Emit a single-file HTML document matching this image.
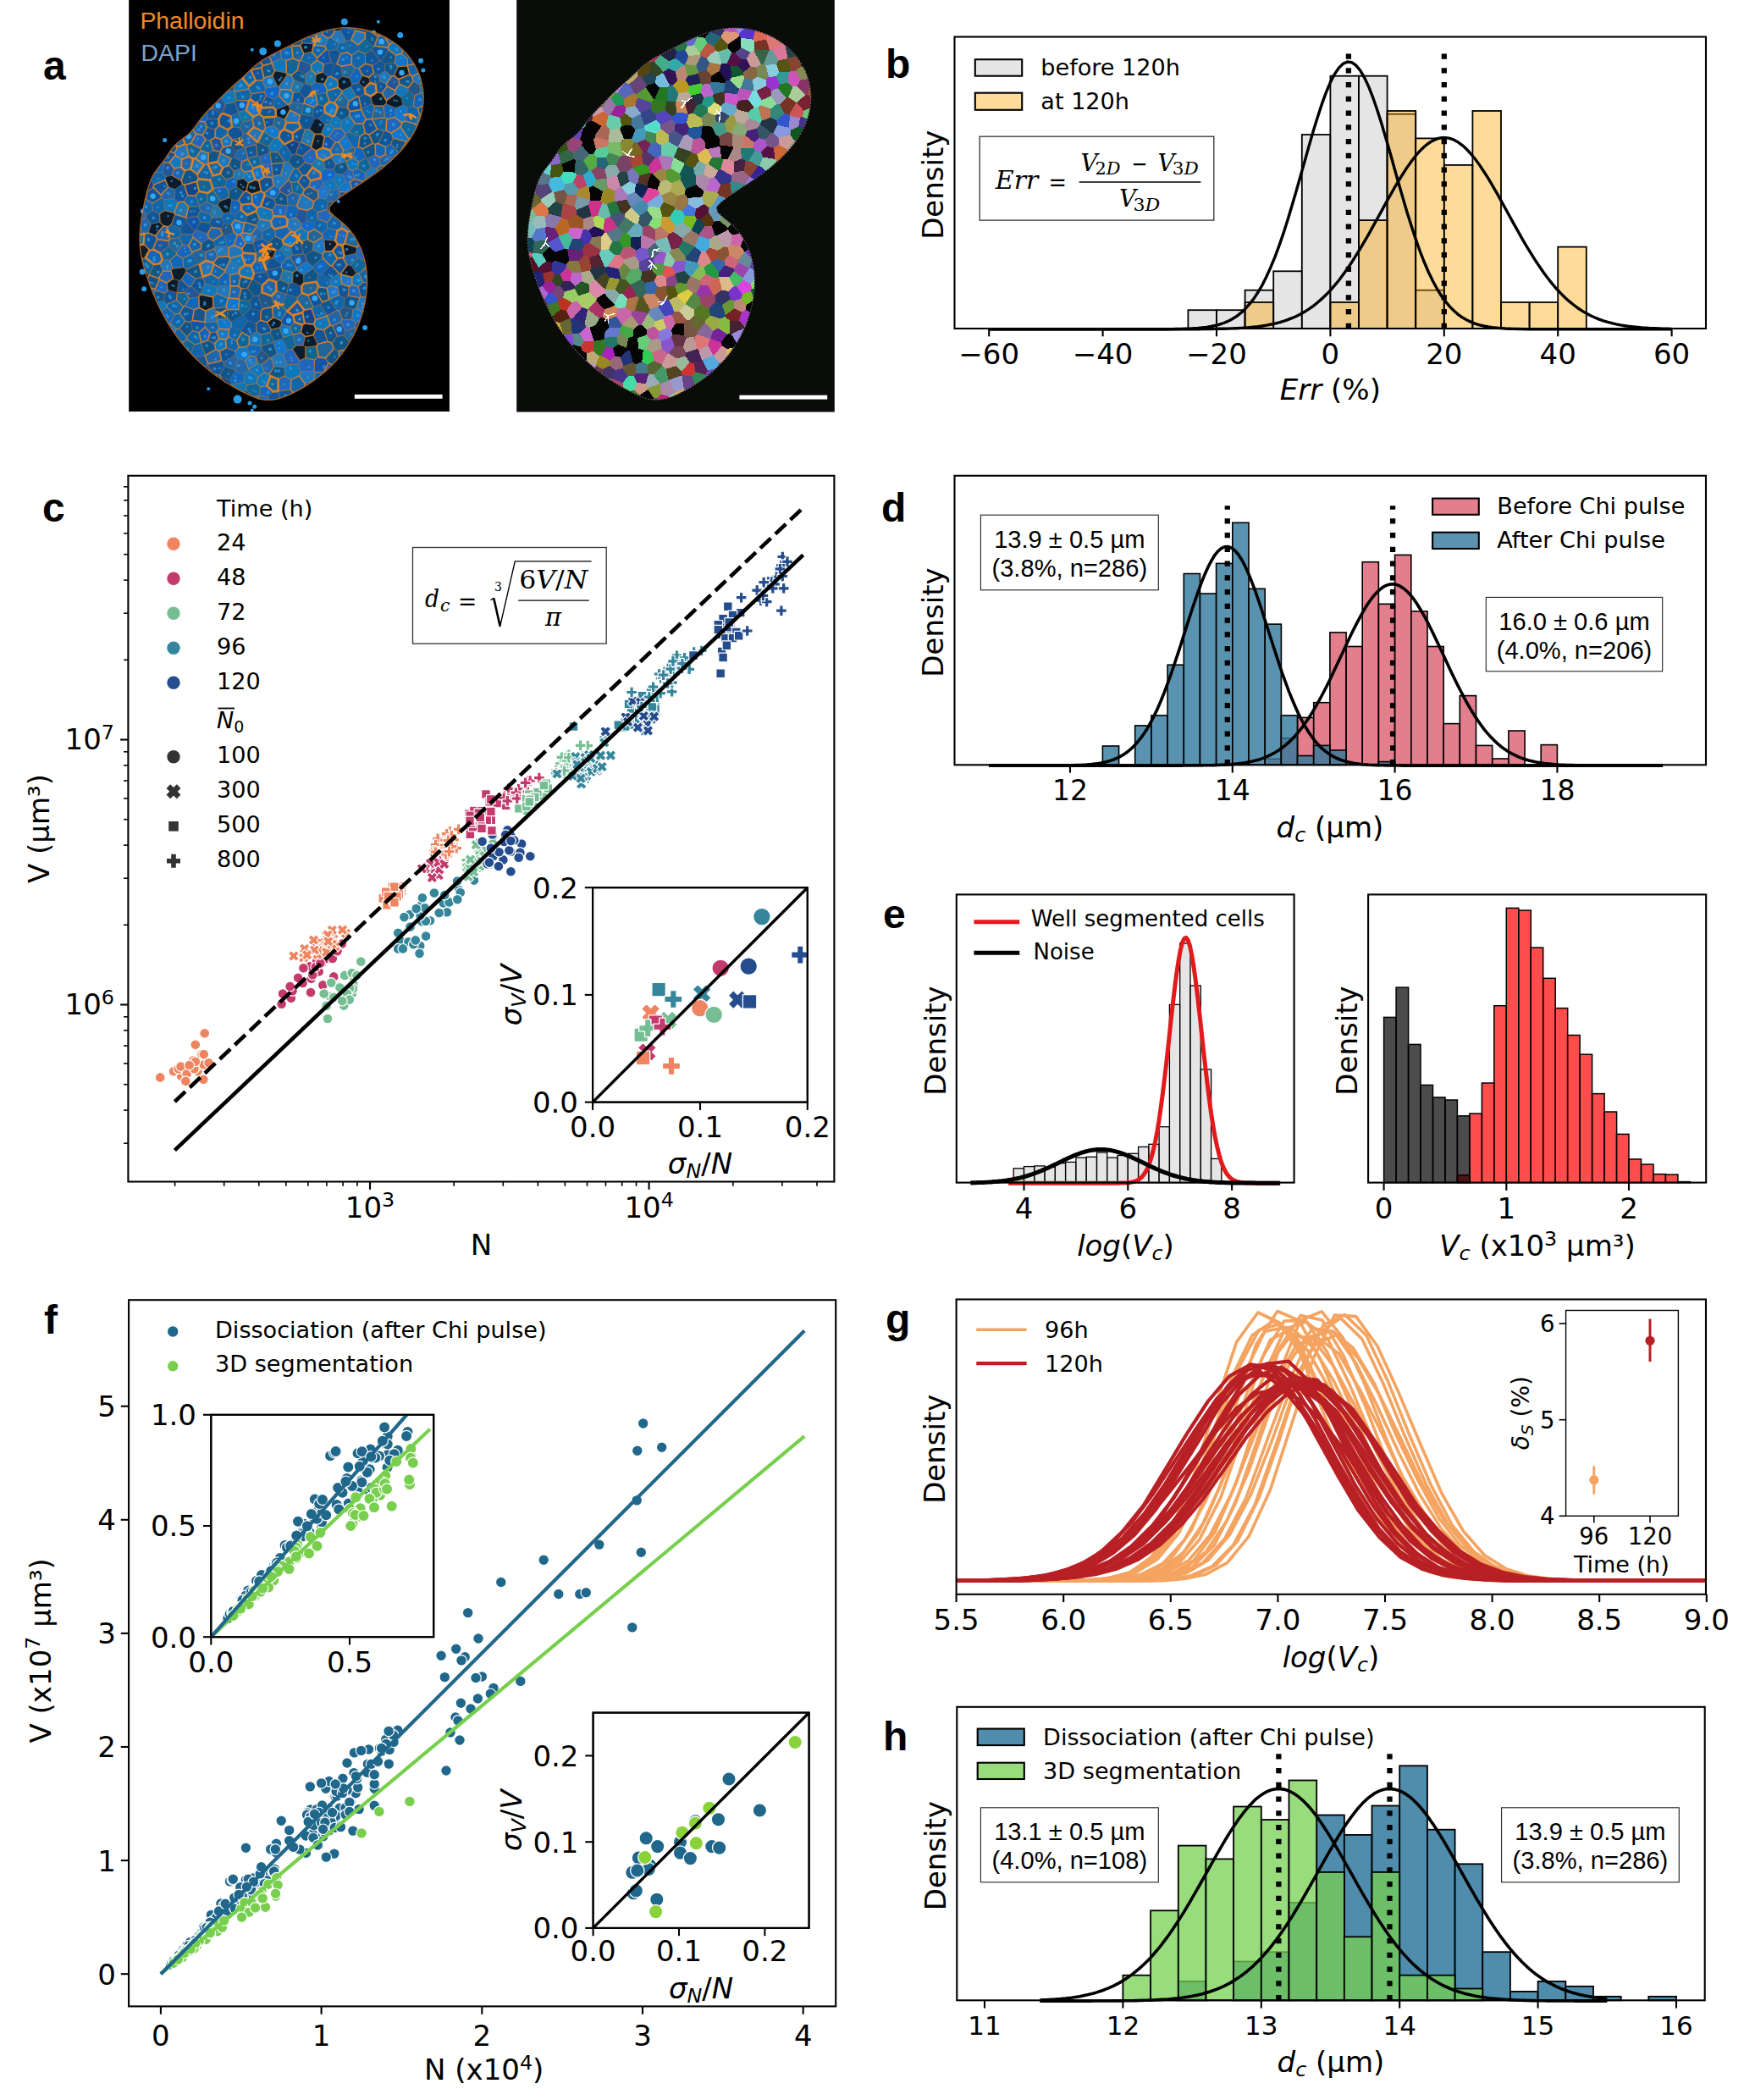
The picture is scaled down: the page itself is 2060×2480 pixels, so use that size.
<!DOCTYPE html><html><head><meta charset="utf-8"><title>Figure</title><style>html,body{margin:0;padding:0;background:#fff}svg{display:block}</style></head><body>
<svg width="2060" height="2480" viewBox="0 0 2060 2480">
<rect width="2060" height="2480" fill="#fff"/>
<g id="pb">
<rect x="1403.4" y="366.2" width="33.6" height="21.8" fill="rgba(211,211,211,0.6)" stroke="#000" stroke-width="1.8"/>
<rect x="1437" y="366.2" width="33.6" height="21.8" fill="rgba(211,211,211,0.6)" stroke="#000" stroke-width="1.8"/>
<rect x="1470.6" y="342.7" width="33.6" height="45.3" fill="rgba(211,211,211,0.6)" stroke="#000" stroke-width="1.8"/>
<rect x="1504.2" y="320.3" width="33.6" height="67.7" fill="rgba(211,211,211,0.6)" stroke="#000" stroke-width="1.8"/>
<rect x="1537.8" y="159" width="33.6" height="229" fill="rgba(211,211,211,0.6)" stroke="#000" stroke-width="1.8"/>
<rect x="1571.4" y="89.7" width="33.6" height="298.3" fill="rgba(211,211,211,0.6)" stroke="#000" stroke-width="1.8"/>
<rect x="1605" y="89.7" width="33.6" height="298.3" fill="rgba(211,211,211,0.6)" stroke="#000" stroke-width="1.8"/>
<rect x="1638.6" y="134.7" width="33.6" height="253.3" fill="rgba(211,211,211,0.6)" stroke="#000" stroke-width="1.8"/>
<rect x="1672.2" y="342.7" width="33.6" height="45.3" fill="rgba(211,211,211,0.6)" stroke="#000" stroke-width="1.8"/>
<rect x="1470.6" y="357" width="33.6" height="31" fill="rgba(255,165,0,0.4)" stroke="#000" stroke-width="1.8"/>
<rect x="1571.4" y="357" width="33.6" height="31" fill="rgba(255,165,0,0.4)" stroke="#000" stroke-width="1.8"/>
<rect x="1605" y="260.1" width="33.6" height="127.9" fill="rgba(255,165,0,0.4)" stroke="#000" stroke-width="1.8"/>
<rect x="1638.6" y="131" width="33.6" height="257" fill="rgba(255,165,0,0.4)" stroke="#000" stroke-width="1.8"/>
<rect x="1672.2" y="163.4" width="33.6" height="224.6" fill="rgba(255,165,0,0.4)" stroke="#000" stroke-width="1.8"/>
<rect x="1705.8" y="194.9" width="33.6" height="193.1" fill="rgba(255,165,0,0.4)" stroke="#000" stroke-width="1.8"/>
<rect x="1739.4" y="131" width="33.6" height="257" fill="rgba(255,165,0,0.4)" stroke="#000" stroke-width="1.8"/>
<rect x="1773" y="357" width="33.6" height="31" fill="rgba(255,165,0,0.4)" stroke="#000" stroke-width="1.8"/>
<rect x="1806.6" y="357" width="33.6" height="31" fill="rgba(255,165,0,0.4)" stroke="#000" stroke-width="1.8"/>
<rect x="1840.2" y="291.6" width="33.6" height="96.4" fill="rgba(255,165,0,0.4)" stroke="#000" stroke-width="1.8"/>
<path d="M1168.2 388.8 L1173.2 388.8 L1178.3 388.8 L1183.3 388.8 L1188.4 388.8 L1193.4 388.8 L1198.4 388.8 L1203.5 388.8 L1208.5 388.8 L1213.6 388.8 L1218.6 388.8 L1223.6 388.8 L1228.7 388.8 L1233.7 388.8 L1238.8 388.8 L1243.8 388.8 L1248.8 388.8 L1253.9 388.8 L1258.9 388.8 L1264 388.8 L1269 388.8 L1274 388.8 L1279.1 388.8 L1284.1 388.8 L1289.2 388.8 L1294.2 388.8 L1299.2 388.8 L1304.3 388.8 L1309.3 388.8 L1314.4 388.8 L1319.4 388.8 L1324.4 388.8 L1329.5 388.8 L1334.5 388.8 L1339.6 388.8 L1344.6 388.8 L1349.6 388.8 L1354.7 388.8 L1359.7 388.8 L1364.8 388.8 L1369.8 388.7 L1374.8 388.7 L1379.9 388.7 L1384.9 388.6 L1390 388.5 L1395 388.4 L1400 388.3 L1405.1 388.1 L1410.1 387.8 L1415.2 387.5 L1420.2 387 L1425.2 386.4 L1430.3 385.5 L1435.3 384.5 L1440.4 383.2 L1445.4 381.5 L1450.4 379.4 L1455.5 376.8 L1460.5 373.6 L1465.6 369.7 L1470.6 365.1 L1475.6 359.5 L1480.7 353.1 L1485.7 345.5 L1490.8 336.9 L1495.8 327 L1500.8 315.9 L1505.9 303.6 L1510.9 290.1 L1516 275.4 L1521 259.7 L1526 243.1 L1531.1 225.8 L1536.1 208 L1541.2 190.1 L1546.2 172.3 L1551.2 154.9 L1556.3 138.4 L1561.3 123.1 L1566.4 109.2 L1571.4 97.3 L1576.4 87.5 L1581.5 80.1 L1586.5 75.2 L1591.6 73.1 L1596.6 73.7 L1601.6 77.1 L1606.7 83.2 L1611.7 91.8 L1616.8 102.6 L1621.8 115.5 L1626.8 130 L1631.9 146 L1636.9 162.9 L1642 180.5 L1647 198.5 L1652 216.3 L1657.1 233.9 L1662.1 250.9 L1667.2 267.1 L1672.2 282.4 L1677.2 296.5 L1682.3 309.5 L1687.3 321.2 L1692.4 331.8 L1697.4 341 L1702.4 349.2 L1707.5 356.2 L1712.5 362.2 L1717.6 367.3 L1722.6 371.6 L1727.6 375.1 L1732.7 378 L1737.7 380.4 L1742.8 382.3 L1747.8 383.8 L1752.8 385 L1757.9 386 L1762.9 386.7 L1768 387.2 L1773 387.6 L1778 388 L1783.1 388.2 L1788.1 388.4 L1793.2 388.5 L1798.2 388.6 L1803.2 388.7 L1808.3 388.7 L1813.3 388.7 L1818.4 388.8 L1823.4 388.8 L1828.4 388.8 L1833.5 388.8 L1838.5 388.8 L1843.6 388.8 L1848.6 388.8 L1853.6 388.8 L1858.7 388.8 L1863.7 388.8 L1868.8 388.8 L1873.8 388.8 L1878.8 388.8 L1883.9 388.8 L1888.9 388.8 L1894 388.8 L1899 388.8 L1904 388.8 L1909.1 388.8 L1914.1 388.8 L1919.2 388.8 L1924.2 388.8 L1929.2 388.8 L1934.3 388.8 L1939.3 388.8 L1944.4 388.8 L1949.4 388.8 L1954.4 388.8 L1959.5 388.8 L1964.5 388.8 L1969.6 388.8 L1974.6 388.8" fill="none" stroke="#000" stroke-width="3.4"/>
<path d="M1168.2 388.8 L1173.2 388.8 L1178.3 388.8 L1183.3 388.8 L1188.4 388.8 L1193.4 388.8 L1198.4 388.8 L1203.5 388.8 L1208.5 388.8 L1213.6 388.8 L1218.6 388.8 L1223.6 388.8 L1228.7 388.8 L1233.7 388.8 L1238.8 388.8 L1243.8 388.8 L1248.8 388.8 L1253.9 388.8 L1258.9 388.8 L1264 388.8 L1269 388.8 L1274 388.8 L1279.1 388.8 L1284.1 388.8 L1289.2 388.8 L1294.2 388.8 L1299.2 388.8 L1304.3 388.8 L1309.3 388.8 L1314.4 388.8 L1319.4 388.8 L1324.4 388.8 L1329.5 388.8 L1334.5 388.8 L1339.6 388.8 L1344.6 388.8 L1349.6 388.8 L1354.7 388.8 L1359.7 388.8 L1364.8 388.8 L1369.8 388.8 L1374.8 388.8 L1379.9 388.8 L1384.9 388.8 L1390 388.8 L1395 388.8 L1400 388.7 L1405.1 388.7 L1410.1 388.7 L1415.2 388.7 L1420.2 388.6 L1425.2 388.6 L1430.3 388.5 L1435.3 388.4 L1440.4 388.3 L1445.4 388.2 L1450.4 388.1 L1455.5 387.9 L1460.5 387.7 L1465.6 387.4 L1470.6 387.1 L1475.6 386.7 L1480.7 386.2 L1485.7 385.7 L1490.8 385 L1495.8 384.2 L1500.8 383.2 L1505.9 382.2 L1510.9 380.9 L1516 379.4 L1521 377.7 L1526 375.7 L1531.1 373.5 L1536.1 371 L1541.2 368.1 L1546.2 364.9 L1551.2 361.3 L1556.3 357.3 L1561.3 352.9 L1566.4 348.1 L1571.4 342.9 L1576.4 337.1 L1581.5 331 L1586.5 324.3 L1591.6 317.3 L1596.6 309.8 L1601.6 301.9 L1606.7 293.7 L1611.7 285.2 L1616.8 276.4 L1621.8 267.4 L1626.8 258.3 L1631.9 249.1 L1636.9 239.9 L1642 230.9 L1647 222 L1652 213.5 L1657.1 205.3 L1662.1 197.6 L1667.2 190.4 L1672.2 184 L1677.2 178.2 L1682.3 173.3 L1687.3 169.2 L1692.4 166.1 L1697.4 163.9 L1702.4 162.7 L1707.5 162.6 L1712.5 163.4 L1717.6 165.2 L1722.6 168.1 L1727.6 171.8 L1732.7 176.5 L1737.7 182 L1742.8 188.2 L1747.8 195.1 L1752.8 202.7 L1757.9 210.7 L1762.9 219.1 L1768 227.9 L1773 236.9 L1778 246 L1783.1 255.2 L1788.1 264.4 L1793.2 273.4 L1798.2 282.3 L1803.2 290.9 L1808.3 299.2 L1813.3 307.2 L1818.4 314.8 L1823.4 322 L1828.4 328.8 L1833.5 335.1 L1838.5 341 L1843.6 346.4 L1848.6 351.4 L1853.6 355.9 L1858.7 360 L1863.7 363.8 L1868.8 367.1 L1873.8 370.1 L1878.8 372.7 L1883.9 375 L1888.9 377.1 L1894 378.9 L1899 380.4 L1904 381.7 L1909.1 382.9 L1914.1 383.9 L1919.2 384.7 L1924.2 385.4 L1929.2 386 L1934.3 386.5 L1939.3 387 L1944.4 387.3 L1949.4 387.6 L1954.4 387.8 L1959.5 388 L1964.5 388.2 L1969.6 388.3 L1974.6 388.4" fill="none" stroke="#000" stroke-width="3.4"/>
<line x1="1592.9" y1="388" x2="1592.9" y2="61" stroke="#000" stroke-width="6.3" stroke-dasharray="6.3 10.45"/>
<line x1="1705.8" y1="388" x2="1705.8" y2="61" stroke="#000" stroke-width="6.3" stroke-dasharray="6.3 10.45"/>
<rect x="1127.5" y="43.5" width="887.5" height="344.5" fill="none" stroke="#000" stroke-width="2.1"/>
<line x1="1168.2" y1="388" x2="1168.2" y2="397.3" stroke="#000" stroke-width="2.1"/>
<text x="1168.2" y="430" font-size="34" text-anchor="middle" font-family="'DejaVu Sans', 'Liberation Sans', sans-serif">−60</text>
<line x1="1302.6" y1="388" x2="1302.6" y2="397.3" stroke="#000" stroke-width="2.1"/>
<text x="1302.6" y="430" font-size="34" text-anchor="middle" font-family="'DejaVu Sans', 'Liberation Sans', sans-serif">−40</text>
<line x1="1437" y1="388" x2="1437" y2="397.3" stroke="#000" stroke-width="2.1"/>
<text x="1437" y="430" font-size="34" text-anchor="middle" font-family="'DejaVu Sans', 'Liberation Sans', sans-serif">−20</text>
<line x1="1571.4" y1="388" x2="1571.4" y2="397.3" stroke="#000" stroke-width="2.1"/>
<text x="1571.4" y="430" font-size="34" text-anchor="middle" font-family="'DejaVu Sans', 'Liberation Sans', sans-serif">0</text>
<line x1="1705.8" y1="388" x2="1705.8" y2="397.3" stroke="#000" stroke-width="2.1"/>
<text x="1705.8" y="430" font-size="34" text-anchor="middle" font-family="'DejaVu Sans', 'Liberation Sans', sans-serif">20</text>
<line x1="1840.2" y1="388" x2="1840.2" y2="397.3" stroke="#000" stroke-width="2.1"/>
<text x="1840.2" y="430" font-size="34" text-anchor="middle" font-family="'DejaVu Sans', 'Liberation Sans', sans-serif">40</text>
<line x1="1974.6" y1="388" x2="1974.6" y2="397.3" stroke="#000" stroke-width="2.1"/>
<text x="1974.6" y="430" font-size="34" text-anchor="middle" font-family="'DejaVu Sans', 'Liberation Sans', sans-serif">60</text>
<text x="1571.4" y="472.1" font-size="34" text-anchor="middle" font-family="'DejaVu Sans', 'Liberation Sans', sans-serif"><tspan font-style="italic">Err</tspan> (%)</text>
<text x="1114.4" y="218.2" font-size="34" text-anchor="middle" font-family="'DejaVu Sans', 'Liberation Sans', sans-serif" transform="rotate(-90 1114.4 218.2)">Density</text>
<rect x="1151.8" y="70.2" width="55.4" height="19.5" fill="rgba(211,211,211,0.6)" stroke="#000" stroke-width="2.1"/>
<rect x="1151.8" y="109.7" width="55.4" height="20.1" fill="rgba(255,165,0,0.4)" stroke="#000" stroke-width="2.1"/>
<text x="1229.3" y="88.8" font-size="27.1" text-anchor="start" font-family="'DejaVu Sans', 'Liberation Sans', sans-serif">before 120h</text>
<text x="1229.3" y="129.2" font-size="27.1" text-anchor="start" font-family="'DejaVu Sans', 'Liberation Sans', sans-serif">at 120h</text>
<rect x="1157.2" y="161.2" width="276.6" height="98.9" fill="#fff" stroke="#333" stroke-width="1.3"/>
<text x="1175.8" y="223.1" font-size="29.5" text-anchor="start" font-family="'DejaVu Serif', 'Liberation Serif', serif" font-style="italic" textLength="50.7" lengthAdjust="spacingAndGlyphs">Err</text>
<text x="1238.6" y="224.5" font-size="30" text-anchor="start" font-family="'DejaVu Serif', 'Liberation Serif', serif" textLength="21.5" lengthAdjust="spacingAndGlyphs">=</text>
<line x1="1274.7" y1="215" x2="1418.4" y2="215" stroke="#000" stroke-width="1.4"/>
<text x="1276.4" y="201.6" font-size="28.5" text-anchor="start" font-family="'DejaVu Serif', 'Liberation Serif', serif" font-style="italic" textLength="20" lengthAdjust="spacingAndGlyphs">V</text>
<text x="1293.6" y="205.9" font-size="19.5" text-anchor="start" font-family="'DejaVu Serif', 'Liberation Serif', serif" textLength="30" lengthAdjust="spacingAndGlyphs">2<tspan font-style="italic">D</tspan></text>
<text x="1336.6" y="202.5" font-size="28" text-anchor="start" font-family="'DejaVu Serif', 'Liberation Serif', serif" textLength="19" lengthAdjust="spacingAndGlyphs">−</text>
<text x="1367.6" y="201.6" font-size="28.5" text-anchor="start" font-family="'DejaVu Serif', 'Liberation Serif', serif" font-style="italic" textLength="20" lengthAdjust="spacingAndGlyphs">V</text>
<text x="1384.8" y="205.9" font-size="19.5" text-anchor="start" font-family="'DejaVu Serif', 'Liberation Serif', serif" textLength="31" lengthAdjust="spacingAndGlyphs">3<tspan font-style="italic">D</tspan></text>
<text x="1322" y="244.3" font-size="28.5" text-anchor="start" font-family="'DejaVu Serif', 'Liberation Serif', serif" font-style="italic" textLength="20" lengthAdjust="spacingAndGlyphs">V</text>
<text x="1338.4" y="248.9" font-size="19.5" text-anchor="start" font-family="'DejaVu Serif', 'Liberation Serif', serif" textLength="31.8" lengthAdjust="spacingAndGlyphs">3<tspan font-style="italic">D</tspan></text>
<text x="1046" y="91.7" font-size="48" text-anchor="start" font-family="'Liberation Sans', 'DejaVu Sans', sans-serif" font-weight="bold">b</text>
</g>
<g id="pd">
<rect x="1494.2" y="896.2" width="19.2" height="7.1" fill="rgba(220,94,112,0.8)" stroke="#000" stroke-width="1.6"/>
<rect x="1513.3" y="871.8" width="19.2" height="31.5" fill="rgba(220,94,112,0.8)" stroke="#000" stroke-width="1.6"/>
<rect x="1532.5" y="847.4" width="19.2" height="55.9" fill="rgba(220,94,112,0.8)" stroke="#000" stroke-width="1.6"/>
<rect x="1551.7" y="829.7" width="19.2" height="73.6" fill="rgba(220,94,112,0.8)" stroke="#000" stroke-width="1.6"/>
<rect x="1570.9" y="746.9" width="19.2" height="156.4" fill="rgba(220,94,112,0.8)" stroke="#000" stroke-width="1.6"/>
<rect x="1590.1" y="763.5" width="19.2" height="139.8" fill="rgba(220,94,112,0.8)" stroke="#000" stroke-width="1.6"/>
<rect x="1609.2" y="663.7" width="19.2" height="239.6" fill="rgba(220,94,112,0.8)" stroke="#000" stroke-width="1.6"/>
<rect x="1628.4" y="713.3" width="19.2" height="190" fill="rgba(220,94,112,0.8)" stroke="#000" stroke-width="1.6"/>
<rect x="1647.6" y="655.4" width="19.2" height="247.9" fill="rgba(220,94,112,0.8)" stroke="#000" stroke-width="1.6"/>
<rect x="1666.8" y="721.9" width="19.2" height="181.4" fill="rgba(220,94,112,0.8)" stroke="#000" stroke-width="1.6"/>
<rect x="1686" y="763.5" width="19.2" height="139.8" fill="rgba(220,94,112,0.8)" stroke="#000" stroke-width="1.6"/>
<rect x="1705.1" y="854.6" width="19.2" height="48.7" fill="rgba(220,94,112,0.8)" stroke="#000" stroke-width="1.6"/>
<rect x="1724.3" y="821.6" width="19.2" height="81.7" fill="rgba(220,94,112,0.8)" stroke="#000" stroke-width="1.6"/>
<rect x="1743.5" y="880.4" width="19.2" height="22.9" fill="rgba(220,94,112,0.8)" stroke="#000" stroke-width="1.6"/>
<rect x="1762.7" y="896" width="19.2" height="7.3" fill="rgba(220,94,112,0.8)" stroke="#000" stroke-width="1.6"/>
<rect x="1781.9" y="863" width="19.2" height="40.3" fill="rgba(220,94,112,0.8)" stroke="#000" stroke-width="1.6"/>
<rect x="1820.2" y="879.6" width="19.2" height="23.7" fill="rgba(220,94,112,0.8)" stroke="#000" stroke-width="1.6"/>
<rect x="1302.4" y="881" width="19.2" height="22.3" fill="rgba(49,120,156,0.8)" stroke="#000" stroke-width="1.6"/>
<rect x="1340.7" y="856.9" width="19.2" height="46.4" fill="rgba(49,120,156,0.8)" stroke="#000" stroke-width="1.6"/>
<rect x="1359.9" y="844.9" width="19.2" height="58.4" fill="rgba(49,120,156,0.8)" stroke="#000" stroke-width="1.6"/>
<rect x="1379.1" y="785.2" width="19.2" height="118.1" fill="rgba(49,120,156,0.8)" stroke="#000" stroke-width="1.6"/>
<rect x="1398.3" y="677.5" width="19.2" height="225.8" fill="rgba(49,120,156,0.8)" stroke="#000" stroke-width="1.6"/>
<rect x="1417.4" y="701" width="19.2" height="202.3" fill="rgba(49,120,156,0.8)" stroke="#000" stroke-width="1.6"/>
<rect x="1436.6" y="665.4" width="19.2" height="237.9" fill="rgba(49,120,156,0.8)" stroke="#000" stroke-width="1.6"/>
<rect x="1455.8" y="617.3" width="19.2" height="286" fill="rgba(49,120,156,0.8)" stroke="#000" stroke-width="1.6"/>
<rect x="1475" y="695.3" width="19.2" height="208" fill="rgba(49,120,156,0.8)" stroke="#000" stroke-width="1.6"/>
<rect x="1494.2" y="737.1" width="19.2" height="166.2" fill="rgba(49,120,156,0.8)" stroke="#000" stroke-width="1.6"/>
<rect x="1513.3" y="844.9" width="19.2" height="58.4" fill="rgba(49,120,156,0.8)" stroke="#000" stroke-width="1.6"/>
<rect x="1532.5" y="892.5" width="19.2" height="10.8" fill="rgba(49,120,156,0.8)" stroke="#000" stroke-width="1.6"/>
<rect x="1551.7" y="880.4" width="19.2" height="22.9" fill="rgba(49,120,156,0.8)" stroke="#000" stroke-width="1.6"/>
<rect x="1570.9" y="886" width="19.2" height="17.3" fill="rgba(49,120,156,0.8)" stroke="#000" stroke-width="1.6"/>
<rect x="1628.4" y="899.6" width="19.2" height="3.7" fill="rgba(49,120,156,0.8)" stroke="#000" stroke-width="1.6"/>
<path d="M1168.1 904.1 L1172.1 904.1 L1176.1 904.1 L1180 904.1 L1184 904.1 L1188 904.1 L1192 904.1 L1196 904.1 L1199.9 904.1 L1203.9 904.1 L1207.9 904.1 L1211.9 904.1 L1215.9 904.1 L1219.8 904.1 L1223.8 904.1 L1227.8 904.1 L1231.8 904.1 L1235.8 904.1 L1239.7 904.1 L1243.7 904 L1247.7 904 L1251.7 904 L1255.7 904 L1259.6 903.9 L1263.6 903.8 L1267.6 903.8 L1271.6 903.6 L1275.6 903.5 L1279.5 903.3 L1283.5 903.1 L1287.5 902.7 L1291.5 902.3 L1295.5 901.9 L1299.4 901.2 L1303.4 900.5 L1307.4 899.5 L1311.4 898.4 L1315.4 897 L1319.3 895.3 L1323.3 893.3 L1327.3 891 L1331.3 888.2 L1335.3 885 L1339.2 881.2 L1343.2 876.9 L1347.2 872 L1351.2 866.5 L1355.2 860.2 L1359.1 853.3 L1363.1 845.6 L1367.1 837.2 L1371.1 828 L1375.1 818.2 L1379 807.7 L1383 796.6 L1387 784.9 L1391 772.9 L1395 760.6 L1398.9 748.1 L1402.9 735.6 L1406.9 723.2 L1410.9 711.2 L1414.9 699.7 L1418.8 688.9 L1422.8 678.9 L1426.8 670 L1430.8 662.3 L1434.7 655.9 L1438.7 650.9 L1442.7 647.5 L1446.7 645.7 L1450.7 645.5 L1454.6 647 L1458.6 650.1 L1462.6 654.7 L1466.6 660.9 L1470.6 668.3 L1474.5 677 L1478.5 686.8 L1482.5 697.4 L1486.5 708.8 L1490.5 720.8 L1494.4 733 L1498.4 745.5 L1502.4 758 L1506.4 770.4 L1510.4 782.5 L1514.3 794.2 L1518.3 805.4 L1522.3 816.1 L1526.3 826 L1530.3 835.3 L1534.2 843.9 L1538.2 851.7 L1542.2 858.8 L1546.2 865.2 L1550.2 870.9 L1554.1 876 L1558.1 880.4 L1562.1 884.3 L1566.1 887.6 L1570.1 890.5 L1574 892.9 L1578 895 L1582 896.7 L1586 898.1 L1590 899.3 L1593.9 900.3 L1597.9 901.1 L1601.9 901.7 L1605.9 902.3 L1609.9 902.7 L1613.8 903 L1617.8 903.3 L1621.8 903.5 L1625.8 903.6 L1629.8 903.7 L1633.7 903.8 L1637.7 903.9 L1641.7 904 L1645.7 904 L1649.7 904 L1653.6 904 L1657.6 904.1 L1661.6 904.1 L1665.6 904.1 L1669.6 904.1 L1673.5 904.1 L1677.5 904.1 L1681.5 904.1 L1685.5 904.1 L1689.5 904.1 L1693.4 904.1 L1697.4 904.1 L1701.4 904.1 L1705.4 904.1 L1709.4 904.1 L1713.3 904.1 L1717.3 904.1 L1721.3 904.1 L1725.3 904.1 L1729.3 904.1 L1733.2 904.1 L1737.2 904.1 L1741.2 904.1 L1745.2 904.1 L1749.2 904.1 L1753.1 904.1 L1757.1 904.1 L1761.1 904.1 L1765.1 904.1 L1769.1 904.1 L1773 904.1 L1777 904.1 L1781 904.1 L1785 904.1 L1789 904.1 L1792.9 904.1 L1796.9 904.1 L1800.9 904.1 L1804.9 904.1 L1808.9 904.1 L1812.8 904.1 L1816.8 904.1 L1820.8 904.1 L1824.8 904.1 L1828.8 904.1 L1832.7 904.1 L1836.7 904.1 L1840.7 904.1 L1844.7 904.1 L1848.7 904.1 L1852.6 904.1 L1856.6 904.1 L1860.6 904.1 L1864.6 904.1 L1868.6 904.1 L1872.5 904.1 L1876.5 904.1 L1880.5 904.1 L1884.5 904.1 L1888.5 904.1 L1892.4 904.1 L1896.4 904.1 L1900.4 904.1 L1904.4 904.1 L1908.4 904.1 L1912.3 904.1 L1916.3 904.1 L1920.3 904.1 L1924.3 904.1 L1928.3 904.1 L1932.2 904.1 L1936.2 904.1 L1940.2 904.1 L1944.2 904.1 L1948.2 904.1 L1952.1 904.1 L1956.1 904.1 L1960.1 904.1 L1964.1 904.1" fill="none" stroke="#000" stroke-width="3.6"/>
<path d="M1168.1 904.1 L1172.1 904.1 L1176.1 904.1 L1180 904.1 L1184 904.1 L1188 904.1 L1192 904.1 L1196 904.1 L1199.9 904.1 L1203.9 904.1 L1207.9 904.1 L1211.9 904.1 L1215.9 904.1 L1219.8 904.1 L1223.8 904.1 L1227.8 904.1 L1231.8 904.1 L1235.8 904.1 L1239.7 904.1 L1243.7 904.1 L1247.7 904.1 L1251.7 904.1 L1255.7 904.1 L1259.6 904.1 L1263.6 904.1 L1267.6 904.1 L1271.6 904.1 L1275.6 904.1 L1279.5 904.1 L1283.5 904.1 L1287.5 904.1 L1291.5 904.1 L1295.5 904.1 L1299.4 904.1 L1303.4 904.1 L1307.4 904.1 L1311.4 904.1 L1315.4 904.1 L1319.3 904.1 L1323.3 904.1 L1327.3 904.1 L1331.3 904.1 L1335.3 904.1 L1339.2 904.1 L1343.2 904.1 L1347.2 904.1 L1351.2 904.1 L1355.2 904.1 L1359.1 904.1 L1363.1 904.1 L1367.1 904.1 L1371.1 904.1 L1375.1 904.1 L1379 904.1 L1383 904.1 L1387 904.1 L1391 904.1 L1395 904.1 L1398.9 904 L1402.9 904 L1406.9 904 L1410.9 904 L1414.9 903.9 L1418.8 903.9 L1422.8 903.8 L1426.8 903.8 L1430.8 903.7 L1434.7 903.6 L1438.7 903.5 L1442.7 903.3 L1446.7 903.1 L1450.7 902.9 L1454.6 902.6 L1458.6 902.2 L1462.6 901.8 L1466.6 901.3 L1470.6 900.7 L1474.5 900 L1478.5 899.2 L1482.5 898.3 L1486.5 897.2 L1490.5 895.9 L1494.4 894.4 L1498.4 892.7 L1502.4 890.7 L1506.4 888.5 L1510.4 886 L1514.3 883.2 L1518.3 880.1 L1522.3 876.6 L1526.3 872.7 L1530.3 868.5 L1534.2 863.8 L1538.2 858.8 L1542.2 853.3 L1546.2 847.4 L1550.2 841.1 L1554.1 834.4 L1558.1 827.4 L1562.1 820 L1566.1 812.2 L1570.1 804.2 L1574 796 L1578 787.6 L1582 779.1 L1586 770.5 L1590 762 L1593.9 753.6 L1597.9 745.3 L1601.9 737.4 L1605.9 729.8 L1609.9 722.7 L1613.8 716 L1617.8 710 L1621.8 704.7 L1625.8 700.1 L1629.8 696.3 L1633.7 693.3 L1637.7 691.2 L1641.7 690.1 L1645.7 689.8 L1649.7 690.5 L1653.6 692.1 L1657.6 694.6 L1661.6 698 L1665.6 702.2 L1669.6 707.2 L1673.5 712.8 L1677.5 719.2 L1681.5 726 L1685.5 733.4 L1689.5 741.2 L1693.4 749.3 L1697.4 757.6 L1701.4 766.1 L1705.4 774.6 L1709.4 783.2 L1713.3 791.7 L1717.3 800 L1721.3 808.1 L1725.3 816 L1729.3 823.6 L1733.2 830.8 L1737.2 837.7 L1741.2 844.2 L1745.2 850.3 L1749.2 856 L1753.1 861.3 L1757.1 866.1 L1761.1 870.6 L1765.1 874.6 L1769.1 878.3 L1773 881.6 L1777 884.6 L1781 887.3 L1785 889.6 L1789 891.7 L1792.9 893.5 L1796.9 895.1 L1800.9 896.5 L1804.9 897.7 L1808.9 898.7 L1812.8 899.6 L1816.8 900.4 L1820.8 901 L1824.8 901.6 L1828.8 902 L1832.7 902.4 L1836.7 902.7 L1840.7 903 L1844.7 903.2 L1848.7 903.4 L1852.6 903.5 L1856.6 903.6 L1860.6 903.7 L1864.6 903.8 L1868.6 903.9 L1872.5 903.9 L1876.5 904 L1880.5 904 L1884.5 904 L1888.5 904 L1892.4 904.1 L1896.4 904.1 L1900.4 904.1 L1904.4 904.1 L1908.4 904.1 L1912.3 904.1 L1916.3 904.1 L1920.3 904.1 L1924.3 904.1 L1928.3 904.1 L1932.2 904.1 L1936.2 904.1 L1940.2 904.1 L1944.2 904.1 L1948.2 904.1 L1952.1 904.1 L1956.1 904.1 L1960.1 904.1 L1964.1 904.1" fill="none" stroke="#000" stroke-width="3.6"/>
<line x1="1449.8" y1="903.3" x2="1449.8" y2="597.3" stroke="#000" stroke-width="6.3" stroke-dasharray="6.3 10.45"/>
<line x1="1645.1" y1="903.3" x2="1645.1" y2="597.3" stroke="#000" stroke-width="6.3" stroke-dasharray="6.3 10.45"/>
<rect x="1127.5" y="561.8" width="887.5" height="341.5" fill="none" stroke="#000" stroke-width="2.1"/>
<line x1="1264" y1="903.3" x2="1264" y2="912.6" stroke="#000" stroke-width="2.1"/>
<text x="1264" y="945.3" font-size="33" text-anchor="middle" font-family="'DejaVu Sans', 'Liberation Sans', sans-serif">12</text>
<line x1="1455.8" y1="903.3" x2="1455.8" y2="912.6" stroke="#000" stroke-width="2.1"/>
<text x="1455.8" y="945.3" font-size="33" text-anchor="middle" font-family="'DejaVu Sans', 'Liberation Sans', sans-serif">14</text>
<line x1="1647.6" y1="903.3" x2="1647.6" y2="912.6" stroke="#000" stroke-width="2.1"/>
<text x="1647.6" y="945.3" font-size="33" text-anchor="middle" font-family="'DejaVu Sans', 'Liberation Sans', sans-serif">16</text>
<line x1="1839.4" y1="903.3" x2="1839.4" y2="912.6" stroke="#000" stroke-width="2.1"/>
<text x="1839.4" y="945.3" font-size="33" text-anchor="middle" font-family="'DejaVu Sans', 'Liberation Sans', sans-serif">18</text>
<text x="1571" y="989.4" font-size="34" text-anchor="middle" font-family="'DejaVu Sans', 'Liberation Sans', sans-serif"><tspan font-style="italic">d</tspan><tspan font-style="italic" font-size="23.8" dy="5">c</tspan><tspan dy="-5"> (µm)</tspan></text>
<text x="1114.4" y="735" font-size="34" text-anchor="middle" font-family="'DejaVu Sans', 'Liberation Sans', sans-serif" transform="rotate(-90 1114.4 735)">Density</text>
<rect x="1692.1" y="588.6" width="54.7" height="19.2" fill="rgba(220,94,112,0.8)" stroke="#000" stroke-width="2.1"/>
<rect x="1692.1" y="628.7" width="54.7" height="19.3" fill="rgba(49,120,156,0.8)" stroke="#000" stroke-width="2.1"/>
<text x="1768.3" y="606.7" font-size="27.1" text-anchor="start" font-family="'DejaVu Sans', 'Liberation Sans', sans-serif">Before Chi pulse</text>
<text x="1768.3" y="646.9" font-size="27.1" text-anchor="start" font-family="'DejaVu Sans', 'Liberation Sans', sans-serif">After Chi pulse</text>
<rect x="1158.4" y="608.2" width="209.9" height="88.6" fill="#fff" stroke="#222" stroke-width="1.1"/>
<text x="1263.3" y="646.7" font-size="29.1" text-anchor="middle" font-family="'Liberation Sans', 'DejaVu Sans', sans-serif">13.9 ± 0.5 µm</text>
<text x="1263.3" y="680.5" font-size="29.1" text-anchor="middle" font-family="'Liberation Sans', 'DejaVu Sans', sans-serif">(3.8%, n=286)</text>
<rect x="1755.3" y="705.4" width="208.4" height="87.4" fill="#fff" stroke="#222" stroke-width="1.1"/>
<text x="1859.5" y="743.9" font-size="29.1" text-anchor="middle" font-family="'Liberation Sans', 'DejaVu Sans', sans-serif">16.0 ± 0.6 µm</text>
<text x="1859.5" y="777.7" font-size="29.1" text-anchor="middle" font-family="'Liberation Sans', 'DejaVu Sans', sans-serif">(4.0%, n=206)</text>
<text x="1041" y="616" font-size="48" text-anchor="start" font-family="'Liberation Sans', 'DejaVu Sans', sans-serif" font-weight="bold">d</text>
</g>
<g id="ph">
<rect x="1391.8" y="2339.9" width="32.7" height="22.4" fill="rgba(49,120,156,0.85)" stroke="#000" stroke-width="1.8"/>
<rect x="1457.1" y="2316.5" width="32.7" height="45.8" fill="rgba(49,120,156,0.85)" stroke="#000" stroke-width="1.8"/>
<rect x="1489.8" y="2305.2" width="32.7" height="57.1" fill="rgba(49,120,156,0.85)" stroke="#000" stroke-width="1.8"/>
<rect x="1522.5" y="2247" width="32.7" height="115.3" fill="rgba(49,120,156,0.85)" stroke="#000" stroke-width="1.8"/>
<rect x="1555.2" y="2143.5" width="32.7" height="218.8" fill="rgba(49,120,156,0.85)" stroke="#000" stroke-width="1.8"/>
<rect x="1587.8" y="2166.9" width="32.7" height="195.4" fill="rgba(49,120,156,0.85)" stroke="#000" stroke-width="1.8"/>
<rect x="1620.5" y="2132.5" width="32.7" height="229.8" fill="rgba(49,120,156,0.85)" stroke="#000" stroke-width="1.8"/>
<rect x="1653.2" y="2085.3" width="32.7" height="277" fill="rgba(49,120,156,0.85)" stroke="#000" stroke-width="1.8"/>
<rect x="1685.9" y="2160.7" width="32.7" height="201.6" fill="rgba(49,120,156,0.85)" stroke="#000" stroke-width="1.8"/>
<rect x="1718.6" y="2201.3" width="32.7" height="161" fill="rgba(49,120,156,0.85)" stroke="#000" stroke-width="1.8"/>
<rect x="1751.2" y="2305.2" width="32.7" height="57.1" fill="rgba(49,120,156,0.85)" stroke="#000" stroke-width="1.8"/>
<rect x="1783.9" y="2351.9" width="32.7" height="10.4" fill="rgba(49,120,156,0.85)" stroke="#000" stroke-width="1.8"/>
<rect x="1816.6" y="2339.9" width="32.7" height="22.4" fill="rgba(49,120,156,0.85)" stroke="#000" stroke-width="1.8"/>
<rect x="1849.3" y="2345.8" width="32.7" height="16.5" fill="rgba(49,120,156,0.85)" stroke="#000" stroke-width="1.8"/>
<rect x="1882" y="2357.8" width="32.7" height="4.5" fill="rgba(49,120,156,0.85)" stroke="#000" stroke-width="1.8"/>
<rect x="1947.3" y="2357.8" width="32.7" height="4.5" fill="rgba(49,120,156,0.85)" stroke="#000" stroke-width="1.8"/>
<rect x="1326.4" y="2332.7" width="32.7" height="29.6" fill="rgba(118,208,82,0.75)" stroke="#000" stroke-width="1.8"/>
<rect x="1359.1" y="2256.3" width="32.7" height="106" fill="rgba(118,208,82,0.75)" stroke="#000" stroke-width="1.8"/>
<rect x="1391.8" y="2179.6" width="32.7" height="182.7" fill="rgba(118,208,82,0.75)" stroke="#000" stroke-width="1.8"/>
<rect x="1424.4" y="2195.4" width="32.7" height="166.9" fill="rgba(118,208,82,0.75)" stroke="#000" stroke-width="1.8"/>
<rect x="1457.1" y="2133.5" width="32.7" height="228.8" fill="rgba(118,208,82,0.75)" stroke="#000" stroke-width="1.8"/>
<rect x="1489.8" y="2149" width="32.7" height="213.3" fill="rgba(118,208,82,0.75)" stroke="#000" stroke-width="1.8"/>
<rect x="1522.5" y="2102.5" width="32.7" height="259.8" fill="rgba(118,208,82,0.75)" stroke="#000" stroke-width="1.8"/>
<rect x="1555.2" y="2210.9" width="32.7" height="151.4" fill="rgba(118,208,82,0.75)" stroke="#000" stroke-width="1.8"/>
<rect x="1587.8" y="2287.3" width="32.7" height="75" fill="rgba(118,208,82,0.75)" stroke="#000" stroke-width="1.8"/>
<rect x="1620.5" y="2210.9" width="32.7" height="151.4" fill="rgba(118,208,82,0.75)" stroke="#000" stroke-width="1.8"/>
<rect x="1653.2" y="2332.7" width="32.7" height="29.6" fill="rgba(118,208,82,0.75)" stroke="#000" stroke-width="1.8"/>
<rect x="1685.9" y="2332.7" width="32.7" height="29.6" fill="rgba(118,208,82,0.75)" stroke="#000" stroke-width="1.8"/>
<rect x="1718.6" y="2348.5" width="32.7" height="13.8" fill="rgba(118,208,82,0.75)" stroke="#000" stroke-width="1.8"/>
<path d="M1228.4 2362.1 L1231.7 2361.9 L1235.1 2361.8 L1238.4 2361.6 L1241.8 2361.4 L1245.1 2361.2 L1248.5 2360.9 L1251.8 2360.7 L1255.2 2360.3 L1258.5 2360 L1261.9 2359.6 L1265.2 2359.2 L1268.6 2358.7 L1271.9 2358.2 L1275.3 2357.7 L1278.6 2357 L1282 2356.3 L1285.3 2355.6 L1288.7 2354.8 L1292 2353.9 L1295.4 2352.9 L1298.7 2351.8 L1302.1 2350.7 L1305.4 2349.4 L1308.8 2348.1 L1312.1 2346.6 L1315.5 2345.1 L1318.8 2343.4 L1322.2 2341.6 L1325.5 2339.6 L1328.9 2337.5 L1332.2 2335.3 L1335.6 2332.9 L1338.9 2330.4 L1342.2 2327.7 L1345.6 2324.9 L1348.9 2321.9 L1352.3 2318.7 L1355.6 2315.4 L1359 2311.9 L1362.3 2308.2 L1365.7 2304.3 L1369 2300.3 L1372.4 2296.1 L1375.7 2291.7 L1379.1 2287.2 L1382.4 2282.4 L1385.8 2277.6 L1389.1 2272.6 L1392.5 2267.4 L1395.8 2262.1 L1399.2 2256.7 L1402.5 2251.1 L1405.9 2245.5 L1409.2 2239.7 L1412.6 2233.9 L1415.9 2228 L1419.3 2222 L1422.6 2216.1 L1426 2210.1 L1429.3 2204.1 L1432.7 2198.1 L1436 2192.2 L1439.4 2186.3 L1442.7 2180.6 L1446.1 2174.9 L1449.4 2169.3 L1452.8 2163.9 L1456.1 2158.7 L1459.5 2153.7 L1462.8 2148.8 L1466.2 2144.2 L1469.5 2139.9 L1472.9 2135.8 L1476.2 2131.9 L1479.6 2128.4 L1482.9 2125.2 L1486.3 2122.4 L1489.6 2119.9 L1493 2117.7 L1496.3 2115.9 L1499.7 2114.5 L1503 2113.4 L1506.4 2112.8 L1509.7 2112.5 L1513.1 2112.6 L1516.4 2113.1 L1519.8 2114 L1523.1 2115.3 L1526.5 2117 L1529.8 2119 L1533.2 2121.4 L1536.5 2124.1 L1539.9 2127.2 L1543.2 2130.5 L1546.6 2134.2 L1549.9 2138.2 L1553.3 2142.5 L1556.6 2147 L1560 2151.7 L1563.3 2156.7 L1566.7 2161.9 L1570 2167.2 L1573.4 2172.7 L1576.7 2178.3 L1580.1 2184.1 L1583.4 2189.9 L1586.8 2195.8 L1590.1 2201.8 L1593.5 2207.7 L1596.8 2213.7 L1600.2 2219.7 L1603.5 2225.7 L1606.9 2231.6 L1610.2 2237.4 L1613.6 2243.2 L1616.9 2248.9 L1620.3 2254.5 L1623.6 2260 L1627 2265.3 L1630.3 2270.6 L1633.7 2275.6 L1637 2280.6 L1640.4 2285.3 L1643.7 2289.9 L1647.1 2294.4 L1650.4 2298.7 L1653.8 2302.8 L1657.1 2306.7 L1660.5 2310.4 L1663.8 2314 L1667.2 2317.4 L1670.5 2320.7 L1673.9 2323.7 L1677.2 2326.6 L1680.6 2329.4 L1683.9 2332 L1687.3 2334.4 L1690.6 2336.7 L1694 2338.8 L1697.3 2340.8 L1700.7 2342.7 L1704 2344.4 L1707.4 2346 L1710.7 2347.5 L1714.1 2348.9 L1717.4 2350.2 L1720.8 2351.4 L1724.1 2352.5 L1727.5 2353.5 L1730.8 2354.4 L1734.2 2355.3 L1737.5 2356.1 L1740.9 2356.8 L1744.2 2357.4 L1747.6 2358 L1750.9 2358.5 L1754.3 2359 L1757.6 2359.5 L1761 2359.9 L1764.3 2360.2 L1767.7 2360.5 L1771 2360.8 L1774.4 2361.1 L1777.7 2361.3 L1781.1 2361.5 L1784.4 2361.7 L1787.8 2361.9 L1791.1 2362 L1794.5 2362.2 L1797.8 2362.3 L1801.2 2362.4 L1804.5 2362.5 L1807.9 2362.6 L1811.2 2362.6 L1814.6 2362.7 L1817.9 2362.7 L1821.3 2362.8 L1824.6 2362.8 L1828 2362.9 L1831.3 2362.9 L1834.7 2362.9 L1838 2363 L1841.4 2363 L1844.7 2363 L1848.1 2363 L1851.4 2363 L1854.8 2363 L1858.1 2363 L1861.5 2363.1 L1864.8 2363.1 L1868.2 2363.1 L1871.5 2363.1 L1874.9 2363.1 L1878.2 2363.1 L1881.6 2363.1 L1884.9 2363.1 L1888.3 2363.1 L1891.6 2363.1 L1895 2363.1 L1898.3 2363.1" fill="none" stroke="#000" stroke-width="3.6"/>
<path d="M1228.4 2363.1 L1231.7 2363.1 L1235.1 2363.1 L1238.4 2363.1 L1241.8 2363.1 L1245.1 2363.1 L1248.5 2363.1 L1251.8 2363.1 L1255.2 2363.1 L1258.5 2363.1 L1261.9 2363.1 L1265.2 2363.1 L1268.6 2363.1 L1271.9 2363.1 L1275.3 2363.1 L1278.6 2363.1 L1282 2363.1 L1285.3 2363.1 L1288.7 2363.1 L1292 2363 L1295.4 2363 L1298.7 2363 L1302.1 2363 L1305.4 2363 L1308.8 2363 L1312.1 2363 L1315.5 2362.9 L1318.8 2362.9 L1322.2 2362.9 L1325.5 2362.9 L1328.9 2362.8 L1332.2 2362.8 L1335.6 2362.7 L1338.9 2362.7 L1342.2 2362.6 L1345.6 2362.5 L1348.9 2362.4 L1352.3 2362.3 L1355.6 2362.2 L1359 2362.1 L1362.3 2362 L1365.7 2361.8 L1369 2361.6 L1372.4 2361.4 L1375.7 2361.2 L1379.1 2361 L1382.4 2360.7 L1385.8 2360.4 L1389.1 2360 L1392.5 2359.7 L1395.8 2359.3 L1399.2 2358.8 L1402.5 2358.3 L1405.9 2357.7 L1409.2 2357.1 L1412.6 2356.4 L1415.9 2355.7 L1419.3 2354.9 L1422.6 2354 L1426 2353 L1429.3 2352 L1432.7 2350.8 L1436 2349.6 L1439.4 2348.3 L1442.7 2346.8 L1446.1 2345.3 L1449.4 2343.6 L1452.8 2341.8 L1456.1 2339.9 L1459.5 2337.8 L1462.8 2335.6 L1466.2 2333.2 L1469.5 2330.7 L1472.9 2328.1 L1476.2 2325.2 L1479.6 2322.3 L1482.9 2319.1 L1486.3 2315.8 L1489.6 2312.3 L1493 2308.6 L1496.3 2304.8 L1499.7 2300.8 L1503 2296.6 L1506.4 2292.2 L1509.7 2287.7 L1513.1 2283 L1516.4 2278.2 L1519.8 2273.2 L1523.1 2268 L1526.5 2262.7 L1529.8 2257.3 L1533.2 2251.8 L1536.5 2246.2 L1539.9 2240.4 L1543.2 2234.6 L1546.6 2228.7 L1549.9 2222.8 L1553.3 2216.8 L1556.6 2210.8 L1560 2204.8 L1563.3 2198.9 L1566.7 2192.9 L1570 2187.1 L1573.4 2181.3 L1576.7 2175.6 L1580.1 2170 L1583.4 2164.6 L1586.8 2159.3 L1590.1 2154.3 L1593.5 2149.4 L1596.8 2144.8 L1600.2 2140.4 L1603.5 2136.2 L1606.9 2132.4 L1610.2 2128.8 L1613.6 2125.6 L1616.9 2122.7 L1620.3 2120.2 L1623.6 2117.9 L1627 2116.1 L1630.3 2114.6 L1633.7 2113.5 L1637 2112.8 L1640.4 2112.5 L1643.7 2112.6 L1647.1 2113.1 L1650.4 2113.9 L1653.8 2115.1 L1657.1 2116.7 L1660.5 2118.7 L1663.8 2121 L1667.2 2123.7 L1670.5 2126.8 L1673.9 2130.1 L1677.2 2133.8 L1680.6 2137.7 L1683.9 2141.9 L1687.3 2146.4 L1690.6 2151.2 L1694 2156.1 L1697.3 2161.2 L1700.7 2166.6 L1704 2172 L1707.4 2177.6 L1710.7 2183.4 L1714.1 2189.2 L1717.4 2195.1 L1720.8 2201 L1724.1 2207 L1727.5 2213 L1730.8 2219 L1734.2 2225 L1737.5 2230.9 L1740.9 2236.7 L1744.2 2242.5 L1747.6 2248.2 L1750.9 2253.8 L1754.3 2259.3 L1757.6 2264.7 L1761 2269.9 L1764.3 2275 L1767.7 2280 L1771 2284.8 L1774.4 2289.4 L1777.7 2293.9 L1781.1 2298.1 L1784.4 2302.3 L1787.8 2306.2 L1791.1 2310 L1794.5 2313.6 L1797.8 2317 L1801.2 2320.3 L1804.5 2323.4 L1807.9 2326.3 L1811.2 2329.1 L1814.6 2331.7 L1817.9 2334.1 L1821.3 2336.4 L1824.6 2338.6 L1828 2340.6 L1831.3 2342.5 L1834.7 2344.2 L1838 2345.9 L1841.4 2347.4 L1844.7 2348.8 L1848.1 2350.1 L1851.4 2351.3 L1854.8 2352.4 L1858.1 2353.4 L1861.5 2354.3 L1864.8 2355.2 L1868.2 2356 L1871.5 2356.7 L1874.9 2357.3 L1878.2 2357.9 L1881.6 2358.5 L1884.9 2359 L1888.3 2359.4 L1891.6 2359.8 L1895 2360.2 L1898.3 2360.5" fill="none" stroke="#000" stroke-width="3.6"/>
<line x1="1510.4" y1="2362.3" x2="1510.4" y2="2071.2" stroke="#000" stroke-width="6.3" stroke-dasharray="6.3 10.45"/>
<line x1="1641.5" y1="2362.3" x2="1641.5" y2="2071.2" stroke="#000" stroke-width="6.3" stroke-dasharray="6.3 10.45"/>
<rect x="1130.3" y="2015.8" width="883.4" height="346.5" fill="none" stroke="#000" stroke-width="2.1"/>
<line x1="1163" y1="2362.3" x2="1163" y2="2371.6" stroke="#000" stroke-width="2.1"/>
<text x="1163" y="2403.2" font-size="31" text-anchor="middle" font-family="'DejaVu Sans', 'Liberation Sans', sans-serif">11</text>
<line x1="1326.4" y1="2362.3" x2="1326.4" y2="2371.6" stroke="#000" stroke-width="2.1"/>
<text x="1326.4" y="2403.2" font-size="31" text-anchor="middle" font-family="'DejaVu Sans', 'Liberation Sans', sans-serif">12</text>
<line x1="1489.8" y1="2362.3" x2="1489.8" y2="2371.6" stroke="#000" stroke-width="2.1"/>
<text x="1489.8" y="2403.2" font-size="31" text-anchor="middle" font-family="'DejaVu Sans', 'Liberation Sans', sans-serif">13</text>
<line x1="1653.2" y1="2362.3" x2="1653.2" y2="2371.6" stroke="#000" stroke-width="2.1"/>
<text x="1653.2" y="2403.2" font-size="31" text-anchor="middle" font-family="'DejaVu Sans', 'Liberation Sans', sans-serif">14</text>
<line x1="1816.6" y1="2362.3" x2="1816.6" y2="2371.6" stroke="#000" stroke-width="2.1"/>
<text x="1816.6" y="2403.2" font-size="31" text-anchor="middle" font-family="'DejaVu Sans', 'Liberation Sans', sans-serif">15</text>
<line x1="1980" y1="2362.3" x2="1980" y2="2371.6" stroke="#000" stroke-width="2.1"/>
<text x="1980" y="2403.2" font-size="31" text-anchor="middle" font-family="'DejaVu Sans', 'Liberation Sans', sans-serif">16</text>
<text x="1572" y="2446.9" font-size="34" text-anchor="middle" font-family="'DejaVu Sans', 'Liberation Sans', sans-serif"><tspan font-style="italic">d</tspan><tspan font-style="italic" font-size="23.8" dy="5">c</tspan><tspan dy="-5"> (µm)</tspan></text>
<text x="1117.2" y="2191.6" font-size="34" text-anchor="middle" font-family="'DejaVu Sans', 'Liberation Sans', sans-serif" transform="rotate(-90 1117.2 2191.6)">Density</text>
<rect x="1154.7" y="2041.6" width="55.1" height="19.5" fill="rgba(49,120,156,0.85)" stroke="#000" stroke-width="2.1"/>
<rect x="1154.7" y="2081.7" width="55.1" height="19.3" fill="rgba(118,208,82,0.75)" stroke="#000" stroke-width="2.1"/>
<text x="1232.1" y="2060.8" font-size="27.1" text-anchor="start" font-family="'DejaVu Sans', 'Liberation Sans', sans-serif">Dissociation (after Chi pulse)</text>
<text x="1232.1" y="2101" font-size="27.1" text-anchor="start" font-family="'DejaVu Sans', 'Liberation Sans', sans-serif">3D segmentation</text>
<rect x="1158.4" y="2134.8" width="209.9" height="88" fill="#fff" stroke="#222" stroke-width="1.1"/>
<text x="1263.3" y="2172.6" font-size="29.1" text-anchor="middle" font-family="'Liberation Sans', 'DejaVu Sans', sans-serif">13.1 ± 0.5 µm</text>
<text x="1263.3" y="2206.5" font-size="29.1" text-anchor="middle" font-family="'Liberation Sans', 'DejaVu Sans', sans-serif">(4.0%, n=108)</text>
<rect x="1773.6" y="2134.8" width="209.7" height="88" fill="#fff" stroke="#222" stroke-width="1.1"/>
<text x="1878.4" y="2172.6" font-size="29.1" text-anchor="middle" font-family="'Liberation Sans', 'DejaVu Sans', sans-serif">13.9 ± 0.5 µm</text>
<text x="1878.4" y="2206.5" font-size="29.1" text-anchor="middle" font-family="'Liberation Sans', 'DejaVu Sans', sans-serif">(3.8%, n=286)</text>
<text x="1043" y="2066.8" font-size="48" text-anchor="start" font-family="'Liberation Sans', 'DejaVu Sans', sans-serif" font-weight="bold">h</text>
</g>
<g id="pe">
<rect x="1197.2" y="1379.8" width="12.3" height="16.8" fill="rgba(211,211,211,0.6)" stroke="#000" stroke-width="1.3"/>
<rect x="1209.5" y="1377.6" width="12.3" height="19" fill="rgba(211,211,211,0.6)" stroke="#000" stroke-width="1.3"/>
<rect x="1221.8" y="1376.9" width="12.3" height="19.7" fill="rgba(211,211,211,0.6)" stroke="#000" stroke-width="1.3"/>
<rect x="1234.1" y="1378.4" width="12.3" height="18.2" fill="rgba(211,211,211,0.6)" stroke="#000" stroke-width="1.3"/>
<rect x="1246.3" y="1373.7" width="12.3" height="22.9" fill="rgba(211,211,211,0.6)" stroke="#000" stroke-width="1.3"/>
<rect x="1258.6" y="1372.4" width="12.3" height="24.2" fill="rgba(211,211,211,0.6)" stroke="#000" stroke-width="1.3"/>
<rect x="1270.9" y="1367.1" width="12.3" height="29.5" fill="rgba(211,211,211,0.6)" stroke="#000" stroke-width="1.3"/>
<rect x="1283.2" y="1366.3" width="12.3" height="30.3" fill="rgba(211,211,211,0.6)" stroke="#000" stroke-width="1.3"/>
<rect x="1295.5" y="1361" width="12.3" height="35.6" fill="rgba(211,211,211,0.6)" stroke="#000" stroke-width="1.3"/>
<rect x="1307.7" y="1367.1" width="12.3" height="29.5" fill="rgba(211,211,211,0.6)" stroke="#000" stroke-width="1.3"/>
<rect x="1320" y="1364.5" width="12.3" height="32.1" fill="rgba(211,211,211,0.6)" stroke="#000" stroke-width="1.3"/>
<rect x="1332.3" y="1362.3" width="12.3" height="34.3" fill="rgba(211,211,211,0.6)" stroke="#000" stroke-width="1.3"/>
<rect x="1344.6" y="1354.4" width="12.3" height="42.2" fill="rgba(211,211,211,0.6)" stroke="#000" stroke-width="1.3"/>
<rect x="1356.9" y="1351.3" width="12.3" height="45.3" fill="rgba(211,211,211,0.6)" stroke="#000" stroke-width="1.3"/>
<rect x="1369.1" y="1330.7" width="12.3" height="65.9" fill="rgba(211,211,211,0.6)" stroke="#000" stroke-width="1.3"/>
<rect x="1381.4" y="1186.4" width="12.3" height="210.2" fill="rgba(211,211,211,0.6)" stroke="#000" stroke-width="1.3"/>
<rect x="1393.7" y="1113.9" width="12.3" height="282.7" fill="rgba(211,211,211,0.6)" stroke="#000" stroke-width="1.3"/>
<rect x="1406" y="1164" width="12.3" height="232.6" fill="rgba(211,211,211,0.6)" stroke="#000" stroke-width="1.3"/>
<rect x="1418.3" y="1262.9" width="12.3" height="133.7" fill="rgba(211,211,211,0.6)" stroke="#000" stroke-width="1.3"/>
<rect x="1430.5" y="1368.4" width="12.3" height="28.2" fill="rgba(211,211,211,0.6)" stroke="#000" stroke-width="1.3"/>
<path d="M1191.1 1397.2 L1193.4 1397.2 L1195.6 1397.2 L1197.9 1397.2 L1200.2 1397.2 L1202.5 1397.2 L1204.8 1397.2 L1207 1397.2 L1209.3 1397.2 L1211.6 1397.2 L1213.9 1397.2 L1216.2 1397.2 L1218.4 1397.2 L1220.7 1397.2 L1223 1397.2 L1225.3 1397.2 L1227.6 1397.2 L1229.8 1397.2 L1232.1 1397.2 L1234.4 1397.2 L1236.7 1397.2 L1239 1397.2 L1241.3 1397.2 L1243.5 1397.2 L1245.8 1397.2 L1248.1 1397.2 L1250.4 1397.2 L1252.7 1397.2 L1254.9 1397.2 L1257.2 1397.2 L1259.5 1397.2 L1261.8 1397.2 L1264.1 1397.2 L1266.3 1397.2 L1268.6 1397.2 L1270.9 1397.2 L1273.2 1397.2 L1275.5 1397.2 L1277.7 1397.2 L1280 1397.2 L1282.3 1397.2 L1284.6 1397.2 L1286.9 1397.2 L1289.1 1397.2 L1291.4 1397.2 L1293.7 1397.2 L1296 1397.2 L1298.3 1397.2 L1300.5 1397.2 L1302.8 1397.2 L1305.1 1397.2 L1307.4 1397.2 L1309.7 1397.2 L1312 1397.2 L1314.2 1397.2 L1316.5 1397.2 L1318.8 1397.2 L1321.1 1397.2 L1323.4 1397.1 L1325.6 1397.1 L1327.9 1397 L1330.2 1396.9 L1332.5 1396.7 L1334.8 1396.4 L1337 1396.1 L1339.3 1395.5 L1341.6 1394.8 L1343.9 1393.7 L1346.2 1392.2 L1348.4 1390.3 L1350.7 1387.7 L1353 1384.2 L1355.3 1379.9 L1357.6 1374.3 L1359.8 1367.4 L1362.1 1359 L1364.4 1349 L1366.7 1337.1 L1369 1323.4 L1371.2 1307.9 L1373.5 1290.6 L1375.8 1271.8 L1378.1 1251.9 L1380.4 1231.1 L1382.6 1210 L1384.9 1189.3 L1387.2 1169.6 L1389.5 1151.6 L1391.8 1136 L1394.1 1123.2 L1396.3 1114 L1398.6 1108.7 L1400.9 1107.4 L1403.2 1110.2 L1405.5 1117.1 L1407.7 1127.7 L1410 1141.7 L1412.3 1158.3 L1414.6 1177.1 L1416.9 1197.2 L1419.1 1218.1 L1421.4 1239.1 L1423.7 1259.7 L1426 1279.2 L1428.3 1297.5 L1430.5 1314.1 L1432.8 1328.9 L1435.1 1341.9 L1437.4 1353.1 L1439.7 1362.5 L1441.9 1370.3 L1444.2 1376.6 L1446.5 1381.7 L1448.8 1385.7 L1451.1 1388.7 L1453.3 1391.1 L1455.6 1392.9 L1457.9 1394.2 L1460.2 1395.1 L1462.5 1395.8 L1464.7 1396.2 L1467 1396.6 L1469.3 1396.8 L1471.6 1396.9 L1473.9 1397 L1476.2 1397.1 L1478.4 1397.1 L1480.7 1397.2 L1483 1397.2 L1485.3 1397.2 L1487.6 1397.2 L1489.8 1397.2 L1492.1 1397.2 L1494.4 1397.2 L1496.7 1397.2 L1499 1397.2 L1501.2 1397.2 L1503.5 1397.2 L1505.8 1397.2 L1508.1 1397.2 L1510.4 1397.2" fill="none" stroke="#e31a1c" stroke-width="5" stroke-linejoin="round"/>
<path d="M1146.3 1396.9 L1149.3 1396.8 L1152.4 1396.7 L1155.4 1396.6 L1158.5 1396.5 L1161.5 1396.4 L1164.6 1396.2 L1167.6 1396.1 L1170.7 1395.9 L1173.7 1395.6 L1176.8 1395.4 L1179.8 1395.1 L1182.9 1394.8 L1185.9 1394.4 L1189 1394 L1192 1393.5 L1195.1 1393 L1198.1 1392.4 L1201.1 1391.8 L1204.2 1391.1 L1207.2 1390.3 L1210.3 1389.5 L1213.3 1388.6 L1216.4 1387.6 L1219.4 1386.6 L1222.5 1385.5 L1225.5 1384.4 L1228.6 1383.2 L1231.6 1381.9 L1234.7 1380.6 L1237.7 1379.2 L1240.8 1377.8 L1243.8 1376.3 L1246.9 1374.9 L1249.9 1373.4 L1253 1371.9 L1256 1370.4 L1259.1 1369 L1262.1 1367.6 L1265.2 1366.2 L1268.2 1364.9 L1271.3 1363.7 L1274.3 1362.5 L1277.4 1361.4 L1280.4 1360.5 L1283.5 1359.6 L1286.5 1358.9 L1289.6 1358.3 L1292.6 1357.9 L1295.7 1357.6 L1298.7 1357.4 L1301.8 1357.4 L1304.8 1357.6 L1307.9 1357.9 L1310.9 1358.3 L1314 1358.9 L1317 1359.6 L1320.1 1360.4 L1323.1 1361.4 L1326.2 1362.4 L1329.2 1363.6 L1332.3 1364.8 L1335.3 1366.1 L1338.4 1367.5 L1341.4 1368.9 L1344.5 1370.3 L1347.5 1371.8 L1350.6 1373.3 L1353.6 1374.8 L1356.7 1376.2 L1359.7 1377.7 L1362.8 1379.1 L1365.8 1380.5 L1368.9 1381.8 L1371.9 1383.1 L1375 1384.3 L1378 1385.4 L1381.1 1386.5 L1384.1 1387.6 L1387.2 1388.5 L1390.2 1389.4 L1393.3 1390.2 L1396.3 1391 L1399.4 1391.7 L1402.4 1392.4 L1405.5 1392.9 L1408.5 1393.5 L1411.6 1393.9 L1414.6 1394.4 L1417.7 1394.7 L1420.7 1395.1 L1423.8 1395.4 L1426.8 1395.6 L1429.9 1395.9 L1432.9 1396.1 L1436 1396.2 L1439 1396.4 L1442.1 1396.5 L1445.1 1396.6 L1448.2 1396.7 L1451.2 1396.8 L1454.3 1396.9 L1457.3 1396.9 L1460.4 1397 L1463.4 1397 L1466.5 1397 L1469.5 1397.1 L1472.6 1397.1 L1475.6 1397.1 L1478.7 1397.1 L1481.7 1397.1 L1484.8 1397.2 L1487.8 1397.2 L1490.9 1397.2 L1493.9 1397.2 L1497 1397.2 L1500 1397.2 L1503.1 1397.2 L1506.1 1397.2 L1509.2 1397.2 L1512.2 1397.2" fill="none" stroke="#000" stroke-width="5" stroke-linejoin="round"/>
<rect x="1129.8" y="1056.4" width="398.8" height="340.2" fill="none" stroke="#000" stroke-width="2.1"/>
<line x1="1209.5" y1="1396.6" x2="1209.5" y2="1405.9" stroke="#000" stroke-width="2.1"/>
<text x="1209.5" y="1438.6" font-size="34" text-anchor="middle" font-family="'DejaVu Sans', 'Liberation Sans', sans-serif">4</text>
<line x1="1332.3" y1="1396.6" x2="1332.3" y2="1405.9" stroke="#000" stroke-width="2.1"/>
<text x="1332.3" y="1438.6" font-size="34" text-anchor="middle" font-family="'DejaVu Sans', 'Liberation Sans', sans-serif">6</text>
<line x1="1455.1" y1="1396.6" x2="1455.1" y2="1405.9" stroke="#000" stroke-width="2.1"/>
<text x="1455.1" y="1438.6" font-size="34" text-anchor="middle" font-family="'DejaVu Sans', 'Liberation Sans', sans-serif">8</text>
<text x="1329.5" y="1483.4" font-size="34" text-anchor="middle" font-family="'DejaVu Sans', 'Liberation Sans', sans-serif"><tspan font-style="italic">log</tspan>(<tspan font-style="italic">V</tspan><tspan font-style="italic" font-size="23.8" dy="5">c</tspan><tspan dy="-5">)</tspan></text>
<text x="1116.7" y="1229" font-size="34" text-anchor="middle" font-family="'DejaVu Sans', 'Liberation Sans', sans-serif" transform="rotate(-90 1116.7 1229)">Density</text>
<line x1="1150.4" y1="1088.8" x2="1204.3" y2="1088.8" stroke="#e31a1c" stroke-width="5"/>
<line x1="1150.4" y1="1125.2" x2="1204.3" y2="1125.2" stroke="#000" stroke-width="5"/>
<text x="1217.8" y="1094.4" font-size="26" text-anchor="start" font-family="'DejaVu Sans', 'Liberation Sans', sans-serif">Well segmented cells</text>
<text x="1220.5" y="1132.6" font-size="26" text-anchor="start" font-family="'DejaVu Sans', 'Liberation Sans', sans-serif">Noise</text>
<text x="1043" y="1096" font-size="48" text-anchor="start" font-family="'Liberation Sans', 'DejaVu Sans', sans-serif" font-weight="bold">e</text>
<rect x="1721.4" y="1387.7" width="14.5" height="8.9" fill="rgba(255,0,0,0.7)" stroke="#000" stroke-width="1.5"/>
<rect x="1735.9" y="1315.1" width="14.5" height="81.5" fill="rgba(255,0,0,0.7)" stroke="#000" stroke-width="1.5"/>
<rect x="1750.4" y="1279" width="14.5" height="117.6" fill="rgba(255,0,0,0.7)" stroke="#000" stroke-width="1.5"/>
<rect x="1764.8" y="1187.7" width="14.5" height="208.9" fill="rgba(255,0,0,0.7)" stroke="#000" stroke-width="1.5"/>
<rect x="1779.3" y="1072.4" width="14.5" height="324.2" fill="rgba(255,0,0,0.7)" stroke="#000" stroke-width="1.5"/>
<rect x="1793.8" y="1075.1" width="14.5" height="321.5" fill="rgba(255,0,0,0.7)" stroke="#000" stroke-width="1.5"/>
<rect x="1808.2" y="1119.1" width="14.5" height="277.5" fill="rgba(255,0,0,0.7)" stroke="#000" stroke-width="1.5"/>
<rect x="1822.7" y="1155.3" width="14.5" height="241.3" fill="rgba(255,0,0,0.7)" stroke="#000" stroke-width="1.5"/>
<rect x="1837.2" y="1190.6" width="14.5" height="206" fill="rgba(255,0,0,0.7)" stroke="#000" stroke-width="1.5"/>
<rect x="1851.6" y="1222.5" width="14.5" height="174.1" fill="rgba(255,0,0,0.7)" stroke="#000" stroke-width="1.5"/>
<rect x="1866.1" y="1245.2" width="14.5" height="151.4" fill="rgba(255,0,0,0.7)" stroke="#000" stroke-width="1.5"/>
<rect x="1880.6" y="1291.6" width="14.5" height="105" fill="rgba(255,0,0,0.7)" stroke="#000" stroke-width="1.5"/>
<rect x="1895.1" y="1313" width="14.5" height="83.6" fill="rgba(255,0,0,0.7)" stroke="#000" stroke-width="1.5"/>
<rect x="1909.5" y="1339.4" width="14.5" height="57.2" fill="rgba(255,0,0,0.7)" stroke="#000" stroke-width="1.5"/>
<rect x="1924" y="1368.9" width="14.5" height="27.7" fill="rgba(255,0,0,0.7)" stroke="#000" stroke-width="1.5"/>
<rect x="1938.5" y="1375" width="14.5" height="21.6" fill="rgba(255,0,0,0.7)" stroke="#000" stroke-width="1.5"/>
<rect x="1952.9" y="1386.6" width="14.5" height="10" fill="rgba(255,0,0,0.7)" stroke="#000" stroke-width="1.5"/>
<rect x="1967.4" y="1387.1" width="14.5" height="9.5" fill="rgba(255,0,0,0.7)" stroke="#000" stroke-width="1.5"/>
<rect x="1981.9" y="1395.6" width="14.5" height="1" fill="rgba(255,0,0,0.7)" stroke="#000" stroke-width="1.5"/>
<rect x="1634.6" y="1201.4" width="14.5" height="195.2" fill="rgba(0,0,0,0.7)" stroke="#000" stroke-width="1.5"/>
<rect x="1649.1" y="1166.1" width="14.5" height="230.5" fill="rgba(0,0,0,0.7)" stroke="#000" stroke-width="1.5"/>
<rect x="1663.5" y="1233.4" width="14.5" height="163.2" fill="rgba(0,0,0,0.7)" stroke="#000" stroke-width="1.5"/>
<rect x="1678" y="1281.4" width="14.5" height="115.2" fill="rgba(0,0,0,0.7)" stroke="#000" stroke-width="1.5"/>
<rect x="1692.5" y="1295.9" width="14.5" height="100.7" fill="rgba(0,0,0,0.7)" stroke="#000" stroke-width="1.5"/>
<rect x="1706.9" y="1299" width="14.5" height="97.6" fill="rgba(0,0,0,0.7)" stroke="#000" stroke-width="1.5"/>
<rect x="1721.4" y="1317.8" width="14.5" height="78.8" fill="rgba(0,0,0,0.7)" stroke="#000" stroke-width="1.5"/>
<rect x="1616.1" y="1056.4" width="399.1" height="340.2" fill="none" stroke="#000" stroke-width="2.1"/>
<line x1="1634.6" y1="1396.6" x2="1634.6" y2="1405.9" stroke="#000" stroke-width="2.1"/>
<text x="1634.6" y="1438.6" font-size="34" text-anchor="middle" font-family="'DejaVu Sans', 'Liberation Sans', sans-serif">0</text>
<line x1="1779.3" y1="1396.6" x2="1779.3" y2="1405.9" stroke="#000" stroke-width="2.1"/>
<text x="1779.3" y="1438.6" font-size="34" text-anchor="middle" font-family="'DejaVu Sans', 'Liberation Sans', sans-serif">1</text>
<line x1="1924" y1="1396.6" x2="1924" y2="1405.9" stroke="#000" stroke-width="2.1"/>
<text x="1924" y="1438.6" font-size="34" text-anchor="middle" font-family="'DejaVu Sans', 'Liberation Sans', sans-serif">2</text>
<text x="1816" y="1483.4" font-size="34" text-anchor="middle" font-family="'DejaVu Sans', 'Liberation Sans', sans-serif"><tspan font-style="italic">V</tspan><tspan font-style="italic" font-size="23.8" dy="5">c</tspan><tspan dy="-5"> (x10</tspan><tspan font-size="23.8" dy="-12">3</tspan><tspan dy="12"> µm³)</tspan></text>
<text x="1603" y="1229" font-size="34" text-anchor="middle" font-family="'DejaVu Sans', 'Liberation Sans', sans-serif" transform="rotate(-90 1603 1229)">Density</text>
</g>
<g id="pg">
<path d="M1129.6 1866.6 L1258 1866.6 L1283.4 1865.9 L1308.7 1863.8 L1334 1857.1 L1359.3 1839.4 L1384.6 1803.5 L1410 1742.3 L1435.3 1661.3 L1460.6 1584.9 L1485.9 1550 L1511.2 1562 L1536.6 1600.1 L1561.9 1665.6 L1587.2 1725.3 L1612.5 1780.8 L1637.8 1819.5 L1663.2 1843.4 L1688.5 1856.4 L1713.8 1862.5 L1739.1 1865.2 L1764.4 1866.6 L2015 1866.6" fill="none" stroke="#f4a460" stroke-width="3.6" stroke-linejoin="round"/>
<path d="M1129.6 1866.6 L1276.3 1866.6 L1301.6 1864.8 L1327 1860.2 L1352.3 1848.3 L1377.6 1821.6 L1402.9 1772.9 L1428.2 1706.1 L1453.6 1629.5 L1478.9 1577 L1504.2 1560 L1529.5 1583.1 L1554.8 1632.1 L1580.2 1689.9 L1605.5 1749.1 L1630.8 1794.7 L1656.1 1827.4 L1681.4 1847.3 L1706.8 1858.1 L1732.1 1863.2 L1757.4 1865.4 L1782.7 1866.6 L2015 1866.6" fill="none" stroke="#f4a460" stroke-width="3.6" stroke-linejoin="round"/>
<path d="M1129.6 1866.6 L1259.2 1866.6 L1284.5 1866 L1309.8 1864.2 L1335.1 1858.6 L1360.4 1844.1 L1385.8 1813.5 L1411.1 1760.8 L1436.4 1691.6 L1461.7 1618.2 L1487 1570.7 L1512.4 1563.2 L1537.7 1591.9 L1563 1647.3 L1588.3 1705.8 L1613.6 1760.3 L1639 1803.4 L1664.3 1832.5 L1689.6 1850.1 L1714.9 1859.5 L1740.2 1863.8 L1765.6 1865.6 L1790.9 1866.6 L2015 1866.6" fill="none" stroke="#f4a460" stroke-width="3.6" stroke-linejoin="round"/>
<path d="M1129.6 1866.6 L1266.1 1866.6 L1291.5 1865.7 L1316.8 1863.4 L1342.1 1856.8 L1367.4 1841.2 L1392.7 1810 L1418.1 1759.2 L1443.4 1690.9 L1468.7 1624.3 L1494 1572.3 L1519.3 1567.6 L1544.7 1595 L1570 1639.3 L1595.3 1693.7 L1620.6 1747.3 L1645.9 1792.3 L1671.3 1823.5 L1696.6 1844.2 L1721.9 1856.2 L1747.2 1862.2 L1772.5 1864.9 L1797.9 1866 L1823.2 1866.6 L2015 1866.6" fill="none" stroke="#f4a460" stroke-width="3.6" stroke-linejoin="round"/>
<path d="M1129.6 1866.6 L1306.3 1866.6 L1331.6 1864.2 L1356.9 1858.3 L1382.3 1842.2 L1407.6 1806.4 L1432.9 1745 L1458.2 1664.7 L1483.5 1588.3 L1508.9 1548.5 L1534.2 1559.2 L1559.5 1605.1 L1584.8 1664.5 L1610.1 1729 L1635.5 1783.5 L1660.8 1821.5 L1686.1 1844.7 L1711.4 1857.2 L1736.7 1862.9 L1762.1 1865.3 L1787.4 1866.6 L2015 1866.6" fill="none" stroke="#f4a460" stroke-width="3.6" stroke-linejoin="round"/>
<path d="M1129.6 1866.6 L1272.7 1866.6 L1298.1 1865.9 L1323.4 1864.2 L1348.7 1858.9 L1374 1846 L1399.3 1818.4 L1424.7 1771.3 L1450 1708.2 L1475.3 1638.5 L1500.6 1582.2 L1525.9 1568.9 L1551.3 1591.5 L1576.6 1632.9 L1601.9 1686 L1627.2 1737.6 L1652.5 1784.6 L1677.9 1819.9 L1703.2 1841.7 L1728.5 1854.7 L1753.8 1861.5 L1779.1 1864.6 L1804.5 1865.9 L1829.8 1866.6 L2015 1866.6" fill="none" stroke="#f4a460" stroke-width="3.6" stroke-linejoin="round"/>
<path d="M1129.6 1866.6 L1314.3 1866.6 L1339.6 1864.3 L1364.9 1858.7 L1390.2 1843.8 L1415.5 1810.9 L1440.9 1755.2 L1466.2 1678.7 L1491.5 1602.4 L1516.8 1560.1 L1542.1 1559.2 L1567.5 1596.5 L1592.8 1653.8 L1618.1 1712.9 L1643.4 1770.6 L1668.7 1811.7 L1694.1 1838.5 L1719.4 1853.9 L1744.7 1861.4 L1770 1864.7 L1795.3 1866 L1820.7 1866.6 L2015 1866.6" fill="none" stroke="#f4a460" stroke-width="3.6" stroke-linejoin="round"/>
<path d="M1129.6 1866.6 L1297 1866.6 L1322.3 1865.1 L1347.7 1861.7 L1373 1852.6 L1398.3 1832.8 L1423.6 1795.3 L1448.9 1737.4 L1474.3 1668.4 L1499.6 1610 L1524.9 1577.3 L1550.2 1580.4 L1575.5 1614 L1600.9 1661.2 L1626.2 1715.9 L1651.5 1764.1 L1676.8 1804 L1702.1 1831.8 L1727.5 1849.4 L1752.8 1858.6 L1778.1 1863.3 L1803.4 1865.3 L1828.7 1866.6 L2015 1866.6" fill="none" stroke="#f4a460" stroke-width="3.6" stroke-linejoin="round"/>
<path d="M1129.6 1866.6 L1315.4 1866.6 L1340.7 1864.6 L1366.1 1859.8 L1391.4 1847.2 L1416.7 1818.3 L1442 1768.2 L1467.3 1696.2 L1492.7 1624.3 L1518 1569.2 L1543.3 1561.1 L1568.6 1581.7 L1593.9 1634.6 L1619.3 1695 L1644.6 1751.2 L1669.9 1796.4 L1695.2 1828.7 L1720.5 1848.4 L1745.9 1858.6 L1771.2 1863.4 L1796.5 1865.5 L1821.8 1866.6 L2015 1866.6" fill="none" stroke="#f4a460" stroke-width="3.6" stroke-linejoin="round"/>
<path d="M1129.6 1866.6 L1333.8 1866.6 L1359.2 1864.3 L1384.5 1858.6 L1409.8 1843.1 L1435.1 1809.2 L1460.4 1750.4 L1485.8 1671.8 L1511.1 1592.5 L1536.4 1553.4 L1561.7 1558.9 L1587 1601.1 L1612.4 1659.7 L1637.7 1724.5 L1663 1778.3 L1688.3 1818.2 L1713.6 1842.4 L1739 1856 L1764.3 1862.5 L1789.6 1865.2 L1814.9 1866.6 L2015 1866.6" fill="none" stroke="#f4a460" stroke-width="3.6" stroke-linejoin="round"/>
<path d="M1129.6 1866.6 L1302.6 1866.6 L1327.9 1865.7 L1353.2 1863.5 L1378.6 1857.3 L1403.9 1842.8 L1429.2 1812.8 L1454.5 1764.3 L1479.8 1700.4 L1505.2 1635.9 L1530.5 1589.3 L1555.8 1579.1 L1581.1 1598.4 L1606.4 1641.3 L1631.8 1691.8 L1657.1 1744.4 L1682.4 1787.2 L1707.7 1820.3 L1733 1842.3 L1758.4 1855 L1783.7 1861.4 L1809 1864.5 L1834.3 1865.8 L1859.6 1866.6 L2015 1866.6" fill="none" stroke="#f4a460" stroke-width="3.6" stroke-linejoin="round"/>
<path d="M1129.6 1866.6 L1333.2 1866.6 L1358.5 1865.2 L1383.9 1861.4 L1409.2 1850.1 L1434.5 1824.5 L1459.8 1774.2 L1485.1 1701 L1510.5 1623.2 L1535.8 1559.3 L1561.1 1548.8 L1586.4 1580 L1611.7 1633.8 L1637.1 1698 L1662.4 1759.6 L1687.7 1804.4 L1713 1834.7 L1738.3 1851.9 L1763.7 1860.6 L1789 1864.4 L1814.3 1865.9 L1839.6 1866.6 L2015 1866.6" fill="none" stroke="#f4a460" stroke-width="3.6" stroke-linejoin="round"/>
<path d="M1129.6 1866.6 L1322.7 1866.6 L1348.1 1865.2 L1373.4 1861.9 L1398.7 1852.8 L1424 1833 L1449.3 1795.8 L1474.7 1738.1 L1500 1666 L1525.3 1605.4 L1550.6 1568.5 L1575.9 1573.2 L1601.3 1609.3 L1626.6 1659.9 L1651.9 1715 L1677.2 1765.4 L1702.5 1805.4 L1727.9 1833.2 L1753.2 1850 L1778.5 1859.2 L1803.8 1863.6 L1829.1 1865.5 L1854.5 1866.6 L2015 1866.6" fill="none" stroke="#f4a460" stroke-width="3.6" stroke-linejoin="round"/>
<path d="M1129.6 1866.6 L1319.9 1866.6 L1345.2 1866 L1370.6 1864.2 L1395.9 1858.8 L1421.2 1845.3 L1446.5 1817.3 L1471.8 1769 L1497.2 1699.4 L1522.5 1631.7 L1547.8 1578.6 L1573.1 1571.6 L1598.4 1591.8 L1623.8 1634.7 L1649.1 1694.8 L1674.4 1747.1 L1699.7 1793.2 L1725 1825.1 L1750.4 1845.6 L1775.7 1857.1 L1801 1862.6 L1826.3 1865.1 L1851.6 1866.6 L2015 1866.6" fill="none" stroke="#f4a460" stroke-width="3.6" stroke-linejoin="round"/>
<path d="M1129.6 1866.6 L1325.8 1866.6 L1351.2 1865.7 L1376.5 1863.6 L1401.8 1857.4 L1427.1 1842.4 L1452.4 1812.7 L1477.8 1764.3 L1503.1 1699.3 L1528.4 1629.1 L1553.7 1587.3 L1579 1576.3 L1604.4 1604.4 L1629.7 1647.8 L1655 1699.9 L1680.3 1752.8 L1705.6 1795.2 L1731 1825.5 L1756.3 1845.5 L1781.6 1856.7 L1806.9 1862.4 L1832.2 1865 L1857.6 1866.6 L2015 1866.6" fill="none" stroke="#f4a460" stroke-width="3.6" stroke-linejoin="round"/>
<path d="M1129.6 1866.6 L1355.6 1866.6 L1380.9 1865.1 L1406.3 1861 L1431.6 1849.9 L1456.9 1824.4 L1482.2 1777.1 L1507.5 1705.4 L1532.9 1629.7 L1558.2 1574.2 L1583.5 1556.6 L1608.8 1581.2 L1634.1 1634.5 L1659.5 1696.3 L1684.8 1753.6 L1710.1 1799.6 L1735.4 1830.7 L1760.7 1849.5 L1786.1 1859.2 L1811.4 1863.8 L1836.7 1865.6 L1862 1866.6 L2015 1866.6" fill="none" stroke="#f4a460" stroke-width="3.6" stroke-linejoin="round"/>
<path d="M1129.6 1866.6 L1360.7 1866.6 L1386 1864.8 L1411.3 1860.4 L1436.6 1848.1 L1461.9 1819.8 L1487.3 1768.3 L1512.6 1696.3 L1537.9 1616.6 L1563.2 1564.6 L1588.5 1552.6 L1613.9 1577 L1639.2 1630.8 L1664.5 1693.8 L1689.8 1752.8 L1715.1 1800.8 L1740.5 1832 L1765.8 1850.2 L1791.1 1859.6 L1816.4 1863.9 L1841.7 1865.7 L1867.1 1866.6 L2015 1866.6" fill="none" stroke="#f4a460" stroke-width="3.6" stroke-linejoin="round"/>
<path d="M1129.6 1866.6 L1373.8 1866.6 L1399.1 1864.5 L1424.5 1859.2 L1449.8 1845.4 L1475.1 1814.4 L1500.4 1759.5 L1525.7 1681.6 L1551.1 1604.8 L1576.4 1553 L1601.7 1554.6 L1627 1589.7 L1652.3 1645.1 L1677.7 1705.2 L1703 1763.7 L1728.3 1808 L1753.6 1836.7 L1778.9 1852.6 L1804.3 1860.8 L1829.6 1864.5 L1854.9 1865.9 L1880.2 1866.6 L2015 1866.6" fill="none" stroke="#f4a460" stroke-width="3.6" stroke-linejoin="round"/>
<path d="M1129.6 1866.6 L1148.3 1866.6 L1173.6 1865.9 L1199 1864.7 L1224.3 1862.3 L1249.6 1857.3 L1274.9 1848.3 L1300.2 1833.1 L1325.6 1809.1 L1350.9 1777.6 L1376.2 1735.9 L1401.5 1693.9 L1426.8 1655 L1452.2 1625.2 L1477.5 1611.3 L1502.8 1618.2 L1528.1 1646.6 L1553.4 1693.9 L1578.8 1740.1 L1604.1 1783.2 L1629.4 1815.5 L1654.7 1839.1 L1680 1852.9 L1705.4 1860.4 L1730.7 1864 L1756 1865.6 L1781.3 1866.6 L2015 1866.6" fill="none" stroke="#b82025" stroke-width="4.2" stroke-linejoin="round"/>
<path d="M1129.6 1866.6 L1159.2 1866.6 L1184.5 1865.4 L1209.8 1863.6 L1235.2 1860.3 L1260.5 1853.6 L1285.8 1842.6 L1311.1 1824.7 L1336.4 1798.4 L1361.8 1764.6 L1387.1 1726.4 L1412.4 1687.9 L1437.7 1651.3 L1463 1629 L1488.4 1619.6 L1513.7 1637.9 L1539 1668.8 L1564.3 1708.9 L1589.6 1755.5 L1615 1792.8 L1640.3 1821.8 L1665.6 1842 L1690.9 1854.5 L1716.2 1861 L1741.6 1864.3 L1766.9 1865.7 L1792.2 1866.6 L2015 1866.6" fill="none" stroke="#b82025" stroke-width="4.2" stroke-linejoin="round"/>
<path d="M1129.6 1866.6 L1148.7 1866.6 L1174.1 1866 L1199.4 1865 L1224.7 1863 L1250 1858.7 L1275.3 1850.8 L1300.7 1837.1 L1326 1816.2 L1351.3 1788 L1376.6 1751.9 L1401.9 1710.7 L1427.3 1670.9 L1452.6 1637.4 L1477.9 1625 L1503.2 1623.8 L1528.5 1647.5 L1553.9 1685.7 L1579.2 1730.9 L1604.5 1774.1 L1629.8 1809.3 L1655.1 1834 L1680.5 1849.7 L1705.8 1858.5 L1731.1 1863.2 L1756.4 1865.3 L1781.7 1866.6 L2015 1866.6" fill="none" stroke="#b82025" stroke-width="4.2" stroke-linejoin="round"/>
<path d="M1129.6 1866.6 L1172.9 1866.6 L1198.2 1865.5 L1223.5 1864 L1248.9 1860.6 L1274.2 1853.9 L1299.5 1842 L1324.8 1822.8 L1350.1 1795.5 L1375.5 1757 L1400.8 1715.5 L1426.1 1670.8 L1451.4 1635.5 L1476.7 1611.9 L1502.1 1613.7 L1527.4 1635.1 L1552.7 1674.6 L1578 1722.5 L1603.3 1766.6 L1628.7 1805.2 L1654 1832.4 L1679.3 1849.1 L1704.6 1858.4 L1729.9 1863.2 L1755.3 1865.3 L1780.6 1866.6 L2015 1866.6" fill="none" stroke="#b82025" stroke-width="4.2" stroke-linejoin="round"/>
<path d="M1129.6 1866.6 L1169.7 1866.6 L1195 1865.6 L1220.3 1864.3 L1245.6 1861.3 L1271 1855.3 L1296.3 1844.5 L1321.6 1827.6 L1346.9 1801.1 L1372.2 1766.1 L1397.6 1725.6 L1422.9 1681.4 L1448.2 1644.1 L1473.5 1618 L1498.8 1610.1 L1524.2 1622.9 L1549.5 1657.4 L1574.8 1705.3 L1600.1 1752.8 L1625.4 1792.7 L1650.8 1822.9 L1676.1 1843.6 L1701.4 1855.4 L1726.7 1861.7 L1752 1864.6 L1777.4 1865.9 L1802.7 1866.6 L2015 1866.6" fill="none" stroke="#b82025" stroke-width="4.2" stroke-linejoin="round"/>
<path d="M1129.6 1866.6 L1162.8 1866.6 L1188.1 1865.9 L1213.5 1864.8 L1238.8 1862.3 L1264.1 1857.7 L1289.4 1849.1 L1314.7 1834.2 L1340.1 1812.6 L1365.4 1782.5 L1390.7 1742 L1416 1701.3 L1441.3 1659.2 L1466.7 1630.3 L1492 1611.8 L1517.3 1618.5 L1542.6 1645.4 L1567.9 1685.9 L1593.3 1729.8 L1618.6 1773.1 L1643.9 1808 L1669.2 1834 L1694.5 1849.5 L1719.9 1858.6 L1745.2 1863.1 L1770.5 1865.2 L1795.8 1866.6 L2015 1866.6" fill="none" stroke="#b82025" stroke-width="4.2" stroke-linejoin="round"/>
<path d="M1129.6 1866.6 L1156.3 1866.6 L1181.6 1865.4 L1206.9 1864 L1232.2 1861.2 L1257.6 1856.3 L1282.9 1847.6 L1308.2 1834.8 L1333.5 1815.6 L1358.8 1789.4 L1384.2 1758.2 L1409.5 1725.9 L1434.8 1692.4 L1460.1 1663.6 L1485.4 1645 L1510.8 1641 L1536.1 1653.4 L1561.4 1678.2 L1586.7 1711 L1612 1748.4 L1637.4 1785.4 L1662.7 1813.2 L1688 1834.3 L1713.3 1848.9 L1738.6 1857.2 L1764 1862.2 L1789.3 1864.6 L1814.6 1865.8 L1839.9 1866.6 L2015 1866.6" fill="none" stroke="#b82025" stroke-width="4.2" stroke-linejoin="round"/>
<path d="M1129.6 1866.6 L1192.6 1866.6 L1218 1865.6 L1243.3 1864 L1268.6 1860.6 L1293.9 1854 L1319.2 1841.9 L1344.6 1822 L1369.9 1793.5 L1395.2 1754.6 L1420.5 1710 L1445.8 1667.6 L1471.2 1628.1 L1496.5 1610.8 L1521.8 1607.5 L1547.1 1632 L1572.4 1675.8 L1597.8 1726.8 L1623.1 1771.9 L1648.4 1809.3 L1673.7 1834.7 L1699 1851.1 L1724.4 1859.5 L1749.7 1863.7 L1775 1865.5 L1800.3 1866.6 L2015 1866.6" fill="none" stroke="#b82025" stroke-width="4.2" stroke-linejoin="round"/>
<path d="M1129.6 1866.6 L1184.3 1866.6 L1209.6 1865.5 L1234.9 1863.9 L1260.2 1860.6 L1285.5 1854.6 L1310.9 1843.8 L1336.2 1826.3 L1361.5 1801.3 L1386.8 1768.6 L1412.1 1728.9 L1437.5 1687.9 L1462.8 1647.6 L1488.1 1623.9 L1513.4 1614.4 L1538.7 1631 L1564.1 1659 L1589.4 1704.6 L1614.7 1748.1 L1640 1788 L1665.3 1819.4 L1690.7 1840.2 L1716 1853.4 L1741.3 1860.5 L1766.6 1864 L1791.9 1865.6 L1817.3 1866.6 L2015 1866.6" fill="none" stroke="#b82025" stroke-width="4.2" stroke-linejoin="round"/>
<path d="M1129.6 1866.6 L1173.7 1866.6 L1199.1 1865.9 L1224.4 1864.9 L1249.7 1862.8 L1275 1858.6 L1300.3 1850.9 L1325.7 1838.3 L1351 1819.1 L1376.3 1792 L1401.6 1757.5 L1426.9 1717.1 L1452.3 1679.4 L1477.6 1647.5 L1502.9 1626.7 L1528.2 1629.5 L1553.5 1647 L1578.9 1678.9 L1604.2 1723.4 L1629.5 1765.1 L1654.8 1800.1 L1680.1 1827.3 L1705.5 1845.1 L1730.8 1855.9 L1756.1 1861.7 L1781.4 1864.5 L1806.7 1865.8 L1832.1 1866.6 L2015 1866.6" fill="none" stroke="#b82025" stroke-width="4.2" stroke-linejoin="round"/>
<path d="M1129.6 1866.6 L1161.6 1866.6 L1186.9 1866 L1212.3 1865.1 L1237.6 1863.3 L1262.9 1859.8 L1288.2 1853.4 L1313.5 1843 L1338.9 1827.3 L1364.2 1803.8 L1389.5 1776 L1414.8 1740.4 L1440.1 1704.7 L1465.5 1672.6 L1490.8 1649.2 L1516.1 1633.8 L1541.4 1642.5 L1566.7 1661.1 L1592.1 1693.3 L1617.4 1735.5 L1642.7 1773.1 L1668 1804.6 L1693.3 1829.1 L1718.7 1845.5 L1744 1855.7 L1769.3 1861.5 L1794.6 1864.3 L1819.9 1865.7 L1845.3 1866.6 L2015 1866.6" fill="none" stroke="#b82025" stroke-width="4.2" stroke-linejoin="round"/>
<path d="M1129.6 1866.6 L1186 1866.6 L1211.3 1865.3 L1236.6 1863.8 L1261.9 1860.7 L1287.2 1854.9 L1312.6 1845.3 L1337.9 1830.5 L1363.2 1808.5 L1388.5 1780.1 L1413.8 1744.9 L1439.2 1709 L1464.5 1675.8 L1489.8 1647.5 L1515.1 1631.8 L1540.4 1638 L1565.8 1654 L1591.1 1690.9 L1616.4 1729 L1641.7 1767.9 L1667 1800.5 L1692.4 1826.1 L1717.7 1843.9 L1743 1854.9 L1768.3 1860.9 L1793.6 1864.1 L1819 1865.6 L1844.3 1866.6 L2015 1866.6" fill="none" stroke="#b82025" stroke-width="4.2" stroke-linejoin="round"/>
<path d="M1129.6 1866.6 L1173.3 1866.6 L1198.6 1865.8 L1223.9 1864.7 L1249.2 1862.6 L1274.5 1858.5 L1299.9 1851.6 L1325.2 1840.3 L1350.5 1823.2 L1375.8 1798.3 L1401.1 1769.3 L1426.5 1735.5 L1451.8 1701 L1477.1 1670 L1502.4 1644.8 L1527.7 1636.2 L1553.1 1643.1 L1578.4 1666.2 L1603.7 1703.3 L1629 1740 L1654.3 1777.5 L1679.7 1807.6 L1705 1830.9 L1730.3 1846.6 L1755.6 1856.5 L1780.9 1861.7 L1806.3 1864.4 L1831.6 1865.7 L1856.9 1866.6 L2015 1866.6" fill="none" stroke="#b82025" stroke-width="4.2" stroke-linejoin="round"/>
<path d="M1129.6 1866.6 L1182.8 1866.6 L1208.1 1865.9 L1233.4 1864.9 L1258.7 1863 L1284 1859 L1309.4 1852 L1334.7 1840 L1360 1822.3 L1385.3 1797.3 L1410.6 1763.9 L1436 1728.3 L1461.3 1689.7 L1486.6 1658.5 L1511.9 1640.2 L1537.2 1631.7 L1562.6 1643 L1587.9 1669.4 L1613.2 1709.5 L1638.5 1749.3 L1663.8 1787.1 L1689.2 1817.2 L1714.5 1837.7 L1739.8 1851.6 L1765.1 1859.1 L1790.4 1863.3 L1815.8 1865.2 L1841.1 1866.6 L2015 1866.6" fill="none" stroke="#b82025" stroke-width="4.2" stroke-linejoin="round"/>
<path d="M1129.6 1866.6 L1201.3 1866.6 L1226.6 1865.6 L1251.9 1864.2 L1277.3 1861.3 L1302.6 1856 L1327.9 1846.3 L1353.2 1831.3 L1378.5 1808 L1403.9 1777.8 L1429.2 1740.9 L1454.5 1702.1 L1479.8 1667 L1505.1 1639.7 L1530.5 1627 L1555.8 1629.5 L1581.1 1658 L1606.4 1691.8 L1631.7 1737.5 L1657.1 1777 L1682.4 1809.8 L1707.7 1833.1 L1733 1848.9 L1758.3 1858 L1783.7 1862.7 L1809 1865 L1834.3 1866.6 L2015 1866.6" fill="none" stroke="#b82025" stroke-width="4.2" stroke-linejoin="round"/>
<path d="M1129.6 1866.6 L1209.9 1866.6 L1235.2 1865.2 L1260.5 1863.4 L1285.8 1860 L1311.1 1853.7 L1336.5 1843 L1361.8 1826 L1387.1 1801.9 L1412.4 1772.4 L1437.7 1736.5 L1463.1 1698.5 L1488.4 1664.1 L1513.7 1638.4 L1539 1629.8 L1564.3 1635.6 L1589.7 1660.6 L1615 1693.8 L1640.3 1736.4 L1665.6 1777.1 L1690.9 1807.9 L1716.3 1832.6 L1741.6 1848 L1766.9 1857.1 L1792.2 1862.3 L1817.5 1864.8 L1842.9 1865.9 L1868.2 1866.6 L2015 1866.6" fill="none" stroke="#b82025" stroke-width="4.2" stroke-linejoin="round"/>
<path d="M1129.6 1866.6 L1192.9 1866.6 L1218.2 1865.7 L1243.6 1864.6 L1268.9 1862.3 L1294.2 1857.9 L1319.5 1850.4 L1344.8 1838 L1370.2 1819.4 L1395.5 1794.5 L1420.8 1763.4 L1446.1 1726.2 L1471.4 1689.2 L1496.8 1658.4 L1522.1 1637.9 L1547.4 1630.4 L1572.7 1641.9 L1598 1668.6 L1623.4 1706.1 L1648.7 1746.4 L1674 1782.6 L1699.3 1813.5 L1724.6 1834.9 L1750 1849.2 L1775.3 1857.8 L1800.6 1862.5 L1825.9 1864.9 L1851.2 1865.9 L1876.6 1866.6 L2015 1866.6" fill="none" stroke="#b82025" stroke-width="4.2" stroke-linejoin="round"/>
<path d="M1129.6 1866.6 L1192.6 1866.6 L1218 1865.9 L1243.3 1864.9 L1268.6 1863 L1293.9 1859.2 L1319.2 1852.7 L1344.6 1841.5 L1369.9 1824.6 L1395.2 1800.8 L1420.5 1771 L1445.8 1735.6 L1471.2 1698.7 L1496.5 1667.6 L1521.8 1645.1 L1547.1 1632.5 L1572.4 1643.3 L1597.8 1664.2 L1623.1 1700.4 L1648.4 1738.6 L1673.7 1777.8 L1699 1807.7 L1724.4 1831.8 L1749.7 1847.5 L1775 1856.8 L1800.3 1862 L1825.6 1864.6 L1851 1865.8 L1876.3 1866.6 L2015 1866.6" fill="none" stroke="#b82025" stroke-width="4.2" stroke-linejoin="round"/>
<rect x="1129.6" y="1534.5" width="885.4" height="348.3" fill="none" stroke="#000" stroke-width="2.1"/>
<line x1="1129.6" y1="1882.8" x2="1129.6" y2="1892.1" stroke="#000" stroke-width="2.1"/>
<text x="1129.6" y="1924.8" font-size="34" text-anchor="middle" font-family="'DejaVu Sans', 'Liberation Sans', sans-serif">5.5</text>
<line x1="1256.2" y1="1882.8" x2="1256.2" y2="1892.1" stroke="#000" stroke-width="2.1"/>
<text x="1256.2" y="1924.8" font-size="34" text-anchor="middle" font-family="'DejaVu Sans', 'Liberation Sans', sans-serif">6.0</text>
<line x1="1382.8" y1="1882.8" x2="1382.8" y2="1892.1" stroke="#000" stroke-width="2.1"/>
<text x="1382.8" y="1924.8" font-size="34" text-anchor="middle" font-family="'DejaVu Sans', 'Liberation Sans', sans-serif">6.5</text>
<line x1="1509.4" y1="1882.8" x2="1509.4" y2="1892.1" stroke="#000" stroke-width="2.1"/>
<text x="1509.4" y="1924.8" font-size="34" text-anchor="middle" font-family="'DejaVu Sans', 'Liberation Sans', sans-serif">7.0</text>
<line x1="1636" y1="1882.8" x2="1636" y2="1892.1" stroke="#000" stroke-width="2.1"/>
<text x="1636" y="1924.8" font-size="34" text-anchor="middle" font-family="'DejaVu Sans', 'Liberation Sans', sans-serif">7.5</text>
<line x1="1762.6" y1="1882.8" x2="1762.6" y2="1892.1" stroke="#000" stroke-width="2.1"/>
<text x="1762.6" y="1924.8" font-size="34" text-anchor="middle" font-family="'DejaVu Sans', 'Liberation Sans', sans-serif">8.0</text>
<line x1="1889.2" y1="1882.8" x2="1889.2" y2="1892.1" stroke="#000" stroke-width="2.1"/>
<text x="1889.2" y="1924.8" font-size="34" text-anchor="middle" font-family="'DejaVu Sans', 'Liberation Sans', sans-serif">8.5</text>
<line x1="2015.8" y1="1882.8" x2="2015.8" y2="1892.1" stroke="#000" stroke-width="2.1"/>
<text x="2015.8" y="1924.8" font-size="34" text-anchor="middle" font-family="'DejaVu Sans', 'Liberation Sans', sans-serif">9.0</text>
<text x="1572" y="1968.8" font-size="34" text-anchor="middle" font-family="'DejaVu Sans', 'Liberation Sans', sans-serif"><tspan font-style="italic">log</tspan>(<tspan font-style="italic">V</tspan><tspan font-style="italic" font-size="23.8" dy="5">c</tspan><tspan dy="-5">)</tspan></text>
<text x="1116.5" y="1711.2" font-size="34" text-anchor="middle" font-family="'DejaVu Sans', 'Liberation Sans', sans-serif" transform="rotate(-90 1116.5 1711.2)">Density</text>
<line x1="1153.3" y1="1570.2" x2="1212.6" y2="1570.2" stroke="#f4a460" stroke-width="3.6"/>
<line x1="1153.3" y1="1610.1" x2="1212.6" y2="1610.1" stroke="#b82025" stroke-width="4.2"/>
<text x="1234.1" y="1579.5" font-size="27.1" text-anchor="start" font-family="'DejaVu Sans', 'Liberation Sans', sans-serif">96h</text>
<text x="1234.1" y="1619.7" font-size="27.1" text-anchor="start" font-family="'DejaVu Sans', 'Liberation Sans', sans-serif">120h</text>
<text x="1046" y="1574" font-size="48" text-anchor="start" font-family="'Liberation Sans', 'DejaVu Sans', sans-serif" font-weight="bold">g</text>
<rect x="1849.6" y="1547.5" width="132.8" height="242.8" fill="#fff" stroke="#000" stroke-width="1.4"/>
<line x1="1841.6" y1="1563.1" x2="1849.6" y2="1563.1" stroke="#000" stroke-width="1.6"/>
<text x="1836.6" y="1573.1" font-size="27.5" text-anchor="end" font-family="'DejaVu Sans', 'Liberation Sans', sans-serif">6</text>
<line x1="1841.6" y1="1676.7" x2="1849.6" y2="1676.7" stroke="#000" stroke-width="1.6"/>
<text x="1836.6" y="1686.7" font-size="27.5" text-anchor="end" font-family="'DejaVu Sans', 'Liberation Sans', sans-serif">5</text>
<line x1="1841.6" y1="1790.3" x2="1849.6" y2="1790.3" stroke="#000" stroke-width="1.6"/>
<text x="1836.6" y="1800.3" font-size="27.5" text-anchor="end" font-family="'DejaVu Sans', 'Liberation Sans', sans-serif">4</text>
<line x1="1882.8" y1="1790.3" x2="1882.8" y2="1798.3" stroke="#000" stroke-width="1.6"/>
<text x="1882.8" y="1823.9" font-size="27.5" text-anchor="middle" font-family="'DejaVu Sans', 'Liberation Sans', sans-serif">96</text>
<line x1="1949" y1="1790.3" x2="1949" y2="1798.3" stroke="#000" stroke-width="1.6"/>
<text x="1949" y="1823.9" font-size="27.5" text-anchor="middle" font-family="'DejaVu Sans', 'Liberation Sans', sans-serif">120</text>
<text x="1915.3" y="1857.1" font-size="27" text-anchor="middle" font-family="'DejaVu Sans', 'Liberation Sans', sans-serif">Time (h)</text>
<text x="1806.5" y="1668.6" font-size="28" text-anchor="middle" font-family="'DejaVu Sans', 'Liberation Sans', sans-serif" transform="rotate(-90 1806.5 1668.6)"><tspan font-style="italic">δ</tspan><tspan font-style="italic" font-size="20" dy="5">S</tspan><tspan dy="-5"> (%)</tspan></text>
<line x1="1882.8" y1="1731.3" x2="1882.8" y2="1764.6" stroke="#f4a460" stroke-width="3"/>
<circle cx="1882.8" cy="1747.8" r="5.6" fill="#f4a460"/>
<line x1="1949" y1="1557.6" x2="1949" y2="1608.1" stroke="#b82025" stroke-width="3"/>
<circle cx="1949" cy="1583.3" r="5.6" fill="#b82025"/>
</g>
<g id="pc">
<g fill="#ee8560" stroke="#fff" stroke-width="1.2"><circle cx="217.2" cy="1272.6" r="5.9"/><circle cx="228.4" cy="1252.2" r="5.9"/><circle cx="214" cy="1270.8" r="5.9"/><circle cx="233.5" cy="1265.1" r="5.9"/><circle cx="208.1" cy="1262.9" r="5.9"/><circle cx="231.7" cy="1259.9" r="5.9"/><circle cx="240.5" cy="1257.2" r="5.9"/><circle cx="221.8" cy="1261.1" r="5.9"/><circle cx="238.4" cy="1245.2" r="5.9"/><circle cx="212" cy="1260.8" r="5.9"/><circle cx="225.5" cy="1262.2" r="5.9"/><circle cx="221.2" cy="1264" r="5.9"/><circle cx="189.2" cy="1272.4" r="5.9"/><circle cx="205" cy="1265.2" r="5.9"/><circle cx="210.7" cy="1262.3" r="5.9"/><circle cx="213.6" cy="1259.5" r="5.9"/><circle cx="220.8" cy="1268.1" r="5.9"/><circle cx="219.3" cy="1276.7" r="5.9"/><circle cx="229.4" cy="1262.3" r="5.9"/><circle cx="230.8" cy="1253.7" r="5.9"/><circle cx="240.8" cy="1245.1" r="5.9"/><circle cx="230.8" cy="1233.7" r="5.9"/><circle cx="241.7" cy="1220.2" r="5.9"/><circle cx="246.6" cy="1255.2" r="5.9"/><circle cx="240.3" cy="1274.7" r="5.9"/><circle cx="223.6" cy="1258" r="5.9"/></g>
<g fill="#c43a6c" stroke="#fff" stroke-width="1.2"><circle cx="376.7" cy="1147.4" r="5.9"/><circle cx="387.5" cy="1132.5" r="5.9"/><circle cx="343.8" cy="1178.7" r="5.9"/><circle cx="345.5" cy="1168.6" r="5.9"/><circle cx="345.5" cy="1170.3" r="5.9"/><circle cx="357.6" cy="1160.9" r="5.9"/><circle cx="403.9" cy="1114.5" r="5.9"/><circle cx="376.1" cy="1128.5" r="5.9"/><circle cx="367.6" cy="1155.7" r="5.9"/><circle cx="369.3" cy="1151.3" r="5.9"/><circle cx="365.8" cy="1141.3" r="5.9"/><circle cx="374.1" cy="1135.3" r="5.9"/><circle cx="396.5" cy="1117.1" r="5.9"/><circle cx="380" cy="1137.6" r="5.9"/><circle cx="381.3" cy="1130.5" r="5.9"/><circle cx="384.4" cy="1132.3" r="5.9"/><circle cx="332.6" cy="1185.8" r="5.9"/><circle cx="334" cy="1173.5" r="5.9"/><circle cx="342.6" cy="1164.9" r="5.9"/><circle cx="352.1" cy="1154.8" r="5.9"/><circle cx="358.4" cy="1143.3" r="5.9"/><circle cx="367" cy="1172" r="5.9"/><circle cx="372.7" cy="1141.9" r="5.9"/><circle cx="378.4" cy="1137.6" r="5.9"/><circle cx="372.1" cy="1119.8" r="5.9"/><circle cx="381.3" cy="1163.4" r="5.9"/><circle cx="388.5" cy="1124.7" r="5.9"/><circle cx="392.8" cy="1131.9" r="5.9"/><circle cx="394.2" cy="1153.4" r="5.9"/><circle cx="398.5" cy="1123.3" r="5.9"/></g>
<g fill="#75bd93" stroke="#fff" stroke-width="1.2"><circle cx="417.4" cy="1162.3" r="5.9"/><circle cx="399" cy="1164.2" r="5.9"/><circle cx="411.8" cy="1165.9" r="5.9"/><circle cx="415.4" cy="1153.1" r="5.9"/><circle cx="410" cy="1168" r="5.9"/><circle cx="405.8" cy="1168.7" r="5.9"/><circle cx="400.4" cy="1164.9" r="5.9"/><circle cx="390.2" cy="1176.8" r="5.9"/><circle cx="415.9" cy="1173.5" r="5.9"/><circle cx="417" cy="1167.4" r="5.9"/><circle cx="413.2" cy="1167.1" r="5.9"/><circle cx="408" cy="1172.8" r="5.9"/><circle cx="416.9" cy="1152.2" r="5.9"/><circle cx="406.2" cy="1187.6" r="5.9"/><circle cx="387" cy="1203" r="5.9"/><circle cx="382.7" cy="1173.5" r="5.9"/><circle cx="385.6" cy="1187.8" r="5.9"/><circle cx="391.3" cy="1160.6" r="5.9"/><circle cx="394.2" cy="1177.8" r="5.9"/><circle cx="401.4" cy="1166.3" r="5.9"/><circle cx="407.1" cy="1151.9" r="5.9"/><circle cx="410" cy="1173.5" r="5.9"/><circle cx="412.8" cy="1180.6" r="5.9"/><circle cx="415.7" cy="1149.1" r="5.9"/><circle cx="421.4" cy="1151.9" r="5.9"/><circle cx="426.3" cy="1135.6" r="5.9"/><circle cx="404.2" cy="1182.1" r="5.9"/></g>
<defs><path id="X62" d="M2.9 -6.5 L6.5 -2.9 L3.6 -0 L6.5 2.9 L2.9 6.5 L0 3.6 L-2.9 6.5 L-6.5 2.9 L-3.6 0 L-6.5 -2.9 L-2.9 -6.5 L-0 -3.6Z"/></defs>
<g fill="#ee8560" stroke="#fff" stroke-width="1.2" stroke-linejoin="round"><use href="#X62" x="385.8" y="1118.2"/><use href="#X62" x="385" y="1104.5"/><use href="#X62" x="408.5" y="1102.3"/><use href="#X62" x="384.4" y="1118"/><use href="#X62" x="378.2" y="1112.6"/><use href="#X62" x="380.1" y="1119.4"/><use href="#X62" x="393.8" y="1108.8"/><use href="#X62" x="385.3" y="1121.3"/><use href="#X62" x="375" y="1127.2"/><use href="#X62" x="390.3" y="1105.2"/><use href="#X62" x="358.7" y="1131"/><use href="#X62" x="384.2" y="1116.6"/><use href="#X62" x="392.3" y="1098.4"/><use href="#X62" x="382.3" y="1119.3"/><use href="#X62" x="370.5" y="1110.2"/><use href="#X62" x="396.1" y="1117.6"/><use href="#X62" x="387.1" y="1104"/><use href="#X62" x="376.6" y="1121.8"/><use href="#X62" x="404.5" y="1098.1"/><use href="#X62" x="386.5" y="1121.6"/><use href="#X62" x="385.6" y="1124.5"/><use href="#X62" x="371.4" y="1121.9"/><use href="#X62" x="392.2" y="1115.2"/><use href="#X62" x="387.7" y="1111.8"/><use href="#X62" x="346.9" y="1129"/><use href="#X62" x="359.8" y="1120.4"/><use href="#X62" x="362.7" y="1127.6"/></g>
<g fill="#35869a" stroke="#fff" stroke-width="1.2"><circle cx="472.6" cy="1110.4" r="5.9"/><circle cx="498.3" cy="1088.3" r="5.9"/><circle cx="523.8" cy="1066.5" r="5.9"/><circle cx="530.5" cy="1065.4" r="5.9"/><circle cx="508" cy="1087.2" r="5.9"/><circle cx="528" cy="1077.3" r="5.9"/><circle cx="502.9" cy="1087.7" r="5.9"/><circle cx="496.2" cy="1116.7" r="5.9"/><circle cx="542.4" cy="1050.9" r="5.9"/><circle cx="496.6" cy="1081.1" r="5.9"/><circle cx="518.7" cy="1078.1" r="5.9"/><circle cx="559.9" cy="1039.6" r="5.9"/><circle cx="483.9" cy="1080" r="5.9"/><circle cx="543.8" cy="1054.1" r="5.9"/><circle cx="482.4" cy="1112.2" r="5.9"/><circle cx="495.5" cy="1126" r="5.9"/><circle cx="540.3" cy="1062.2" r="5.9"/><circle cx="497.2" cy="1069.4" r="5.9"/><circle cx="501.8" cy="1072.3" r="5.9"/><circle cx="512.9" cy="1054.5" r="5.9"/><circle cx="503.1" cy="1105.5" r="5.9"/><circle cx="540.1" cy="1040.6" r="5.9"/><circle cx="488.3" cy="1115.3" r="5.9"/><circle cx="525.2" cy="1057.1" r="5.9"/><circle cx="470.2" cy="1120.4" r="5.9"/><circle cx="475.9" cy="1120.4" r="5.9"/><circle cx="470.2" cy="1101.8" r="5.9"/><circle cx="477.4" cy="1083.1" r="5.9"/><circle cx="484.5" cy="1094.6" r="5.9"/><circle cx="490.8" cy="1110.4" r="5.9"/><circle cx="491.7" cy="1073.1" r="5.9"/><circle cx="498.9" cy="1060.2" r="5.9"/></g>
<defs><path id="s53" d="M-5.3 -5.3h10.6v10.6h-10.6Z"/></defs>
<g fill="#ee8560" stroke="#fff" stroke-width="1.2" stroke-linejoin="round"><use href="#s53" x="459.6" y="1058.3"/><use href="#s53" x="457.1" y="1060.8"/><use href="#s53" x="473.3" y="1053"/><use href="#s53" x="475.2" y="1046.8"/><use href="#s53" x="461.6" y="1054.8"/><use href="#s53" x="460.8" y="1053.8"/><use href="#s53" x="457.9" y="1067.6"/><use href="#s53" x="474.6" y="1052.5"/><use href="#s53" x="472.5" y="1051.3"/><use href="#s53" x="461.6" y="1060.7"/><use href="#s53" x="460" y="1055.6"/><use href="#s53" x="452.3" y="1060.8"/><use href="#s53" x="465.4" y="1057.5"/><use href="#s53" x="466.5" y="1063.4"/><use href="#s53" x="467.5" y="1057.8"/><use href="#s53" x="468.9" y="1048.7"/><use href="#s53" x="457.1" y="1068.7"/><use href="#s53" x="465.1" y="1064.1"/><use href="#s53" x="469.5" y="1058.3"/><use href="#s53" x="463.2" y="1047.3"/><use href="#s53" x="466.8" y="1051.6"/><use href="#s53" x="460" y="1059.4"/><use href="#s53" x="471.3" y="1055.9"/><use href="#s53" x="465.6" y="1047.3"/><use href="#s53" x="455.7" y="1053.2"/><use href="#s53" x="466.1" y="1059.2"/><use href="#s53" x="461.8" y="1061.4"/><use href="#s53" x="468.9" y="1058.8"/><use href="#s53" x="458.5" y="1058.5"/><use href="#s53" x="465.9" y="1065.8"/></g>
<g fill="#c43a6c" stroke="#fff" stroke-width="1.2" stroke-linejoin="round"><use href="#X62" x="523.4" y="1014"/><use href="#X62" x="518.1" y="1020.9"/><use href="#X62" x="516.6" y="1019.7"/><use href="#X62" x="508.4" y="1018.8"/><use href="#X62" x="518.2" y="1033.6"/><use href="#X62" x="520.2" y="1018.6"/><use href="#X62" x="514.7" y="1023.8"/><use href="#X62" x="515.9" y="1016.8"/><use href="#X62" x="518.4" y="1021.7"/><use href="#X62" x="507.3" y="1023.7"/><use href="#X62" x="504.4" y="1024.2"/><use href="#X62" x="513" y="1005.9"/><use href="#X62" x="511.5" y="1021.2"/><use href="#X62" x="511.9" y="1026.7"/><use href="#X62" x="524.5" y="1014.6"/><use href="#X62" x="512.5" y="1020.3"/><use href="#X62" x="518.8" y="1026.9"/><use href="#X62" x="508.4" y="1019.7"/><use href="#X62" x="502.3" y="1025.9"/><use href="#X62" x="510.4" y="1036.4"/><use href="#X62" x="517.6" y="1018.5"/><use href="#X62" x="523.9" y="1009.1"/><use href="#X62" x="524.8" y="1020.3"/><use href="#X62" x="498.3" y="1025.9"/></g>
<defs><path id="P64" d="M-2.2 -6.4 L2.2 -6.4 L2.2 -2.2 L6.4 -2.2 L6.4 2.2 L2.2 2.2 L2.2 6.4 L-2.2 6.4 L-2.2 2.2 L-6.4 2.2 L-6.4 -2.2 L-2.2 -2.2Z"/></defs>
<g fill="#ee8560" stroke="#fff" stroke-width="1.2" stroke-linejoin="round"><use href="#P64" x="524" y="1006.3"/><use href="#P64" x="531.3" y="981.7"/><use href="#P64" x="533" y="987.1"/><use href="#P64" x="521.9" y="996.3"/><use href="#P64" x="517.1" y="990.3"/><use href="#P64" x="514.6" y="997.5"/><use href="#P64" x="539.2" y="1001.7"/><use href="#P64" x="541.6" y="979.4"/><use href="#P64" x="512.8" y="1006.1"/><use href="#P64" x="528.4" y="1011.1"/><use href="#P64" x="528.1" y="988.9"/><use href="#P64" x="536" y="991.9"/><use href="#P64" x="513" y="1004.9"/><use href="#P64" x="525.3" y="997.7"/><use href="#P64" x="526.6" y="993.6"/><use href="#P64" x="526" y="992.1"/><use href="#P64" x="526.7" y="1008.8"/><use href="#P64" x="531.4" y="995.4"/><use href="#P64" x="514.7" y="1006.2"/><use href="#P64" x="527.6" y="984.7"/><use href="#P64" x="533.4" y="986.8"/><use href="#P64" x="529.4" y="992.6"/><use href="#P64" x="533.6" y="999.7"/><use href="#P64" x="530.5" y="1005.6"/></g>
<g fill="#75bd93" stroke="#fff" stroke-width="1.2" stroke-linejoin="round"><use href="#X62" x="550.6" y="1018.8"/><use href="#X62" x="565.1" y="1003.7"/><use href="#X62" x="563.6" y="1024.2"/><use href="#X62" x="566.8" y="995.3"/><use href="#X62" x="577.2" y="1020.7"/><use href="#X62" x="574" y="1003.3"/><use href="#X62" x="555.5" y="1020.3"/><use href="#X62" x="550" y="1025.8"/><use href="#X62" x="560.4" y="1017.1"/><use href="#X62" x="573.9" y="1003.4"/><use href="#X62" x="553.2" y="1035.4"/><use href="#X62" x="549.9" y="1024.1"/><use href="#X62" x="560" y="1015.5"/><use href="#X62" x="551.6" y="1024.4"/><use href="#X62" x="582.3" y="991.9"/><use href="#X62" x="567" y="1023"/><use href="#X62" x="574.2" y="1012.7"/><use href="#X62" x="562.3" y="997.7"/><use href="#X62" x="554.8" y="1025"/><use href="#X62" x="574.3" y="1017.8"/><use href="#X62" x="566.6" y="1010.3"/><use href="#X62" x="562.4" y="1014.5"/><use href="#X62" x="568.8" y="1017"/><use href="#X62" x="555.6" y="1015.1"/><use href="#X62" x="559.6" y="1029.8"/><use href="#X62" x="580.8" y="1008.7"/></g>
<g fill="#254c8c" stroke="#fff" stroke-width="1.2"><circle cx="616.1" cy="996.6" r="5.9"/><circle cx="603.5" cy="1005.8" r="5.9"/><circle cx="582.6" cy="1011.3" r="5.9"/><circle cx="594.4" cy="1015.4" r="5.9"/><circle cx="589.5" cy="1006.2" r="5.9"/><circle cx="614.4" cy="1006.8" r="5.9"/><circle cx="579.9" cy="1001.6" r="5.9"/><circle cx="599.5" cy="980.2" r="5.9"/><circle cx="599.2" cy="989.4" r="5.9"/><circle cx="581.6" cy="985.4" r="5.9"/><circle cx="603.2" cy="986.8" r="5.9"/><circle cx="603.4" cy="1029.2" r="5.9"/><circle cx="626.3" cy="1011.2" r="5.9"/><circle cx="600.5" cy="991.9" r="5.9"/><circle cx="612.7" cy="1012.7" r="5.9"/><circle cx="601.4" cy="1004.3" r="5.9"/><circle cx="597.2" cy="985.7" r="5.9"/><circle cx="595.5" cy="994" r="5.9"/><circle cx="588.9" cy="1023" r="5.9"/><circle cx="607.3" cy="992.4" r="5.9"/><circle cx="569.6" cy="993.8" r="5.9"/><circle cx="603.5" cy="993.1" r="5.9"/><circle cx="575.5" cy="1020.3" r="5.9"/><circle cx="577.9" cy="1018.6" r="5.9"/></g>
<g fill="#c43a6c" stroke="#fff" stroke-width="1.2" stroke-linejoin="round"><use href="#s53" x="573.4" y="967.7"/><use href="#s53" x="573.1" y="965.9"/><use href="#s53" x="556.3" y="975.8"/><use href="#s53" x="563.5" y="970.6"/><use href="#s53" x="576.2" y="968"/><use href="#s53" x="574" y="937.9"/><use href="#s53" x="573" y="962"/><use href="#s53" x="597.5" y="951.2"/><use href="#s53" x="555.4" y="985.3"/><use href="#s53" x="570.2" y="977.8"/><use href="#s53" x="558.7" y="976.6"/><use href="#s53" x="568.1" y="967.7"/><use href="#s53" x="553.9" y="962"/><use href="#s53" x="580.2" y="968.4"/><use href="#s53" x="563.7" y="961.7"/><use href="#s53" x="575.2" y="968.3"/><use href="#s53" x="568.1" y="968.6"/><use href="#s53" x="578.2" y="946.9"/><use href="#s53" x="553.8" y="961.3"/><use href="#s53" x="558.8" y="969.4"/><use href="#s53" x="556.4" y="972.2"/><use href="#s53" x="587.2" y="948.6"/><use href="#s53" x="580.9" y="980.9"/><use href="#s53" x="559.8" y="957.5"/><use href="#s53" x="568.9" y="957.7"/><use href="#s53" x="579.8" y="944"/><use href="#s53" x="555.3" y="963.3"/><use href="#s53" x="565.4" y="960.2"/><use href="#s53" x="567.3" y="965.4"/><use href="#s53" x="569" y="978.4"/><use href="#s53" x="579.9" y="958.4"/><use href="#s53" x="555" y="969.5"/></g>
<g fill="#c43a6c" stroke="#fff" stroke-width="1.2" stroke-linejoin="round"><use href="#P64" x="626.6" y="944.3"/><use href="#P64" x="604.9" y="935.1"/><use href="#P64" x="601.1" y="935.7"/><use href="#P64" x="602.8" y="942.7"/><use href="#P64" x="626.5" y="922.2"/><use href="#P64" x="600.4" y="931.4"/><use href="#P64" x="614.9" y="933"/><use href="#P64" x="596.2" y="940.4"/><use href="#P64" x="617.5" y="940.5"/><use href="#P64" x="619.9" y="930.4"/><use href="#P64" x="611.5" y="939.5"/><use href="#P64" x="623.4" y="946.2"/><use href="#P64" x="600.5" y="943.3"/><use href="#P64" x="623.7" y="922.3"/><use href="#P64" x="626.2" y="922"/><use href="#P64" x="612.6" y="931.8"/><use href="#P64" x="595.3" y="942.4"/><use href="#P64" x="636.9" y="918.6"/><use href="#P64" x="623.3" y="934.4"/><use href="#P64" x="623.3" y="935.1"/><use href="#P64" x="609.4" y="936.2"/><use href="#P64" x="620.6" y="924.4"/><use href="#P64" x="599.4" y="945.8"/><use href="#P64" x="610.8" y="943"/></g>
<g fill="#75bd93" stroke="#fff" stroke-width="1.2" stroke-linejoin="round"><use href="#s53" x="621.1" y="942.1"/><use href="#s53" x="632.9" y="948.9"/><use href="#s53" x="630.2" y="941.9"/><use href="#s53" x="631.1" y="942"/><use href="#s53" x="641.5" y="939.7"/><use href="#s53" x="622.7" y="957.3"/><use href="#s53" x="628.9" y="939.9"/><use href="#s53" x="645.4" y="925.2"/><use href="#s53" x="647.4" y="931.1"/><use href="#s53" x="624.2" y="949.9"/><use href="#s53" x="634.9" y="935.5"/><use href="#s53" x="612.8" y="954.9"/><use href="#s53" x="624.8" y="938.3"/><use href="#s53" x="642.4" y="927.6"/><use href="#s53" x="626.1" y="942.6"/><use href="#s53" x="621.6" y="943.6"/><use href="#s53" x="631.8" y="941.5"/><use href="#s53" x="626" y="944.2"/><use href="#s53" x="621.7" y="952.5"/><use href="#s53" x="625.3" y="946.9"/></g>
<g fill="#75bd93" stroke="#fff" stroke-width="1.2" stroke-linejoin="round"><use href="#P64" x="660.7" y="908.5"/><use href="#P64" x="669.2" y="894.7"/><use href="#P64" x="694.2" y="880.6"/><use href="#P64" x="668.2" y="899.5"/><use href="#P64" x="693.9" y="892.7"/><use href="#P64" x="669.4" y="893.2"/><use href="#P64" x="669.4" y="909.5"/><use href="#P64" x="661.9" y="901.8"/><use href="#P64" x="656.7" y="910.1"/><use href="#P64" x="669.5" y="899"/><use href="#P64" x="681.7" y="911.8"/><use href="#P64" x="685.7" y="880.4"/><use href="#P64" x="675.8" y="899.1"/><use href="#P64" x="674.9" y="907.9"/><use href="#P64" x="667.3" y="903.8"/><use href="#P64" x="667.8" y="905.2"/><use href="#P64" x="688.3" y="893"/><use href="#P64" x="656.5" y="913"/><use href="#P64" x="667.3" y="913.2"/><use href="#P64" x="678" y="903.7"/><use href="#P64" x="663.5" y="894.3"/><use href="#P64" x="677.5" y="898.6"/><use href="#P64" x="671.8" y="891.4"/><use href="#P64" x="670" y="898.2"/><use href="#P64" x="666.5" y="910.2"/><use href="#P64" x="671.9" y="894.7"/></g>
<g fill="#35869a" stroke="#fff" stroke-width="1.2" stroke-linejoin="round"><use href="#X62" x="658" y="913.8"/><use href="#X62" x="691.7" y="919.6"/><use href="#X62" x="679.9" y="893.6"/><use href="#X62" x="684" y="919.1"/><use href="#X62" x="721.3" y="892.1"/><use href="#X62" x="698.9" y="902.6"/><use href="#X62" x="676.7" y="916.5"/><use href="#X62" x="684.4" y="905.6"/><use href="#X62" x="691.7" y="902.9"/><use href="#X62" x="705.3" y="910.2"/><use href="#X62" x="705" y="899.2"/><use href="#X62" x="681.5" y="900.2"/><use href="#X62" x="694.5" y="910.6"/><use href="#X62" x="686.7" y="925.8"/><use href="#X62" x="690.7" y="912.3"/><use href="#X62" x="681.8" y="902.8"/><use href="#X62" x="713.6" y="873.6"/><use href="#X62" x="701.9" y="891.4"/><use href="#X62" x="692.2" y="897.9"/><use href="#X62" x="692.6" y="916.5"/><use href="#X62" x="713.8" y="877"/><use href="#X62" x="698.3" y="911.4"/><use href="#X62" x="688.7" y="917.9"/><use href="#X62" x="686.1" y="919.2"/><use href="#X62" x="705.4" y="907.6"/><use href="#X62" x="691.2" y="894.6"/><use href="#X62" x="695.6" y="891.4"/><use href="#X62" x="711.1" y="905.5"/><use href="#X62" x="697.7" y="895.4"/><use href="#X62" x="709.5" y="892.2"/></g>
<g fill="#35869a" stroke="#fff" stroke-width="1.2" stroke-linejoin="round"><use href="#s53" x="741.5" y="853.8"/><use href="#s53" x="770.8" y="826.6"/><use href="#s53" x="756.4" y="839.8"/><use href="#s53" x="735.8" y="857.4"/><use href="#s53" x="762" y="840.5"/><use href="#s53" x="743.4" y="832.4"/><use href="#s53" x="774.3" y="834.6"/><use href="#s53" x="775.3" y="840"/><use href="#s53" x="748.8" y="844.1"/><use href="#s53" x="769.6" y="849.5"/><use href="#s53" x="737.4" y="859.1"/><use href="#s53" x="752.3" y="853.6"/><use href="#s53" x="771.3" y="826.2"/><use href="#s53" x="743.8" y="856.1"/><use href="#s53" x="745.4" y="837"/><use href="#s53" x="763.8" y="830.8"/><use href="#s53" x="757.2" y="828.3"/><use href="#s53" x="761" y="823.3"/><use href="#s53" x="758.5" y="821.6"/><use href="#s53" x="770" y="826.6"/><use href="#s53" x="738.8" y="857.7"/><use href="#s53" x="755.2" y="833.8"/><use href="#s53" x="753.1" y="849.7"/><use href="#s53" x="742.5" y="831.4"/><use href="#s53" x="754.7" y="849.9"/><use href="#s53" x="765.8" y="845.8"/><use href="#s53" x="762.1" y="863.5"/><use href="#s53" x="767.4" y="836.6"/><use href="#s53" x="774.1" y="837.3"/><use href="#s53" x="754.7" y="838.3"/><use href="#s53" x="770.5" y="834.9"/><use href="#s53" x="730.3" y="856.1"/></g>
<g fill="#254c8c" stroke="#fff" stroke-width="1.2" stroke-linejoin="round"><use href="#X62" x="757" y="838.2"/><use href="#X62" x="759" y="845.1"/><use href="#X62" x="765" y="855"/><use href="#X62" x="739" y="846.8"/><use href="#X62" x="760.4" y="845.5"/><use href="#X62" x="772.6" y="846.2"/><use href="#X62" x="753.4" y="859.1"/><use href="#X62" x="747.5" y="828.1"/><use href="#X62" x="765.4" y="862.9"/><use href="#X62" x="756.4" y="829.2"/><use href="#X62" x="715.2" y="863.8"/><use href="#X62" x="741.5" y="852.4"/></g>
<g fill="#35869a" stroke="#fff" stroke-width="1.2" stroke-linejoin="round"><use href="#P64" x="828.7" y="768.5"/><use href="#P64" x="790.5" y="788.5"/><use href="#P64" x="770.1" y="814.9"/><use href="#P64" x="793.6" y="816.8"/><use href="#P64" x="780.6" y="801"/><use href="#P64" x="808.4" y="781.3"/><use href="#P64" x="776.5" y="823.2"/><use href="#P64" x="778.6" y="796"/><use href="#P64" x="797.5" y="795.6"/><use href="#P64" x="788" y="806.7"/><use href="#P64" x="798.9" y="781.1"/><use href="#P64" x="746.1" y="817.5"/><use href="#P64" x="793.9" y="806.2"/><use href="#P64" x="812.7" y="789.9"/><use href="#P64" x="819.7" y="770"/><use href="#P64" x="799.5" y="774.2"/><use href="#P64" x="802.9" y="789.6"/><use href="#P64" x="786.4" y="797.2"/><use href="#P64" x="772.9" y="815.6"/><use href="#P64" x="808.6" y="776.8"/><use href="#P64" x="795.3" y="786.6"/><use href="#P64" x="789.2" y="789"/><use href="#P64" x="795" y="791.2"/><use href="#P64" x="792.1" y="790.1"/><use href="#P64" x="769.6" y="814.1"/><use href="#P64" x="814.2" y="790.3"/><use href="#P64" x="788.7" y="807"/><use href="#P64" x="804" y="788.5"/><use href="#P64" x="766.8" y="823.1"/><use href="#P64" x="780.2" y="818.7"/><use href="#P64" x="805.6" y="789.2"/><use href="#P64" x="757.9" y="834.5"/><use href="#P64" x="795" y="780.9"/><use href="#P64" x="805.9" y="783.7"/><use href="#P64" x="783.6" y="797.1"/><use href="#P64" x="771.6" y="811.2"/></g>
<g fill="#254c8c" stroke="#fff" stroke-width="1.2" stroke-linejoin="round"><use href="#s53" x="874.7" y="723.6"/><use href="#s53" x="857.3" y="734.2"/><use href="#s53" x="851.6" y="740.2"/><use href="#s53" x="854.6" y="747.3"/><use href="#s53" x="859" y="743"/><use href="#s53" x="852.8" y="749.3"/><use href="#s53" x="860.1" y="740.6"/><use href="#s53" x="854.2" y="735.5"/><use href="#s53" x="859.8" y="716.3"/><use href="#s53" x="854.1" y="730.7"/><use href="#s53" x="865.5" y="726.4"/><use href="#s53" x="848.3" y="737.8"/><use href="#s53" x="862.7" y="740.7"/><use href="#s53" x="869.8" y="746.4"/><use href="#s53" x="856.9" y="753.6"/><use href="#s53" x="865.5" y="753.6"/><use href="#s53" x="852.6" y="769.4"/><use href="#s53" x="858.4" y="762.2"/><use href="#s53" x="854.1" y="776.5"/><use href="#s53" x="851.2" y="795.2"/><use href="#s53" x="872.7" y="750.7"/><use href="#s53" x="848.3" y="743.6"/><use href="#s53" x="861.2" y="735"/></g>
<g fill="#254c8c" stroke="#fff" stroke-width="1.2" stroke-linejoin="round"><use href="#P64" x="917.2" y="681.4"/><use href="#P64" x="907.5" y="687"/><use href="#P64" x="911.6" y="687.2"/><use href="#P64" x="915.1" y="689.9"/><use href="#P64" x="902.2" y="687.6"/><use href="#P64" x="924.3" y="657.5"/><use href="#P64" x="922.9" y="667.6"/><use href="#P64" x="924.3" y="680.5"/><use href="#P64" x="925.7" y="694.8"/><use href="#P64" x="894.2" y="697.1"/><use href="#P64" x="912.8" y="694.8"/><use href="#P64" x="875.6" y="705.7"/><use href="#P64" x="898.5" y="709.2"/><use href="#P64" x="905.7" y="710.6"/><use href="#P64" x="922.9" y="721.2"/><use href="#P64" x="882.7" y="745"/><use href="#P64" x="930" y="663.3"/><use href="#P64" x="921.4" y="671.9"/><use href="#P64" x="901.4" y="703.4"/></g>
<path d="M813.7 768.7h10.6v10.6h-10.6Z" fill="#254c8c" stroke="#fff" stroke-width="1.2" stroke-linejoin="round"/>
<path d="M672.2 852.7h10.6v10.6h-10.6Z" fill="#35869a" stroke="#fff" stroke-width="1.2" stroke-linejoin="round"/>
<line x1="206.4" y1="1358.4" x2="948.7" y2="655.3" stroke="#000" stroke-width="4.6"/>
<line x1="206.4" y1="1301" x2="948.7" y2="599.6" stroke="#000" stroke-width="4.6" stroke-dasharray="17.2 7.2"/>
<rect x="151.4" y="561.8" width="834" height="833.7" fill="none" stroke="#000" stroke-width="2.1"/>
<line x1="206.6" y1="1395.5" x2="206.6" y2="1400.8" stroke="#000" stroke-width="1.6"/>
<line x1="264.7" y1="1395.5" x2="264.7" y2="1400.8" stroke="#000" stroke-width="1.6"/>
<line x1="305.8" y1="1395.5" x2="305.8" y2="1400.8" stroke="#000" stroke-width="1.6"/>
<line x1="337.8" y1="1395.5" x2="337.8" y2="1400.8" stroke="#000" stroke-width="1.6"/>
<line x1="363.9" y1="1395.5" x2="363.9" y2="1400.8" stroke="#000" stroke-width="1.6"/>
<line x1="385.9" y1="1395.5" x2="385.9" y2="1400.8" stroke="#000" stroke-width="1.6"/>
<line x1="405.1" y1="1395.5" x2="405.1" y2="1400.8" stroke="#000" stroke-width="1.6"/>
<line x1="421.9" y1="1395.5" x2="421.9" y2="1400.8" stroke="#000" stroke-width="1.6"/>
<line x1="536.2" y1="1395.5" x2="536.2" y2="1400.8" stroke="#000" stroke-width="1.6"/>
<line x1="594.3" y1="1395.5" x2="594.3" y2="1400.8" stroke="#000" stroke-width="1.6"/>
<line x1="635.4" y1="1395.5" x2="635.4" y2="1400.8" stroke="#000" stroke-width="1.6"/>
<line x1="667.4" y1="1395.5" x2="667.4" y2="1400.8" stroke="#000" stroke-width="1.6"/>
<line x1="693.5" y1="1395.5" x2="693.5" y2="1400.8" stroke="#000" stroke-width="1.6"/>
<line x1="715.5" y1="1395.5" x2="715.5" y2="1400.8" stroke="#000" stroke-width="1.6"/>
<line x1="734.7" y1="1395.5" x2="734.7" y2="1400.8" stroke="#000" stroke-width="1.6"/>
<line x1="751.5" y1="1395.5" x2="751.5" y2="1400.8" stroke="#000" stroke-width="1.6"/>
<line x1="865.8" y1="1395.5" x2="865.8" y2="1400.8" stroke="#000" stroke-width="1.6"/>
<line x1="923.9" y1="1395.5" x2="923.9" y2="1400.8" stroke="#000" stroke-width="1.6"/>
<line x1="965" y1="1395.5" x2="965" y2="1400.8" stroke="#000" stroke-width="1.6"/>
<line x1="146.1" y1="1350.2" x2="151.4" y2="1350.2" stroke="#000" stroke-width="1.6"/>
<line x1="146.1" y1="1311.1" x2="151.4" y2="1311.1" stroke="#000" stroke-width="1.6"/>
<line x1="146.1" y1="1280.7" x2="151.4" y2="1280.7" stroke="#000" stroke-width="1.6"/>
<line x1="146.1" y1="1255.9" x2="151.4" y2="1255.9" stroke="#000" stroke-width="1.6"/>
<line x1="146.1" y1="1235" x2="151.4" y2="1235" stroke="#000" stroke-width="1.6"/>
<line x1="146.1" y1="1216.8" x2="151.4" y2="1216.8" stroke="#000" stroke-width="1.6"/>
<line x1="146.1" y1="1200.8" x2="151.4" y2="1200.8" stroke="#000" stroke-width="1.6"/>
<line x1="146.1" y1="1092.3" x2="151.4" y2="1092.3" stroke="#000" stroke-width="1.6"/>
<line x1="146.1" y1="1037.2" x2="151.4" y2="1037.2" stroke="#000" stroke-width="1.6"/>
<line x1="146.1" y1="998.1" x2="151.4" y2="998.1" stroke="#000" stroke-width="1.6"/>
<line x1="146.1" y1="967.7" x2="151.4" y2="967.7" stroke="#000" stroke-width="1.6"/>
<line x1="146.1" y1="942.9" x2="151.4" y2="942.9" stroke="#000" stroke-width="1.6"/>
<line x1="146.1" y1="922" x2="151.4" y2="922" stroke="#000" stroke-width="1.6"/>
<line x1="146.1" y1="903.8" x2="151.4" y2="903.8" stroke="#000" stroke-width="1.6"/>
<line x1="146.1" y1="887.8" x2="151.4" y2="887.8" stroke="#000" stroke-width="1.6"/>
<line x1="146.1" y1="779.3" x2="151.4" y2="779.3" stroke="#000" stroke-width="1.6"/>
<line x1="146.1" y1="724.2" x2="151.4" y2="724.2" stroke="#000" stroke-width="1.6"/>
<line x1="146.1" y1="685.1" x2="151.4" y2="685.1" stroke="#000" stroke-width="1.6"/>
<line x1="146.1" y1="654.7" x2="151.4" y2="654.7" stroke="#000" stroke-width="1.6"/>
<line x1="146.1" y1="629.9" x2="151.4" y2="629.9" stroke="#000" stroke-width="1.6"/>
<line x1="146.1" y1="609" x2="151.4" y2="609" stroke="#000" stroke-width="1.6"/>
<line x1="146.1" y1="590.8" x2="151.4" y2="590.8" stroke="#000" stroke-width="1.6"/>
<line x1="146.1" y1="574.8" x2="151.4" y2="574.8" stroke="#000" stroke-width="1.6"/>
<line x1="437" y1="1395.5" x2="437" y2="1404.8" stroke="#000" stroke-width="2.1"/>
<text x="437" y="1437.5" font-size="34" text-anchor="middle" font-family="'DejaVu Sans', 'Liberation Sans', sans-serif">10<tspan font-size="23.8" dy="-12.5">3</tspan></text>
<line x1="766.6" y1="1395.5" x2="766.6" y2="1404.8" stroke="#000" stroke-width="2.1"/>
<text x="766.6" y="1437.5" font-size="34" text-anchor="middle" font-family="'DejaVu Sans', 'Liberation Sans', sans-serif">10<tspan font-size="23.8" dy="-12.5">4</tspan></text>
<line x1="142.1" y1="1186.5" x2="151.4" y2="1186.5" stroke="#000" stroke-width="2.1"/>
<text x="135" y="1198" font-size="34" text-anchor="end" font-family="'DejaVu Sans', 'Liberation Sans', sans-serif">10<tspan font-size="23.8" dy="-12.5">6</tspan></text>
<line x1="142.1" y1="873.5" x2="151.4" y2="873.5" stroke="#000" stroke-width="2.1"/>
<text x="135" y="885" font-size="34" text-anchor="end" font-family="'DejaVu Sans', 'Liberation Sans', sans-serif">10<tspan font-size="23.8" dy="-12.5">7</tspan></text>
<text x="568.4" y="1481.7" font-size="34" text-anchor="middle" font-family="'DejaVu Sans', 'Liberation Sans', sans-serif">N</text>
<text x="58" y="978.6" font-size="34" text-anchor="middle" font-family="'DejaVu Sans', 'Liberation Sans', sans-serif" transform="rotate(-90 58 978.6)">V (µm³)</text>
<text x="256" y="609.7" font-size="27.1" text-anchor="start" font-family="'DejaVu Sans', 'Liberation Sans', sans-serif">Time (h)</text>
<circle cx="205" cy="642.2" r="7.7" fill="#ee8560"/>
<text x="256" y="649.6" font-size="27.1" text-anchor="start" font-family="'DejaVu Sans', 'Liberation Sans', sans-serif">24</text>
<circle cx="205" cy="683.3" r="7.7" fill="#c43a6c"/>
<text x="256" y="690.7" font-size="27.1" text-anchor="start" font-family="'DejaVu Sans', 'Liberation Sans', sans-serif">48</text>
<circle cx="205" cy="724.2" r="7.7" fill="#75bd93"/>
<text x="256" y="731.6" font-size="27.1" text-anchor="start" font-family="'DejaVu Sans', 'Liberation Sans', sans-serif">72</text>
<circle cx="205" cy="765.2" r="7.7" fill="#35869a"/>
<text x="256" y="772.6" font-size="27.1" text-anchor="start" font-family="'DejaVu Sans', 'Liberation Sans', sans-serif">96</text>
<circle cx="205" cy="806.2" r="7.7" fill="#254c8c"/>
<text x="256" y="813.6" font-size="27.1" text-anchor="start" font-family="'DejaVu Sans', 'Liberation Sans', sans-serif">120</text>
<text x="256" y="859.7" font-size="27.1" text-anchor="start" font-family="'DejaVu Sans', 'Liberation Sans', sans-serif"><tspan font-style="italic">N</tspan><tspan font-size="19" dy="5">0</tspan></text>
<line x1="257.5" y1="836.5" x2="277" y2="836.5" stroke="#000" stroke-width="1.8"/>
<circle cx="205" cy="893.8" r="7.7" fill="#333" stroke="none" stroke-width="0"/>
<text x="256" y="901.2" font-size="27.1" text-anchor="start" font-family="'DejaVu Sans', 'Liberation Sans', sans-serif">100</text>
<path d="M208.8 926.3 L213.5 931 L209.7 934.8 L213.5 938.6 L208.8 943.3 L205 939.5 L201.2 943.3 L196.5 938.6 L200.3 934.8 L196.5 931 L201.2 926.3 L205 930.1Z" fill="#333" stroke="none" stroke-width="0" stroke-linejoin="round"/>
<text x="256" y="942.2" font-size="27.1" text-anchor="start" font-family="'DejaVu Sans', 'Liberation Sans', sans-serif">300</text>
<path d="M199.2 970h11.6v11.6h-11.6Z" fill="#333" stroke="none" stroke-width="0" stroke-linejoin="round"/>
<text x="256" y="983.2" font-size="27.1" text-anchor="start" font-family="'DejaVu Sans', 'Liberation Sans', sans-serif">500</text>
<path d="M202.2 1008.8 L207.8 1008.8 L207.8 1014 L213 1014 L213 1019.6 L207.8 1019.6 L207.8 1024.8 L202.2 1024.8 L202.2 1019.6 L197 1019.6 L197 1014 L202.2 1014Z" fill="#333" stroke="none" stroke-width="0" stroke-linejoin="round"/>
<text x="256" y="1024.2" font-size="27.1" text-anchor="start" font-family="'DejaVu Sans', 'Liberation Sans', sans-serif">800</text>
<rect x="487.5" y="646.5" width="228.7" height="113.6" fill="#fff" stroke="#333" stroke-width="1.3"/>
<text x="502" y="717.4" font-size="29.5" text-anchor="start" font-family="'DejaVu Serif', 'Liberation Serif', serif" font-style="italic" textLength="17" lengthAdjust="spacingAndGlyphs">d</text>
<text x="520" y="722" font-size="20.5" text-anchor="start" font-family="'DejaVu Serif', 'Liberation Serif', serif" font-style="italic">c</text>
<text x="540.9" y="720" font-size="30" text-anchor="start" font-family="'DejaVu Serif', 'Liberation Serif', serif" textLength="22.2" lengthAdjust="spacingAndGlyphs">=</text>
<path d="M579.6 708.6 l3.6 -2.4" fill="none" stroke="#000" stroke-width="1.3"/>
<path d="M583.2 706.2 l7.4 33" fill="none" stroke="#000" stroke-width="2.6"/>
<path d="M590.5 740.3 L608.3 662.9 H698.6" fill="none" stroke="#000" stroke-width="1.4"/>
<text x="588.5" y="698" font-size="14" text-anchor="middle" font-family="'DejaVu Serif', 'Liberation Serif', serif">3</text>
<text x="613.3" y="695.2" font-size="29.5" text-anchor="start" font-family="'DejaVu Serif', 'Liberation Serif', serif" textLength="81" lengthAdjust="spacingAndGlyphs">6<tspan font-style="italic">V</tspan>/<tspan font-style="italic">N</tspan></text>
<line x1="612.2" y1="709.1" x2="695.7" y2="709.1" stroke="#000" stroke-width="1.4"/>
<text x="653.5" y="738.9" font-size="29" text-anchor="middle" font-family="'DejaVu Serif', 'Liberation Serif', serif" font-style="italic">π</text>
<rect x="700.1" y="1048.2" width="253.7" height="253.4" fill="#fff" stroke="#000" stroke-width="2.1"/>
<circle cx="899.9" cy="1082.6" r="10.3" fill="#35869a" stroke="#fff" stroke-width="1.3"/>
<path d="M941.6 1117.1 L948.9 1117.1 L948.9 1123.9 L955.7 1123.9 L955.7 1131.3 L948.9 1131.3 L948.9 1138.1 L941.6 1138.1 L941.6 1131.3 L934.7 1131.3 L934.7 1123.9 L941.6 1123.9Z" fill="#254c8c" stroke="#fff" stroke-width="1.3" stroke-linejoin="round"/>
<circle cx="851.2" cy="1143.3" r="10.3" fill="#c43a6c" stroke="#fff" stroke-width="1.3"/>
<circle cx="884.2" cy="1141.1" r="10.3" fill="#254c8c" stroke="#fff" stroke-width="1.3"/>
<path d="M769.9 1160.4h16.4v16.4h-16.4Z" fill="#35869a" stroke="#fff" stroke-width="1.3" stroke-linejoin="round"/>
<path d="M791.6 1169.5 L799 1169.5 L799 1176.4 L805.8 1176.4 L805.8 1183.7 L799 1183.7 L799 1190.5 L791.6 1190.5 L791.6 1183.7 L784.8 1183.7 L784.8 1176.4 L791.6 1176.4Z" fill="#35869a" stroke="#fff" stroke-width="1.3" stroke-linejoin="round"/>
<path d="M834.1 1162.4 L840.2 1168.5 L835.3 1173.5 L840.2 1178.4 L834.1 1184.5 L829.1 1179.6 L824.2 1184.5 L818 1178.4 L823 1173.5 L818 1168.5 L824.2 1162.4 L829.1 1167.3Z" fill="#35869a" stroke="#fff" stroke-width="1.3" stroke-linejoin="round"/>
<path d="M876.2 1169.5 L882.4 1175.7 L877.4 1180.6 L882.4 1185.6 L876.2 1191.7 L871.3 1186.8 L866.3 1191.7 L860.2 1185.6 L865.1 1180.6 L860.2 1175.7 L866.3 1169.5 L871.3 1174.5Z" fill="#254c8c" stroke="#fff" stroke-width="1.3" stroke-linejoin="round"/>
<path d="M877.4 1174.7h16.4v16.4h-16.4Z" fill="#254c8c" stroke="#fff" stroke-width="1.3" stroke-linejoin="round"/>
<circle cx="826.8" cy="1190.7" r="10.3" fill="#ee8560" stroke="#fff" stroke-width="1.3"/>
<circle cx="843.2" cy="1198.4" r="10.3" fill="#75bd93" stroke="#fff" stroke-width="1.3"/>
<path d="M773.6 1185.3 L779.7 1191.4 L774.8 1196.4 L779.7 1201.3 L773.6 1207.5 L768.6 1202.5 L763.7 1207.5 L757.5 1201.3 L762.5 1196.4 L757.5 1191.4 L763.7 1185.3 L768.6 1190.2Z" fill="#ee8560" stroke="#fff" stroke-width="1.3" stroke-linejoin="round"/>
<path d="M793.9 1193.9 L800.1 1200 L795.1 1205 L800.1 1209.9 L793.9 1216.1 L789 1211.1 L784 1216.1 L777.9 1209.9 L782.8 1205 L777.9 1200 L784 1193.9 L789 1198.8Z" fill="#75bd93" stroke="#fff" stroke-width="1.3" stroke-linejoin="round"/>
<path d="M766.2 1198.8h16.4v16.4h-16.4Z" fill="#c43a6c" stroke="#fff" stroke-width="1.3" stroke-linejoin="round"/>
<path d="M749 1214h16.4v16.4h-16.4Z" fill="#75bd93" stroke="#fff" stroke-width="1.3" stroke-linejoin="round"/>
<path d="M761.5 1203.7 L768.9 1203.7 L768.9 1210.5 L775.7 1210.5 L775.7 1217.8 L768.9 1217.8 L768.9 1224.7 L761.5 1224.7 L761.5 1217.8 L754.7 1217.8 L754.7 1210.5 L761.5 1210.5Z" fill="#75bd93" stroke="#fff" stroke-width="1.3" stroke-linejoin="round"/>
<path d="M778.7 1202.2 L786.1 1202.2 L786.1 1209.1 L792.9 1209.1 L792.9 1216.4 L786.1 1216.4 L786.1 1223.2 L778.7 1223.2 L778.7 1216.4 L771.9 1216.4 L771.9 1209.1 L778.7 1209.1Z" fill="#c43a6c" stroke="#fff" stroke-width="1.3" stroke-linejoin="round"/>
<path d="M769.3 1231.2 L775.4 1237.3 L770.5 1242.3 L775.4 1247.2 L769.3 1253.4 L764.3 1248.4 L759.4 1253.4 L753.2 1247.2 L758.2 1242.3 L753.2 1237.3 L759.4 1231.2 L764.3 1236.1Z" fill="#c43a6c" stroke="#fff" stroke-width="1.3" stroke-linejoin="round"/>
<path d="M751.3 1241.2h16.4v16.4h-16.4Z" fill="#ee8560" stroke="#fff" stroke-width="1.3" stroke-linejoin="round"/>
<path d="M789.3 1248.4 L796.7 1248.4 L796.7 1255.2 L803.5 1255.2 L803.5 1262.6 L796.7 1262.6 L796.7 1269.4 L789.3 1269.4 L789.3 1262.6 L782.5 1262.6 L782.5 1255.2 L789.3 1255.2Z" fill="#ee8560" stroke="#fff" stroke-width="1.3" stroke-linejoin="round"/>
<line x1="700.1" y1="1301.6" x2="953.8" y2="1048.2" stroke="#000" stroke-width="3.4"/>
<rect x="700.1" y="1048.2" width="253.7" height="253.4" fill="none" stroke="#000" stroke-width="2.1"/>
<line x1="700.1" y1="1301.6" x2="700.1" y2="1310.9" stroke="#000" stroke-width="2.1"/>
<text x="700.1" y="1342.6" font-size="34" text-anchor="middle" font-family="'DejaVu Sans', 'Liberation Sans', sans-serif">0.0</text>
<line x1="827" y1="1301.6" x2="827" y2="1310.9" stroke="#000" stroke-width="2.1"/>
<text x="827" y="1342.6" font-size="34" text-anchor="middle" font-family="'DejaVu Sans', 'Liberation Sans', sans-serif">0.1</text>
<line x1="953.8" y1="1301.6" x2="953.8" y2="1310.9" stroke="#000" stroke-width="2.1"/>
<text x="953.8" y="1342.6" font-size="34" text-anchor="middle" font-family="'DejaVu Sans', 'Liberation Sans', sans-serif">0.2</text>
<line x1="690.8" y1="1301.6" x2="700.1" y2="1301.6" stroke="#000" stroke-width="2.1"/>
<text x="683" y="1314" font-size="34" text-anchor="end" font-family="'DejaVu Sans', 'Liberation Sans', sans-serif">0.0</text>
<line x1="690.8" y1="1174.9" x2="700.1" y2="1174.9" stroke="#000" stroke-width="2.1"/>
<text x="683" y="1187.3" font-size="34" text-anchor="end" font-family="'DejaVu Sans', 'Liberation Sans', sans-serif">0.1</text>
<line x1="690.8" y1="1048.2" x2="700.1" y2="1048.2" stroke="#000" stroke-width="2.1"/>
<text x="683" y="1060.6" font-size="34" text-anchor="end" font-family="'DejaVu Sans', 'Liberation Sans', sans-serif">0.2</text>
<text x="827" y="1385.6" font-size="34" text-anchor="middle" font-family="'DejaVu Sans', 'Liberation Sans', sans-serif"><tspan font-style="italic">σ</tspan><tspan font-style="italic" font-size="23.8" dy="5">N</tspan><tspan dy="-5">/</tspan><tspan font-style="italic">N</tspan></text>
<text x="616" y="1174.9" font-size="34" text-anchor="middle" font-family="'DejaVu Sans', 'Liberation Sans', sans-serif" transform="rotate(-90 616 1174.9)"><tspan font-style="italic">σ</tspan><tspan font-style="italic" font-size="23.8" dy="5">V</tspan><tspan dy="-5">/</tspan><tspan font-style="italic">V</tspan></text>
<text x="50" y="616" font-size="48" text-anchor="start" font-family="'Liberation Sans', 'DejaVu Sans', sans-serif" font-weight="bold">c</text>
</g>
<g id="pf">
<g fill="#1f678b" stroke="#fff" stroke-width="1.2"><circle cx="243.8" cy="2277.4" r="6.3"/><circle cx="265.6" cy="2264.6" r="6.3"/><circle cx="251.8" cy="2268.1" r="6.3"/><circle cx="233.1" cy="2288.2" r="6.3"/><circle cx="265.7" cy="2261.9" r="6.3"/><circle cx="209" cy="2314.3" r="6.3"/><circle cx="233.3" cy="2287.5" r="6.3"/><circle cx="240.5" cy="2276" r="6.3"/><circle cx="202.2" cy="2318.7" r="6.3"/><circle cx="263.9" cy="2252.8" r="6.3"/><circle cx="253.6" cy="2263" r="6.3"/><circle cx="210.8" cy="2308.1" r="6.3"/><circle cx="243.4" cy="2277.3" r="6.3"/><circle cx="260.8" cy="2259.8" r="6.3"/><circle cx="215.6" cy="2304.3" r="6.3"/><circle cx="260.9" cy="2248" r="6.3"/><circle cx="221" cy="2297.3" r="6.3"/><circle cx="247.6" cy="2274.5" r="6.3"/><circle cx="215.3" cy="2303.2" r="6.3"/><circle cx="267.3" cy="2256.5" r="6.3"/><circle cx="262.3" cy="2260" r="6.3"/><circle cx="212.6" cy="2307" r="6.3"/><circle cx="211.2" cy="2308.6" r="6.3"/><circle cx="242.5" cy="2277.2" r="6.3"/><circle cx="201.5" cy="2319.9" r="6.3"/><circle cx="222.4" cy="2300.4" r="6.3"/><circle cx="257.2" cy="2267.8" r="6.3"/><circle cx="234.1" cy="2286.5" r="6.3"/><circle cx="249.4" cy="2261.4" r="6.3"/><circle cx="202.8" cy="2317.3" r="6.3"/><circle cx="252.5" cy="2267.9" r="6.3"/><circle cx="255.1" cy="2266.5" r="6.3"/><circle cx="226.3" cy="2295" r="6.3"/><circle cx="204.5" cy="2316.6" r="6.3"/><circle cx="213.6" cy="2306.3" r="6.3"/><circle cx="252.9" cy="2268.8" r="6.3"/><circle cx="264.8" cy="2251.5" r="6.3"/><circle cx="225.5" cy="2296.3" r="6.3"/><circle cx="237.1" cy="2283.6" r="6.3"/><circle cx="252.4" cy="2270.5" r="6.3"/><circle cx="255.7" cy="2264.3" r="6.3"/><circle cx="265.9" cy="2256.1" r="6.3"/><circle cx="207.5" cy="2314.4" r="6.3"/><circle cx="264" cy="2250.8" r="6.3"/><circle cx="224.5" cy="2293.8" r="6.3"/><circle cx="222.6" cy="2299.7" r="6.3"/><circle cx="222.9" cy="2297.6" r="6.3"/><circle cx="211.4" cy="2309" r="6.3"/><circle cx="248.3" cy="2270.1" r="6.3"/><circle cx="204.6" cy="2316.5" r="6.3"/><circle cx="268.7" cy="2257.7" r="6.3"/><circle cx="217.5" cy="2303.9" r="6.3"/><circle cx="241.8" cy="2277.2" r="6.3"/><circle cx="230.1" cy="2293.6" r="6.3"/><circle cx="205.1" cy="2315.7" r="6.3"/><circle cx="235" cy="2286.4" r="6.3"/><circle cx="258.5" cy="2257" r="6.3"/><circle cx="266.1" cy="2248.3" r="6.3"/><circle cx="244.3" cy="2276.1" r="6.3"/><circle cx="231" cy="2291.3" r="6.3"/><circle cx="282.9" cy="2235.5" r="6.3"/><circle cx="298.5" cy="2230.1" r="6.3"/><circle cx="326.4" cy="2177.3" r="6.3"/><circle cx="298.5" cy="2243.7" r="6.3"/><circle cx="300.3" cy="2223.3" r="6.3"/><circle cx="290.2" cy="2241.5" r="6.3"/><circle cx="295.9" cy="2221" r="6.3"/><circle cx="325.9" cy="2187.8" r="6.3"/><circle cx="324.4" cy="2207.4" r="6.3"/><circle cx="292.6" cy="2236.8" r="6.3"/><circle cx="279.8" cy="2244" r="6.3"/><circle cx="319.7" cy="2183.9" r="6.3"/><circle cx="293.8" cy="2225" r="6.3"/><circle cx="310.8" cy="2228.6" r="6.3"/><circle cx="309.3" cy="2212.5" r="6.3"/><circle cx="311.3" cy="2220.7" r="6.3"/><circle cx="289.6" cy="2246.8" r="6.3"/><circle cx="310.7" cy="2210.1" r="6.3"/><circle cx="290.3" cy="2220.3" r="6.3"/><circle cx="305" cy="2222" r="6.3"/><circle cx="275.9" cy="2251.4" r="6.3"/><circle cx="309.7" cy="2214.9" r="6.3"/><circle cx="299" cy="2217.9" r="6.3"/><circle cx="316.1" cy="2220.3" r="6.3"/><circle cx="293.1" cy="2237.9" r="6.3"/><circle cx="317.7" cy="2218.6" r="6.3"/><circle cx="293.2" cy="2219.3" r="6.3"/><circle cx="310.5" cy="2228.9" r="6.3"/><circle cx="325.3" cy="2184" r="6.3"/><circle cx="302.4" cy="2223" r="6.3"/><circle cx="283.8" cy="2228.7" r="6.3"/><circle cx="299.7" cy="2241.1" r="6.3"/><circle cx="310.7" cy="2214.8" r="6.3"/><circle cx="284.1" cy="2250.6" r="6.3"/><circle cx="315.2" cy="2220.8" r="6.3"/><circle cx="296.8" cy="2231.9" r="6.3"/><circle cx="307.2" cy="2212.9" r="6.3"/><circle cx="312.2" cy="2224.7" r="6.3"/><circle cx="276.7" cy="2241.1" r="6.3"/><circle cx="308.6" cy="2204.7" r="6.3"/><circle cx="286.5" cy="2240.1" r="6.3"/><circle cx="277.4" cy="2254.2" r="6.3"/><circle cx="299.4" cy="2222.4" r="6.3"/><circle cx="282.1" cy="2237.4" r="6.3"/><circle cx="291.5" cy="2228.3" r="6.3"/><circle cx="271.5" cy="2221.9" r="6.3"/><circle cx="274.3" cy="2219.9" r="6.3"/><circle cx="275.3" cy="2219.2" r="6.3"/><circle cx="290.4" cy="2182.3" r="6.3"/><circle cx="323.6" cy="2210" r="6.3"/><circle cx="327.1" cy="2222.6" r="6.3"/><circle cx="404.9" cy="2100.3" r="6.3"/><circle cx="395.7" cy="2151.9" r="6.3"/><circle cx="414" cy="2127.6" r="6.3"/><circle cx="378.6" cy="2147.9" r="6.3"/><circle cx="388.5" cy="2151.7" r="6.3"/><circle cx="401.1" cy="2135.2" r="6.3"/><circle cx="396.1" cy="2122" r="6.3"/><circle cx="366.7" cy="2137" r="6.3"/><circle cx="397.3" cy="2109.5" r="6.3"/><circle cx="407.8" cy="2135" r="6.3"/><circle cx="418.7" cy="2070" r="6.3"/><circle cx="376.4" cy="2179.5" r="6.3"/><circle cx="412.8" cy="2128.4" r="6.3"/><circle cx="369.2" cy="2142.9" r="6.3"/><circle cx="416.9" cy="2162.1" r="6.3"/><circle cx="363" cy="2141" r="6.3"/><circle cx="381.8" cy="2168.7" r="6.3"/><circle cx="434.3" cy="2083.2" r="6.3"/><circle cx="389.2" cy="2162.6" r="6.3"/><circle cx="374.3" cy="2136.6" r="6.3"/><circle cx="418" cy="2093.6" r="6.3"/><circle cx="372.8" cy="2165.6" r="6.3"/><circle cx="397" cy="2144.5" r="6.3"/><circle cx="442.2" cy="2132.2" r="6.3"/><circle cx="435.5" cy="2065.9" r="6.3"/><circle cx="370.6" cy="2159.2" r="6.3"/><circle cx="442.2" cy="2112.2" r="6.3"/><circle cx="389.7" cy="2161.2" r="6.3"/><circle cx="442.2" cy="2106.9" r="6.3"/><circle cx="390.2" cy="2147" r="6.3"/><circle cx="391" cy="2151.6" r="6.3"/><circle cx="369.2" cy="2165.7" r="6.3"/><circle cx="433.7" cy="2093.3" r="6.3"/><circle cx="385.2" cy="2156.8" r="6.3"/><circle cx="384.8" cy="2112.2" r="6.3"/><circle cx="370.7" cy="2155.7" r="6.3"/><circle cx="410" cy="2082" r="6.3"/><circle cx="442.2" cy="2095.8" r="6.3"/><circle cx="424.1" cy="2136.6" r="6.3"/><circle cx="395.2" cy="2158.5" r="6.3"/><circle cx="362.5" cy="2143.2" r="6.3"/><circle cx="419.4" cy="2117.5" r="6.3"/><circle cx="420.2" cy="2117.8" r="6.3"/><circle cx="408.2" cy="2143" r="6.3"/><circle cx="383.5" cy="2163.6" r="6.3"/><circle cx="422.7" cy="2110.9" r="6.3"/><circle cx="385.2" cy="2142.4" r="6.3"/><circle cx="418.4" cy="2069.9" r="6.3"/><circle cx="361.3" cy="2168" r="6.3"/><circle cx="387.8" cy="2135.9" r="6.3"/><circle cx="361.5" cy="2188.2" r="6.3"/><circle cx="370" cy="2170.3" r="6.3"/><circle cx="366.6" cy="2145.7" r="6.3"/><circle cx="375.3" cy="2179" r="6.3"/><circle cx="421.7" cy="2100.5" r="6.3"/><circle cx="410.1" cy="2114.1" r="6.3"/><circle cx="380.5" cy="2132" r="6.3"/><circle cx="354" cy="2184.1" r="6.3"/><circle cx="398" cy="2121.1" r="6.3"/><circle cx="341.7" cy="2173.8" r="6.3"/><circle cx="412.8" cy="2139.5" r="6.3"/><circle cx="379.6" cy="2152.6" r="6.3"/><circle cx="402.5" cy="2157.6" r="6.3"/><circle cx="364.2" cy="2151.4" r="6.3"/><circle cx="397.1" cy="2115.5" r="6.3"/><circle cx="346.5" cy="2181.4" r="6.3"/><circle cx="383.9" cy="2152.2" r="6.3"/><circle cx="341.7" cy="2161.4" r="6.3"/><circle cx="388.7" cy="2103.5" r="6.3"/><circle cx="404.5" cy="2117.6" r="6.3"/><circle cx="426.6" cy="2067.4" r="6.3"/><circle cx="376.7" cy="2140.3" r="6.3"/><circle cx="405.6" cy="2111.9" r="6.3"/><circle cx="381.6" cy="2160.3" r="6.3"/><circle cx="371.5" cy="2142.3" r="6.3"/><circle cx="420.5" cy="2097.6" r="6.3"/><circle cx="392.5" cy="2140.5" r="6.3"/><circle cx="396.2" cy="2107" r="6.3"/><circle cx="464.7" cy="2050.9" r="6.3"/><circle cx="469.8" cy="2043.2" r="6.3"/><circle cx="448.4" cy="2064.5" r="6.3"/><circle cx="459.3" cy="2083.1" r="6.3"/><circle cx="450.7" cy="2068" r="6.3"/><circle cx="438.6" cy="2083.2" r="6.3"/><circle cx="460.5" cy="2064.8" r="6.3"/><circle cx="455.7" cy="2054.3" r="6.3"/><circle cx="460.1" cy="2066.4" r="6.3"/><circle cx="446.5" cy="2080.2" r="6.3"/><circle cx="465" cy="2057.4" r="6.3"/><circle cx="456.1" cy="2059.4" r="6.3"/><circle cx="450.6" cy="2064.5" r="6.3"/><circle cx="464.5" cy="2049" r="6.3"/><circle cx="459.1" cy="2044.4" r="6.3"/><circle cx="332.2" cy="2150.2" r="6.3"/><circle cx="366.3" cy="2109.9" r="6.3"/><circle cx="379.6" cy="2105.9" r="6.3"/><circle cx="394.8" cy="2189.1" r="6.3"/><circle cx="385.3" cy="2193.1" r="6.3"/><circle cx="759.7" cy="1681" r="6.3"/><circle cx="752.8" cy="1713.2" r="6.3"/><circle cx="781.7" cy="1709.3" r="6.3"/><circle cx="752.2" cy="1771.9" r="6.3"/><circle cx="707.8" cy="1824.1" r="6.3"/><circle cx="757.3" cy="1833.3" r="6.3"/><circle cx="642.2" cy="1842.3" r="6.3"/><circle cx="591.8" cy="1868.5" r="6.3"/><circle cx="659.8" cy="1882.5" r="6.3"/><circle cx="684.8" cy="1882.5" r="6.3"/><circle cx="692.3" cy="1880.7" r="6.3"/><circle cx="552.7" cy="1904.6" r="6.3"/><circle cx="746.8" cy="1921.9" r="6.3"/><circle cx="565" cy="1935" r="6.3"/><circle cx="538.7" cy="1947.2" r="6.3"/><circle cx="521.1" cy="1955.3" r="6.3"/><circle cx="549.2" cy="1956.8" r="6.3"/><circle cx="545" cy="1960.9" r="6.3"/><circle cx="525.3" cy="1980.6" r="6.3"/><circle cx="569.4" cy="1980" r="6.3"/><circle cx="562" cy="1981.5" r="6.3"/><circle cx="614.8" cy="1985.4" r="6.3"/><circle cx="582.9" cy="1993.4" r="6.3"/><circle cx="579.3" cy="2000.3" r="6.3"/><circle cx="564.4" cy="2006" r="6.3"/><circle cx="544.4" cy="2011.3" r="6.3"/><circle cx="538" cy="2028" r="6.3"/><circle cx="532" cy="2046" r="6.3"/><circle cx="543" cy="2055" r="6.3"/><circle cx="527" cy="2091" r="6.3"/><circle cx="541" cy="2032" r="6.3"/><circle cx="556" cy="2018" r="6.3"/></g>
<g fill="#78cf4e" stroke="#fff" stroke-width="1.2"><circle cx="247.3" cy="2278.8" r="6.3"/><circle cx="210.6" cy="2314" r="6.3"/><circle cx="213.1" cy="2312.1" r="6.3"/><circle cx="243.4" cy="2285.8" r="6.3"/><circle cx="236.1" cy="2287.6" r="6.3"/><circle cx="225.9" cy="2300.8" r="6.3"/><circle cx="251.8" cy="2279.8" r="6.3"/><circle cx="208.5" cy="2314.2" r="6.3"/><circle cx="249" cy="2275.5" r="6.3"/><circle cx="219.5" cy="2303.3" r="6.3"/><circle cx="248" cy="2277.1" r="6.3"/><circle cx="258" cy="2270.8" r="6.3"/><circle cx="227.9" cy="2297.1" r="6.3"/><circle cx="220.2" cy="2306.7" r="6.3"/><circle cx="227.6" cy="2297.2" r="6.3"/><circle cx="230" cy="2295" r="6.3"/><circle cx="246.9" cy="2279.2" r="6.3"/><circle cx="257" cy="2280.8" r="6.3"/><circle cx="238.5" cy="2288.4" r="6.3"/><circle cx="243.3" cy="2290.2" r="6.3"/><circle cx="230.6" cy="2298.5" r="6.3"/><circle cx="211.3" cy="2312.5" r="6.3"/><circle cx="207.6" cy="2316.2" r="6.3"/><circle cx="262.4" cy="2276.3" r="6.3"/><circle cx="205.1" cy="2318.3" r="6.3"/><circle cx="235.4" cy="2290.5" r="6.3"/><circle cx="232.7" cy="2297.1" r="6.3"/><circle cx="235.1" cy="2292.1" r="6.3"/><circle cx="215.3" cy="2309.4" r="6.3"/><circle cx="229.2" cy="2301.2" r="6.3"/><circle cx="214.9" cy="2308.5" r="6.3"/><circle cx="221.5" cy="2304.8" r="6.3"/><circle cx="223.6" cy="2301.9" r="6.3"/><circle cx="220.2" cy="2306.1" r="6.3"/><circle cx="264.7" cy="2268.2" r="6.3"/><circle cx="228.9" cy="2295.6" r="6.3"/><circle cx="248.5" cy="2283.6" r="6.3"/><circle cx="235.5" cy="2291.8" r="6.3"/><circle cx="248.2" cy="2282.7" r="6.3"/><circle cx="223.9" cy="2303.9" r="6.3"/><circle cx="215.6" cy="2311.4" r="6.3"/><circle cx="218" cy="2306.5" r="6.3"/><circle cx="210.1" cy="2314.1" r="6.3"/><circle cx="230.9" cy="2294.7" r="6.3"/><circle cx="225.2" cy="2301.8" r="6.3"/><circle cx="305.6" cy="2245.6" r="6.3"/><circle cx="316.8" cy="2225.3" r="6.3"/><circle cx="292" cy="2253.5" r="6.3"/><circle cx="326.7" cy="2217.7" r="6.3"/><circle cx="313.5" cy="2252.3" r="6.3"/><circle cx="285" cy="2253.9" r="6.3"/><circle cx="287.5" cy="2256.5" r="6.3"/><circle cx="286.8" cy="2262.8" r="6.3"/><circle cx="309.2" cy="2233.9" r="6.3"/><circle cx="300.4" cy="2248.1" r="6.3"/><circle cx="288.9" cy="2246.9" r="6.3"/><circle cx="306.6" cy="2237.6" r="6.3"/><circle cx="326.5" cy="2223.2" r="6.3"/><circle cx="287" cy="2256.6" r="6.3"/><circle cx="302.5" cy="2242.1" r="6.3"/><circle cx="302.9" cy="2244.1" r="6.3"/><circle cx="298.4" cy="2247.7" r="6.3"/><circle cx="328.1" cy="2226.1" r="6.3"/><circle cx="292.7" cy="2258.5" r="6.3"/><circle cx="308.4" cy="2241.9" r="6.3"/><circle cx="288.5" cy="2257.5" r="6.3"/><circle cx="308.9" cy="2238.6" r="6.3"/><circle cx="325.8" cy="2239.1" r="6.3"/><circle cx="294.3" cy="2258.1" r="6.3"/><circle cx="285.5" cy="2264.1" r="6.3"/><circle cx="310.2" cy="2241.9" r="6.3"/><circle cx="301.5" cy="2253" r="6.3"/><circle cx="325.5" cy="2236.3" r="6.3"/><circle cx="427" cy="2164.9" r="6.3"/><circle cx="447.9" cy="2139.4" r="6.3"/><circle cx="483.9" cy="2127.4" r="6.3"/></g>
<line x1="189.9" y1="2331.2" x2="950.2" y2="1696.2" stroke="#78cf4e" stroke-width="4.2"/>
<line x1="189.9" y1="2331.2" x2="950.2" y2="1571.6" stroke="#1f678b" stroke-width="4.2"/>
<rect x="152.1" y="1535.2" width="835.1" height="834.2" fill="none" stroke="#000" stroke-width="2.1"/>
<line x1="189.9" y1="2369.4" x2="189.9" y2="2378.7" stroke="#000" stroke-width="2.1"/>
<text x="189.9" y="2416.2" font-size="34" text-anchor="middle" font-family="'DejaVu Sans', 'Liberation Sans', sans-serif">0</text>
<line x1="379.6" y1="2369.4" x2="379.6" y2="2378.7" stroke="#000" stroke-width="2.1"/>
<text x="379.6" y="2416.2" font-size="34" text-anchor="middle" font-family="'DejaVu Sans', 'Liberation Sans', sans-serif">1</text>
<line x1="569.3" y1="2369.4" x2="569.3" y2="2378.7" stroke="#000" stroke-width="2.1"/>
<text x="569.3" y="2416.2" font-size="34" text-anchor="middle" font-family="'DejaVu Sans', 'Liberation Sans', sans-serif">2</text>
<line x1="759" y1="2369.4" x2="759" y2="2378.7" stroke="#000" stroke-width="2.1"/>
<text x="759" y="2416.2" font-size="34" text-anchor="middle" font-family="'DejaVu Sans', 'Liberation Sans', sans-serif">3</text>
<line x1="948.7" y1="2369.4" x2="948.7" y2="2378.7" stroke="#000" stroke-width="2.1"/>
<text x="948.7" y="2416.2" font-size="34" text-anchor="middle" font-family="'DejaVu Sans', 'Liberation Sans', sans-serif">4</text>
<line x1="142.8" y1="2331.2" x2="152.1" y2="2331.2" stroke="#000" stroke-width="2.1"/>
<text x="137" y="2343.6" font-size="34" text-anchor="end" font-family="'DejaVu Sans', 'Liberation Sans', sans-serif">0</text>
<line x1="142.8" y1="2197.1" x2="152.1" y2="2197.1" stroke="#000" stroke-width="2.1"/>
<text x="137" y="2209.5" font-size="34" text-anchor="end" font-family="'DejaVu Sans', 'Liberation Sans', sans-serif">1</text>
<line x1="142.8" y1="2063" x2="152.1" y2="2063" stroke="#000" stroke-width="2.1"/>
<text x="137" y="2075.4" font-size="34" text-anchor="end" font-family="'DejaVu Sans', 'Liberation Sans', sans-serif">2</text>
<line x1="142.8" y1="1928.9" x2="152.1" y2="1928.9" stroke="#000" stroke-width="2.1"/>
<text x="137" y="1941.3" font-size="34" text-anchor="end" font-family="'DejaVu Sans', 'Liberation Sans', sans-serif">3</text>
<line x1="142.8" y1="1794.8" x2="152.1" y2="1794.8" stroke="#000" stroke-width="2.1"/>
<text x="137" y="1807.2" font-size="34" text-anchor="end" font-family="'DejaVu Sans', 'Liberation Sans', sans-serif">4</text>
<line x1="142.8" y1="1660.7" x2="152.1" y2="1660.7" stroke="#000" stroke-width="2.1"/>
<text x="137" y="1673.1" font-size="34" text-anchor="end" font-family="'DejaVu Sans', 'Liberation Sans', sans-serif">5</text>
<text x="571.7" y="2456.4" font-size="34" text-anchor="middle" font-family="'DejaVu Sans', 'Liberation Sans', sans-serif">N (x10<tspan font-size="23.8" dy="-12.5">4</tspan><tspan dy="12.5">)</tspan></text>
<text x="60" y="1949.3" font-size="34" text-anchor="middle" font-family="'DejaVu Sans', 'Liberation Sans', sans-serif" transform="rotate(-90 60 1949.3)">V (x10<tspan font-size="23.8" dy="-12.5">7</tspan><tspan dy="12.5"> µm³)</tspan></text>
<circle cx="204.2" cy="1572.5" r="6.2" fill="#1f678b"/>
<circle cx="204.2" cy="1613.3" r="6.2" fill="#78cf4e"/>
<text x="254" y="1579.9" font-size="27.1" text-anchor="start" font-family="'DejaVu Sans', 'Liberation Sans', sans-serif">Dissociation (after Chi pulse)</text>
<text x="254" y="1620.2" font-size="27.1" text-anchor="start" font-family="'DejaVu Sans', 'Liberation Sans', sans-serif">3D segmentation</text>
<text x="52" y="1574.5" font-size="48" text-anchor="start" font-family="'Liberation Sans', 'DejaVu Sans', sans-serif" font-weight="bold">f</text>
<clipPath id="cf1"><rect x="249.3" y="1670.8" width="262.90000000000003" height="262.4000000000001"/></clipPath>
<rect x="249.3" y="1670.8" width="262.9" height="262.4" fill="#fff" stroke="#000" stroke-width="2.1"/>
<g clip-path="url(#cf1)">
<g fill="#1f678b" stroke="#fff" stroke-width="1.2"><circle cx="342.4" cy="1828" r="6.6"/><circle cx="380" cy="1802.9" r="6.6"/><circle cx="356.2" cy="1809.8" r="6.6"/><circle cx="323.8" cy="1849.1" r="6.6"/><circle cx="380.1" cy="1797.6" r="6.6"/><circle cx="282.3" cy="1900.2" r="6.6"/><circle cx="324.2" cy="1847.8" r="6.6"/><circle cx="336.6" cy="1825.1" r="6.6"/><circle cx="270.5" cy="1908.8" r="6.6"/><circle cx="376.9" cy="1779.9" r="6.6"/><circle cx="359.2" cy="1799.7" r="6.6"/><circle cx="285.3" cy="1887.9" r="6.6"/><circle cx="341.7" cy="1827.7" r="6.6"/><circle cx="371.7" cy="1793.5" r="6.6"/><circle cx="293.6" cy="1880.6" r="6.6"/><circle cx="371.8" cy="1770.4" r="6.6"/><circle cx="303" cy="1866.9" r="6.6"/><circle cx="348.8" cy="1822.3" r="6.6"/><circle cx="293.1" cy="1878.4" r="6.6"/><circle cx="382.9" cy="1787.1" r="6.6"/><circle cx="374.3" cy="1793.8" r="6.6"/><circle cx="288.5" cy="1885.8" r="6.6"/><circle cx="286.1" cy="1889" r="6.6"/><circle cx="340" cy="1827.5" r="6.6"/><circle cx="269.3" cy="1911" r="6.6"/><circle cx="305.5" cy="1872.9" r="6.6"/><circle cx="365.4" cy="1809" r="6.6"/><circle cx="325.7" cy="1845.7" r="6.6"/><circle cx="352" cy="1796.7" r="6.6"/><circle cx="271.6" cy="1906.1" r="6.6"/><circle cx="357.3" cy="1809.3" r="6.6"/><circle cx="361.8" cy="1806.6" r="6.6"/><circle cx="312.1" cy="1862.3" r="6.6"/><circle cx="274.5" cy="1904.7" r="6.6"/><circle cx="290.3" cy="1884.5" r="6.6"/><circle cx="358" cy="1811.1" r="6.6"/><circle cx="378.5" cy="1777.3" r="6.6"/><circle cx="310.8" cy="1864.9" r="6.6"/><circle cx="330.8" cy="1840" r="6.6"/><circle cx="357.2" cy="1814.5" r="6.6"/><circle cx="362.9" cy="1802.3" r="6.6"/><circle cx="380.4" cy="1786.2" r="6.6"/><circle cx="279.7" cy="1900.4" r="6.6"/><circle cx="377.2" cy="1775.9" r="6.6"/><circle cx="309" cy="1859.9" r="6.6"/><circle cx="305.8" cy="1871.5" r="6.6"/><circle cx="306.3" cy="1867.5" r="6.6"/><circle cx="286.5" cy="1889.8" r="6.6"/><circle cx="350.2" cy="1813.6" r="6.6"/><circle cx="274.7" cy="1904.4" r="6.6"/><circle cx="385.2" cy="1789.3" r="6.6"/><circle cx="296.9" cy="1879.8" r="6.6"/><circle cx="339" cy="1827.5" r="6.6"/><circle cx="318.7" cy="1859.7" r="6.6"/><circle cx="275.5" cy="1902.9" r="6.6"/><circle cx="327.1" cy="1845.4" r="6.6"/><circle cx="367.8" cy="1787.9" r="6.6"/><circle cx="380.9" cy="1771" r="6.6"/><circle cx="343.2" cy="1825.4" r="6.6"/><circle cx="320.2" cy="1855.2" r="6.6"/><circle cx="409.8" cy="1745.9" r="6.6"/><circle cx="436.7" cy="1735.3" r="6.6"/><circle cx="436.7" cy="1762" r="6.6"/><circle cx="439.8" cy="1722.1" r="6.6"/><circle cx="422.4" cy="1757.7" r="6.6"/><circle cx="432.3" cy="1717.6" r="6.6"/><circle cx="481.5" cy="1690.9" r="6.6"/><circle cx="426.6" cy="1748.5" r="6.6"/><circle cx="404.5" cy="1762.7" r="6.6"/><circle cx="428.6" cy="1725.4" r="6.6"/><circle cx="458" cy="1732.5" r="6.6"/><circle cx="455.3" cy="1700.9" r="6.6"/><circle cx="458.9" cy="1717" r="6.6"/><circle cx="421.5" cy="1768.1" r="6.6"/><circle cx="457.7" cy="1696.3" r="6.6"/><circle cx="422.6" cy="1716.2" r="6.6"/><circle cx="448" cy="1719.5" r="6.6"/><circle cx="397.7" cy="1777" r="6.6"/><circle cx="456" cy="1705.6" r="6.6"/><circle cx="437.6" cy="1711.4" r="6.6"/><circle cx="467.1" cy="1716.2" r="6.6"/><circle cx="427.4" cy="1750.5" r="6.6"/><circle cx="469.8" cy="1712.8" r="6.6"/><circle cx="427.6" cy="1714.2" r="6.6"/><circle cx="457.5" cy="1733.1" r="6.6"/><circle cx="443.4" cy="1721.4" r="6.6"/><circle cx="411.3" cy="1732.6" r="6.6"/><circle cx="438.8" cy="1757" r="6.6"/><circle cx="457.8" cy="1705.4" r="6.6"/><circle cx="411.8" cy="1775.5" r="6.6"/><circle cx="465.6" cy="1717.2" r="6.6"/><circle cx="433.8" cy="1738.8" r="6.6"/><circle cx="451.8" cy="1701.8" r="6.6"/><circle cx="460.3" cy="1724.7" r="6.6"/><circle cx="399.1" cy="1756.9" r="6.6"/><circle cx="454.1" cy="1685.6" r="6.6"/><circle cx="416" cy="1755" r="6.6"/><circle cx="400.3" cy="1782.4" r="6.6"/><circle cx="438.3" cy="1720.2" r="6.6"/><circle cx="408.4" cy="1749.6" r="6.6"/><circle cx="424.7" cy="1731.8" r="6.6"/><circle cx="390.1" cy="1719.3" r="6.6"/><circle cx="395" cy="1715.4" r="6.6"/><circle cx="396.6" cy="1714.1" r="6.6"/><circle cx="480.1" cy="1696" r="6.6"/><circle cx="486" cy="1720.7" r="6.6"/></g>
<g fill="#78cf4e" stroke="#fff" stroke-width="1.2"><circle cx="348.4" cy="1830.6" r="6.6"/><circle cx="285" cy="1899.6" r="6.6"/><circle cx="289.4" cy="1895.8" r="6.6"/><circle cx="341.6" cy="1844.4" r="6.6"/><circle cx="329" cy="1847.9" r="6.6"/><circle cx="311.5" cy="1873.6" r="6.6"/><circle cx="356.2" cy="1832.7" r="6.6"/><circle cx="281.5" cy="1899.9" r="6.6"/><circle cx="351.3" cy="1824.2" r="6.6"/><circle cx="300.3" cy="1878.7" r="6.6"/><circle cx="349.5" cy="1827.4" r="6.6"/><circle cx="366.8" cy="1815.1" r="6.6"/><circle cx="314.9" cy="1866.6" r="6.6"/><circle cx="301.7" cy="1885.3" r="6.6"/><circle cx="314.3" cy="1866.8" r="6.6"/><circle cx="318.4" cy="1862.4" r="6.6"/><circle cx="347.6" cy="1831.4" r="6.6"/><circle cx="365" cy="1834.6" r="6.6"/><circle cx="333.1" cy="1849.5" r="6.6"/><circle cx="341.5" cy="1853.1" r="6.6"/><circle cx="319.5" cy="1869.2" r="6.6"/><circle cx="286.3" cy="1896.5" r="6.6"/><circle cx="279.9" cy="1903.8" r="6.6"/><circle cx="374.5" cy="1825.8" r="6.6"/><circle cx="275.5" cy="1907.9" r="6.6"/><circle cx="327.8" cy="1853.5" r="6.6"/><circle cx="323.2" cy="1866.5" r="6.6"/><circle cx="327.3" cy="1856.7" r="6.6"/><circle cx="293.2" cy="1890.5" r="6.6"/><circle cx="317.2" cy="1874.5" r="6.6"/><circle cx="292.4" cy="1888.7" r="6.6"/><circle cx="303.8" cy="1881.6" r="6.6"/><circle cx="307.4" cy="1875.8" r="6.6"/><circle cx="301.7" cy="1884" r="6.6"/><circle cx="378.4" cy="1809.9" r="6.6"/><circle cx="316.6" cy="1863.6" r="6.6"/><circle cx="350.5" cy="1840" r="6.6"/><circle cx="328" cy="1856" r="6.6"/><circle cx="349.9" cy="1838.2" r="6.6"/><circle cx="307.9" cy="1879.8" r="6.6"/><circle cx="293.7" cy="1894.5" r="6.6"/><circle cx="297.9" cy="1884.9" r="6.6"/><circle cx="284.2" cy="1899.7" r="6.6"/><circle cx="320.1" cy="1861.8" r="6.6"/><circle cx="310.2" cy="1875.7" r="6.6"/><circle cx="449" cy="1765.7" r="6.6"/><circle cx="468.2" cy="1726.1" r="6.6"/><circle cx="425.6" cy="1781.2" r="6.6"/><circle cx="485.4" cy="1711.1" r="6.6"/><circle cx="462.7" cy="1778.7" r="6.6"/><circle cx="413.5" cy="1781.9" r="6.6"/><circle cx="417.7" cy="1787" r="6.6"/><circle cx="416.5" cy="1799.3" r="6.6"/><circle cx="455.2" cy="1742.8" r="6.6"/><circle cx="439.9" cy="1770.6" r="6.6"/><circle cx="420.2" cy="1768.2" r="6.6"/><circle cx="450.8" cy="1750" r="6.6"/><circle cx="485" cy="1721.8" r="6.6"/><circle cx="416.9" cy="1787.2" r="6.6"/><circle cx="443.6" cy="1758.9" r="6.6"/><circle cx="444.4" cy="1762.8" r="6.6"/><circle cx="436.5" cy="1769.9" r="6.6"/><circle cx="487.8" cy="1727.5" r="6.6"/><circle cx="426.8" cy="1791" r="6.6"/><circle cx="453.9" cy="1758.4" r="6.6"/><circle cx="419.5" cy="1789" r="6.6"/><circle cx="454.7" cy="1752" r="6.6"/><circle cx="483.9" cy="1753" r="6.6"/><circle cx="429.5" cy="1790.1" r="6.6"/><circle cx="414.3" cy="1802" r="6.6"/><circle cx="457" cy="1758.4" r="6.6"/><circle cx="442" cy="1780.2" r="6.6"/><circle cx="483.2" cy="1747.4" r="6.6"/></g>
<line x1="249.3" y1="1933.2" x2="507.9" y2="1687.8" stroke="#78cf4e" stroke-width="4.2"/>
<line x1="249.3" y1="1933.2" x2="544" y2="1598.7" stroke="#1f678b" stroke-width="4.2"/>
</g>
<rect x="249.3" y="1670.8" width="262.9" height="262.4" fill="none" stroke="#000" stroke-width="2.1"/>
<line x1="249.3" y1="1933.2" x2="249.3" y2="1942.5" stroke="#000" stroke-width="2.1"/>
<text x="249.3" y="1974.5" font-size="34" text-anchor="middle" font-family="'DejaVu Sans', 'Liberation Sans', sans-serif">0.0</text>
<line x1="413" y1="1933.2" x2="413" y2="1942.5" stroke="#000" stroke-width="2.1"/>
<text x="413" y="1974.5" font-size="34" text-anchor="middle" font-family="'DejaVu Sans', 'Liberation Sans', sans-serif">0.5</text>
<line x1="240" y1="1933.2" x2="249.3" y2="1933.2" stroke="#000" stroke-width="2.1"/>
<text x="232" y="1945.6" font-size="34" text-anchor="end" font-family="'DejaVu Sans', 'Liberation Sans', sans-serif">0.0</text>
<line x1="240" y1="1802" x2="249.3" y2="1802" stroke="#000" stroke-width="2.1"/>
<text x="232" y="1814.4" font-size="34" text-anchor="end" font-family="'DejaVu Sans', 'Liberation Sans', sans-serif">0.5</text>
<line x1="240" y1="1670.8" x2="249.3" y2="1670.8" stroke="#000" stroke-width="2.1"/>
<text x="232" y="1683.2" font-size="34" text-anchor="end" font-family="'DejaVu Sans', 'Liberation Sans', sans-serif">1.0</text>
<rect x="700.6" y="2022.6" width="255" height="254.3" fill="#fff" stroke="#000" stroke-width="2.1"/>
<circle cx="861" cy="2101" r="8.2" fill="#1f678b" stroke="#fff" stroke-width="1.3"/>
<circle cx="897.4" cy="2138" r="8.2" fill="#1f678b" stroke="#fff" stroke-width="1.3"/>
<circle cx="848.5" cy="2148.7" r="8.2" fill="#1f678b" stroke="#fff" stroke-width="1.3"/>
<circle cx="821.4" cy="2150.8" r="8.2" fill="#1f678b" stroke="#fff" stroke-width="1.3"/>
<circle cx="763.2" cy="2170.8" r="8.2" fill="#1f678b" stroke="#fff" stroke-width="1.3"/>
<circle cx="776.7" cy="2180.6" r="8.2" fill="#1f678b" stroke="#fff" stroke-width="1.3"/>
<circle cx="803.5" cy="2175.3" r="8.2" fill="#1f678b" stroke="#fff" stroke-width="1.3"/>
<circle cx="803.5" cy="2188.1" r="8.2" fill="#1f678b" stroke="#fff" stroke-width="1.3"/>
<circle cx="815.4" cy="2194.6" r="8.2" fill="#1f678b" stroke="#fff" stroke-width="1.3"/>
<circle cx="840.8" cy="2180.6" r="8.2" fill="#1f678b" stroke="#fff" stroke-width="1.3"/>
<circle cx="849.7" cy="2182.1" r="8.2" fill="#1f678b" stroke="#fff" stroke-width="1.3"/>
<circle cx="754.3" cy="2194" r="8.2" fill="#1f678b" stroke="#fff" stroke-width="1.3"/>
<circle cx="767.7" cy="2203" r="8.2" fill="#1f678b" stroke="#fff" stroke-width="1.3"/>
<circle cx="746.8" cy="2211.3" r="8.2" fill="#1f678b" stroke="#fff" stroke-width="1.3"/>
<circle cx="766.2" cy="2207.5" r="8.2" fill="#1f678b" stroke="#fff" stroke-width="1.3"/>
<circle cx="752.8" cy="2209" r="8.2" fill="#1f678b" stroke="#fff" stroke-width="1.3"/>
<circle cx="748.3" cy="2235.8" r="8.2" fill="#1f678b" stroke="#fff" stroke-width="1.3"/>
<circle cx="751.3" cy="2232.8" r="8.2" fill="#1f678b" stroke="#fff" stroke-width="1.3"/>
<circle cx="775.8" cy="2243.2" r="8.2" fill="#1f678b" stroke="#fff" stroke-width="1.3"/>
<circle cx="939.2" cy="2057.5" r="8.2" fill="#8ad23a" stroke="#fff" stroke-width="1.3"/>
<circle cx="837.8" cy="2135.3" r="8.2" fill="#8ad23a" stroke="#fff" stroke-width="1.3"/>
<circle cx="821.4" cy="2153.2" r="8.2" fill="#8ad23a" stroke="#fff" stroke-width="1.3"/>
<circle cx="805.9" cy="2164.2" r="8.2" fill="#8ad23a" stroke="#fff" stroke-width="1.3"/>
<circle cx="822.3" cy="2176.8" r="8.2" fill="#8ad23a" stroke="#fff" stroke-width="1.3"/>
<circle cx="761.8" cy="2193.5" r="8.2" fill="#8ad23a" stroke="#fff" stroke-width="1.3"/>
<circle cx="774.6" cy="2257.6" r="8.2" fill="#8ad23a" stroke="#fff" stroke-width="1.3"/>
<line x1="700.6" y1="2276.9" x2="955.6" y2="2022.6" stroke="#000" stroke-width="3.4"/>
<rect x="700.6" y="2022.6" width="255" height="254.3" fill="none" stroke="#000" stroke-width="2.1"/>
<line x1="700.6" y1="2276.9" x2="700.6" y2="2286.2" stroke="#000" stroke-width="2.1"/>
<text x="700.6" y="2316.3" font-size="34" text-anchor="middle" font-family="'DejaVu Sans', 'Liberation Sans', sans-serif">0.0</text>
<line x1="802" y1="2276.9" x2="802" y2="2286.2" stroke="#000" stroke-width="2.1"/>
<text x="802" y="2316.3" font-size="34" text-anchor="middle" font-family="'DejaVu Sans', 'Liberation Sans', sans-serif">0.1</text>
<line x1="903.4" y1="2276.9" x2="903.4" y2="2286.2" stroke="#000" stroke-width="2.1"/>
<text x="903.4" y="2316.3" font-size="34" text-anchor="middle" font-family="'DejaVu Sans', 'Liberation Sans', sans-serif">0.2</text>
<line x1="691.3" y1="2276.9" x2="700.6" y2="2276.9" stroke="#000" stroke-width="2.1"/>
<text x="683.5" y="2289.3" font-size="34" text-anchor="end" font-family="'DejaVu Sans', 'Liberation Sans', sans-serif">0.0</text>
<line x1="691.3" y1="2175.2" x2="700.6" y2="2175.2" stroke="#000" stroke-width="2.1"/>
<text x="683.5" y="2187.6" font-size="34" text-anchor="end" font-family="'DejaVu Sans', 'Liberation Sans', sans-serif">0.1</text>
<line x1="691.3" y1="2073.4" x2="700.6" y2="2073.4" stroke="#000" stroke-width="2.1"/>
<text x="683.5" y="2085.8" font-size="34" text-anchor="end" font-family="'DejaVu Sans', 'Liberation Sans', sans-serif">0.2</text>
<text x="828.1" y="2359.5" font-size="34" text-anchor="middle" font-family="'DejaVu Sans', 'Liberation Sans', sans-serif"><tspan font-style="italic">σ</tspan><tspan font-style="italic" font-size="23.8" dy="5">N</tspan><tspan dy="-5">/</tspan><tspan font-style="italic">N</tspan></text>
<text x="616" y="2149.8" font-size="34" text-anchor="middle" font-family="'DejaVu Sans', 'Liberation Sans', sans-serif" transform="rotate(-90 616 2149.8)"><tspan font-style="italic">σ</tspan><tspan font-style="italic" font-size="23.8" dy="5">V</tspan><tspan dy="-5">/</tspan><tspan font-style="italic">V</tspan></text>
</g>
<g id="pa">
<clipPath id="blobL"><path d="M403.2 33.6L410.9 33.3L418.7 33.7L426.5 34.7L434.1 36.4L441.6 38.7L448.9 41.5L455.9 45.0L462.6 49.0L468.9 53.5L474.7 58.6L480.1 64.1L484.9 70.2L489.1 76.7L492.7 83.6L495.5 90.9L497.6 98.4L499.0 106.2L499.6 114.0L499.3 121.8L498.2 129.6L496.4 137.1L493.9 144.5L490.8 151.6L487.1 158.3L483.0 164.9L478.4 171.1L473.5 177.1L468.1 182.8L462.5 188.3L456.7 193.5L450.7 198.5L444.5 203.2L438.2 207.7L431.8 212.1L425.4 216.4L419.0 220.6L412.5 224.9L406.2 229.1L399.7 233.7L393.1 238.8L388.0 244.6L389.2 250.7L395.3 256.4L401.6 261.5L407.4 266.5L412.7 272.0L417.4 278.3L421.5 285.1L425.0 292.1L427.8 299.4L430.0 306.8L431.5 314.3L432.5 321.9L433.0 329.6L432.9 337.4L432.3 345.1L431.3 352.8L429.8 360.5L427.9 368.1L425.6 375.6L422.9 383.0L419.8 390.1L416.3 397.2L412.4 403.9L408.3 410.5L403.8 416.8L399.0 422.8L393.8 428.5L388.4 434.0L382.8 439.1L376.8 444.1L370.6 448.7L364.2 453.1L357.5 457.3L350.6 461.1L343.4 464.8L336.2 467.9L328.8 470.3L321.3 471.7L313.8 471.8L306.3 470.5L298.9 467.8L291.6 464.5L284.6 461.0L277.8 457.3L271.1 453.5L264.6 449.4L258.2 445.0L251.9 440.4L245.8 435.6L239.9 430.5L234.1 425.3L228.6 419.8L223.2 414.1L218.1 408.3L213.2 402.2L208.6 396.0L204.2 389.7L200.0 383.1L196.0 376.5L192.3 369.7L188.8 362.8L185.5 355.7L182.4 348.6L179.4 341.4L176.7 334.1L174.2 326.8L171.8 319.3L169.7 311.8L167.9 304.3L166.5 296.7L165.8 288.9L165.6 281.2L165.9 273.4L166.6 265.7L167.7 258.0L169.0 250.4L170.6 242.7L172.2 235.1L174.1 227.4L176.2 219.8L178.8 212.5L182.3 205.7L186.7 199.4L191.6 193.3L196.2 187.0L200.4 180.4L205.0 174.1L210.5 168.8L216.7 164.1L222.9 159.3L228.1 153.7L232.7 147.4L237.4 141.1L242.4 135.2L247.7 129.5L253.1 123.9L258.6 118.4L264.0 112.8L269.6 107.4L275.3 102.2L281.1 97.1L286.9 91.9L292.6 86.5L298.2 81.1L304.1 76.1L310.4 71.6L317.0 67.6L323.9 64.0L330.8 60.4L337.8 56.9L344.7 53.3L351.7 49.9L358.7 46.5L365.8 43.4L373.1 40.6L380.4 38.1L387.9 36.0L395.5 34.5Z"/></clipPath>
<clipPath id="blobR"><path d="M403.2 33.6L410.9 33.3L418.7 33.7L426.5 34.7L434.1 36.4L441.6 38.7L448.9 41.5L455.9 45.0L462.6 49.0L468.9 53.5L474.7 58.6L480.1 64.1L484.9 70.2L489.1 76.7L492.7 83.6L495.5 90.9L497.6 98.4L499.0 106.2L499.6 114.0L499.3 121.8L498.2 129.6L496.4 137.1L493.9 144.5L490.8 151.6L487.1 158.3L483.0 164.9L478.4 171.1L473.5 177.1L468.1 182.8L462.5 188.3L456.7 193.5L450.7 198.5L444.5 203.2L438.2 207.7L431.8 212.1L425.4 216.4L419.0 220.6L412.5 224.9L406.2 229.1L399.7 233.7L393.1 238.8L388.0 244.6L389.2 250.7L395.3 256.4L401.6 261.5L407.4 266.5L412.7 272.0L417.4 278.3L421.5 285.1L425.0 292.1L427.8 299.4L430.0 306.8L431.5 314.3L432.5 321.9L433.0 329.6L432.9 337.4L432.3 345.1L431.3 352.8L429.8 360.5L427.9 368.1L425.6 375.6L422.9 383.0L419.8 390.1L416.3 397.2L412.4 403.9L408.3 410.5L403.8 416.8L399.0 422.8L393.8 428.5L388.4 434.0L382.8 439.1L376.8 444.1L370.6 448.7L364.2 453.1L357.5 457.3L350.6 461.1L343.4 464.8L336.2 467.9L328.8 470.3L321.3 471.7L313.8 471.8L306.3 470.5L298.9 467.8L291.6 464.5L284.6 461.0L277.8 457.3L271.1 453.5L264.6 449.4L258.2 445.0L251.9 440.4L245.8 435.6L239.9 430.5L234.1 425.3L228.6 419.8L223.2 414.1L218.1 408.3L213.2 402.2L208.6 396.0L204.2 389.7L200.0 383.1L196.0 376.5L192.3 369.7L188.8 362.8L185.5 355.7L182.4 348.6L179.4 341.4L176.7 334.1L174.2 326.8L171.8 319.3L169.7 311.8L167.9 304.3L166.5 296.7L165.8 288.9L165.6 281.2L165.9 273.4L166.6 265.7L167.7 258.0L169.0 250.4L170.6 242.7L172.2 235.1L174.1 227.4L176.2 219.8L178.8 212.5L182.3 205.7L186.7 199.4L191.6 193.3L196.2 187.0L200.4 180.4L205.0 174.1L210.5 168.8L216.7 164.1L222.9 159.3L228.1 153.7L232.7 147.4L237.4 141.1L242.4 135.2L247.7 129.5L253.1 123.9L258.6 118.4L264.0 112.8L269.6 107.4L275.3 102.2L281.1 97.1L286.9 91.9L292.6 86.5L298.2 81.1L304.1 76.1L310.4 71.6L317.0 67.6L323.9 64.0L330.8 60.4L337.8 56.9L344.7 53.3L351.7 49.9L358.7 46.5L365.8 43.4L373.1 40.6L380.4 38.1L387.9 36.0L395.5 34.5Z" transform="translate(458 0)"/></clipPath>
<rect x="152.2" y="0" width="378.7" height="486" fill="#000"/>
<circle cx="406.8" cy="25.8" r="4" fill="#2c9be6"/>
<circle cx="441.2" cy="38.7" r="3" fill="#2c9be6"/>
<circle cx="472.7" cy="41.6" r="3.5" fill="#2c9be6"/>
<circle cx="497.1" cy="71.7" r="3" fill="#2c9be6"/>
<circle cx="499.9" cy="83.1" r="2.5" fill="#2c9be6"/>
<circle cx="327.9" cy="51.6" r="4" fill="#2c9be6"/>
<circle cx="310.7" cy="60.8" r="4.5" fill="#2c9be6"/>
<circle cx="297.8" cy="58.8" r="2" fill="#2c9be6"/>
<circle cx="194.6" cy="165.4" r="2.5" fill="#2c9be6"/>
<circle cx="168.8" cy="249.4" r="3" fill="#2c9be6"/>
<circle cx="168.2" cy="321.1" r="3.5" fill="#2c9be6"/>
<circle cx="170.2" cy="341.2" r="3" fill="#2c9be6"/>
<circle cx="399.6" cy="238.0" r="2" fill="#2c9be6"/>
<circle cx="431.1" cy="387.0" r="3" fill="#2c9be6"/>
<circle cx="280.6" cy="471.6" r="5" fill="#2c9be6"/>
<circle cx="295.0" cy="475.9" r="2.5" fill="#2c9be6"/>
<circle cx="300.7" cy="480.2" r="2.5" fill="#2c9be6"/>
<circle cx="297.8" cy="484.5" r="2" fill="#2c9be6"/>
<circle cx="246.2" cy="459.3" r="2" fill="#2c9be6"/>
<circle cx="338.0" cy="458.7" r="3.5" fill="#2c9be6"/>
<circle cx="446.9" cy="25.8" r="2" fill="#2c9be6"/>
<circle cx="320.8" cy="71.7" r="2" fill="#2c9be6"/>
<path d="M403.2 33.6L410.9 33.3L418.7 33.7L426.5 34.7L434.1 36.4L441.6 38.7L448.9 41.5L455.9 45.0L462.6 49.0L468.9 53.5L474.7 58.6L480.1 64.1L484.9 70.2L489.1 76.7L492.7 83.6L495.5 90.9L497.6 98.4L499.0 106.2L499.6 114.0L499.3 121.8L498.2 129.6L496.4 137.1L493.9 144.5L490.8 151.6L487.1 158.3L483.0 164.9L478.4 171.1L473.5 177.1L468.1 182.8L462.5 188.3L456.7 193.5L450.7 198.5L444.5 203.2L438.2 207.7L431.8 212.1L425.4 216.4L419.0 220.6L412.5 224.9L406.2 229.1L399.7 233.7L393.1 238.8L388.0 244.6L389.2 250.7L395.3 256.4L401.6 261.5L407.4 266.5L412.7 272.0L417.4 278.3L421.5 285.1L425.0 292.1L427.8 299.4L430.0 306.8L431.5 314.3L432.5 321.9L433.0 329.6L432.9 337.4L432.3 345.1L431.3 352.8L429.8 360.5L427.9 368.1L425.6 375.6L422.9 383.0L419.8 390.1L416.3 397.2L412.4 403.9L408.3 410.5L403.8 416.8L399.0 422.8L393.8 428.5L388.4 434.0L382.8 439.1L376.8 444.1L370.6 448.7L364.2 453.1L357.5 457.3L350.6 461.1L343.4 464.8L336.2 467.9L328.8 470.3L321.3 471.7L313.8 471.8L306.3 470.5L298.9 467.8L291.6 464.5L284.6 461.0L277.8 457.3L271.1 453.5L264.6 449.4L258.2 445.0L251.9 440.4L245.8 435.6L239.9 430.5L234.1 425.3L228.6 419.8L223.2 414.1L218.1 408.3L213.2 402.2L208.6 396.0L204.2 389.7L200.0 383.1L196.0 376.5L192.3 369.7L188.8 362.8L185.5 355.7L182.4 348.6L179.4 341.4L176.7 334.1L174.2 326.8L171.8 319.3L169.7 311.8L167.9 304.3L166.5 296.7L165.8 288.9L165.6 281.2L165.9 273.4L166.6 265.7L167.7 258.0L169.0 250.4L170.6 242.7L172.2 235.1L174.1 227.4L176.2 219.8L178.8 212.5L182.3 205.7L186.7 199.4L191.6 193.3L196.2 187.0L200.4 180.4L205.0 174.1L210.5 168.8L216.7 164.1L222.9 159.3L228.1 153.7L232.7 147.4L237.4 141.1L242.4 135.2L247.7 129.5L253.1 123.9L258.6 118.4L264.0 112.8L269.6 107.4L275.3 102.2L281.1 97.1L286.9 91.9L292.6 86.5L298.2 81.1L304.1 76.1L310.4 71.6L317.0 67.6L323.9 64.0L330.8 60.4L337.8 56.9L344.7 53.3L351.7 49.9L358.7 46.5L365.8 43.4L373.1 40.6L380.4 38.1L387.9 36.0L395.5 34.5Z" fill="#1d5c8e" stroke="#d9771f" stroke-width="2.6" stroke-opacity="0.8"/>
<g clip-path="url(#blobL)" stroke="#e8821e" stroke-linejoin="round">
<g stroke-width="0.5" stroke-opacity="0.35"><path d="M209.2 346.1l-0.6-0.7l2.3-14.1l3.1-1.2l9.2 8.5l-4.6 6.7z" fill="#159"/><path d="M210.4 239.1l-4.4-4.6l-12.9 1.1l1.6 13l11.2 2.8z" fill="#17b"/><path d="M242.2 298l0.7 9.8l-7.1 4.8l-1.7-0.5l-7.9-12l0.9-2.3l10.1-4.2z" fill="#269"/><path d="M277.8 437.5l0 0l-6.9 11.7l2.3 4.9l15-2.7l-0.1-10.2z" fill="#16b"/><path d="M338.4 347.7l-6 13.5l6.8 6.3l12-11.8l0.1-4.3l-12.9-3.7z" fill="#169"/><path d="M356.2 135.1l-1.9 1.4l-1.8 8.1l2.8 5.8l4.7 2.7l5.9-0.3l6.1-12.5l-2.5-3.2z" fill="#159"/><path d="M387.5 91l-6.8-5.8l1.7-9.3l8.7-2l4.2 2l-4.4 14.2z" fill="#159"/><path d="M304.3 168l0 0.1l-1.9 2.6l-13 3.5l-0.7-0.3l-3.4-11.8l2-4.1l5.2-0.4z" fill="#26a"/><path d="M481.6 77l14.5-2.1l2.6-5.8l-1.5-3.8l-7.3-3.4l-8.6 7.8z" fill="#16a"/><path d="M256.3 339.1l1.5-1.8l14.1-0.3l0.7 0.7l-2 14l-1.1 0.7l-13.6-6z" fill="#27b"/><path d="M382 14.4l-1.4 26l-9.3 1.7l-4.7-4.8l13.8-28.6z" fill="#16b"/><path d="M382 217.3l-6.8 8.2l0.9 8.2l8.8 1.8l5.2-10.6z" fill="#27c"/><path d="M264.6 461l-8.4-3.7l5-11.9l9.7 3.8l2.3 4.9l-0.1 0.5z" fill="#148"/><path d="M302.4 299l7.7-1.7l8 8.2l-4 8.1l-12.7-5.2l0.5-8.6z" fill="#269"/><path d="M471.4 181l-10.4 4.5l-0.6 10.4l0.3 0.3l8.9 0.2l5.8-10.5z" fill="#26a"/><path d="M424.6 351.6l-3.7 12.1l-4 1.8l-10.5-3.6l0.5-9.8l4.3-2.7z" fill="#158"/><path d="M405.7 396.2l7 7.7l11.5-10.5l-4.7-6.6l-11.4 3.9z" fill="#269"/><path d="M482.4 107.7l7.5 5.3l-1.7 12.2l-7 1.6l-5.4-2.8l-2-8.8z" fill="#169"/><path d="M406.5 302.2l13.9-2.9l0.9-7.4l-13.8-4.2l-3.2 1.7z" fill="#0b1c2c"/><path d="M293.2 187l-3.8-12.8l-0.7-0.3l-10.4 4.3l-2 7.5l9.3 5.3l7-2.8z" fill="#26a"/><path d="M307.6 378.3l-5.1 3.8l-9.8-3l-4.4-6.8l7.5-8.3l12.5 3.1z" fill="#159"/><path d="M273.3 385.9l11.8 4.6l7.6-11.4l-4.4-6.8l-1.9-0.5l-13.3 8.8z" fill="#16a"/><path d="M360.9 98.4l6.9 2.5l2 9.3l-9.3 6.1l-7.1-7.6l6-9.8z" fill="#159"/><path d="M474.3 63.3l2.8-9l11.3 3.4l1.5 4.2l-8.6 7.8z" fill="#269"/><path d="M390.2 330.3l-9.7-6.6l9.6-10.1l2 0.1l8.1 9.1z" fill="#159"/><path d="M379.2 158.4l-7.4-0.1l-5.9-5.5l6.1-12.5l4.2-0.1l7.3 7z" fill="#0b1c2c"/><path d="M304.6 428.9l-2.6-7.7l7.1-8.2l10.2 9.2l-10.5 8.4z" fill="#258"/><path d="M178.8 356.3l15-0.7l0.5-9.3l-10.1-3.4z" fill="#158"/><path d="M371 438l0.6-12.9l-10.7-2.6l-6.6 3.2l-2.3 4.8l3.1 8.7z" fill="#26b"/><path d="M418.1 211.3l-4.8 4l-4.9-1.2l-4-8.1l7.3-6.5l5.4 2z" fill="#26b"/><path d="M307.1 456.9l8.1-1.3l7.3 6.8l-5.9 6.5l-10.4-1.8z" fill="#16b"/><path d="M375.8 258.3l10.3 4.7l0.9 6l-6.5 7.7l-9-5.9l-1-7.3z" fill="#16a"/><path d="M431.1 211.5l13 3.1l4.1-5.5l-3-9.8l-6.9-1.6l-7.3 6.2z" fill="#27b"/><path d="M338.7 305.2l-8.2-10.2l-4.7 0.8l-3.7 8.6l10.6 7.6z" fill="#16b"/><path d="M276.3 202.1l8.2-3.4l4.5 4.6l-1.7 7.7l-7 1.6l-4.9-3.5z" fill="#27a"/><path d="M495.7 134.9l-5.2 11.6l-11.5-3.5l2.2-16.2l7-1.6l5.3 2.7z" fill="#16a"/><path d="M191.8 306.4l9.1 0.7l7.7-6.6l-0.4-1.8l-8.7-8.5l-10.2 8.6z" fill="#169"/><path d="M270.4 389.1l2.9-3.2l11.8 4.6l0.7 2l-6.1 10l-9.6-4.7z" fill="#16a"/><path d="M454.2 75.5l-3.5-3.6l-1.7-0.2l-9.6 5.8l2.1 8.7l5.7 2.6l7.6-5.1z" fill="#159"/><path d="M351.3 83.1l2.2-11.2l1.6-0.7l12.5 5.5l0 5.8l-6.8 4.9z" fill="#259"/><path d="M226.2 300.1l-10.5 5l1.3 10.7l2.4 2.8l14.7-6.5z" fill="#16a"/><path d="M261.2 135.2l2.2-1.1l2.8-11l-6.6-8.7l-6.9 0.7l-1.1 12.6z" fill="#259"/><path d="M219.8 257.1l0.3 0.4l0.2 4.3l-7.6 8.3l-10.6-4.9l4.6-12.2z" fill="#159"/><path d="M434.2 36.3l-2.9 2.6l0 6.8l9.9 9.2l1-0.6l4.4-11.5l-10.8-6.7z" fill="#158"/><path d="M384.2 199.4l10.1 0.9l2.6 4.7l-2.8 6l-12.1 3.7l-3.4-4.5l0.2-5.9z" fill="#16c"/><path d="M260.2 180.6l-0.5-1.2l3.5-5.5l9.7-2.2l5.4 6.5l-2 7.5l-3.3 1.7z" fill="#258"/><path d="M362.6 248.4l-9.6-2l-3.5 10.6l6.9 7.5l5.7-3.7z" fill="#259"/><path d="M345.3 183l-8.8-12.9l-1.3-0.3l-7.1 9.7l8.3 11.7l4.1-0.6z" fill="#16a"/><path d="M339.6 242.6l0.3-0.2l10.6 0.8l2.5 3.2l-3.5 10.6l-9.9 2.7l-3.1-3.9z" fill="#16b"/><path d="M390.2 330.3l-9.7-6.6l-4.4 0.8l-2.4 8.3l2.7 5.8l9.6 1.6l4.3-3.2z" fill="#16a"/><path d="M214.1 213.4l1.4 4.1l-8.8 6l-7.9-2.7l-3.6-8.4l1.1-3.4l6.4-1.9z" fill="#0b1c2c"/><path d="M265.8 321l5.8 3.7l0.3 12.3l-14.1 0.3l0.2-8.6z" fill="#16b"/><path d="M205.7 198.9l-3 8.2l-6.4 1.9l-4.1-5.2l2.1-11.8l5.7-0.3z" fill="#259"/><path d="M242.3 420.8l3.3 9l-0.2 1l-12.1 8l-7.2-6.8l0.1-10z" fill="#159"/><path d="M262.6 277l-2.2-7l3.6-5.7l9.4 0.6l2.9 9.9l-10.6 3.8z" fill="#258"/><path d="M275.4 209.1l4.9 3.5l-0.7 8.1l-9.5 4.7l-4.1-4.9l1.3-8.3z" fill="#16b"/><path d="M386.7 -993.2l-13.9 726.1l7.6 275.8l1.6 5.7l13.7 22.2l6.5-0.8l4-4.2l8.5-102.7z" fill="#0b1c2c"/><path d="M197 363l-8.3 7.7l-10.8-7.9l0.5-6.3l0.4-0.2l15-0.7l3.3 4z" fill="#17b"/><path d="M177 210.5l4.5 7.8l-0.3 3.1l-6.8 4.7l-9.7-4.9l1.1-9l7-3z" fill="#148"/><path d="M327.1 417.7l7.4 0.7l5.2-5l-6.3-13.1l-9.9 2.6l-0.7 1.2z" fill="#17c"/><path d="M384.2 199.4l-2.1-9.9l-7.5-3.6l-6.6 8.3l1 3.6l9.8 6.5z" fill="#27a"/><path d="M268.5 375.7l0.4-10.3l12.7 0.2l4.8 6.2l-13.3 8.8z" fill="#158"/><path d="M410.2 62l-1.2-13.3l-0.4-0.2l-8.6 2.9l-2.4 7.3l4.7 5z" fill="#16a"/><path d="M423.7 60l-0.8-6.9l-8.2-6.1l-5.7 1.7l1.2 13.3l5.2 3.2z" fill="#16a"/><path d="M467.7 65.3l-8.9-6.6l-8.1 13.2l3.5 3.6l12-1.3z" fill="#158"/><path d="M431.3 63.5l8.2-4.5l1.7-4.1l-9.9-9.2l-8.4 7.4l0.8 6.9z" fill="#169"/><path d="M245.3 276.3l4.1-7.8l-1.8-5.4l-11-1l-4.9 9.6z" fill="#159"/><path d="M289.9 262.6l2-8.6l-7-6.1l-8.5 6l1 5.9l11.3 3.6z" fill="#16a"/><path d="M264 264.3l-2.8-7.5l2.5-5.2l7.4-1.2l5.3 3.5l1 5.9l-4 5.1z" fill="#16a"/><path d="M265.7 278.6l10.6-3.8l4.3 2.4l-4.5 12.4l-6 2.7l-2-1.6z" fill="#16b"/><path d="M414.7 -71.1l-8.5 102.7l12.8 5.5l1.2-0.7l2.3-38.9z" fill="#26a"/><path d="M323.3 117.2l-0.7 9.4l-14.2 0.8l-0.5-1.3l6.2-12.9z" fill="#159"/><path d="M198.3 166.5l-6.7 9.4l0.1 0.1l14.6 4.7l3.5-7l-7.2-7.5z" fill="#159"/><path d="M220.9 397.6l-9.3-9.4l7.3-8.8l6.3 0.7l2.4 10.5z" fill="#158"/><path d="M398.5 432.5l2.7-1.8l-1-16.2l-5.9-2.7l-9.9 11.1l3.6 6z" fill="#158"/><path d="M271.7 305.1l13.8-3.8l4.3 11.9l-6.1 4l-11.9-10.3z" fill="#17b"/><path d="M332.3 45.4l1.1 10.7l11.2-0.5l1.5-1.4l-2.6-10.7l-8.4-0.8z" fill="#158"/><path d="M310.4 364.8l-5.6-15.7l-4.9 0.4l-5.2 5.6l1.1 8.9l12.5 3.1z" fill="#159"/><path d="M460.2 52.3l-7.9-11.7l1-2.4l10.4-3.3l5.3 4.8l-2.2 9.1z" fill="#16b"/><path d="M274 149.7l-1.5-12.4l8.2-3.6l5.7 10.8l-3.1 6.5z" fill="#16a"/><path d="M398.6 94.7l5.7-4.4l-1.2-12.2l-5.2-2.6l-2.6 0.4l-4.4 14.2z" fill="#159"/><path d="M371.3 42.1l-1.7 9.6l-12.7-1l-0.4-9.3l3.8-4.3l6.3 0.2z" fill="#159"/><path d="M306.4 185.2l-2.4-1.5l-1.6-13l1.9-2.6l12.5 4.9l2.1 7l-0.1 0.2z" fill="#158"/><path d="M399.4 223.6l-9.3 1.3l-8.1-7.6l0-2.6l12.1-3.7l5.4 11.8z" fill="#17b"/><path d="M362.1 260.8l-5.7 3.7l-0.9 4.2l8.8 5.8l7.2-3.7l-1-7.3z" fill="#16c"/><path d="M405.8 178l-5.6-10.3l7.6-8.1l9.5 14.4z" fill="#17c"/><path d="M346.8 94.3l-3.6 11.8l3 3.4l7.2-0.8l6-9.8z" fill="#27a"/><path d="M343 304.2l2.6-2.8l-1.8-10.5l-8.8-3.4l-4.5 7.5l8.2 10.2z" fill="#27a"/><path d="M277.8 437.5l0 0l-12.7-5l-1.4-4.9l14.3-7.9l2.5 3.6z" fill="#26a"/></g>
<g stroke-width="0.5" stroke-opacity="0.6"><path d="M369.1 245.4l1.5-7.2l5.5-4.5l8.8 1.8l2.7 3l-1.6 9l-11.1 3.1z" fill="#16a"/><path d="M227.6 390.6l-2.4-10.5l2-1.5l14.8 1.5l0.3 0.5l-0.2 5.7l-7.1 6.2z" fill="#15a"/><path d="M442.6 125l-2.9-2.5l-13 5.7l-0.5 1l6.4 12.1l6.6-0.9z" fill="#16a"/><path d="M456.7 140.8l9.1-2.4l2.1-10.8l-11.9-5.1l-3 2.6l1.3 13.5z" fill="#16b"/><path d="M423.7 114.5l7.7-4l6.5 3.2l1.8 8.8l-13 5.7z" fill="#159"/><path d="M320.7 193.7l-12.1 1.7l-0.4 0.6l3.9 13.1l9 0.3l1.2-1.3z" fill="#26b"/><path d="M313.7 104.1l-4.1-9.2l-7.4-0.1l-8.1 6.9l-0.4 3.2l3.4 6l14.9-2.3z" fill="#16a"/><path d="M300.4 284.5l-1.6 2.7l3.6 11.8l7.7-1.7l6.6-9.3l-0.1-1.5l-6.5-4.6z" fill="#15a"/><path d="M362.6 248.4l-0.5 12.4l8.4 2.7l5.3-5.2l-0.9-7.7l-5.8-5.2z" fill="#16a"/><path d="M338.4 347.7l-6 13.5l-9-0.6l-2.9-11.1l6.1-6z" fill="#26a"/><path d="M271.8 306.9l11.9 10.3l-1.8 5.6l-10.3 1.9l-5.8-3.7l-0.3-1.6z" fill="#27b"/><path d="M298.1 141.3l-11.7 3.2l-3.1 6.5l4 7l5.2-0.4l7.5-7.7z" fill="#269"/><path d="M410.3 127.2l-11.2-0.9l-3.8 10l8.5 6l8.8-6.2l0.7-4.6z" fill="#158"/><path d="M340.6 123.7l1.9 6.3l11.8 6.5l1.9-1.4l2.3-12.6l-14.3-1.8z" fill="#269"/><path d="M383.1 98.8l-10.6-1.6l-4.7 3.7l2 9.3l2.6 1.6l13.2-2.4l1.1-2.7z" fill="#16b"/><path d="M355.1 439.2l-3.1-8.7l-13.7-0.2l-2.4 3.5l0.2 10.1l7.7 4.5l9.5-4.5z" fill="#17b"/><path d="M467.1 110.8l6.7 4.4l2 8.8l-7.9 3.6l-11.9-5.1l0.5-3.8z" fill="#0b1c2c"/><path d="M177 210.5l4.5 7.8l13.7-5.9l1.1-3.4l-4.1-5.2l-8.9-0.5z" fill="#16a"/><path d="M227.4 277.2l-13.1-0.4l-1.6-6.7l7.6-8.3l9.7 10.7z" fill="#159"/><path d="M438.3 197.7l-4.5-10.3l9.7-4.5l5.2 2.9l0.4 9.7l-3.9 3.8z" fill="#26b"/><path d="M383.1 98.8l-10.6-1.6l0.8-9.6l7.4-2.4l6.8 5.8z" fill="#0b1c2c"/><path d="M369.5 317l6.6 7.5l4.4-0.8l9.6-10.1l-9.2-9l-11.7 10.2z" fill="#16b"/><path d="M421.1 323.1l-6.6-9.5l8.6-9l9.5 4.9l-1.6 8l-7.1 5.6z" fill="#169"/><path d="M259.7 442.9l5.4-10.4l12.7 5l-6.9 11.7l-9.7-3.8z" fill="#158"/><path d="M285.8 392.5l8.5 4.9l8.9-5.9l-0.7-9.4l-9.8-3l-7.6 11.4z" fill="#159"/><path d="M289.8 425.9l-9.3-2.6l-2.5-3.6l0-4.6l4.1-4.9l9.1-0.7l4.2 10.6z" fill="#17c"/><path d="M328.6 447.6l7.5-3.7l-0.2-10.1l-12.2-1.2l-5.5 9.3l1.6 2.2z" fill="#158"/><path d="M200.5 381.4l8 7.1l-5.7 11.4l-11.6-2.2l-0.8-3.8l8.3-12.3z" fill="#17c"/><path d="M345.6 333.3l10.6 4.6l0.6 8.1l-5.5 5.4l-12.9-3.7l2.6-12.6z" fill="#159"/><path d="M424.1 80.7l-4.7-0.7l-6.4 12.4l2.8 7l8-1.2l4.4-9.1z" fill="#16b"/><path d="M351.7 283.9l-7.9 7l1.8 10.5l13.1-1.5l-3.3-14.3z" fill="#159"/><path d="M415.3 76.2l-12.2 1.9l1.2 12.2l8.7 2.1l6.4-12.4z" fill="#269"/><path d="M220.8 400.8l-3.9 2.9l-2.2 11.9l1.7 3l8.4 1.8l4.8-13.8z" fill="#169"/><path d="M319.1 392.6l4.4 10.3l9.9-2.6l1-1.8l-4.1-11.7l-9.8 2.6z" fill="#158"/><path d="M204.5 328.9l6.4 2.4l-2.3 14.1l-10.2-2.5l-1.4-8.9z" fill="#0b1c2c"/><path d="M181.9 312.2l-5.6 12.4l0.1 0.1l11.1 4l4.8-8.5l-3.7-9z" fill="#158"/><path d="M273.8 236l-3.3-2.6l-10.4 3.8l-2.8 4.6l6.4 9.8l7.4-1.2z" fill="#0b1c2c"/><path d="M281.5 236.6l6.6-10l-8.5-5.9l-9.5 4.7l0.4 8l3.3 2.6z" fill="#158"/><path d="M344.1 88.8l7.2-5.7l9.5 4.3l0.1 11l-1.5 0.5l-12.6-4.6z" fill="#158"/><path d="M320.9 193.5l-2.1-13.3l-12.4 5l2.2 10.2l12.1-1.7z" fill="#26b"/><path d="M370.4 126.6l4.7-3.3l8.1 2.1l0.5 7.3l-7.5 7.5l-4.2 0.1l-2.5-3.2z" fill="#159"/><path d="M237.3 405.2l5.4 14.4l-0.4 1.2l-16.1 1.2l-1.4-1.6l4.8-13.8z" fill="#16a"/><path d="M405.7 396.2l2.4-5.5l-5.3-10.4l-10.1 4.6l5.8 12.4z" fill="#259"/><path d="M295.8 364l-7.5 8.3l-1.9-0.5l-4.8-6.2l1.1-11.7l12 1.2z" fill="#169"/><path d="M432.6 309.5l-9.5-4.9l-2.7-5.3l0.9-7.4l4.2-4.3l13 4.1l-4.1 16.8z" fill="#26b"/><path d="M495 99.5l6.7-3.3l13.1 7.2l-14.7 7.4l-3.5-1.3z" fill="#17a"/><path d="M345.6 333.3l10.6 4.6l2.7-3.2l-0.2-9.9l-8.8-5.7l-3.7 2.7z" fill="#0b1c2c"/><path d="M302.7 268.7l-0.5-2.5l4.3-7.4l13.5 2.1l1.3 6.2l-11.8 6.4z" fill="#27b"/><path d="M289.8 425.9l-9.3-2.6l-2.7 14.2l10.3 3.7l5.5-4.3l0.1-0.6z" fill="#26a"/><path d="M385.4 58.4l-1.3-3.5l3.2-9.8l3.1-1.1l9.6 7.4l-2.4 7.3l-9.7 1.4z" fill="#16a"/><path d="M257.3 303.6l12.6-0.7l0.2-10.6l-2-1.6l-13.9 0.3l-1 2.4z" fill="#27b"/><path d="M260.4 270l-11-1.5l-1.8-5.4l2.5-5.5l11.1-0.8l2.8 7.5z" fill="#159"/><path d="M254.5 152.6l4.5-4.1l-0.8-8.2l-12.8-0.2l-3.5 3.9l2.5 6.6z" fill="#159"/><path d="M191.8 306.4l-3.2 4.8l3.7 9l9.8 0.1l1.8-2.9l-3-10.3z" fill="#27b"/><path d="M242.3 380.6l13.7-0.6l1.6-2.6l-4-13.3l-1.6-1l-9.1 4l-0.9 13z" fill="#27b"/><path d="M277.4 120.8l4 11.5l9.3-2.2l3.3-11l-15.2-0.9z" fill="#15a"/><path d="M242.2 298l11-4.6l1-2.4l-2.4-6.8l-5.3-3.2l-8.7 7l-0.6 5.6z" fill="#158"/><path d="M363.7 348.6l6 13.9l9-2.6l2.1-3.1l-7.1-12.2z" fill="#159"/><path d="M288.1 441.2l0.1 10.2l3 3.8l12-2.3l1.7-8.1l-11.3-7.9z" fill="#17b"/><path d="M471.4 181l0-0.2l8.4-13.4l0.8-0.3l10.2 15.1l-8.4 5.5l-7-1.8z" fill="#16a"/><path d="M178.8 356.3l5.4-13.4l-0.9-1.7l-10.1-2.2l-4.4 9.9l0.7 2.2l8.9 5.4z" fill="#27a"/><path d="M311.8 227.8l11.6-8.5l6.9 4.1l0.7 3l-6.6 9.1l-11.7-5z" fill="#16b"/><path d="M302 421.2l-6.6-1.1l-4.2-10.6l3.1-2.8l14.3 2.1l0.5 4.2z" fill="#16b"/><path d="M309.8 337l8-7l-2.8-9.2l-15.1 2.4l-2 6.3l0 0z" fill="#159"/><path d="M329.5 113.2l10.5 10.4l-14.3 6.6l-3.1-3.6l0.7-9.4z" fill="#16a"/><path d="M365 220.4l10.2 5.1l6.8-8.2l0-2.6l-3.4-4.5l-12 3.2z" fill="#26b"/><path d="M175.2 274.9l3.2-10.4l10.7-2l3.9 4.1l-9.6 11.8z" fill="#0b1c2c"/><path d="M358.5 122.5l-2.3 12.6l13.3 2l0.9-10.5l-11.4-4.5z" fill="#169"/><path d="M302.7 268.7l-5.8 7.4l3.5 8.4l9.7-2.6l-0.6-8.4z" fill="#26a"/><path d="M251.8 284.2l10.8-7.2l3.1 1.6l2.4 12.1l-13.9 0.3z" fill="#16a"/><path d="M360.2 191.8l7.8 2.4l6.6-8.3l-1.5-8l-4.7-3l-11.2 9.5z" fill="#26b"/><path d="M322.8 404.1l0.7-1.2l-4.4-10.3l-11.4 2.7l1.2 13z" fill="#169"/><path d="M349.9 319.1l8.8 5.7l10.8-7.8l-0.3-2.2l-6.9-6.4l-11.8 7.8z" fill="#17c"/><path d="M460.4 195.9l-11.3-0.4l-0.4-9.7l6.7-3.6l5.6 3.3z" fill="#26a"/><path d="M467.1 110.8l6.7 4.4l8.6-7.5l-0.4-4l-10.2-4.4l-5.4 7.5z" fill="#17b"/><path d="M414.5 313.6l-4.6-0.3l-4.9-8.8l1.5-2.3l13.9-2.9l2.7 5.3z" fill="#26a"/><path d="M482 103.7l5.9-7.6l7.1 3.4l1.6 10l-6.7 3.5l-7.5-5.3z" fill="#258"/><path d="M371.7 462.3l-6.7 0.7l-5.4-5.1l0.6-4.8l11-4l5 5.9z" fill="#159"/><path d="M216.9 403.7l-13.1-2.3l-1 11.1l11.9 3.1z" fill="#26a"/><path d="M413.3 215.3l3.1 9.7l-1.3 2.4l-14-1l-1.7-2.8l0.1-0.8l8.9-8.7z" fill="#17c"/><path d="M180.9 196l7.5-8.8l5.9 4.8l-2.1 11.8l-8.9-0.5z" fill="#16b"/><path d="M457.1 101.9l-0.7-3l-8-2.9l-4.7 3.8l1.1 9.3l6.3 1.1z" fill="#159"/></g>
<g stroke-width="0.7" stroke-opacity="0.5"><path d="M336.5 141.2l6-11.2l-1.9-6.3l-0.6-0.1l-14.3 6.6l0.1 6.7z" fill="#0b1c2c"/><path d="M321.2 74.1l11.2-5.4l5.7 2.9l0.1 14.6l-13.5-2.4l-3.6-9.4z" fill="#17b"/><path d="M285.3 241.5l-3.8-4.9l-7.7-0.6l-2.7 14.4l5.3 3.5l8.5-6z" fill="#16b"/><path d="M403.6 335.2l-4.9 4.6l-8.4-2.8l-0.1-6.7l10-7.5l2.1 0.6l0.5 0.7z" fill="#17b"/><path d="M298.1 141.3l-11.7 3.2l-5.7-10.8l0.7-1.4l9.3-2.2l8.9 8.1z" fill="#17a"/><path d="M422.5 -2.5l-2.3 38.9l11.1 2.5l2.9-2.6z" fill="#158"/><path d="M176.7 295.4l-6.7-7l-18.2 3.6l17.5 13.3l2.5-1.1z" fill="#0b1c2c"/><path d="M236.9 347.7l14.6 3.2l4.4-4.5l0.4-7.3l-14.3-4.9z" fill="#17b"/><path d="M347.3 198.7l-7.1 13.7l-8.7-6.1l3.8-14.2l1.1-0.9l4.1-0.6z" fill="#27b"/><path d="M194.7 248.6l-6 3.9l-8.5-3.6l-0.4-8.9l10.8-6.4l2.5 2z" fill="#16a"/><path d="M378.7 359.9l7.4 12.9l-13.5 5.2l-4.5-13.5l1.6-2z" fill="#16a"/><path d="M410.3 127.2l-11.2-0.9l-4.5-5.1l9.4-11.7l8 10.4z" fill="#269"/><path d="M403.8 142.3l-1.3 9.4l-7.4 0.1l-5.8-5.4l3-9l3-1.1z" fill="#17b"/><path d="M169.9 275.8l-38.2 11.5l-545.9-27.9l359.8-9.2l176 4.5l40.3 8.2z" fill="#16a"/><path d="M189.1 262.5l-0.4-10l-8.5-3.6l-6.8 4.3l-1.1 3.7l6.1 7.6z" fill="#159"/><path d="M304.8 349.1l4.6-3.7l0.4-8.4l-11.9-7.5l-5.5 10.7l7.5 9.3z" fill="#158"/><path d="M176.3 324.6l-8.4-5l-21.1 12.7l24.4 2.5l5.2-10.1z" fill="#0b1c2c"/><path d="M301.4 308.4l-4.9 5.4l3.4 9.4l15.1-2.4l0.6-1.9l-1.5-5.3z" fill="#16b"/><path d="M392.3 137.4l-8.6-4.7l-7.5 7.5l7.3 7l5.8-0.8z" fill="#16a"/><path d="M338.8 230.9l6.7-4.2l9.7 3.9l-4.7 12.6l-10.6-0.8z" fill="#26a"/><path d="M384.1 296.9l8.3-0.3l6.7-8.1l-3.1-4.2l-13.2-1.4z" fill="#0b1c2c"/><path d="M408.4 214.1l-8.9 8.7l-5.4-11.8l2.8-6l7.5 1z" fill="#17b"/><path d="M355.4 285.6l8.1-2.9l6.6 3.7l-0.4 9.1l-9 5.6l-2-1.2z" fill="#158"/><path d="M347.3 198.7l-6.8-8.1l4.8-7.6l4.1-1.4l7.8 2.8l3 7.4l-8.3 7.6z" fill="#158"/><path d="M454.8 83.7l-7.6 5.1l1.2 7.2l8 2.9l6.5-9.1z" fill="#27b"/><path d="M280.6 468.7l10-8.6l7.1 8l-6.4 10.5z" fill="#159"/><path d="M541.5 148.3l-49 1.5l-2-3.3l5.2-11.6z" fill="#27b"/><path d="M414.7 47l-5.7 1.7l-0.4-0.2l-6.4-12.7l4-4.2l12.8 5.5z" fill="#159"/><path d="M239.5 326.7l9.5-3.3l9 5.3l-0.2 8.6l-1.5 1.8l-14.3-4.9l-2.8-6.8z" fill="#16a"/><path d="M412.6 136.1l6.8 9.7l-7.2 10.3l-4 1.5l-5.7-5.9l1.3-9.4z" fill="#17b"/><path d="M214.3 276.8l-1.6-6.7l-10.6-4.9l-4.3 2.5l2.8 14.5l11-1.7z" fill="#16a"/><path d="M331.5 206.3l8.7 6.1l0.3 0.6l-10.2 10.4l-6.9-4.1l-2.3-9.9l1.2-1.3z" fill="#27b"/><path d="M276.3 202.1l8.2-3.4l1.1-7.7l-9.3-5.3l-3.3 1.7l-3.1 8z" fill="#158"/><path d="M333.9 319l-1.7-3.7l-16.6 3.6l-0.6 1.9l2.8 9.2l8.2 2.8l4.6-2.5z" fill="#159"/><path d="M244.1 238.2l9.2 4.6l-5.2 10l-11.7-3.6l-1.2-5.6l0.5-0.9z" fill="#26a"/><path d="M385.6 109.4l3.8 10.7l-6.2 5.3l-8.1-2.1l-2.7-11.5z" fill="#169"/><path d="M399.4 223.6l-9.3 1.3l-5.2 10.6l2.7 3l12.6-0.3l0.9-11.8z" fill="#26a"/><path d="M346.2 395.4l2.9 12.9l-3.7 4.2l-5.7 0.9l-6.3-13.1l1-1.8l11.3-3.3z" fill="#169"/><path d="M172.4 235.2l7.4 4.8l0.4 8.9l-6.8 4.3l-8.6-7.8l4.4-9z" fill="#16a"/><path d="M322.5 462.4l6-0.5l2.2 11.6l-9.4 13.8l-4.7-18.4z" fill="#159"/><path d="M218.5 361.8l4.7-9.4l11.6-1.6l0.7 12.4l-6.3 2.9z" fill="#16b"/><path d="M206 234.5l0.7-11l-7.9-2.7l-8.8 9.3l0.6 3.5l2.5 2z" fill="#26a"/><path d="M323.9 163.5l-7.1 9.5l2.1 7l9.2-0.5l7.1-9.7l-6.1-7.5z" fill="#17b"/><path d="M310.4 364.8l-5.6-15.7l4.6-3.7l11.1 4.1l2.9 11.1l-2.1 2z" fill="#258"/><path d="M327.6 101.6l-13.9 2.5l-1.7 4.5l2.1 4.6l9.2 4l6.2-4l1.7-7.7l-2-3.2z" fill="#16c"/><path d="M458.8 58.7l-0.4-2.3l-16.2-2.1l-1 0.6l-1.7 4.1l9.5 12.7l1.7 0.2z" fill="#159"/><path d="M426 350.7l6.8 0.4l6.2-5.9l-5.3-11.1l-5.3-0.8l-5.2 5.4z" fill="#159"/><path d="M369.2 314.8l11.7-10.2l0-4.4l-11.2-4.7l-9 5.6l1.6 7.3z" fill="#158"/><path d="M412.1 338.5l-8.5-3.3l-4.9 4.6l1.6 8.6l6.6 3.7l4.3-2.7z" fill="#159"/><path d="M406.4 361.9l-5.6 5.1l3.5 10.3l11.4 0l1.2-11.8z" fill="#258"/><path d="M208.4 354.2l-11.3 5.4l-3.3-4l0.5-9.3l4.1-3.4l10.2 2.5l0.6 0.7z" fill="#159"/><path d="M210.4 239.1l-4.4-4.6l0.7-11l8.8-6l2.3 1l4 12l-4.6 7.5z" fill="#159"/><path d="M267.3 212.2l-1.3 8.3l-14.5 2.1l-3.4-10l3.5-5.1l8.4-2.2z" fill="#169"/><path d="M277.4 120.8l-11.2 2.3l-6.6-8.7l5.2-6.9l11.4-0.6l1.3 1.2l1.3 10.1z" fill="#17b"/><path d="M390.4 44l5.3-7.4l6.5-0.8l6.4 12.7l-8.6 2.9z" fill="#27b"/><path d="M352 430.5l-13.7-0.2l-3.8-11.9l5.2-5l5.7-0.9l8.9 13.2z" fill="#26b"/><path d="M335 287.5l-1.2-3.9l-8.6-4.5l-8.6 7.4l0.1 1.5l9.1 7.8l4.7-0.8z" fill="#158"/><path d="M246.5 281l-8.7 7l-9.8-7.6l-0.6-3.2l2.6-4.7l1.7-0.8l13.6 4.6z" fill="#26b"/><path d="M302.2 266.2l4.3-7.4l-3.7-9.5l-10.9 4.7l-2 8.6z" fill="#158"/><path d="M272 88.3l5 5l-0.8 13.6l-11.4 0.6l-5.1-12.8l11.7-6.6z" fill="#158"/><path d="M406.9 352.1l-6.6-3.7l-11.7 5l-0.1 0.2l9.4 13l2.9 0.4l5.6-5.1z" fill="#16a"/><path d="M320.1 422.3l3.6 10.3l12.2 1.2l2.4-3.5l-3.8-11.9l-7.4-0.7z" fill="#27b"/><path d="M465.8 138.4l2.1-10.8l7.9-3.6l5.4 2.8l-2.2 16.2l-4 2z" fill="#17c"/><path d="M231.7 271.7l4.9-9.6l-2.9-6.9l-13.6 2.3l0.2 4.3l9.7 10.7z" fill="#15a"/><path d="M411.7 199.5l-3.2-9.1l-0.2-0.1l-12 4.5l-2 5.5l2.6 4.7l7.5 1z" fill="#158"/><path d="M258.2 140.3l-12.8-0.2l-1.4-9.4l7.6-3l9.6 7.5z" fill="#159"/><path d="M274.4 164.9l-1.5 6.8l5.4 6.5l10.4-4.3l-3.4-11.8z" fill="#158"/><path d="M346.2 395.4l2.9 12.9l9.2-0.7l2.6-10.1l-5.6-4.9z" fill="#26a"/><path d="M235.3 128.1l2.6-0.9l6.1 3.5l1.4 9.4l-3.5 3.9l-7.2-1l-3.6-8z" fill="#16b"/><path d="M387.9 60.1l9.7-1.4l4.7 5l-4.4 11.8l-2.6 0.4l-4.2-2z" fill="#159"/><path d="M392.3 254.7l5.1-0.5l6.4 5l-0.1 10.6l-5.1 2.4l-11.6-3.2l-0.9-6z" fill="#16a"/><path d="M175.2 274.9l-4.4 1.3l-0.9-0.4l-8-12.9l10.4-6l6.1 7.6z" fill="#26a"/><path d="M218.6 345.3l4.6-6.7l2.7-0.5l10.7 9.8l-1.8 2.9l-11.6 1.6z" fill="#259"/><path d="M419.4 174.7l3.9-1.1l5.2 2.2l3.8 10.9l-8.1 4.3l-7.1-4.5z" fill="#16b"/><path d="M261.2 256.8l-11.1 0.8l-2-4.8l5.2-10l4-1l6.4 9.8z" fill="#27a"/><path d="M448.4 96l-4.7 3.8l-6.5-1.9l-1.6-6.5l5.9-5.2l5.7 2.6z" fill="#158"/><path d="M466.2 74.2l-12 1.3l0.6 8.2l8.1 6.1l2.7-0.3l4.6-10.7z" fill="#158"/><path d="M332.2 315.3l-16.6 3.6l-1.5-5.3l4-8.1l4-1.1l10.6 7.6z" fill="#159"/><path d="M421.1 323.1l-6.6-9.5l-4.6-0.3l-7.6 10.1l0.5 0.7l13 3.1z" fill="#0b1c2c"/></g>
<g stroke-width="1.1" stroke-opacity="0.7"><path d="M354.5 53.6l2.4-2.9l12.7 1l0.7 1.3l-1.7 8.2l-9.9 2.4z" fill="#0b1c2c"/><path d="M220.8 400.8l-3.9 2.9l-13.1-2.3l-1-1.5l5.7-11.4l3.1-0.3l9.3 9.4z" fill="#16a"/><path d="M363.7 348.6l6 13.9l-1.6 2l-8.6 1.7l-8.3-10.5l0.1-4.3l5.5-5.4z" fill="#269"/><path d="M456.5 118.7l-0.5 3.8l-3 2.6l-10.4-0.1l-2.9-2.5l-1.8-8.8l6.9-4.6l6.3 1.1z" fill="#0b1c2c"/><path d="M291.3 478.6l16 78.6l3.1-23.6l-5-65.8l-7.7 0.3z" fill="#169"/><path d="M481.2 77.8l2.8 10.3l-13.2 5.5l-5.2-4.1l4.6-10.7z" fill="#0b1c2c"/><path d="M172.4 235.2l2-9.1l-9.7-4.9l-10.9 7.1l15.4 8.1z" fill="#158"/><path d="M346.1 54.2l-2.6-10.7l3.1-3.4l9.9 1.3l0.4 9.3l-2.4 2.9z" fill="#158"/><path d="M424.2 393.4l-4.7-6.6l0.3-5.6l12.7-6.8l7.5 8.3l-0.5 5.7l-0.1 0.2l-13.1 5.5z" fill="#159"/><path d="M462.1 157.2l2 5.9l15.7 4.3l0.8-0.3l2.1-3.1l-9.5-14.1z" fill="#17c"/><path d="M325.2 279.1l-0.6-8.6l14.2-3.4l5 6.5l-10 10z" fill="#16b"/><path d="M308.8 430.6l3.6 9.7l5.8 1.6l5.5-9.3l-3.6-10.3l-0.8-0.1z" fill="#26a"/><path d="M421.2 264.7l-0.5-2.3l-10.2-6.3l-6.7 3.1l-0.1 10.6l7.2 4.1l4-0.6z" fill="#27b"/><path d="M424.6 351.6l-3.7 12.1l11.6 8.1l6.2-9l-5.9-11.7l-6.8-0.4z" fill="#27b"/><path d="M456 154.1l0.7-13.3l-2.4-2.2l-14.6 2l5.8 12.1l8.4 2z" fill="#16a"/><path d="M407.8 159.6l-7.6 8.1l-4.4 0.6l-7.5-6.8l6.8-9.7l7.4-0.1l5.7 5.9z" fill="#26b"/><path d="M278.8 118.2l-1.3-10.1l16.2-3.2l3.4 6l-1.1 6.6l-2 1.6z" fill="#16a"/><path d="M314.1 113.2l-6.2 12.9l-11.9-8.6l1.1-6.6l14.9-2.3z" fill="#159"/><path d="M402.8 380.3l1.5-3l-3.5-10.3l-2.9-0.4l-11.6 6.3l3.7 11.2l2.7 0.8z" fill="#26a"/><path d="M206.7 253l-4.6 12.2l-4.3 2.5l-4.8-1.1l-3.9-4.1l-0.4-10l6-3.9l11.2 2.8z" fill="#0b1c2c"/><path d="M270.1 225.4l-4.1-4.9l-14.5 2.1l-0.4 1l9 13.6l10.4-3.8z" fill="#16a"/><path d="M387.1 403.2l-4.4-13.7l-9.4-1.3l-3.3 7.4l5 10.9z" fill="#159"/><path d="M351.7 283.9l-3.8-9.2l7.6-6l8.8 5.8l-0.8 8.2l-8.1 2.9z" fill="#17b"/><path d="M424.1 80.7l-4.7-0.7l-4.1-3.8l0.1-11l8.3-5.2l7.6 3.5l0.6 11.7z" fill="#16a"/><path d="M251.6 127.7l1.1-12.6l-3-1.6l-8.2 3.8l-3.6 9.9l6.1 3.5z" fill="#16a"/><path d="M385.6 443.7l-1.8 11.5l-7.6-0.2l-5-5.9l0.9-9.7l10.3 0.4z" fill="#16a"/><path d="M503.9 122.4l-3.8-11.6l-3.5-1.3l-6.7 3.5l-1.7 12.2l5.3 2.7z" fill="#16b"/><path d="M208.6 300.5l7.1 4.6l10.5-5l0.9-2.3l-4.5-7.8l-7-0.9l-7.4 9.6z" fill="#16b"/><path d="M342.7 385.8l3 9.4l0.5 0.2l9.1-2.8l2.2-8.9l-9.6-3.4z" fill="#169"/><path d="M320.9 193.5l14.4-1.4l-3.8 14.2l-9.2 1.8l-1.6-14.4z" fill="#159"/><path d="M460.7 196.2l-0.8 13.9l-11.7-1l-3-9.8l3.9-3.8l11.3 0.4z" fill="#169"/><path d="M315.4 380.5l5.1 8.9l9.8-2.6l2.5-3.9l-0.7-4.1l-9.2-4z" fill="#0b1c2c"/><path d="M220.8 400.8l8.8 5.8l7.7-1.4l0.4-0.6l-2.7-12.1l-7.4-1.9l-6.7 7z" fill="#16a"/><path d="M346.2 321.8l3.7-2.7l0.6-2.9l-7.5-12l-4.3 1l-6 6.8l-0.5 3.3l1.7 3.7z" fill="#16a"/><path d="M330.3 223.4l0.7 3l7.8 4.5l6.7-4.2l-1.5-11.3l-3.5-2.4z" fill="#259"/><path d="M281.7 337.9l2.5-11.6l13.7 3.2l0 0l-5.5 10.7l-7.4 0.7z" fill="#158"/><path d="M218.5 361.8l4.7-9.4l-4.6-7.1l-9.4 0.8l-0.8 8.1l8.1 8.2z" fill="#169"/><path d="M390.3 337l-4.3 3.2l2.6 13.2l11.7-5l-1.6-8.6z" fill="#27c"/><path d="M354.3 425.7l-8.9-13.2l3.7-4.2l9.2-0.7l2.7 2.3l-0.1 12.6z" fill="#0b1c2c"/><path d="M351.9 199.4l5.4 7.6l4.7 0.5l7-9.7l-1-3.6l-7.8-2.4z" fill="#159"/><path d="M322.7 148.2l8.5 7.6l-2.1 6.5l-5.2 1.2l-12.9-8.4l2.5-4z" fill="#17c"/><path d="M415.1 227.4l-14-1l-0.9 11.8l1.9 2.3l6 0.8l8.6-7.3z" fill="#159"/><path d="M355.6 168l12.1 5.5l4.1-15.2l-5.9-5.5l-5.9 0.3z" fill="#27a"/><path d="M253.3 406l5.5-6.2l-3-7.9l-7.6 0.9l-2.8 9.1z" fill="#159"/><path d="M172.4 235.2l2-9.1l6.8-4.7l8.8 8.7l0.6 3.5l-10.8 6.4z" fill="#159"/><path d="M329.2 102.3l10.4-14.7l4.5 1.2l2.7 5.5l-3.6 11.8l-12-0.6z" fill="#27b"/><path d="M481.2 77.8l-11 1l-4-4.6l1.5-8.9l6.6-2l7 6.4l0.3 7.3z" fill="#17c"/><path d="M296.9 276.1l-10.5-1.2l-2.1 1.8l5.7 10.8l8.8-0.3l1.6-2.7z" fill="#27b"/><path d="M307.6 378.3l-5.1 3.8l0.7 9.4l4.5 3.8l11.4-2.7l1.4-3.2l-5.1-8.9z" fill="#159"/><path d="M266.9 362.9l2.6-10.5l-13.6-6l-4.4 4.5l0.5 12.2l1.6 1z" fill="#16a"/><path d="M357.2 184.4l11.2-9.5l-0.7-1.4l-12.1-5.5l-1.8 0.7l-4.4 12.9z" fill="#159"/><path d="M442 326.5l-1.5 0l-9.5-9l1.6-8l1.8-1l10.2 1.3l3 8.3z" fill="#16b"/><path d="M322.9 374.8l9.2 4l7.1-11.1l0-0.2l-6.8-6.3l-9-0.6l-2.1 2z" fill="#16a"/><path d="M398.5 397.3l-6.8 7.7l-4.6-1.8l-4.4-13.7l7.3-5.4l2.7 0.8z" fill="#158"/><path d="M200.9 307.1l3 10.3l13.1-1.6l-1.3-10.7l-7.1-4.6z" fill="#16b"/><path d="M234.1 312.1l-14.7 6.5l0.2 2.5l11.5 8.3l8.1-2l0.3-0.7l-3.7-14.1z" fill="#158"/><path d="M356.4 264.5l-0.9 4.2l-7.6 6l-4.1-1.1l-5-6.5l0.8-7.4l9.9-2.7z" fill="#27b"/><path d="M307.9 243.7l13.5 4.5l4.7-6.9l-1.7-5.8l-11.7-5z" fill="#159"/><path d="M225.2 380.1l-6.3-0.7l-6.7-9.3l4.3-7.7l2-0.6l10.7 4.3l-2 12.5z" fill="#159"/><path d="M242.2 298l11-4.6l4.1 10.2l-5.1 6.8l-9.3-2.6z" fill="#26a"/><path d="M376.2 421.6l-4.6 3.5l-10.7-2.6l0.1-12.6l12.9-1.3z" fill="#168"/><path d="M216.5 362.4l-8.1-8.2l-11.3 5.4l-0.1 3.4l9.7 8.2l5.5-1.1z" fill="#16a"/><path d="M258.5 388.2l-2.5-8.2l1.6-2.6l10.9-1.7l4.6 4.9l0.2 5.3l-2.9 3.2z" fill="#17c"/><path d="M454.3 138.6l-1.3-13.5l-10.4-0.1l-3.4 15.4l0.5 0.2z" fill="#269"/><path d="M307.1 456.9l-3.9-4l1.7-8.1l7.5-4.5l5.8 1.6l1.6 2.2l-4.6 11.5z" fill="#17b"/><path d="M293.2 187l-3.8-12.8l13-3.5l1.6 13z" fill="#159"/><path d="M388 428.9l-3.6-6l-8.2-1.3l-4.6 3.5l-0.6 12.9l1.1 1.4l10.3 0.4z" fill="#15a"/><path d="M423.9 323.1l7.1-5.6l9.5 9l-6.8 7.6l-5.3-0.8z" fill="#16a"/><path d="M188.1 330l-4.8 11.2l0.9 1.7l10.1 3.4l4.1-3.4l-1.4-8.9z" fill="#26b"/><path d="M218.9 379.4l-7.3 8.8l-3.1 0.3l-8-7.1l6.2-10.2l5.5-1.1z" fill="#16a"/><path d="M304.6 428.9l-10.9 7.4l-3.9-10.4l5.6-5.8l6.6 1.1z" fill="#27b"/><path d="M328.6 447.6l7.5-3.7l7.7 4.5l-0.5 11.9l-14.8 1.6z" fill="#26b"/><path d="M374.9 250.6l11.1-3.1l6.3 7.2l-6.2 8.3l-10.3-4.7z" fill="#26b"/><path d="M276.3 202.1l-6.4-6.7l-6.8 2.7l-3.1 7.2l7.3 6.9l8.1-3.1z" fill="#158"/><path d="M213.9 197.2l4.5 4.3l-4.3 11.9l-11.4-6.3l3-8.2z" fill="#26a"/><path d="M252 441.4l7.7 1.5l1.5 2.5l-5 11.9l-2.6 0.9l-9.3-6.2l-0.2-0.8z" fill="#16b"/><path d="M461.5 170.2l2.6-7.1l15.7 4.3l-8.4 13.4z" fill="#158"/><path d="M424.6 351.6l-13.4-2.2l0.9-10.9l3.5-2.4l7.6 2.6l2.8 12z" fill="#26b"/><path d="M417.1 201.5l-5.4-2l-3.2-9.1l8.6-3.9l7.1 4.5l-1.7 8.1z" fill="#17b"/><path d="M219.6 321.1l-5.6 9l9.2 8.5l2.7-0.5l5.2-8.7z" fill="#16b"/><path d="M267.1 410.7l10.9 4.4l4.1-4.9l-2.4-7.7l-9.6-4.7l-3.6 3.3z" fill="#16a"/><path d="M286.7 92.7l-9.7 0.6l-0.8 13.6l1.3 1.2l16.2-3.2l0.4-3.2z" fill="#17b"/><path d="M415.6 336.1l0.2-8.9l5.3-4.1l2.8 0l4.5 10.2l-5.2 5.4z" fill="#17b"/><path d="M320.9 193.5l-2.1-13.3l0.1-0.2l9.2-0.5l8.3 11.7l-1.1 0.9z" fill="#158"/><path d="M310.1 297.3l6.6-9.3l9.1 7.8l-3.7 8.6l-4 1.1z" fill="#0b1c2c"/><path d="M347.3 198.7l-7.1 13.7l0.3 0.6l3.5 2.4l7.9-0.7l5.4-7.7l-5.4-7.6z" fill="#16a"/></g>
<g stroke-width="0.9" stroke-opacity="0.5"><path d="M309.5 273.5l11.8-6.4l3.3 3.4l0.6 8.6l-8.6 7.4l-6.5-4.6z" fill="#16a"/><path d="M420.9 363.7l11.6 8.1l0 2.6l-12.7 6.8l-4.1-3.9l1.2-11.8z" fill="#17c"/><path d="M306.4 185.2l-2.4-1.5l-10.8 3.3l-0.6 1.2l6.3 10.5l9.3-2.7l0.4-0.6z" fill="#169"/><path d="M339.6 242.6l-13.5-1.3l-4.7 6.9l1.6 7.1l13.5 0.5z" fill="#26b"/><path d="M343 304.2l2.6-2.8l13.1-1.5l2 1.2l1.6 7.3l-11.8 7.8z" fill="#259"/><path d="M431 203.9l7.3-6.2l-4.5-10.3l-1.5-0.7l-8.1 4.3l-1.7 8.1z" fill="#169"/><path d="M248.5 165.8l5.4-3.5l0.6-9.7l-10.1-2l-5.2 9l3.8 5.2z" fill="#159"/><path d="M456 154.1l6.1 3.1l2 5.9l-2.6 7.1l-6.2 3.1l-8.9-3.7l7.5-14.9z" fill="#159"/><path d="M307.1 456.9l-3.9-4l-12 2.3l-0.6 4.9l7.1 8l7.7-0.3l0.8-0.7z" fill="#169"/><path d="M345.3 183l-8.8-12.9l9.4-4.8l7.9 3.4l-4.4 12.9z" fill="#148"/><path d="M299.9 349.5l-7.5-9.3l-7.4 0.7l-3.1 12l0.8 1l12 1.2z" fill="#158"/><path d="M245.4 430.8l6.6 10.6l-7.9 9.8l-11.1-7.9l0.3-4.5z" fill="#159"/><path d="M491.2 182.2l6.5-4.5l1.7-10.8l-9.1-6.3l-7.6 3.4l-2.1 3.1l10.2 15.1z" fill="#259"/><path d="M237.3 405.2l5.4 14.4l12.2-7l-1.6-6.6l-7.9-4.1l-7.7 2.7z" fill="#158"/><path d="M164.8 245.4l-43.2 9.3l40.3 8.2l10.4-6l1.1-3.7z" fill="#26b"/><path d="M443.2 170.3l0.3 12.6l-9.7 4.5l-1.5-0.7l-3.8-10.9l12-6.5z" fill="#158"/><path d="M252.3 177.4l7.4 2l0.5 1.2l-3.4 10.3l-10.7 2.4l0.1-12.2z" fill="#158"/><path d="M322.7 148.2l8.5 7.6l4.3-3.2l2.5-8.2l-1.5-3.2l-10.7-4.3l-1.1 1z" fill="#269"/><path d="M339.6 242.6l0.3-0.2l-1.1-11.5l-7.8-4.5l-6.6 9.1l1.7 5.8z" fill="#158"/><path d="M239.2 327.4l2.8 6.8l-5.1 13.5l-0.3 0.2l-10.7-9.8l5.2-8.7z" fill="#159"/><path d="M345.6 333.3l0.6-11.5l-12.3-2.8l-3.3 11.3l10.4 4.8z" fill="#27a"/><path d="M222.8 243.8l12.4-0.2l1.2 5.6l-2.7 6l-13.6 2.3l-0.3-0.4z" fill="#159"/><path d="M471.4 181l0-0.2l-9.9-10.6l-6.2 3.1l0.1 8.9l5.6 3.3z" fill="#16b"/><path d="M373.9 408.6l-12.9 1.3l-2.7-2.3l2.6-10.1l9.1-1.9l5 10.9z" fill="#0b1c2c"/><path d="M255.8 391.9l2.7-3.7l-2.5-8.2l-13.7 0.6l-0.2 5.7l6.1 6.5z" fill="#16a"/><path d="M171.8 304.2l-2.5 1.1l-2.8 4.5l1.4 9.8l8.4 5l5.6-12.4z" fill="#169"/><path d="M405.7 396.2l7 7.7l0.2 2.1l-6.4 7.4l-6.3 1.1l-5.9-2.7l-2.6-6.8l6.8-7.7z" fill="#158"/><path d="M268.8 153.4l5.2-3.7l9.3 1.3l4 7l-2 4.1l-10.9 2.8l-5.6-6.1z" fill="#159"/><path d="M314.9 58.8l2.3-3.2l14.6 2.2l0.6 10.9l-11.2 5.4z" fill="#26a"/><path d="M431.1 211.5l13 3.1l1.2 10.4l-4.4 2.4l-9.6-1.3l-3.6-4.5l0.7-7.4z" fill="#259"/><path d="M412.2 156.1l7.2-10.3l9.5 0.1l2.3 11.1l-6.2 4.3z" fill="#169"/><path d="M277.4 120.8l-11.2 2.3l-2.8 11l9.1 3.2l8.2-3.6l0.7-1.4z" fill="#159"/><path d="M189.3 298.8l-8.7-4.5l5-11.7l13.4 1.8l0.5 5.8z" fill="#259"/><path d="M384.1 54.9l-13.8-1.9l-0.7-1.3l1.7-9.6l9.3-1.7l6.7 4.7z" fill="#27b"/><path d="M417.3 174l-9.5-14.4l0.4-2l4-1.5l12.8 5.2l-1.7 12.3l-3.9 1.1z" fill="#16a"/><path d="M259.3 414.8l2.3 11.2l2.1 1.6l14.3-7.9l0-4.6l-10.9-4.4z" fill="#159"/><path d="M405.8 178l11.5-4l2.1 0.7l-2.3 11.8l-8.6 3.9l-0.2-0.1l-3.9-8.7z" fill="#269"/><path d="M328.5 461.9l2.2 11.6l9.9 1l5-11.7l-2.3-2.5l-14.8 1.6z" fill="#159"/><path d="M200.5 381.4l6.2-10.2l-9.7-8.2l-8.3 7.7l0.1 4.1l9.9 6.8z" fill="#16b"/><path d="M344 215.4l7.9-0.7l7.6 9.2l-2 5.5l-2.3 1.2l-9.7-3.9z" fill="#169"/><path d="M303.2 391.5l4.5 3.8l1.2 13l-0.3 0.5l-14.3-2.1l0-9.3z" fill="#17b"/><path d="M245.4 430.8l6.6 10.6l7.7 1.5l5.4-10.4l-1.4-4.9l-2.1-1.6l-16 3.8z" fill="#159"/><path d="M372.1 439.4l-0.9 9.7l-11 4l-6.9-9.2l1.8-4.7l15.9-1.2z" fill="#27b"/><path d="M237.2 177.8l-6.3 9.1l-2.6 0.6l-5.4-2.9l-2.6-13.5l5.2-1.8l11 5.7z" fill="#169"/><path d="M273.1 454.6l0.1-0.5l15-2.7l3 3.8l-0.6 4.9l-10 8.6l-0.8 0z" fill="#17a"/><path d="M398.6 94.7l5.7-4.4l8.7 2.1l2.8 7l-1.5 3.1l-10.2 4.6l-4.9-3.9z" fill="#0b1c2c"/><path d="M309.1 413l-0.5-4.2l0.3-0.5l13.9-4.2l4.3 13.6l-7 4.6l-0.8-0.1z" fill="#158"/><path d="M245.6 194l6 13.5l-3.5 5.1l-13.9-1.2l-1.4-5.3l8.4-11.7z" fill="#16a"/><path d="M304.6 428.9l-10.9 7.4l-0.1 0.6l11.3 7.9l7.5-4.5l-3.6-9.7z" fill="#17b"/><path d="M291.1 83.7l-8.7-5l-10.4 9.6l5 5l9.7-0.6z" fill="#16a"/><path d="M380.9 300.2l-11.2-4.7l0.4-9.1l10.5-6l2.2 2.5l1.3 14z" fill="#27b"/><path d="M374.4 68.7l11-10.3l2.5 1.7l3.2 13.8l-8.7 2l-8-4.8z" fill="#15a"/><path d="M380.6 280.4l-0.1-3.7l6.5-7.7l11.6 3.2l-2.6 12.1l-13.2-1.4z" fill="#16b"/><path d="M169.3 305.3l-17.5-13.3l-20.1-4.7l-545.9-27.9l-7070.5-15.7l-2072.1-1.5l9326.3 101.5l177.7-7.1l219.3-26.8z" fill="#16b"/><path d="M431.9 75.2l-0.6-11.7l8.2-4.5l9.5 12.7l-9.6 5.8z" fill="#159"/><path d="M453.9 154.7l-7.5 14.9l-3.2 0.7l-2.7-1l-4.4-10.1l9.4-6.5z" fill="#158"/><path d="M332.8 382.9l-2.5 3.9l4.1 11.7l11.3-3.3l-3-9.4z" fill="#17b"/><path d="M323.9 163.5l-7.1 9.5l-12.5-4.9l0-0.1l6.5-12.8l0.2-0.1z" fill="#169"/><path d="M199.5 290.2l-0.5-5.8l1.6-2.2l11-1.7l4 8.6l-7.4 9.6z" fill="#269"/><path d="M486.5 90.1l12.9-6.1l2.5 1.3l-0.2 10.9l-6.7 3.3l-7.1-3.4z" fill="#27b"/><path d="M327.6 101.6l-5.7-12.7l-10.3 3l-2 3l4.1 9.2z" fill="#27b"/><path d="M421.4 114.1l-7.1-11.6l-10.2 4.6l-0.1 2.4l8 10.4z" fill="#17b"/><path d="M360.9 98.4l6.9 2.5l4.7-3.7l0.8-9.6l-5.7-5.1l-6.8 4.9z" fill="#27a"/><path d="M358.9 334.7l14.8-1.9l2.4-8.3l-6.6-7.5l-10.8 7.8z" fill="#158"/><path d="M421.4 114.1l-7.1-11.6l1.5-3.1l8-1.2l7 5.9l0.6 6.4l-7.7 4z" fill="#159"/><path d="M252.3 177.4l-3.8-11.6l-5.5-1l-6.5 10.2l0.7 2.8l9 3.3z" fill="#169"/><path d="M397.9 366.6l-11.6 6.3l-0.2-0.1l-7.4-12.9l2.1-3.1l7.7-3.2z" fill="#159"/><path d="M339.2 367.7l-7.1 11.1l0.7 4.1l9.9 2.9l5.2-5.5l-1.6-7.8z" fill="#15a"/><path d="M387.6 238.5l-1.6 9l6.3 7.2l5.1-0.5l4.7-13.7l-1.9-2.3z" fill="#158"/><path d="M384.2 199.4l10.1 0.9l2-5.5l-4.9-10.2l-9.3 4.9z" fill="#159"/><path d="M217 315.8l2.4 2.8l0.2 2.5l-5.6 9l-3.1 1.2l-6.4-2.4l-2.4-8.6l1.8-2.9z" fill="#0b1c2c"/><path d="M230.9 231.1l4.8 11.6l8.4-4.5l1.4-10.2l-10.5-2.1z" fill="#169"/><path d="M257.6 377.4l-4-13.3l13.3-1.2l2 2.5l-0.4 10.3z" fill="#158"/><path d="M345.9 165.3l7.9 3.4l1.8-0.7l4.4-14.9l-4.7-2.7l-9.6 6.9z" fill="#159"/><path d="M332.4 68.7l5.7 2.9l8-2.7l-1.5-13.3l-11.2 0.5l-1.6 1.7z" fill="#16b"/><path d="M344.2 120.7l14.3 1.8l0.5-0.4l1.5-5.8l-7.1-7.6l-7.2 0.8z" fill="#159"/><path d="M383.3 161.5l-2.6 12.8l9.5 3.1l5.6-9.1l-7.5-6.8z" fill="#15a"/><path d="M355.1 71.2l12.5 5.5l6.8-5.6l0-2.4l-5.8-7.5l-9.9 2.4z" fill="#16a"/><path d="M236.6 262.1l-2.9-6.9l2.7-6l11.7 3.6l2 4.8l-2.5 5.5z" fill="#16a"/><path d="M287.3 211l6 5l8.6-3.4l-4.4-11.3l-8.5 2z" fill="#17b"/><path d="M245.5 228l5.6-4.4l9 13.6l-2.8 4.6l-4 1l-9.2-4.6z" fill="#169"/><path d="M222.6 290l5.4-9.6l-0.6-3.2l-13.1-0.4l-2.7 3.7l4 8.6z" fill="#16a"/><path d="M431.1 211.5l-0.1-7.6l-8.5-4.8l-5.4 2.4l1 9.8l10.3 2.9z" fill="#16b"/><path d="M298.8 287.2l3.6 11.8l-0.5 0.8l-14.9-1.2l-1.1-4.8l4.1-6.3z" fill="#158"/><path d="M306.2 467.1l-0.8 0.7l5 65.8l10.9-46.3l-4.7-18.4z" fill="#26a"/><path d="M280.3 212.6l-0.7 8.1l8.5 5.9l2.8-0.9l2.4-9.7l-6-5z" fill="#0b1c2c"/><path d="M217.2 238l4.6-7.5l9.1 0.6l4.8 11.6l-0.5 0.9l-12.4 0.2z" fill="#16a"/><path d="M341 335.1l-2.6 12.6l0 0l-11.8-4.2l-0.6-10.7l4.6-2.5z" fill="#158"/><path d="M428.2 89.1l-4.4 9.1l7 5.9l6.4-6.2l-1.6-6.5z" fill="#0b1c2c"/><path d="M408.1 390.7l11.4-3.9l0.3-5.6l-4.1-3.9l-11.4 0l-1.5 3z" fill="#26b"/><path d="M395.1 151.8l-6.8 9.7l-5 0l-4.1-3.1l4.3-11.2l5.8-0.8z" fill="#17b"/><path d="M327.6 101.6l-5.7-12.7l2.8-5.1l13.5 2.4l1.4 1.4l-10.4 14.7z" fill="#0b1c2c"/><path d="M322.7 148.2l-9.2 2.9l-2.5-12.5l13.7-0.7z" fill="#159"/><path d="M396.3 194.8l12-4.5l-3.9-8.7l-12.3 1l-0.7 2z" fill="#27b"/></g>
<g stroke-width="2.6" stroke-opacity="0.9"><path d="M339.2 367.7l7.1 4.8l11.4-3.4l1.8-2.9l-8.3-10.5l-12 11.8z" fill="#259"/><path d="M345.7 157.3l9.6-6.9l-2.8-5.8l-14.5-0.2l-2.5 8.2z" fill="#16a"/><path d="M299.6 138.2l-8.9-8.1l3.3-11l2-1.6l11.9 8.6l0.5 1.3l-2 7.6z" fill="#27c"/><path d="M324.7 137.9l1.1-1l-0.1-6.7l-3.1-3.6l-14.2 0.8l-2 7.6l4.6 3.6z" fill="#159"/><path d="M303.9 245.7l-1.1 3.6l-10.9 4.7l-7-6.1l0.4-6.4l12.3-1.4z" fill="#16a"/><path d="M301.9 299.8l-14.9-1.2l-1.5 2.7l4.3 11.9l6.7 0.6l4.9-5.4z" fill="#16b"/><path d="M296.6 82.6l5.6 12.2l-8.1 6.9l-7.4-9l4.4-9l4.4-1.6z" fill="#16a"/><path d="M263.1 198.1l-6.3-7.2l-10.7 2.4l-0.5 0.7l6 13.5l8.4-2.2z" fill="#269"/><path d="M358.9 334.7l14.8-1.9l2.7 5.8l-2.7 6l-10 4l-6.9-2.6l-0.6-8.1z" fill="#269"/><path d="M202.6 166.2l7.2 7.5l9.2-3.1l-4.8-13.6l-2.2-1l-2.8 0.5z" fill="#16a"/><path d="M395.3 136.3l-3 1.1l-8.6-4.7l-0.5-7.3l6.2-5.3l5.2 1.1l4.5 5.1z" fill="#17c"/><path d="M443.7 99.8l-6.5-1.9l-6.4 6.2l0.6 6.4l6.5 3.2l6.9-4.6z" fill="#16a"/><path d="M326.6 343.5l-6.1 6l-11.1-4.1l0.4-8.4l8-7l8.2 2.8z" fill="#26a"/><path d="M378.8 204.3l-0.2 5.9l-12 3.2l-4.6-5.9l7-9.7z" fill="#26a"/><path d="M268.8 153.4l-9.8-4.9l-0.8-8.2l3-5.1l2.2-1.1l9.1 3.2l1.5 12.4z" fill="#159"/><path d="M234.2 211.4l-2.2 3.1l3 11.4l10.5 2.1l5.6-4.4l0.4-1l-3.4-10z" fill="#169"/><path d="M289.8 313.2l6.7 0.6l3.4 9.4l-2 6.3l-13.7-3.2l-2.3-3.5l1.8-5.6z" fill="#17b"/><path d="M191.8 306.4l-3.2 4.8l-6.7 1l-10.1-8l4.9-8.8l3.9-1.1l8.7 4.5z" fill="#16b"/><path d="M382.1 189.5l9.3-4.9l0.7-2l-1.9-5.2l-9.5-3.1l-7.6 3.6l1.5 8z" fill="#27b"/><path d="M213.9 197.2l4.5 4.3l6.8-1.3l3.1-12.7l-5.4-2.9l-8.5 3.5z" fill="#26a"/><path d="M329.1 162.3l6.1 7.5l1.3 0.3l9.4-4.8l-0.2-8l-10.2-4.7l-4.3 3.2z" fill="#159"/><path d="M303.9 245.7l-6.3-5.6l-0.6-10.8l11.5-3.8l3.3 2.3l0.9 2.7l-4.8 13.2z" fill="#16b"/><path d="M336.5 255.8l3.1 3.9l-0.8 7.4l-14.2 3.4l-3.3-3.4l-1.3-6.2l3-5.6z" fill="#16b"/><path d="M351.7 283.9l-3.8-9.2l-4.1-1.1l-10 10l1.2 3.9l8.8 3.4z" fill="#17c"/><path d="M405 304.5l-6.6 1l-6-8.9l6.7-8.1l5.2 0.9l2.2 12.8z" fill="#159"/><path d="M235.8 312.6l3.7 14.1l9.5-3.3l4-11.2l-0.8-1.8l-9.3-2.6z" fill="#27b"/><path d="M346.3 372.5l1.6 7.8l9.6 3.4l2.7-1.8l-2.5-12.8z" fill="#159"/><path d="M170.8 276.2l-0.8 12.2l-18.2 3.6l-20.1-4.7l38.2-11.5z" fill="#17a"/><path d="M298.9 198.7l-1.4 2.6l4.4 11.3l4 1.3l6.2-4.8l-3.9-13.1z" fill="#17c"/><path d="M315.2 455.6l4.6-11.5l8.8 3.5l-0.1 14.3l0 0l-6 0.5z" fill="#169"/><path d="M310.8 155.2l-6.5 12.8l-11.8-10.4l7.5-7.7z" fill="#27b"/><path d="M404.3 289.4l3.2-1.7l3.4-13.8l-7.2-4.1l-5.1 2.4l-2.6 12.1l3.1 4.2z" fill="#26b"/><path d="M241.2 194.4l-8.4 11.7l-7.6-5.9l3.1-12.7l2.6-0.6z" fill="#27b"/></g>
<g stroke-width="1.6" stroke-opacity="0.8"><path d="M271.7 305.1l13.8-3.8l1.5-2.7l-1.1-4.8l-9.8-4.2l-6 2.7l-0.2 10.6z" fill="#27b"/><path d="M462.9 89.8l-6.5 9.1l0.7 3l9.3 4.9l5.4-7.5l-1-5.7l-5.2-4.1z" fill="#259"/><path d="M460.2 52.3l-7.9-11.7l-5.7 2.2l-4.4 11.5l16.2 2.1z" fill="#269"/><path d="M391.7 405l2.6 6.8l-9.9 11.1l-8.2-1.3l-2.3-13l1.1-2.1l12.1-3.3z" fill="#269"/><path d="M401.2 430.7l-1-16.2l6.3-1.1l8.2 10.5l-8 6.9z" fill="#26a"/><path d="M268.8 158.8l-8.2 5.8l2.6 9.3l9.7-2.2l1.5-6.8z" fill="#27b"/><path d="M344.6 55.6l1.5-1.4l8.4-0.6l4.2 10l-3.6 7.6l-1.6 0.7l-7.4-3z" fill="#16a"/><path d="M232.8 206.1l-7.6-5.9l-6.8 1.3l-4.3 11.9l1.4 4.1l2.3 1l14.2-4l2.2-3.1z" fill="#158"/><path d="M252.2 310.4l0.8 1.8l12.5 7.2l6.3-12.5l-0.1-1.8l-1.8-2.2l-12.6 0.7z" fill="#159"/><path d="M467.7 65.3l-8.9-6.6l-0.4-2.3l1.8-4.1l6.6-3.5l10.1 5.1l0.2 0.4l-2.8 9z" fill="#17b"/><path d="M386.7 106.7l-1.1 2.7l3.8 10.7l5.2 1.1l9.4-11.7l0.1-2.4l-4.9-3.9z" fill="#16a"/><path d="M286.4 274.9l2.3-11.5l-11.3-3.6l-4 5.1l2.9 9.9l4.3 2.4l3.7-0.5z" fill="#17c"/><path d="M355.3 392.6l5.6 4.9l9.1-1.9l3.3-7.4l-2.7-5.3l-10.4-1l-2.7 1.8z" fill="#0b1c2c"/><path d="M285.8 392.5l8.5 4.9l0 9.3l-3.1 2.8l-9.1 0.7l-2.4-7.7z" fill="#169"/><path d="M387.3 45.1l-6.7-4.7l1.4-26l13.7 22.2l-5.3 7.4z" fill="#159"/><path d="M303.9 245.7l-1.1 3.6l3.7 9.5l13.5 2.1l3-5.6l-1.6-7.1l-13.5-4.5z" fill="#17b"/><path d="M338.2 86.2l-0.1-14.6l8-2.7l7.4 3l-2.2 11.2l-7.2 5.7l-4.5-1.2z" fill="#169"/><path d="M207 183.9l-0.7-3.2l3.5-7l9.2-3.1l1.3 0.5l2.6 13.5l-8.5 3.5z" fill="#27b"/><path d="M187.5 328.7l0.6 1.3l8.9 4l7.5-5.1l-2.4-8.6l-9.8-0.1z" fill="#26b"/><path d="M307.6 378.3l0.7-11.2l2.1-2.3l10.9-2.2l1.6 12.2l-7.5 5.7z" fill="#158"/><path d="M200 191.7l-5.7 0.3l-5.9-4.8l-0.1-0.2l3.4-11l14.6 4.7l0.7 3.2z" fill="#159"/><path d="M373.1 177.9l7.6-3.6l2.6-12.8l-4.1-3.1l-7.4-0.1l-4.1 15.2l0.7 1.4z" fill="#0b1c2c"/><path d="M225.5 169.3l6.2-11l-4.6-6.4l-12.9 5.1l4.8 13.6l1.3 0.5z" fill="#269"/><path d="M428.4 214.2l-0.7 7.4l-11.3 3.4l-3.1-9.7l4.8-4z" fill="#259"/><path d="M336.5 141.2l6-11.2l11.8 6.5l-1.8 8.1l-14.5-0.2z" fill="#27b"/><path d="M415.6 336.1l0.2-8.9l-13-3.1l0.8 11.1l8.5 3.3z" fill="#27c"/><path d="M281.7 337.9l2.5-11.6l-2.3-3.5l-10.3 1.9l0.3 12.3l0.7 0.7z" fill="#16a"/><path d="M397.7 442.9l-12.1 0.8l-3.2-3.9l5.6-10.9l10.5 3.6z" fill="#25a"/><path d="M244.4 150.6l-2.5-6.6l-7.2-1l-7.5 8.4l-0.1 0.5l4.6 6.4l7.5 1.3z" fill="#26a"/><path d="M425.2 283l0.3 4.6l-4.2 4.3l-13.8-4.2l3.4-13.8l4-0.6z" fill="#269"/><path d="M475 145l4-2l11.5 3.5l2 3.3l-2.2 10.8l-7.6 3.4l-9.5-14.1z" fill="#169"/><path d="M456 154.1l6.1 3.1l11.1-7.3l1.8-4.9l-9.2-6.6l-9.1 2.4z" fill="#26b"/><path d="M313.5 151.1l-2.5 4l-0.2 0.1l-10.8-5.3l-1.9-8.6l1.5-3.1l6.8-3.2l4.6 3.6z" fill="#269"/><path d="M440.5 169.3l-12 6.5l-5.2-2.2l1.7-12.3l6.2-4.3l4.9 2.2z" fill="#158"/><path d="M357.5 229.4l13.1 8.8l5.5-4.5l-0.9-8.2l-10.2-5.1l-5.5 3.5z" fill="#258"/><path d="M246.5 281l5.3 3.2l10.8-7.2l-2.2-7l-11-1.5l-4.1 7.8z" fill="#26a"/><path d="M541.5 148.3l-45.8-13.4l-2.2-7l10.4-5.5l109.6 23.1l-60.7 4.1z" fill="#158"/><path d="M359.5 366.2l8.6-1.7l4.5 13.5l-2 4.9l-10.4-1l-2.5-12.8z" fill="#148"/><path d="M297 229.3l-6.1-3.6l2.4-9.7l8.6-3.4l4 1.3l2.6 11.6z" fill="#0b1c2c"/><path d="M470.8 93.6l1 5.7l10.2 4.4l5.9-7.6l-1.4-6l-2.5-2z" fill="#158"/><path d="M424.1 80.7l7.8-5.5l7.5 2.3l2.1 8.7l-5.9 5.2l-7.4-2.3z" fill="#159"/><path d="M340.6 474.5l7.2 13l7.2-14.7l-5.7-9.1l-3.7-0.9z" fill="#26b"/><path d="M448 25l5.3 13.2l-1 2.4l-5.7 2.2l-10.8-6.7z" fill="#159"/><path d="M353.3 443.9l-9.5 4.5l-0.5 11.9l2.3 2.5l3.7 0.9l10.3-5.8l0.6-4.8z" fill="#16a"/><path d="M415.4 65.2l-5.2-3.2l-7.9 1.7l-4.4 11.8l5.2 2.6l12.2-1.9z" fill="#16b"/><path d="M310.5 77.4l-1.7 2.6l2.8 11.9l10.3-3l2.8-5.1l-3.6-9.4z" fill="#158"/><path d="M230.9 231.1l-9.1-0.6l-4-12l14.2-4l3 11.4z" fill="#148"/><path d="M402.3 323.4l7.6-10.1l-4.9-8.8l-6.6 1l-6.3 8.2l8.1 9.1z" fill="#159"/><path d="M242 380.1l0.9-13l-7.4-3.9l-6.3 2.9l-2 12.5z" fill="#159"/><path d="M374.4 68.7l-5.8-7.5l1.7-8.2l13.8 1.9l1.3 3.5z" fill="#16a"/><path d="M370.1 286.4l-6.6-3.7l0.8-8.2l7.2-3.7l9 5.9l0.1 3.7z" fill="#269"/><path d="M266.9 362.9l2.6-10.5l1.1-0.7l11.3 1.2l0.8 1l-1.1 11.7l-12.7-0.2z" fill="#17c"/><path d="M413.3 131.5l-0.7 4.6l6.8 9.7l9.5 0.1l3.7-4.6l-6.4-12.1z" fill="#16b"/><path d="M176.4 324.7l-5.2 10.1l2 4.2l10.1 2.2l4.8-11.2l-0.6-1.3z" fill="#158"/><path d="M314.9 58.8l6.3 15.3l-0.1 0.3l-10.6 3l-6.1-8.5l7.1-9.3z" fill="#159"/><path d="M445.5 152.7l-9.4 6.5l-4.9-2.2l-2.3-11.1l3.7-4.6l6.6-0.9l0.5 0.2z" fill="#159"/><path d="M243 164.8l-3.8-5.2l-7.5-1.3l-6.2 11l11 5.7z" fill="#26b"/><path d="M388.5 353.6l-7.7 3.2l-7.1-12.2l2.7-6l9.6 1.6l2.6 13.2z" fill="#158"/><path d="M405.8 178l-5.6-10.3l-4.4 0.6l-5.6 9.1l1.9 5.2l12.3-1z" fill="#26a"/><path d="M351.9 214.7l5.4-7.7l4.7 0.5l4.6 5.9l-1.6 7l-5.5 3.5z" fill="#159"/><path d="M331.2 105.5l12 0.6l3 3.4l-2 11.2l-3.6 3l-0.6-0.1l-10.5-10.4z" fill="#17b"/><path d="M355.2 230.6l-4.7 12.6l2.5 3.2l9.6 2l6.5-3l1.5-7.2l-13.1-8.8z" fill="#27b"/><path d="M304.4 68.9l-8.9-0.2l0 13.4l1.1 0.5l12.2-2.6l1.7-2.6z" fill="#158"/><path d="M268.8 153.4l-9.8-4.9l-4.5 4.1l-0.6 9.7l6.7 2.3l8.2-5.8z" fill="#16a"/><path d="M281.7 337.9l-9.1-0.2l-2 14l11.3 1.2l3.1-12z" fill="#26a"/><path d="M210.4 239.1l-4.5 12.3l0.8 1.6l13.1 4.1l3-13.3l-5.6-5.8z" fill="#27a"/><path d="M254.9 412.6l-12.2 7l-0.4 1.2l3.3 9l16-3.8l-2.3-11.2z" fill="#26a"/><path d="M386.3 372.9l-0.2-0.1l-13.5 5.2l-2 4.9l2.7 5.3l9.4 1.3l7.3-5.4z" fill="#17b"/><path d="M237.2 293.6l0.6-5.6l-9.8-7.6l-5.4 9.6l4.5 7.8z" fill="#16a"/><path d="M420.2 36.4l-1.2 0.7l-4.3 9.9l8.2 6.1l8.4-7.4l0-6.8z" fill="#27b"/><path d="M374.4 71.1l-6.8 5.6l0 5.8l5.7 5.1l7.4-2.4l1.7-9.3z" fill="#17b"/><path d="M234.8 350.8l1.8-2.9l0.3-0.2l14.6 3.2l0.5 12.2l-9.1 4l-7.4-3.9z" fill="#0b1c2c"/><path d="M200.6 282.2l-1.6 2.2l-13.4-1.8l-2.2-4.2l9.6-11.8l4.8 1.1z" fill="#26a"/><path d="M253.3 406l1.6 6.6l4.4 2.2l7.8-4.1l-0.6-9.6l-7.7-1.3z" fill="#17b"/><path d="M311.8 227.8l11.6-8.5l-2.3-9.9l-9-0.3l-6.2 4.8l2.6 11.6z" fill="#159"/><path d="M446.4 169.6l8.9 3.7l0.1 8.9l-6.7 3.6l-5.2-2.9l-0.3-12.6z" fill="#16b"/><path d="M467.1 110.8l-10.6 7.9l-5.4-8.5l6-8.3l9.3 4.9z" fill="#26a"/><path d="M383.1 98.8l4.4-7.8l3.4-0.9l7.7 4.6l0.6 8.5l-12.5 3.5z" fill="#17b"/><path d="M380.9 304.6l0-4.4l3.2-3.3l8.3-0.3l6 8.9l-6.3 8.2l-2-0.1z" fill="#16a"/><path d="M246.2 181.1l-0.1 12.2l-0.5 0.7l-4.4 0.4l-10.3-7.5l6.3-9.1z" fill="#27b"/><path d="M369.8 110.2l-9.3 6.1l-1.5 5.8l11.4 4.5l4.7-3.3l-2.7-11.5z" fill="#17c"/><path d="M265.5 319.4l0.3 1.6l-7.8 7.7l-9-5.3l4-11.2z" fill="#16a"/><path d="M410.3 127.2l1.7-7.3l9.4-5.8l2.3 0.4l3 13.7l-0.5 1l-12.9 2.3z" fill="#159"/><path d="M180.6 294.3l5-11.7l-2.2-4.2l-8.2-3.5l-4.4 1.3l-0.8 12.2l6.7 7z" fill="#159"/><path d="M213.9 197.2l0.5-9.1l-7.4-4.2l-7 7.8l5.7 7.2z" fill="#17c"/><path d="M297.6 240.1l-12.3 1.4l-3.8-4.9l6.6-10l2.8-0.9l6.1 3.6z" fill="#159"/><path d="M235 392.5l7.1-6.2l6.1 6.5l-2.8 9.1l-7.7 2.7z" fill="#16b"/><path d="M269.9 195.4l3.1-8l-12.8-6.8l-3.4 10.3l6.3 7.2z" fill="#27b"/><path d="M252.3 177.4l7.4 2l3.5-5.5l-2.6-9.3l-6.7-2.3l-5.4 3.5z" fill="#259"/><path d="M481.2 77.8l2.8 10.3l2.5 2l12.9-6.1l-3.3-9.1l-14.5 2.1z" fill="#16a"/><path d="M258.8 399.8l7.7 1.3l3.6-3.3l0.3-8.7l-11.9-0.9l-2.7 3.7z" fill="#27b"/><path d="M195.2 212.4l-13.7 5.9l-0.3 3.1l8.8 8.7l8.8-9.3z" fill="#159"/><path d="M296.6 82.6l12.2-2.6l2.8 11.9l-2 3l-7.4-0.1z" fill="#159"/><path d="M302.7 268.7l-0.5-2.5l-12.3-3.6l-1.2 0.8l-2.3 11.5l10.5 1.2z" fill="#16a"/><path d="M290 287.5l-4.1 6.3l-9.8-4.2l4.5-12.4l3.7-0.5z" fill="#26b"/><path d="M292.6 188.2l-7 2.8l-1.1 7.7l4.5 4.6l8.5-2l1.4-2.6z" fill="#16a"/></g>
<path d="M216.6 341.9h0M361.7 55.4h0M433.8 131.3h0M436.1 132.6h0M318.2 276.5h0M315.8 276.4h0M461.3 135.2h0M431.0 122.5h0M423.4 372.7h0M421.7 372.0h0M199.0 242.7h0M300.5 190.3h0M350.5 365.7h0M278.4 444.6h0M299.5 473.0h0M290.5 138.1h0M290.0 137.9h0M465.7 96.9h0M449.4 48.6h0M305.4 290.3h0M455.8 165.6h0M426.0 29.1h0M426.5 30.0h0M362.1 142.3h0M299.3 461.1h0M302.2 462.5h0M165.6 228.1h0M345.3 171.0h0M473.3 159.1h0M373.0 34.6h0M382.5 226.3h0M337.7 204.7h0M299.0 125.0h0M318.8 131.4h0M317.5 132.4h0M293.3 245.9h0M186.2 244.7h0M376.1 372.4h0M243.4 442.8h0M246.4 443.2h0M294.2 305.8h0M268.0 167.5h0M265.3 456.0h0M264.0 453.0h0M403.7 116.3h0M396.8 144.8h0M396.9 144.6h0M489.3 173.7h0M308.5 304.9h0M312.7 304.7h0M292.5 150.0h0M290.0 148.5h0M165.0 254.1h0M314.5 434.6h0M224.0 208.9h0M351.7 126.9h0M260.5 312.9h0M396.4 111.6h0M283.6 269.0h0M281.3 268.4h0M375.3 106.8h0M468.6 118.9h0M465.7 118.4h0M428.0 363.0h0M187.0 210.7h0M167.3 327.8h0M309.0 315.8h0M304.0 316.3h0M387.1 142.3h0M345.9 234.3h0M363.2 393.0h0M390.0 288.3h0M414.7 394.7h0M366.9 340.2h0M480.8 115.8h0M450.5 143.3h0M449.1 145.8h0M395.6 160.4h0M398.5 157.7h0M401.5 212.2h0M401.1 213.3h0M388.4 35.2h0M385.9 37.7h0M312.0 251.9h0M379.8 314.1h0M287.5 181.3h0M420.7 314.2h0M422.2 311.9h0M361.6 292.0h0M299.5 371.1h0M341.2 328.1h0M269.7 441.8h0M482.6 62.9h0M216.4 181.3h0M388.4 324.5h0M209.4 163.2h0M351.4 191.8h0M352.1 190.7h0M225.9 249.6h0M229.1 249.5h0M307.3 117.5h0M364.1 402.4h0M454.5 92.0h0M251.0 386.4h0M198.6 255.2h0M403.2 405.5h0M375.6 166.5h0M309.4 422.4h0M308.7 422.9h0M411.6 38.2h0M381.6 448.3h0M252.2 332.4h0M410.5 144.7h0M409.9 143.4h0M419.7 217.5h0M347.5 136.5h0M343.5 341.8h0M240.8 220.6h0M364.7 433.8h0M219.3 297.1h0M218.1 293.2h0M411.2 333.0h0M276.2 332.0h0M292.3 320.2h0M348.0 386.9h0M435.9 218.9h0M435.2 217.2h0M420.8 156.0h0M421.5 156.0h0M391.7 438.2h0M377.1 267.0h0M378.2 265.5h0M421.5 90.3h0M438.8 209.8h0M482.5 153.3h0M188.6 290.0h0M189.8 290.1h0M277.8 196.2h0M349.2 291.0h0M455.5 204.5h0M455.9 200.2h0M321.8 384.0h0M379.0 115.2h0M267.4 418.6h0M232.8 399.2h0M465.3 148.3h0M343.7 313.4h0M172.9 244.2h0M306.7 145.4h0M327.7 394.5h0M336.1 467.0h0M330.4 301.7h0M320.7 472.9h0M287.8 333.4h0M196.5 371.8h0M218.0 353.0h0M205.6 337.9h0M203.7 336.9h0M381.4 182.9h0M383.9 184.8h0M430.9 169.2h0M282.6 205.5h0M281.8 205.5h0M268.4 245.5h0M350.5 223.4h0M351.6 220.9h0M278.7 226.2h0M278.8 225.3h0M368.0 227.9h0M364.4 229.0h0M199.4 228.9h0M198.2 228.2h0M355.6 89.0h0M325.1 172.5h0M300.1 397.8h0M313.4 186.2h0M219.8 193.5h0M408.3 232.7h0M363.0 166.3h0M480.4 95.9h0M433.7 84.0h0M346.3 473.1h0M198.1 299.4h0M340.6 160.3h0M259.3 435.1h0M363.7 445.5h0M445.3 35.5h0M313.7 357.9h0M321.6 109.8h0M250.7 398.8h0M409.5 67.9h0M318.1 84.1h0M181.1 232.4h0M319.3 412.5h0M339.4 98.2h0M257.6 124.6h0M256.8 124.9h0M290.5 361.8h0M473.7 68.1h0M241.7 203.2h0M292.3 281.4h0M502.3 102.9h0M439.4 45.0h0M439.8 47.1h0M310.4 387.5h0M282.7 86.7h0M268.2 176.5h0M373.4 304.0h0M372.4 304.7h0M260.9 356.4h0M330.7 262.4h0M335.0 179.9h0M335.4 180.4h0M371.0 280.2h0M408.2 342.6h0M409.9 369.8h0M408.4 372.6h0M355.3 174.6h0M282.4 431.4h0M395.6 52.1h0M386.5 333.7h0M382.2 68.0h0M390.8 279.6h0M202.7 213.7h0M197.6 198.4h0M343.5 422.2h0M345.0 425.4h0M327.0 287.9h0M234.3 428.1h0M197.8 317.4h0M267.1 268.4h0M236.4 280.6h0M298.7 259.9h0M180.1 334.4h0M397.7 26.6h0M156.1 304.1h0M159.1 304.8h0M438.6 148.1h0M437.0 147.4h0M399.7 297.5h0M439.5 71.5h0M233.7 164.0h0M383.4 346.7h0M169.9 217.7h0M330.1 405.1h0M329.9 411.3h0M398.3 176.4h0M250.3 375.0h0M359.2 213.8h0M286.7 127.0h0M445.4 160.2h0M338.7 390.7h0M339.7 390.2h0M337.9 112.1h0M275.0 371.7h0M361.9 239.6h0M403.8 57.1h0M473.5 131.8h0M473.2 131.3h0M371.0 351.7h0M353.8 376.4h0M317.6 239.1h0M277.6 345.1h0M221.7 370.5h0M247.8 300.5h0M254.7 424.2h0M413.3 54.1h0M461.9 67.8h0M251.4 131.3h0M480.3 178.5h0M366.8 90.7h0M366.8 89.9h0M365.5 327.6h0M378.6 381.7h0M229.9 289.0h0M207.9 361.9h0M304.3 206.9h0M264.8 380.1h0M244.4 171.9h0M245.7 172.7h0M340.0 378.6h0M342.5 378.2h0M433.0 54.8h0M376.0 84.0h0M394.1 263.5h0M388.1 192.7h0M310.2 449.8h0M312.7 451.5h0M170.9 266.2h0M320.0 228.5h0M321.4 228.2h0M301.3 414.8h0M306.3 326.5h0M307.7 326.6h0M259.4 407.8h0M315.5 217.7h0M285.9 255.2h0M329.3 122.2h0M431.4 327.5h0M264.5 371.5h0M263.2 372.1h0M190.7 339.0h0M209.1 380.8h0M296.8 428.9h0M271.8 284.6h0M335.0 453.7h0M391.2 98.4h0M412.0 28.2h0M420.6 185.9h0M301.0 160.3h0M221.1 385.8h0M365.1 68.0h0M405.8 278.7h0M401.8 277.5h0M241.3 185.6h0M395.4 421.6h0M367.0 121.7h0M254.4 320.7h0M338.8 49.1h0M421.0 121.7h0M210.0 203.4h0M175.7 284.3h0M241.6 256.7h0M291.8 205.7h0M253.3 236.1h0M468.9 173.9h0M469.3 170.9h0M293.7 235.0h0M185.4 271.5h0M364.2 130.0h0M260.1 286.7h0M366.4 186.6h0M418.2 343.8h0M423.6 206.3h0M416.6 193.5h0M420.7 193.9h0M284.7 218.0h0M287.2 221.0h0M253.8 249.4h0M253.3 251.9h0M443.1 96.3h0M397.2 87.4h0M462.1 80.8h0M273.7 402.4h0M273.7 405.0h0M360.0 46.0h0M422.4 330.8h0M334.1 341.2h0M261.8 394.6h0M194.6 219.9h0M429.3 96.8h0M454.8 189.3h0M390.0 218.7h0M362.9 266.7h0M408.5 168.0h0M304.9 86.5h0M326.4 185.9h0M317.9 295.3h0M319.5 297.1h0M411.4 383.1h0M349.6 207.4h0M337.8 294.5h0M340.4 294.9h0M272.0 428.0h0M409.3 321.6h0M294.6 271.6h0M295.4 271.0h0M211.6 407.4h0M410.7 223.4h0M332.2 91.7h0M184.2 197.8h0M449.6 102.4h0M315.3 144.4h0M284.0 287.8h0M293.2 194.6h0" stroke="#3a9fe0" stroke-opacity="0.7" stroke-width="2.4" stroke-linecap="round" fill="none"/>
<path d="M380.8 243.7h0M232.7 387.0h0M334.8 130.6h0M333.4 131.4h0M360.7 56.0h0M277.8 245.1h0M461.5 130.4h0M362.4 357.8h0M201.9 242.8h0M449.8 116.8h0M300.5 191.9h0M316.1 198.4h0M315.4 200.4h0M331.1 248.6h0M331.3 251.6h0M351.3 366.4h0M238.4 301.5h0M237.3 301.0h0M353.0 305.1h0M277.9 449.4h0M429.6 195.7h0M396.9 332.8h0M451.9 50.8h0M244.5 157.3h0M303.9 103.0h0M306.1 104.6h0M455.1 165.5h0M164.9 295.8h0M474.6 86.0h0M165.9 227.7h0M289.0 347.0h0M289.7 351.0h0M405.9 421.2h0M428.3 384.9h0M427.1 384.4h0M246.5 343.6h0M293.7 164.0h0M294.0 168.2h0M490.0 70.6h0M368.3 257.2h0M264.7 342.4h0M298.3 127.1h0M329.3 350.6h0M328.4 349.9h0M379.8 370.3h0M290.2 306.8h0M266.9 167.0h0M295.2 91.4h0M351.2 62.2h0M401.3 118.0h0M275.1 316.8h0M244.1 408.3h0M253.0 198.0h0M255.0 197.0h0M161.9 251.1h0M403.4 133.7h0M158.9 273.6h0M434.8 179.5h0M264.1 312.8h0M468.4 58.0h0M181.3 257.4h0M411.6 263.3h0M343.3 435.1h0M428.8 358.7h0M466.2 190.4h0M466.5 191.8h0M442.4 188.5h0M329.2 145.3h0M417.4 357.7h0M287.2 400.9h0M332.1 234.9h0M380.7 93.6h0M236.3 338.9h0M235.5 335.1h0M286.8 114.4h0M409.6 294.5h0M377.5 315.0h0M299.0 370.7h0M214.9 182.1h0M391.3 326.1h0M295.6 392.1h0M294.1 388.7h0M209.9 165.5h0M290.8 418.5h0M308.3 113.9h0M461.8 180.7h0M463.3 178.4h0M390.8 132.1h0M392.4 129.6h0M453.3 90.8h0M395.1 377.6h0M291.5 470.0h0M378.4 147.3h0M251.4 386.6h0M315.0 374.3h0M172.5 312.3h0M174.5 315.1h0M259.2 225.5h0M198.4 185.6h0M197.4 181.3h0M403.3 404.6h0M423.2 68.5h0M319.9 341.8h0M317.2 339.2h0M186.7 351.0h0M329.5 438.1h0M325.7 438.0h0M200.7 391.5h0M371.1 204.1h0M224.2 161.3h0M270.4 142.9h0M377.4 447.3h0M421.2 217.3h0M496.1 117.5h0M343.0 342.5h0M276.6 332.6h0M349.3 388.0h0M323.3 64.8h0M412.1 208.3h0M414.0 209.5h0M316.7 463.3h0M328.4 214.6h0M237.4 149.4h0M234.7 153.1h0M418.1 282.1h0M414.9 282.8h0M326.4 200.3h0M323.8 322.3h0M324.0 322.9h0M351.1 293.5h0M378.7 47.9h0M407.4 85.0h0M323.6 381.6h0M245.9 245.9h0M379.8 117.0h0M230.4 397.6h0M221.3 412.0h0M464.5 146.6h0M340.2 313.1h0M391.0 229.9h0M341.1 225.2h0M172.4 244.1h0M306.3 145.9h0M411.1 180.2h0M412.7 182.6h0M338.5 467.6h0M326.2 302.8h0M290.6 332.2h0M198.2 374.0h0M182.2 307.0h0M182.1 304.3h0M431.3 163.3h0M186.8 321.4h0M266.2 243.7h0M357.9 90.4h0M503.7 131.3h0M501.8 132.1h0M395.2 344.3h0M393.2 345.3h0M363.1 374.0h0M321.7 154.5h0M364.1 166.9h0M296.4 221.1h0M300.1 222.0h0M481.9 96.5h0M485.9 136.3h0M374.5 131.7h0M379.2 130.5h0M197.9 300.3h0M253.6 435.6h0M277.3 395.6h0M226.0 177.2h0M228.0 178.9h0M446.3 32.4h0M321.0 110.7h0M447.0 81.7h0M253.4 398.7h0M405.3 70.2h0M280.6 460.6h0M317.0 83.8h0M180.6 233.3h0M230.5 222.4h0M399.2 312.7h0M401.3 312.7h0M406.5 96.7h0M406.2 96.8h0M319.0 412.4h0M338.4 99.1h0M225.4 307.6h0M223.0 308.3h0M285.9 360.8h0M244.5 204.0h0M292.9 281.2h0M303.5 437.0h0M212.5 263.0h0M211.5 262.9h0M501.2 101.5h0M376.1 59.6h0M375.7 59.3h0M302.0 232.6h0M450.8 60.4h0M390.4 206.3h0M388.9 206.7h0M312.4 388.4h0M430.0 340.3h0M432.8 339.7h0M269.6 178.6h0M350.9 325.5h0M376.6 290.8h0M261.9 354.8h0M310.6 266.5h0M406.1 342.1h0M342.8 286.9h0M281.7 431.8h0M343.8 253.6h0M200.3 349.9h0M201.2 351.4h0M215.6 231.5h0M213.8 227.5h0M276.4 361.4h0M259.2 211.8h0M270.4 115.5h0M270.0 115.7h0M441.9 315.8h0M261.3 294.2h0M258.4 296.3h0M258.6 262.2h0M256.5 261.7h0M266.1 333.0h0M398.2 47.3h0M198.1 198.1h0M250.3 145.6h0M197.4 314.7h0M420.6 137.4h0M423.9 136.9h0M301.1 259.0h0M330.0 372.0h0M330.3 369.3h0M177.1 334.0h0M276.1 214.5h0M398.1 29.5h0M390.5 393.3h0M402.4 298.9h0M397.9 356.6h0M396.9 358.3h0M379.5 347.0h0M173.0 219.6h0M250.9 374.4h0M231.2 320.7h0M376.8 193.3h0M287.8 124.3h0M445.9 158.6h0M348.6 264.5h0M278.5 369.8h0M246.4 289.9h0M245.6 290.8h0M315.0 163.6h0M209.2 290.7h0M206.4 287.4h0M495.9 92.4h0M404.9 56.6h0M326.6 428.0h0M331.4 427.7h0M372.9 351.6h0M245.8 315.6h0M303.4 73.9h0M229.0 262.2h0M294.7 445.7h0M296.5 446.7h0M353.8 377.0h0M315.3 241.1h0M275.9 344.7h0M218.7 371.0h0M403.7 197.0h0M402.9 197.0h0M250.4 300.6h0M213.7 248.2h0M213.1 248.7h0M366.3 414.8h0M251.6 134.1h0M481.2 177.8h0M161.7 282.2h0M163.0 283.1h0M281.9 171.0h0M230.0 288.6h0M205.3 361.1h0M354.0 400.5h0M352.7 401.4h0M303.8 204.0h0M176.9 346.0h0M177.1 349.2h0M423.9 105.8h0M423.0 105.7h0M388.0 363.1h0M444.8 130.9h0M449.0 132.8h0M393.5 245.7h0M395.2 263.6h0M171.5 265.6h0M298.3 415.5h0M241.8 357.6h0M241.6 359.2h0M192.1 274.6h0M191.3 277.6h0M261.3 406.2h0M314.9 218.5h0M222.8 346.7h0M296.5 180.3h0M382.9 432.9h0M285.2 256.1h0M237.4 235.1h0M431.9 326.1h0M269.1 257.7h0M211.0 379.6h0M295.1 425.6h0M350.4 161.6h0M390.1 100.0h0M339.5 62.9h0M337.9 62.2h0M413.1 28.0h0M314.1 120.5h0M319.5 122.1h0M321.9 453.7h0M352.2 118.1h0M385.2 170.4h0M202.7 172.7h0M201.1 172.5h0M389.7 301.0h0M269.4 203.8h0M369.3 118.6h0M281.9 308.5h0M302.3 359.4h0M209.4 204.5h0M175.3 282.2h0M241.6 257.3h0M253.6 446.6h0M294.7 208.7h0M249.3 233.3h0M371.1 220.5h0M293.2 233.2h0M185.9 267.5h0M301.5 279.5h0M263.1 286.3h0M417.8 343.1h0M420.8 207.3h0M460.6 42.1h0M278.1 144.2h0M278.5 145.7h0M242.3 397.0h0M314.0 474.7h0M313.5 473.8h0M264.0 189.7h0M316.6 401.8h0M443.4 90.5h0M398.4 86.8h0M255.7 171.3h0M461.7 78.3h0M283.4 101.9h0M285.1 100.5h0M364.8 43.5h0M226.3 238.3h0M424.0 331.3h0M355.7 319.0h0M310.4 177.2h0M335.2 340.2h0M232.7 196.5h0M232.6 195.9h0M262.8 394.5h0M457.4 187.8h0M416.3 307.1h0M411.1 383.6h0M350.2 207.8h0M350.7 102.8h0M351.4 102.5h0M366.3 454.6h0M272.2 429.0h0M387.4 152.0h0M388.6 152.8h0M330.2 94.2h0M186.2 196.4h0M284.5 287.8h0M401.5 189.6h0" stroke="#3a9fe0" stroke-opacity="0.7" stroke-width="3.6" stroke-linecap="round" fill="none"/>
<path d="M269.7 178.5h0M288.5 418.6h0M279.2 142.8h0M450.5 49.0h0M285.8 124.2h0M363.9 130.1h0M180.6 231.6h0M341.1 378.8h0M419.8 122.5h0M322.3 227.6h0M222.8 160.9h0M415.4 357.5h0M324.8 322.6h0M337.7 390.8h0M338.4 113.1h0M251.2 234.5h0M334.4 132.6h0M293.0 281.4h0M280.9 267.4h0M240.4 185.7h0M211.5 262.9h0M319.0 96.3h0M257.7 124.8h0M301.3 400.9h0M448.9 61.6h0M474.5 86.0h0M371.8 352.3h0M400.9 388.7h0M379.0 447.1h0M352.3 308.3h0" stroke="#35a8f5" stroke-width="6.4" stroke-linecap="round" fill="none"/>
<path d="M313.6 292.4l-3.6 10.3M313.6 292.4l-4.5 -3.5M313.6 292.4l6.8 -4.3M313.6 292.4l10.9 2.5M313.6 292.4l-4.2 -3.8M313.6 292.4l-6.6 4.5M313.6 292.4l1.9 9.2" fill="none" stroke="#f08a20" stroke-width="3.0" stroke-linecap="round"/>
<path d="M310.7 308.2l5.3 -6.9M310.7 308.2l3.6 10.0M310.7 308.2l-4.0 -3.7M310.7 308.2l6.0 -8.5M310.7 308.2l5.1 -9.4M310.7 308.2l-4.8 -1.0M310.7 308.2l7.4 -4.7" fill="none" stroke="#f08a20" stroke-width="2.8" stroke-linecap="round"/>
<path d="M326.5 359.8l8.4 -0.3M326.5 359.8l-2.0 -3.5M326.5 359.8l3.1 -2.4M326.5 359.8l-4.8 2.9M326.5 359.8l2.6 4.4M326.5 359.8l-0.7 -4.2M326.5 359.8l-2.0 -4.0" fill="none" stroke="#f08a20" stroke-width="2.3" stroke-linecap="round"/>
<path d="M352.3 281.0l5.0 6.3M352.3 281.0l0.1 3.5M352.3 281.0l-4.4 -4.1M352.3 281.0l-7.6 -3.2M352.3 281.0l-1.6 6.0M352.3 281.0l1.7 -4.2M352.3 281.0l-3.8 -3.3" fill="none" stroke="#f08a20" stroke-width="2.3" stroke-linecap="round"/>
<path d="M313.6 200.7l3.0 -1.0M313.6 200.7l2.1 5.7M313.6 200.7l4.9 3.1M313.6 200.7l-3.2 4.8M313.6 200.7l-3.7 -4.6M313.6 200.7l3.4 -1.5M313.6 200.7l4.0 1.5" fill="none" stroke="#f08a20" stroke-width="2.0" stroke-linecap="round"/>
<path d="M305.0 124.7l4.4 1.3M305.0 124.7l3.9 -0.5M305.0 124.7l-2.2 2.2M305.0 124.7l-1.0 -4.6M305.0 124.7l-6.8 -1.2M305.0 124.7l-0.9 5.6M305.0 124.7l0.2 6.9" fill="none" stroke="#f08a20" stroke-width="2.0" stroke-linecap="round"/>
<path d="M368.1 108.9l4.5 -0.4M368.1 108.9l3.4 -1.5M368.1 108.9l4.5 1.2M368.1 108.9l-1.5 3.5M368.1 108.9l-1.5 3.6M368.1 108.9l-3.3 5.0M368.1 108.9l0.7 5.4" fill="none" stroke="#f08a20" stroke-width="2.0" stroke-linecap="round"/>
<path d="M283.5 169.2l2.9 -4.2M283.5 169.2l3.3 2.3M283.5 169.2l3.0 3.0M283.5 169.2l-1.0 -5.8M283.5 169.2l-3.1 0.9M283.5 169.2l-6.3 -3.1M283.5 169.2l-5.0 1.7" fill="none" stroke="#f08a20" stroke-width="2.0" stroke-linecap="round"/>
<path d="M260.6 369.8l-4.7 -1.5M260.6 369.8l3.1 -1.1M260.6 369.8l-6.2 3.2M260.6 369.8l5.6 4.1M260.6 369.8l-4.6 -1.7M260.6 369.8l6.1 -3.5M260.6 369.8l2.5 3.1" fill="none" stroke="#f08a20" stroke-width="2.0" stroke-linecap="round"/>
<path d="M200.3 275.2l4.1 1.7M200.3 275.2l-4.3 -1.2M200.3 275.2l-1.8 -2.5M200.3 275.2l4.8 1.0M200.3 275.2l-1.8 4.4M200.3 275.2l-3.5 -4.1M200.3 275.2l3.2 1.0" fill="none" stroke="#f08a20" stroke-width="2.0" stroke-linecap="round"/>
<path d="M409.6 183.5l6.1 0.9M409.6 183.5l6.1 -2.4M409.6 183.5l-5.9 1.9M409.6 183.5l-2.9 -1.6M409.6 183.5l5.5 2.9M409.6 183.5l-5.7 -0.6M409.6 183.5l-3.1 2.8" fill="none" stroke="#f08a20" stroke-width="2.0" stroke-linecap="round"/>
<path d="M484.2 134.7l1.2 5.8M484.2 134.7l-6.0 1.3M484.2 134.7l-7.0 1.2M484.2 134.7l6.8 4.0M484.2 134.7l1.9 5.2M484.2 134.7l-0.4 3.5M484.2 134.7l3.2 1.4" fill="none" stroke="#f08a20" stroke-width="2.3" stroke-linecap="round"/>
<path d="M372.4 48.7l-3.6 -0.0M372.4 48.7l-3.4 -4.2M372.4 48.7l2.9 -2.8M372.4 48.7l-1.4 5.8M372.4 48.7l1.6 -6.3M372.4 48.7l5.7 -3.3M372.4 48.7l5.1 0.3" fill="none" stroke="#f08a20" stroke-width="2.0" stroke-linecap="round"/>
</g>
<rect x="418.8" y="465.9" width="103.8" height="4.9" fill="#fff"/>
<text x="165.4" y="34.4" font-size="28.4" text-anchor="start" font-family="'Liberation Sans', 'DejaVu Sans', sans-serif" fill="#f28a22">Phalloidin</text>
<text x="166.5" y="71.7" font-size="28.4" text-anchor="start" font-family="'Liberation Sans', 'DejaVu Sans', sans-serif" fill="#7ba3cf">DAPI</text>
<rect x="610.2" y="0" width="375.6" height="486.5" fill="#0a0c0a"/>
<path d="M403.2 33.6L410.9 33.3L418.7 33.7L426.5 34.7L434.1 36.4L441.6 38.7L448.9 41.5L455.9 45.0L462.6 49.0L468.9 53.5L474.7 58.6L480.1 64.1L484.9 70.2L489.1 76.7L492.7 83.6L495.5 90.9L497.6 98.4L499.0 106.2L499.6 114.0L499.3 121.8L498.2 129.6L496.4 137.1L493.9 144.5L490.8 151.6L487.1 158.3L483.0 164.9L478.4 171.1L473.5 177.1L468.1 182.8L462.5 188.3L456.7 193.5L450.7 198.5L444.5 203.2L438.2 207.7L431.8 212.1L425.4 216.4L419.0 220.6L412.5 224.9L406.2 229.1L399.7 233.7L393.1 238.8L388.0 244.6L389.2 250.7L395.3 256.4L401.6 261.5L407.4 266.5L412.7 272.0L417.4 278.3L421.5 285.1L425.0 292.1L427.8 299.4L430.0 306.8L431.5 314.3L432.5 321.9L433.0 329.6L432.9 337.4L432.3 345.1L431.3 352.8L429.8 360.5L427.9 368.1L425.6 375.6L422.9 383.0L419.8 390.1L416.3 397.2L412.4 403.9L408.3 410.5L403.8 416.8L399.0 422.8L393.8 428.5L388.4 434.0L382.8 439.1L376.8 444.1L370.6 448.7L364.2 453.1L357.5 457.3L350.6 461.1L343.4 464.8L336.2 467.9L328.8 470.3L321.3 471.7L313.8 471.8L306.3 470.5L298.9 467.8L291.6 464.5L284.6 461.0L277.8 457.3L271.1 453.5L264.6 449.4L258.2 445.0L251.9 440.4L245.8 435.6L239.9 430.5L234.1 425.3L228.6 419.8L223.2 414.1L218.1 408.3L213.2 402.2L208.6 396.0L204.2 389.7L200.0 383.1L196.0 376.5L192.3 369.7L188.8 362.8L185.5 355.7L182.4 348.6L179.4 341.4L176.7 334.1L174.2 326.8L171.8 319.3L169.7 311.8L167.9 304.3L166.5 296.7L165.8 288.9L165.6 281.2L165.9 273.4L166.6 265.7L167.7 258.0L169.0 250.4L170.6 242.7L172.2 235.1L174.1 227.4L176.2 219.8L178.8 212.5L182.3 205.7L186.7 199.4L191.6 193.3L196.2 187.0L200.4 180.4L205.0 174.1L210.5 168.8L216.7 164.1L222.9 159.3L228.1 153.7L232.7 147.4L237.4 141.1L242.4 135.2L247.7 129.5L253.1 123.9L258.6 118.4L264.0 112.8L269.6 107.4L275.3 102.2L281.1 97.1L286.9 91.9L292.6 86.5L298.2 81.1L304.1 76.1L310.4 71.6L317.0 67.6L323.9 64.0L330.8 60.4L337.8 56.9L344.7 53.3L351.7 49.9L358.7 46.5L365.8 43.4L373.1 40.6L380.4 38.1L387.9 36.0L395.5 34.5Z" transform="translate(458 0)" fill="#14100e" stroke="#cfc4c0" stroke-width="1.6" stroke-opacity="0.55" stroke-dasharray="2 1.5"/>
<g clip-path="url(#blobR)" shape-rendering="crispEdges">
<path d="M659.2 354.5l-6.8-8.5l5-7.6l4.4-0.3l5.1 6.3l-1.6 7z" fill="#747"/><path d="M974.3 135.6l12703.5 46.7l274232-166.8l-286330.3 66.2l-427.2 9.5l-130.8 9.5l-64.3 13.2l1.9 12.8z" fill="#982"/><path d="M831.8 241.1l-2.5-8.7l2.3-6.7l1.9-0.9l13.8 2.6l1.8 3.1l-8.7 14.1l-2.8 0.8z" fill="#aa5"/><path d="M782.5 256.4l-0.9 0.7l-10.8 0.2l-5.9-8.5l0.9-5.1l13.7 1.4z" fill="#9d8"/><path d="M676 394l8.5-0.5l5.6 9.9l-4 6.1l-8.5-2.3z" fill="#588"/><path d="M751.3 441.2l14.1-0.1l-0.8-10.5l-6.3-3.4l-7.1 2.9z" fill="#478"/><path d="M752.6 85.7l4.5-10.7l-11.3-5.7l-3.7 1.9l-2.3 8.8z" fill="#9ab"/><path d="M629.1 298.6l11.3 1.3l4.8 8.4l-9.1 7.6l-7.8-13.4l0.6-3.7z" fill="#5cb"/><path d="M757.3 330.1l0.5-9.2l-3.2-3.9l-9.7 1.4l-6.8 11.5l6.1 6l0.4 0.1z" fill="#5a6"/><path d="M735.1 347.1l9.1-11.2l-6.1-6l-4.7-0.7l-1 0.5l-5.9 12l5.7 5.5z" fill="#452"/><path d="M785.4 314.3l-2.9 10.5l4.2 3.3l10.6-3.4l0.9-1.8l-4.3-8.1z" fill="#d55"/><path d="M822.2 346.3l-3.6-0.3l-9.2 13l10.7 6.8l7.6-6.4l-1.2-8.5z" fill="#584"/><path d="M918.3 147.6l13.3 3.1l2.2 3.1l-0.4 5.5l-13.6 3.6l-6.2-6.1z" fill="#89d"/><path d="M747.8 428.1l-3.4-13.5l-2.8-1l-8.8 8l3.6 10.4z" fill="#237"/><path d="M654.5 379l-2.5-3.1l-0.2-1.9l10.5-8.8l6.8 2l4.1 8.7l-12.1 5.2z" fill="#521"/><path d="M640.6 338.2l3.2-4.5l8.1-1.3l5.5 6l-5 7.6l-4.9 0.2z" fill="#929"/><path d="M797.2 247.1l8.7 1.9l3.2 6.3l-2.1 7.1l-9.7 4.3l-6.7-10.4z" fill="#3cb"/><path d="M787.1 338l0.9 15.8l2.2 0.6l9.6-4.4l0.9-2.2l-3.8-9.4z" fill="#551"/><path d="M699.1 142.3l-6.7 4.1l-8.2-11.5l4.8-9.7l4.2 0.4l7.2 12z" fill="#324"/><path d="M700.5 219.4l11.6 6.6l5.8-4.3l-1.6-10.8l-12.1 1z" fill="#696"/><path d="M754.5 411.6l-10.1 3l-2.8-1l-1.6-2.8l2.2-11.2l6.2-3l4.5 2.9z" fill="#050505"/><path d="M930.6 97.6l5.8 4.9l-5.1 12.5l-2.7 0.5l-9.8-11.2l2.2-4.7z" fill="#272"/><path d="M763.8 100.8l-5.8-9.1l-4.1-1.7l-10.4 9.2l5.4 10.7l2.6 1.4l11.5-7.9z" fill="#647"/><path d="M690.6 381.9l3.8-16.5l-6.7-2.3l-11.3 12.8z" fill="#327"/><path d="M884.4 189.5l7.6-11.8l-2-3.2l-15.2 0.8l-0.4 0.4l2.2 11.7l4.1 2.9z" fill="#277"/><path d="M683.1 223.1l-6-7.8l-9.3 2.3l-2.2 6.4l4.6 5.6l10.8 0.5z" fill="#59a"/><path d="M693 219.7l-4.2-13.1l6.8-5.2l2.7 0.2l5.9 10.3l-3.7 7.5l-4.1 1.8z" fill="#3ac"/><path d="M770.4 205.2l-1.6-0.3l-4.4 14.2l1.4 2.4l10.9 2.4l3.1-9.1z" fill="#050505"/><path d="M829.6 149.1l-15.8 1.9l-2.1 7.5l7.2 5.8l9.2-1.3z" fill="#259"/><path d="M663.4 257.2l-0.9-1.2l-14.7-3.6l-3.5 3.4l0.4 11.8l10.8 1.9z" fill="#87a"/><path d="M748.5 389l-13.6-5.4l-2.7 4l0.1 5.7l9.9 6.3l6.2-3z" fill="#4a4"/><path d="M751.5 295.8l5.1-3.3l0.3-13.1l-11.3 0.9l-1.1 10.5z" fill="#125"/><path d="M898.4 124.2l11.9 4.3l7.3-5.6l-7.2-9.7l-10.8 5.2z" fill="#8d9"/><path d="M780.2 65.1l-7.3 7.7l-4.9 1l-4.8-2.1l-1.7-8l9-11.3l3.2 1l6.6 9.1z" fill="#a35"/><path d="M827.3 259.2l9.8-8.2l0.5-5.6l-5.8-4.3l-9.7 5.4l-1.5 8.9l2.8 3.3z" fill="#513"/><path d="M773.5 98.2l1.8-7.8l7.9-4.4l8 14.7l-2.4 1.9l-9.6 0.7z" fill="#7bd"/><path d="M648.1 286l11.8-6.6l6.8 14.3l-10.6 4.1l-7.1-6.1z" fill="#55c"/><path d="M775.3 90.4l7.9-4.4l0.4-1.1l-10.7-12.1l-4.9 1l-0.1 11.7z" fill="#342"/><path d="M768 365.5l9.4-3.6l3.2-6l-7.5-9l-10.1-0.3l-3.6 3.7z" fill="#c86"/><path d="M758 182.4l-14.9 2.6l3.9 13.2l12.7-4.9z" fill="#a43"/><path d="M876.9 347.5l-7-9.2l-3.1 0.1l-6.7 5.7l2.9 9.2l3.5 2l8.7-2.5z" fill="#73c"/><path d="M838.5 37.7l-0.2-2.4l-10.6-9.2l-7.2 8.5l0.3 5.3l2.8 3.3l8.9 1.5z" fill="#050505"/><path d="M741.8 230l-8.5-8.9l9.9-6.6l7.8 3.2l-1.3 9.2z" fill="#8cd"/><path d="M856.4 120.9l13.6 3.9l2.4-6l-2-7.6l-13.9-1.6z" fill="#c5c"/><path d="M688.5 269.7l0.4-11.2l9.8-3.2l2.1 0.8l1.4 11l-6.8 4.8l-6.4-1.4z" fill="#a88"/><path d="M877.7 328.3l7.6-11.9l-13.2-5.9l-5.1 6.8l0.1 3.4z" fill="#94a"/><path d="M598.7 292.6l-94.7 7.7l115.3 12.1l9-9.9l0.6-3.7z" fill="#d57"/><path d="M702.8 159.7l0.2 2.1l-2 3.1l-13.3 2.8l-2.5-3.4l3.7-13.1l2.2-1.5z" fill="#050505"/><path d="M811.9 460.7l-4.1-1.3l-9.8 3.7l-0.2 0.5l5.6 13.5l10.4-4.4l1.6-5.7z" fill="#da5"/><path d="M748.9 444.2l3.6 7.9l-3.5 8.7l-4.6 1l-7.9-5.1l-0.7-4.7l5.8-7.5z" fill="#4da"/><path d="M880.1 159.8l10.6 8.2l6-4.7l-2.5-11.4l-11.6 2.5z" fill="#427"/><path d="M913.6 156.8l6.2 6.1l-0.3 8l-5.4 4l-7.8-2.3l-2.2-7.7l7.5-7.8z" fill="#758"/><path d="M713.8 314.5l1.9 1.3l2.3-1.1l8.8-13.2l-7.9-6.7l-9.2 0.7l-2.1 4.5z" fill="#6cb"/><path d="M790.6 256.3l6.7 10.4l-1.9 7.2l-5 2.3l-10-8.8l1.2-10.3l0.9-0.7z" fill="#c93"/><path d="M898 145.7l-0.1 1l13.7 10.4l2-0.3l4.7-9.2l-1.2-5.3l-6.6-3.6l-10.5 3.9z" fill="#234"/><path d="M631 352.6l12.6 0.5l3.8 7.5l-1.8 5.7l-13.2 0.9l-2.7-5.6z" fill="#634"/><path d="M715.9 147.8l4.4 5l-1.9 13l-15.4-4l-0.2-2.1l7.7-10.8z" fill="#a65"/><path d="M703.8 430.2l0.5 1.6l7.6 4.3l8.8-4.2l-0.3-6.3l-9.8-5.6l-2.6 0.7z" fill="#982"/><path d="M879 146.6l5.8-7.4l-1.1-6.4l-13-3.6l-4.3 7l4.1 8.3z" fill="#ba9"/><path d="M905.5 201.5l11.7-11.3l-2-2.3l-13.9-2.4l-4.2 10.1l7.8 6z" fill="#8ca"/><path d="M881 391.3l-2.5-3.7l0-2.9l11.9-7.9l5.5 3.9l1.1 10.4l-2.7 4.7z" fill="#a77"/><path d="M656.1 297.8l-0.9 9.9l13.6 4.5l3.6-4.3l-2.2-13.2l-3.5-1z" fill="#050505"/><path d="M859.9 57.2l4.5 5.2l-5.8 12.4l-6.2 0.7l-3.9-14.3z" fill="#6ba"/><path d="M781.7 411.8l-11.5 4.2l2.2 10.3l9.5 4l6.4-12.6z" fill="#c68"/><path d="M649 291.7l-8.6 8.2l4.8 8.4l7.1 1.5l2.9-2.1l0.9-9.9z" fill="#050505"/><path d="M848.4 201.4l-11.9-7.6l4.3-7.8l11.3 0.1l2.3 2.4l-3.3 11.5z" fill="#273"/><path d="M874.7 290.7l-11.4-1.6l-3.6 2.9l1.7 8.9l10.4 6.3l7.8-10.1z" fill="#c86"/><path d="M720.3 152.8l-1.9 13l1.1 2.2l13 0.4l4.5-4.3l-4.9-11.9z" fill="#ab9"/><path d="M748.9 167.5l-6.1 17.3l-7.6-1.4l-2.7-15l4.5-4.3l9.1 0.2z" fill="#883"/><path d="M807.8 76.5l-9.9-8.1l-7.3 4l-1.1 8.6l8.1 3.4z" fill="#3aa"/><path d="M866.5 191l-6.7-3.5l6.6-13.3l8 1.5l2.2 11.7z" fill="#a88"/><path d="M893.5 79.6l5.5-4l-8.6-15.6l-4.1 1.6l-4.5 8l4.7 8.9z" fill="#c99"/><path d="M675.5 357.2l6.3-1.7l5.9 7.6l-11.3 12.8l-2.2 0.5l-1-0.5l-4.1-8.7z" fill="#c6a"/><path d="M820.5 453.1l-3.3-8.6l-11.6-1.5l-0.2 0.2l2.4 16.2l4.1 1.3z" fill="#648"/><path d="M653 171.2l10.5-6.4l5.5 1.6l1.9 10l-11 5.5l-6.6-3.6l-1-2.1z" fill="#351"/><path d="M874.7 44.6l14.6 2.1l1.8 2.6l-0.3 10.1l-0.4 0.6l-4.1 1.6l-11-5.4z" fill="#8db"/><path d="M822.2 207.9l8.8-2.1l7.8 4.9l-5.3 14.1l-1.9 0.9l-9.2-7.5z" fill="#a8a"/><path d="M782.5 198.8l-4.4-13.1l2.5-2.4l15.1 2.7l-3.6 13l-4.7 1.9z" fill="#a7b"/><path d="M732.4 329.7l-12.6-2.1l-4.5 14.4l0.1 0.4l11.1-0.7z" fill="#993"/><path d="M949.4 161.9l-0.2-8.6l-6-3.7l-9.4 4.2l-0.4 5.5l4.3 6.3l6.3 1.4z" fill="#152"/><path d="M840.6 89.2l-6-6.3l3.3-9l13.7 2.2l-1.7 7.8z" fill="#a74"/><path d="M840.6 89.2l-6-6.3l-9.1 2.4l-0.8 1.6l3.2 11.5l1.8 1.3l8.5-0.6l1.7-1.9z" fill="#643"/><path d="M676.3 281.7l-4.7 12l16.6 1.6l2.2-6.3l-5.4-6.7z" fill="#247"/><path d="M773 311l-2-5l-3.7-1.9l-12.2 4.9l-0.5 8l3.2 3.9l12.1-2.3z" fill="#549"/><path d="M957.1 82.6l4.4-2.9l-5-13.4l-10.4 3l0 9z" fill="#050505"/><path d="M831.5 315.4l-5.1-1.6l-9.8 12.5l10 5l7.1-7.8z" fill="#8b5"/><path d="M698.3 201.6l6.5-4.5l0.4-10.8l-4-4.8l-5.1 0.4l-6.7 7.6l6.2 11.9z" fill="#5a4"/><path d="M735.2 183.4l-2.7 1.5l-4.6 10.1l4.2 8l8.5 0.2l6.4-4.9l0-0.1l-3.9-13.2l-0.3-0.2z" fill="#746"/><path d="M929.8 176.6l7.9-11l-4.3-6.3l-13.6 3.6l-0.3 8z" fill="#c99"/><path d="M848.2 387.5l-6 3.5l-9.3-10.1l0.1-2.6l6-5.9l11.9 3.9z" fill="#9a4"/><path d="M881.6 360l-0.6 5.5l8.7 5.8l6.7-6l-1.4-9.8l-3.8-1.5z" fill="#050505"/><path d="M813.7 134.7l-2.7 10.7l2.8 5.6l15.8-1.9l0.6-0.7l-1.6-9.1l-10.4-5.6z" fill="#bb5"/><path d="M852.1 186.1l-1.8-13.2l-15 3.1l5.5 10z" fill="#b7b"/><path d="M732 301.4l4-8.9l8.5-1.7l7 5l-0.9 6.7l-13.9 3.8z" fill="#b57"/><path d="M784 238.8l-2.2-8.5l-2.5-1.5l-15.1 11.1l1.6 3.8l13.7 1.4z" fill="#7ad"/><path d="M753.9 263.8l5.2 4.3l-0.1 9.2l-2.1 2.1l-11.3 0.9l-5.2-5l9.6-11.1z" fill="#6ab"/><path d="M857.6 95.8l4.3-1.4l11.3 10.7l-2.8 6.1l-13.9-1.6l-1.2-1.3l0.8-10.6z" fill="#247"/><path d="M890.6 126.8l-6.9 6l-13-3.6l-0.7-4.4l2.4-6l11.5-1.1z" fill="#422"/><path d="M835.8 132.3l-7.2 7l1.6 9.1l10.7 1.4l4.8-6l-0.6-7.1z" fill="#785"/><path d="M875.2 352.8l-8.7 2.5l0.8 9.1l8.5 4.1l5.2-3l0.6-5.5z" fill="#b87"/><path d="M810.3 307.2l13.4 2.9l2.7 3.7l-9.8 12.5l-1.6 0.2l-6.4-6.4l1.5-12.6z" fill="#49b"/><path d="M730 406.7l10 4.1l1.6 2.8l-8.8 8l-6.2-1l-2.7-9.3z" fill="#050505"/><path d="M780.9 465.8l9.1 2.2l-1.4 27.7l-12.6-25.6z" fill="#b27"/><path d="M696.5 336.3l6.6-5.2l12.2 10.9l0.1 0.4l-1.7 4.1l-9 6.1l-8.5-7.4z" fill="#d8a"/><path d="M644.3 255.8l-10.5-1.2l-5.3-7.8l10.8-8.6l8.1 7.3l0.4 6.9z" fill="#d74"/><path d="M856.4 120.9l13.6 3.9l0.7 4.4l-4.3 7l-4.6 0.7l-10.2-5.8l-0.5-6.2z" fill="#6ac"/><path d="M754.7 351.2l-2.7-1.4l-7.4-13.8l12.7-5.9l4.2 4l1.5 12.5l-3.6 3.7z" fill="#365"/><path d="M700.8 256.1l5.1-1.7l8.4 4.2l-1.8 12.9l-10.3-4.4z" fill="#ad5"/><path d="M687.2 332.1l9.3 4.2l-0.3 8.9l-12.9 4.1l-4.5-8.2l0.4-3.1z" fill="#252"/><path d="M718 314.7l-2.3 1.1l-0.2 5.4l4.3 6.4l12.6 2.1l1-0.5l-2.8-11.5z" fill="#227"/><path d="M788.3 417.7l1.7-0.3l9.7 6.2l-1.2 8.8l-12 3.3l-4-3.3l-0.6-2.1z" fill="#c99"/><path d="M858 447.8l-7.5-2.3l-4-10.8l3.4-6.1l7.8-1l1 0.5l5.8 15.8l-2 2.4z" fill="#639"/><path d="M833.3 296.8l7.1 12.6l-0.3 0.6l-8.6 5.4l-5.1-1.6l-2.7-3.7l4.7-12.9z" fill="#d88"/><path d="M773.4 116.9l14.1 2.5l-1.8 10.9l-11.4 4.3l-5.7-6l0.9-7.4l2.9-3.9z" fill="#372"/><path d="M694.4 365.4l-6.7-2.3l-5.9-7.6l1.5-6.2l12.9-4.1l8.5 7.4l-0.4 2.6l-9.8 10.1z" fill="#ac6"/><path d="M816 115l6.9 9l6.3-1.6l2.3-7.6l-4-4.7l-11.4 2.9z" fill="#234"/><path d="M863.3 289.1l0.8-12l-4.4-5.7l-13.4 7.2l8.9 12.7l4.5 0.7z" fill="#b9a"/><path d="M695.8 304.4l-6-2.5l-1.6-6.6l2.2-6.3l5.6-2.1l13.6 8.4l0.1 0.2l-2.1 4.5z" fill="#934"/><path d="M765.3 370.2l-0.1-0.2l-15.3-3.5l-3.4 1.8l-0.5 3.8l8.5 11.6l3.2 0z" fill="#949"/><path d="M662.3 192.9l-10.8 2.5l-1.9 11.8l1.4 2.6l11.1-1l3.6-6.3l-2-8.7z" fill="#451"/><path d="M774.1 286.3l-9.4 7.8l2.6 10l3.7 1.9l9.7-9.1z" fill="#467"/><path d="M787.2 299l-6.5-2.1l-6.6-10.6l0.2-1.7l13.8-5l5 15.2l-2.7 3.3z" fill="#7bb"/><path d="M827.9 66.1l-5.7 11.6l3.3 7.6l9.1-2.4l3.3-9l-3.2-5.1z" fill="#358"/><path d="M798.8 119.5l2.7-9.4l11.5-1.8l3.1 4.7l-0.1 2l-7.2 6.9z" fill="#ba9"/><path d="M826.9 64.7l1 1.4l6.8 2.7l10.3-9.4l-1.7-5.1l-8.2-3.4l-8.2 11.8z" fill="#b54"/><path d="M727.7 237.9l-1.2-0.6l-9.8 3.9l4.6 13l11.3-3.9z" fill="#274"/><path d="M663.4 257.2l-0.9-1.2l2.2-14.1l2.4-1.2l11.7 3.4l2.3 3.9l-0.4 5l-10.1 6.9z" fill="#a44"/><path d="M901.8 308.4l-2.5 7.6l-8.5 2.9l-5.2-2.6l3.2-10.6l7-2.3z" fill="#54b"/><path d="M800.3 333.8l10.8 1.3l3.9-8.6l-6.4-6.4l-10.4 2.8l-0.9 1.8z" fill="#244"/><path d="M849.5 260.7l10.4 8.3l3.3-3.6l0.5-15.3l-5.5-2.4l-2.3 0.8z" fill="#796"/><path d="M804.3 209.5l-1.4-4.5l-10.8-6l-4.7 1.9l-0.8 11.2l7 4.1l9.9-4.3z" fill="#593"/><path d="M890.6 106.6l-1.6-11.8l4.9-4.3l10.7 3.8l0.1 7.2l-11.2 5.9z" fill="#8cd"/><path d="M738.3 256.5l-8.3 12l6.1 6.5l4.3 0.3l9.6-11.1z" fill="#476"/><path d="M861.4 300.9l-6.2 7.2l-8.3-2.7l0.9-9.5l7.4-4.6l4.5 0.7z" fill="#853"/><path d="M809.4 359l-0.3 0.1l-9.3-9.1l0.9-2.2l12.1-6.3l5.8 4.5z" fill="#dc4"/><path d="M862.3 216l-11 2.2l-4 9.2l1.8 3.1l8.7 3.7l6.6-4.2z" fill="#732"/><path d="M829.6 149.1l0.6-0.7l10.7 1.4l4.9 9.4l-13.4 7.9l-4.3-4.1z" fill="#050505"/><path d="M873.2 43l-0.7-2.9l9.8-9.1l9.6 5.6l-2.6 10.1l-14.6-2.1z" fill="#53c"/><path d="M805.8 281.1l-10.4-7.2l-5 2.3l-2.3 3.4l5 15.2l8.6-2.1l4.6-8.4z" fill="#724"/><path d="M810 223.4l-1.3 5.7l3.9 4.8l16.7-1.5l2.3-6.7l-9.2-7.5z" fill="#050505"/><path d="M768.6 169.8l-4.4 9.2l10 7.2l3.9-0.5l2.5-2.4l0.6-11.5l-6.4-3.8z" fill="#46b"/><path d="M832.9 380.9l-9.3 11.7l-9.7-14.4l5.7-5.2l13.4 5.3z" fill="#663"/><path d="M782.5 324.8l4.2 3.3l0.2 9.8l-9.9 1.3l-4.2-7.4l2.9-6.3z" fill="#d88"/><path d="M753.9 90l4.1 1.7l9.9-6.2l0.1-11.7l-4.8-2.1l-6.1 3.3l-4.5 10.7z" fill="#541"/><path d="M761.4 148.5l-0.9 2.4l2.6 3.9l11.6 2.9l5.8-5.5l-0.1-5.1l-5.3-5.4z" fill="#5dc"/><path d="M930.6 97.6l5.8 4.9l5-1.1l4.5-7.2l-6.5-10.2l-5.2-0.4l-2.4 1.9z" fill="#c5b"/><path d="M718.6 136.4l2.5-0.7l6.3-11.1l-6-8.4l-3.9 0.6l-5.8 10.7l1.1 4z" fill="#97a"/><path d="M921.1 123.1l5.4 10.8l5.5 1.5l8.7-14.3l-9.4-6.1l-2.7 0.5z" fill="#732"/><path d="M916.7 90.4l4.3 9.2l-2.2 4.7l-7.2 2.6l-6.9-5.4l-0.1-7.2l3.4-3.6z" fill="#93c"/><path d="M639.1 234.9l13.3-8.6l-4.6-9.1l-14.3 1.4l-0.9 9.7z" fill="#547"/><path d="M801 173.8l-0.1-0.2l-11.3-6.2l-8.4 4.4l-0.6 11.5l15.1 2.7l0.1-0.1z" fill="#6ca"/><path d="M864.6 157.9l0.4 14.7l1.4 1.6l8 1.5l0.4-0.4l4-14.8z" fill="#a87"/><path d="M826.9 64.7l-13.5 1.4l-4.2 9.9l13 1.7l5.7-11.6z" fill="#a97"/><path d="M833.5 224.8l13.8 2.6l4-9.2l-7.2-9.1l-5.3 1.6z" fill="#b6c"/><path d="M859.8 52.2l13.4-9.2l-0.7-2.9l-1.7-1.5l-15.2-1.7l-4.1 6l0.1 1.5z" fill="#d97"/><path d="M858.6 74.8l5.8-12.4l4.1-0.1l6.7 8l-4.1 7.4l-7.8 0.6z" fill="#514"/><path d="M763 103.4l-11.5 7.9l1.5 4.1l16.5 5.8l2.9-3.9z" fill="#593"/><path d="M890.6 106.6l-1.6-11.8l-9.5-3.2l-4.8 12.8l14.2 3z" fill="#479"/><path d="M838.7 400.2l0.6-0.2l2.9-9l-9.3-10.1l-9.3 11.7l-0.2 2.5z" fill="#869"/><path d="M862.1 378.7l11.1-0.1l2.6-10.1l-8.5-4.1l-10.5 7.8l-0.5 1.7z" fill="#722"/><path d="M869.9 338.3l-3.1 0.1l-5.5-11.2l5.8-6.5l10.6 7.6l0.5 2.4z" fill="#4b6"/><path d="M744.4 461.8l-7.9-5.1l-6.8 6.4l2.7 8.3l8.7 0.2z" fill="#ab4"/><path d="M654.2 227.3l11.4-3.3l4.6 5.6l-3.1 11.1l-2.4 1.2l-8.4-4z" fill="#754"/><path d="M825.4 277.3l0.7 1.4l12.1 3.9l6.4-4.3l-3.7-11.4l-8.3 0.1z" fill="#a58"/><path d="M920.3 85.1l11.5 0.4l2.4-1.9l-4.2-14.3l-10.3 2.1l-2.8 4.4z" fill="#551"/><path d="M628.2 281l-2.1-0.5l-27.4 12.1l30.2 6.2l0.2-0.2l1.9-13.8z" fill="#145"/><path d="M741.6 444.5l-5.8 7.5l-12.2-4.7l2.7-10.2l8.8-2.2z" fill="#438"/><path d="M861.9 394l1.9 0.7l14.7-7.1l0-2.9l-5.3-6.1l-11.1 0.1z" fill="#423"/><path d="M825.2 413.2l3.4 11.3l-8.8 4.8l-5.2-1.4l-5.2-7.5l0.9-4.1l12.9-4.3z" fill="#425"/><path d="M784.9 373.4l8.9-1.8l2.9-3.5l-6.5-13.7l-2.2-0.6l-7.4 2.1l-3.2 6z" fill="#44b"/><path d="M735.1 434.9l-8.8 2.2l-5.6-5.2l-0.3-6.3l6.2-5l6.2 1l3.6 10.4z" fill="#967"/><path d="M804.3 209.5l-1.4-4.5l5.7-11l10.5 4.7l1.7 8z" fill="#155"/><path d="M718.6 136.4l2.5-0.7l11.1 3.1l2.1 10l-2.2 3.4l-11.8 0.6l-4.4-5z" fill="#6ca"/><path d="M917.6 122.9l3.5 0.2l5.4 10.8l-9.4 8.4l-6.6-3.6l-0.2-10.2z" fill="#387"/><path d="M756.5 134.8l-9.8 5.1l-1.3 7.8l5 5.6l10.1-2.4l0.9-2.4z" fill="#479"/><path d="M836.2 407.9l6.2 12.2l-12.8 4.8l-1-0.4l-3.4-11.3z" fill="#b9a"/><path d="M888.9 107.4l-14.2-3l-1.5 0.7l-2.8 6.1l2 7.6l11.5-1.1z" fill="#b5b"/><path d="M627.2 332.2l7.3 7.1l6.1-1.1l3.2-4.5l-3-10.9l-5.3-3.1l-8.6 4.6l-0.7 1.6z" fill="#227"/><path d="M725.8 360.9l-11.7 4.5l-9.8-10.2l0.4-2.6l9-6.1l12 13.1z" fill="#050505"/><path d="M665.7 202.5l13.3 1.2l2.1 2.7l-4 8.9l-9.3 2.3l-5.7-8.8z" fill="#4db"/><path d="M622.3 233.3l-18-7.5l25.2-11.6l4 4.4l-0.9 9.7z" fill="#86b"/><path d="M864.1 213.4l-0.3-6.4l3.6-3.7l11.3-1.5l6.8 7.6l-6 8.5z" fill="#968"/><path d="M759.8 413.6l-1.5 13.6l6.3 3.4l7.8-4.3l-2.2-10.3l-6.6-3.5z" fill="#3c5"/><path d="M851.1 124.9l0.5 6.2l-6.5 5.6l-9.3-4.4l-0.2-4.2l8.5-7.1z" fill="#dd7"/><path d="M751.3 441.2l14.1-0.1l0.7 0.7l-3.2 11.3l-10.4-1l-3.6-7.9z" fill="#527"/><path d="M716.3 210.9l1.6 10.8l8.1 3.2l7.1-3.8l-4.2-13.7l-12.2 2.8z" fill="#c8a"/><path d="M795.7 243.5l-11.7-4.7l-4.5 6.3l3 11.3l8.1-0.1l6.6-9.2z" fill="#551"/><path d="M688.9 258.5l9.8-3.2l-3.7-13.6l-13.9 6.3l-0.4 5z" fill="#234"/><path d="M815.8 178.9l3.1-14.6l-7.2-5.8l-4.6 2l-6.2 13.1l0.1 0.2z" fill="#a9b"/><path d="M763.6 412.5l6.6 3.5l11.5-4.2l-0.7-8.3l-3.8-3.2l-9.1 0.5z" fill="#a98"/><path d="M726.8 110l-5.4 6.2l-3.9 0.6l-5.6-4.7l0.3-11.9l1.4-1.9l4.8 0.2z" fill="#994"/><path d="M761.9 164.5l-9.5 4.1l-3.5-1.1l-2.8-3.2l4.3-11l10.1-2.4l2.6 3.9z" fill="#49b"/><path d="M756.9 133.6l-6.7-8.5l2.8-9.7l16.5 5.8l-0.9 7.4z" fill="#549"/><path d="M828.1 336.5l-1.5-5.2l-10-5l-1.6 0.2l-3.9 8.6l1.7 6.4l5.8 4.5l3.6 0.3z" fill="#976"/><path d="M835.9 437.6l-6.3-12.7l12.8-4.8l0.2 0.1l7.3 8.4l-3.4 6.1z" fill="#5ad"/><path d="M877.7 262.2l-0.6 2.2l-13.9 1l0.5-15.3l7-1.2z" fill="#48a"/><path d="M764.9 248.8l5.9 8.5l-4.7 8.5l-7 2.3l-5.2-4.3l1.8-8.8z" fill="#356"/><path d="M673.5 331.6l5.7 6.4l-0.4 3.1l-11.9 3.3l-5.1-6.3l3.7-6z" fill="#325"/><path d="M789.7 158.9l-0.1 8.5l11.3 6.2l6.2-13.1l-10.3-6.4z" fill="#458"/><path d="M765.8 457.8l13.8-4.4l-7.7-11l-5.8-0.6l-3.2 11.3z" fill="#9ab"/><path d="M628.5 246.8l10.8-8.6l-0.2-3.3l-6.5-6.6l-10.3 5l3.2 12.7z" fill="#663"/><path d="M732.5 168.4l-13-0.4l-1.8 4.7l1.9 7.6l12.9 4.6l2.7-1.5z" fill="#7b6"/><path d="M857.6 95.8l4.3-1.4l1.9-2.6l-0.5-13.5l-4.7-3.5l-6.2 0.7l-0.8 0.6l-1.7 7.8z" fill="#215"/><path d="M631 284.8l-1.9 13.8l11.3 1.3l8.6-8.2l-0.9-5.7l-2.9-2z" fill="#365"/><path d="M816.8 180.1l6.6 2.2l10.1-7.1l-1.1-8.1l-4.3-4.1l-9.2 1.3l-3.1 14.6z" fill="#b59"/><path d="M628.2 281l5.3-10.7l10.5-1.8l1.2 15.5l-14.2 0.8z" fill="#57c"/><path d="M809.1 359.1l-7.1 8.5l-5.3 0.5l-6.5-13.7l9.6-4.4z" fill="#bb6"/><path d="M794.5 394.9l13.1 0.9l0.8-13.7l-10.8 0.4l-5 7.4z" fill="#050505"/><path d="M851.1 200l12.7 7l3.6-3.7l-0.9-12.3l-6.7-3.5l-5.4 1z" fill="#d89"/><path d="M871.8 307.2l0.3 3.3l-5.1 6.8l-10.6-4.2l-1.2-5l6.2-7.2z" fill="#c67"/><path d="M671.2 274.8l5.1 6.9l-4.7 12l-1.4 1l-3.5-1l-6.8-14.3l0.4-0.9z" fill="#4b9"/><path d="M780.2 65.1l10.4 7.3l-1.1 8.6l-5.9 3.9l-10.7-12.1z" fill="#4a8"/><path d="M855.6 36.9l15.2 1.7l-12.7-54l-5.9 32.7z" fill="#b5b"/><path d="M732.2 387.6l-12.5-1.2l-5.8 7l0.2 5.2l14.5-0.4l3.7-4.9z" fill="#67c"/><path d="M803.5 211.9l-9.9 4.3l-1.5 10l8.1 5.2l8.5-2.3l1.3-5.7z" fill="#aa5"/><path d="M707.9 376.1l3.7-1.4l2.5-9.3l-9.8-10.2l-9.8 10.1z" fill="#a36"/><path d="M870.8 406.1l-7-11.4l-1.9-0.7l-2.9 0.8l-7.3 9.8l1.3 3.9l5.6 3.6l10.8-2.2z" fill="#050505"/><path d="M890.6 126.8l-6.7-9.1l5-10.3l1.7-0.8l2.9 0.8l6.1 11l-1.2 5.8l-3 2.3z" fill="#7dd"/><path d="M732.2 387.6l2.7-4l0 0l-6.8-10l-11.2 3.9l2.8 8.9z" fill="#359"/><path d="M917.1 142.3l9.4-8.4l5.5 1.5l1.2 1.4l-1.6 13.9l-13.3-3.1z" fill="#35c"/><path d="M661.6 323.8l-6.5-0.1l-3.2 8.7l5.5 6l4.4-0.3l3.7-6z" fill="#342"/><path d="M715.8 185.9l3.8-5.6l-1.9-7.6l-13.9 3.8l-2.6 5l4 4.8z" fill="#5c9"/><path d="M905.1 46.6l-14 2.7l-1.8-2.6l2.6-10.1l7.4-4.2l7.6 10.2z" fill="#d65"/><path d="M879 146.6l3.6 7.8l-2.5 5.4l-1.3 0.7l-14.2-2.6l-0.7-0.8l6.6-12.6z" fill="#8a7"/><path d="M696.1 181.9l5.1-0.4l2.6-5l-2.8-11.6l-13.3 2.8l-0.4 4.2z" fill="#050505"/><path d="M959.1 126.7l-1.9-12.8l-3.4-2l-2.3 0.1l-10.6 9.1l8.5 9.6z" fill="#723"/><path d="M863.9 157.1l-4.9-0.9l-9.7 4.7l1.4 11.4l14.3 0.3l-0.4-14.7z" fill="#744"/><path d="M837.1 251l6.8 10.7l5.6-1l6.4-12.2l-15.5-3.9l-2.8 0.8z" fill="#69b"/><path d="M837 337.6l6.6-9.1l5.4-1.1l0.1 0.1l3.6 14.9l-8.1 6l-3.4-1.7z" fill="#c65"/><path d="M665.3 351.4l1.6-7l11.9-3.3l4.5 8.2l-1.5 6.2l-6.3 1.7z" fill="#9c6"/><path d="M629.4 212.7l0.1 1.5l4 4.4l14.3-1.4l3.2-7.4l-1.4-2.6l-12.8-5.2z" fill="#578"/><path d="M798.8 119.5l10 2.4l3.5 11.8l-13.2-0.6l-1.1-13.1z" fill="#c85"/><path d="M698.6 316.4l-1.8 3l6.3 11.6l12.4-9.8l0.2-5.4l-1.9-1.3z" fill="#234"/><path d="M880.6 225.4l12.6 0.8l5.4-10.3l-0.6-1.2l-11.8-5.4l-0.7 0.1l-6 8.5z" fill="#97d"/><path d="M800.4 94.9l-5.8 5.5l-3.4 0.3l-8-14.7l0.4-1.1l5.9-3.9l8.1 3.4z" fill="#315"/><path d="M754.7 351.2l-2.7-1.4l-10.9 3.2l-2.5 10.3l7.9 5l3.4-1.8z" fill="#a74"/><path d="M809.2 59.1l-10.1 1.3l-4.7-6l0-2.2l8-10l4.5 2l4.9 10.4z" fill="#274"/><path d="M725.7 359.6l-12-13.1l1.7-4.1l11.1-0.7l5.7 5.5z" fill="#8aa"/><path d="M930 69.3l0.4-0.6l11.7-2.6l4 3.2l0 9l-6.7 5.7l-5.2-0.4z" fill="#843"/><path d="M773.9 379.5l9.3-3l1.7-3.1l-7.5-11.5l-9.4 3.6l-2.8 4.5l0.1 0.2z" fill="#68b"/><path d="M807.8 459.4l-9.8 3.7l-8.2-14l0-0.1l15.6-5.8z" fill="#99c"/><path d="M684.5 393.5l8.1-7.6l3.8 0.9l5.3 16.2l-0.2 0.2l-11.4 0.2z" fill="#c6c"/><path d="M704.2 211.9l12.1-1l0.4-0.7l-2.5-10.3l-9.4-2.8l-6.5 4.5z" fill="#846"/><path d="M756.9 133.6l-6.7-8.5l-11.1 2.1l-0.8 6.5l8.4 6.2l9.8-5.1z" fill="#8ac"/><path d="M759.9 180l4.3-1l10 7.2l-8.4 10.3l-6.1-3.2l-1.7-10.9z" fill="#536"/><path d="M887.1 343.5l1.1-2.7l14.4 0.2l1.4 1.9l-1.6 9.1l-7.4 3.5l-3.8-1.5z" fill="#153"/><path d="M816.8 180.1l-8.4 12.9l-12.6-7.1l5.2-12.1l14.8 5.1z" fill="#342"/><path d="M798.8 119.5l2.7-9.4l-6.9-9.7l-3.4 0.3l-2.4 1.9l-1.3 16.8l10.5 0.6z" fill="#277"/><path d="M916.9 75.8l2.8-4.4l-7.1-12l-3.7-0.6l-0.1 0.1l-7 16.7l2.5 1.4z" fill="#699"/><path d="M774.3 284.6l-0.7-0.9l-14.6-6.4l-2.1 2.1l-0.3 13.1l8.1 1.6l9.4-7.8z" fill="#b7a"/><path d="M773.9 379.5l9.3-3l3.9 11l-8.4 3.4l-6.2-5.4z" fill="#cc6"/><path d="M833.3 442.3l-11.8-3l-1.7-10l8.8-4.8l1 0.4l6.3 12.7z" fill="#525"/><path d="M958.6 144.2l-10.7-6.6l1.5-6.9l9.7-4l15.2 8.9z" fill="#6c7"/><path d="M844.6 278.3l-6.4 4.3l-0.5 9.9l10.1 3.4l7.4-4.6l-8.9-12.7z" fill="#aa8"/><path d="M930 69.3l0.4-0.6l-3.2-15.9l-1.8-1.4l-0.6 0l-12.2 8l7.1 12z" fill="#d79"/><path d="M859.9 57.2l4.5 5.2l4.1-0.1l6.8-6.1l-0.6-11.6l-1.5-1.6l-13.4 9.2z" fill="#050505"/><path d="M670.6 259.9l10.1-6.9l8.2 5.5l-0.4 11.2l-15.3-0.6z" fill="#952"/><path d="M700.5 414.6l1-11.4l0.2-0.2l11-2l3.7 8.1l-5.8 10.9l-2.6 0.7z" fill="#372"/><path d="M812.3 133.7l1.4 1l-2.7 10.7l-13.3 0.5l-3.9-5.2l0.3-2.9l5-4.7z" fill="#35c"/><path d="M658.8 355.5l-11.4 5.1l-1.8 5.7l6.2 7.7l10.5-8.8z" fill="#472"/><path d="M838.2 282.6l-12.1-3.9l-5.5 12.4l0 0.3l7.8 5.8l4.9-0.4l4.4-4.3z" fill="#4ad"/><path d="M812.3 89.7l-3.9-13.1l-0.6-0.1l-10.2 7.9l2.8 10.5l9.3-0.3z" fill="#b87"/><path d="M798.5 432.4l1.2-8.8l9.7-3.2l5.2 7.5l-9.5 10.9z" fill="#9b9"/><path d="M826.9 62.7l-7.2-9.4l3.9-10.1l8.9 1.5l2.6 6.2z" fill="#6c7"/><path d="M696.4 386.8l5.3 16.2l11-2l1.4-2.4l-0.2-5.2l-10.1-9.6z" fill="#050505"/><path d="M718.6 136.4l-2.7 11.4l-5.4 1.1l-11.4-6.6l1.3-4.7l12.4-6.1z" fill="#c63"/><path d="M905.1 46.6l-14 2.7l-0.3 10.1l18-0.5l0.1-0.1z" fill="#732"/><path d="M744.5 290.8l1.1-10.5l-5.2-5l-4.3-0.3l-4.6 9.8l4.5 7.7z" fill="#392"/><path d="M930.4 68.7l-3.2-15.9l10.9-0.5l4.8 5.2l-0.8 8.6z" fill="#244"/><path d="M756.9 133.6l11.7-5l5.7 6l0.8 7.1l-13.7 6.8l-4.9-13.7z" fill="#348"/><path d="M652.3 309.8l-0.5 10.2l-11 2.8l-5.3-3.1l0.6-3.8l9.1-7.6z" fill="#513"/><path d="M816.8 271.9l-11 9.2l0.5 3.2l14.3 6.8l5.5-12.4l-0.7-1.4z" fill="#976"/><path d="M709.6 295.3l0.1 0.2l9.2-0.7l4.4-9.2l-7.1-10.7l-1.9-0.3l-3.8 4.1z" fill="#dc8"/><path d="M743.5 99.2l5.4 10.7l-11.6 6.3l-7.8-6.6l8.3-11.5l0.3-0.2z" fill="#56b"/><path d="M838.5 37.7l-0.2-2.4l13.9-18l3.4 19.6l-4.1 6z" fill="#336"/><path d="M740.1 235.8l5.4 9.2l-7.8 7.6l-5.1-2.3l-4.9-12.4z" fill="#432"/><path d="M874.3 276.1l3.5-10l-0.7-1.7l-13.9 1l-3.3 3.6l-0.2 2.4l4.4 5.7z" fill="#050505"/><path d="M773.9 379.5l-8.6-9.3l-7.6 13.5l6.1 6l8.7-4.2z" fill="#9b7"/><path d="M745.8 245l9.9 10l9.2-6.2l0.9-5.1l-1.6-3.8l-4.8-3.5z" fill="#48a"/><path d="M917.2 190.2l-2-2.3l-1.1-13l5.4-4l10.3 5.7l0.5 3.2l-5.5 8.3l-6.5 2.4z" fill="#c63"/><path d="M700.8 256.1l5.1-1.7l5.5-14.6l-2.2-2.4l-12-0.6l-2.2 4.9l3.7 13.6z" fill="#c38"/><path d="M688.8 206.6l-7.7-0.2l-2.1-2.7l0.7-14.6l9.7 0.4l6.2 11.9z" fill="#366"/><path d="M863.3 78.3l0.5 13.5l13.9-3.1l0.5-3.5l-7.1-7.5z" fill="#153"/><path d="M746.1 164.3l-9.1-0.2l-4.9-11.9l2.2-3.4l11.1-1.1l5 5.6z" fill="#050505"/><path d="M841.2 346.7l3.4 1.7l0.9 7.9l-7.9 7.7l-9.9-4.6l-1.2-8.5z" fill="#946"/><path d="M820.8 206.7l-1.7-8l6.7-8.8l8.1 4.5l-2.9 11.4l-8.8 2.1z" fill="#7aa"/><path d="M839.9 97.2l-1.7 1.9l4.9 12l12.2-2.8l0.8-10.6z" fill="#379"/><path d="M890.7 168l-0.7 6.5l2 3.2l6.9 2.4l7.4-7.5l-2.2-7.7l-7.4-1.6z" fill="#a5c"/><path d="M879.8 226.8l0.8-1.4l-1.1-7.5l-15.4-4.5l-1.8 2.6l2.1 14l6.4 1.6z" fill="#388"/><path d="M945.9 94.2l-4.5 7.2l10.1 10.6l2.3-0.1l4.2-15.1l-3.4-3.6z" fill="#836"/><path d="M813.4 66.1l-4.2 9.9l-0.8 0.6l-0.6-0.1l-9.9-8.1l1.2-8l10.1-1.3z" fill="#249"/><path d="M678.1 187.7l-14.4 6.1l-1.4-0.9l-2.4-11l11-5.5l5.7 4.3z" fill="#364"/><path d="M797.6 382.5l10.8-0.4l3.6-3.7l-10-10.8l-5.3 0.5l-2.9 3.5z" fill="#954"/><path d="M675.5 322.4l11.2-0.8l0.5 10.5l-8 5.9l-5.7-6.4z" fill="#b6c"/><path d="M746.5 368.3l-7.9-5l-9.2 0.9l-1.3 9.4l6.8 10l11.1-11.5z" fill="#c6a"/><path d="M782.5 198.8l-4.4-13.1l-3.9 0.5l-8.4 10.3l2 7.5l1 0.9l1.6 0.3z" fill="#c39"/><path d="M725.8 360.9l-11.7 4.5l-2.5 9.3l5.3 2.8l11.2-3.9l1.3-9.4z" fill="#c85"/><path d="M860.1 344.1l-7.4-1.7l-8.1 6l0.9 7.9l7.4 3.7l10.1-6.7z" fill="#336"/><path d="M628.2 281l-2.1-0.5l-14.8-17.5l17.2-0.2l5 7.5z" fill="#7bb"/><path d="M820.6 255.4l-11.5-0.1l-3.2-6.3l6.7-7.6l9.5 5.1z" fill="#47d"/><path d="M786.9 337.9l-9.9 1.3l-3.9 7.7l7.5 9l7.4-2.1l-0.9-15.8z" fill="#853"/><path d="M726.5 237.3l-9.8 3.9l-5.3-1.4l-2.2-2.4l2.9-11.4l5.8-4.3l8.1 3.2z" fill="#982"/><path d="M848.4 201.4l-4.3 7.7l7.2 9.1l11-2.2l1.8-2.6l-0.3-6.4l-12.7-7z" fill="#338"/><path d="M664.9 396.3l-1.3 9.9l4.5 5.8l3.8 0.3l5.7-5.1l-1.6-13.2l-0.2 0l-10.2 1.7z" fill="#84d"/><path d="M884.4 189.5l11.1 6.4l-9.3 13.4l-0.7 0.1l-6.8-7.6l2-11.5z" fill="#843"/><path d="M767.8 204l-2-7.5l-6.1-3.2l-12.7 4.9l0 0.1l8.1 8.8z" fill="#392"/><path d="M693 219.7l-9.9 3.4l-2.1 7l0.9 1.7l14.8 4.3l-0.3-14.9z" fill="#a83"/><path d="M933.8 153.8l9.4-4.2l1.7-10.2l-11.7-2.6l-1.6 13.9z" fill="#98c"/><path d="M737.7 252.6l0.6 3.9l11.7 7.7l3.9-0.4l1.8-8.8l-9.9-10l-0.3 0z" fill="#cc8"/><path d="M859 394.8l-7.3 9.8l-12.4-4.6l2.9-9l6-3.5z" fill="#729"/><path d="M813 108.3l1-7l-4.3-6.7l-9.3 0.3l-5.8 5.5l6.9 9.7z" fill="#b92"/><path d="M774.8 168l6.4 3.8l8.4-4.4l0.1-8.5l-9.2-6.7l-5.8 5.5z" fill="#bb5"/><path d="M759.8 413.6l-1.5 13.6l-7.1 2.9l-3.4-2l-3.4-13.5l10.1-3z" fill="#050505"/><path d="M795.7 243.5l4.5-12.1l8.5-2.3l3.9 4.8l0 7.5l-6.7 7.6l-8.7-1.9z" fill="#974"/><path d="M836.5 193.8l-2.6 0.6l-8.1-4.5l-2.4-7.6l10.1-7.1l1.8 0.8l5.5 10z" fill="#db5"/><path d="M685 282.3l5.4 6.7l5.6-2.1l3.5-6.6l-4.1-8.4l-6.4-1.4z" fill="#43a"/><path d="M771.9 442.4l10.6-10l4 3.3l3.3 13.3l0 0.1l-10 4.4l-0.2-0.1z" fill="#496"/><path d="M772.4 426.3l-7.8 4.3l0.8 10.5l0.7 0.7l5.8 0.6l10.6-10l-0.6-2.1z" fill="#563"/><path d="M793.1 397.9l3.7 11l10.1 0.5l4-10.6l-3.3-3l-13.1-0.9z" fill="#634"/><path d="M795.7 243.5l4.5-12.1l-8.1-5.2l-10.3 4.1l2.2 8.5z" fill="#984"/><path d="M920.3 85.1l-3.4-9.3l-12.6 1.2l3.7 13.7l8.7-0.3z" fill="#8cd"/><path d="M679.7 189.1l9.7 0.4l6.7-7.6l-8.8-10l-10.7 8.8l1.5 7z" fill="#467"/><path d="M693.4 417.4l-5.9-2.9l-9.1 8l-0.4 4l9.3 4.8l5.4-3.8z" fill="#050505"/><path d="M890.4 376.8l-0.7-5.5l-8.7-5.8l-5.2 3l-2.6 10.1l5.3 6.1z" fill="#a3c"/><path d="M869.4 409.9l-10.8 2.2l-0.9 15.5l1 0.5l13.7-3.8l1.7-4.7z" fill="#db5"/><path d="M857.7 427.6l0.9-15.5l-5.6-3.6l-10.4 11.7l7.3 8.4z" fill="#c99"/><path d="M889.6 290.9l-10 6.2l9.2 8.6l7-2.3l1.5-10z" fill="#73c"/><path d="M675.5 322.4l11.2-0.8l0.2-0.3l-3.5-13.3l-11-0.1l-3.6 4.3l0.2 3.7z" fill="#874"/><path d="M906.9 42.6l-7.6-10.2l6.7-28.5l11.7 29l-4.3 8z" fill="#b9a"/><path d="M783.8 312.1l3.4-13.1l3.2-0.9l7.3 10.2l-3.8 6.5l-8.5-0.5z" fill="#8ca"/><path d="M798 120l-10.5-0.6l0 0l-1.8 10.9l8.4 7.5l5-4.7z" fill="#342"/><path d="M795.8 185.9l-0.1 0.1l-3.6 13l10.8 6l5.7-11l-0.2-1z" fill="#8d9"/><path d="M793.1 397.9l3.7 11l-6.8 8.5l-1.7 0.3l-6.6-5.9l-0.7-8.3z" fill="#85c"/><path d="M714.3 274.6l-1.8-3.1l1.8-12.9l6.2-2.7l9.1 12.5l-13.4 6.5z" fill="#c38"/><path d="M833 378.3l6-5.9l-1.4-8.4l-9.9-4.6l-7.6 6.4l-0.5 7.2z" fill="#572"/><path d="M780.9 465.8l-1.1-12.3l10-4.4l8.2 14l-0.2 0.5l-7.8 4.4z" fill="#a8a"/><path d="M861.3 327.2l-12.2 0.3l-0.1-0.1l0.2-5.9l7.2-8.4l10.6 4.2l0.1 3.4z" fill="#427"/><path d="M849.3 160.9l-3.5-1.7l-4.9-9.4l4.8-6l9.5 1.7l3.8 10.7z" fill="#498"/><path d="M856.3 373.9l0.5-1.7l-3.9-12.2l-7.4-3.7l-7.9 7.7l1.4 8.4l11.9 3.9z" fill="#247"/><path d="M763 346.6l10.1 0.3l3.9-7.7l-4.2-7.4l-11.3 2.3z" fill="#36a"/><path d="M806.3 284.3l-4.6 8.4l8.6 10.9l10.3-12.2l0-0.3z" fill="#276"/><path d="M783.8 312.1l-10.8-1.1l-2-5l9.7-9.1l6.5 2.1z" fill="#95c"/><path d="M827.9 98.4l-13.9 2.9l-4.3-6.7l2.6-4.9l12.4-2.8z" fill="#225"/><path d="M793.9 314.8l4.3 8.1l10.4-2.8l1.5-12.6l-12.4 0.8z" fill="#85c"/><path d="M905.5 201.5l11.7-11.3l1.1 0.3l3.9 13.1l-6.9 6.1z" fill="#663"/><path d="M671.6 293.7l-1.4 1l2.2 13.2l11 0.1l6.4-6.1l-1.6-6.6z" fill="#627"/><path d="M639.3 238.2l8.1 7.3l8.9-7.6l-2.1-10.6l-1.8-1l-13.3 8.6z" fill="#9cb"/><path d="M665.6 395.7l10.2-1.7l-1.6-17.6l-1-0.5l-12.1 5.2z" fill="#663"/><path d="M818.2 133.7l10.4 5.6l7.2-7l-0.2-4.2l-6.4-5.7l-6.3 1.6z" fill="#275"/><path d="M740.1 235.8l1.7-5.8l7.9-3.1l9.2 7.6l0.5 1.9l-13.6 8.6l-0.3 0z" fill="#68b"/><path d="M765.8 457.8l13.8-4.4l0.2 0.1l1.1 12.3l-4.9 4.3l-3.8 0.1l-6.9-10z" fill="#893"/><path d="M835.1 50.9l-2.6-6.2l6-7l13 5.2l0.1 1.5l-8.3 9.9z" fill="#267"/><path d="M736.7 306.3l13.9-3.8l4.5 6.5l-0.5 8l-9.7 1.4l-8-7.4z" fill="#a98"/><path d="M662.3 192.9l-2.4-11l-6.6-3.6l-7.1 12.4l5.3 4.7z" fill="#86c"/><path d="M693 219.7l-9.9 3.4l-6-7.8l4-8.9l7.7 0.2z" fill="#b46"/><path d="M840.1 310l9.1 11.5l-0.2 5.9l-5.4 1.1l-9.9-5l-2.2-8.1z" fill="#294"/><path d="M879 146.6l5.8-7.4l13.2 6.5l-0.1 1l-3.7 5.2l-11.6 2.5z" fill="#a89"/><path d="M716.7 210.2l12.2-2.8l3.2-4.4l-4.2-8l-8.8-0.2l-4.9 5.1z" fill="#8aa"/><path d="M775.7 325.5l-2.9 6.3l-11.3 2.3l-4.2-4l0.5-9.2l12.1-2.3z" fill="#432"/><path d="M739.1 127.2l-2.4-2.8l-9.3 0.2l-6.3 11.1l11.1 3.1l6.1-5.1z" fill="#929"/><path d="M877.7 88.7l1.8 2.9l9.5 3.2l4.9-4.3l-0.4-10.9l-7-1.1l-8.3 6.7z" fill="#864"/><path d="M842.1 113.3l-10.6 1.5l-4-4.7l2.2-10.4l8.5-0.6l4.9 12z" fill="#b6c"/><path d="M836.2 407.9l-11 5.3l-2-1.2l-3-14l3.2-2.9l15.3 5.1z" fill="#d77"/><path d="M855.9 248.5l2.3-0.8l-0.4-13.5l-8.7-3.7l-8.7 14.1z" fill="#59c"/><path d="M834.6 449.9l-1.3-7.6l2.6-4.7l10.6-2.9l4 10.8l-10 7.2z" fill="#74b"/><path d="M685.2 164.3l-11.6-1.5l-0.2-12.8l2.5-1.4l13 2.6z" fill="#64b"/><path d="M874.7 290.7l4-9.3l-4.4-5.3l-10.2 1l-0.8 12z" fill="#c6a"/><path d="M733.3 221.1l-0.2 0l-4.2-13.7l3.2-4.4l8.5 0.2l2.6 11.3z" fill="#244"/><path d="M823.4 395.1l0.2-2.5l-9.7-14.4l-1.9 0.2l-3.6 3.7l-0.8 13.7l3.3 3l9.3-0.8z" fill="#754"/><path d="M712.8 131.5l-1.1-4l-11.3-6l-7.2 4.1l7.2 12z" fill="#c9a"/><path d="M879.6 297.1l0 0l9.2 8.6l-3.2 10.6l-0.3 0.1l-13.2-5.9l-0.3-3.3z" fill="#689"/><path d="M780.4 267.4l-6.5 3.4l-0.3 12.9l0.7 0.9l13.8-5l2.3-3.4z" fill="#b76"/><path d="M692.7 427.5l-5.4 3.8l0.7 5l8.8 6.5l1.4-0.4l6.1-10.6l-0.5-1.6z" fill="#b9b"/><path d="M699.1 142.3l-6.7 4.1l-1.3 3.3l11.7 10l7.7-10.8z" fill="#050505"/><path d="M884.4 189.5l7.6-11.8l6.9 2.4l2.4 5.4l-4.2 10.1l-1.6 0.3z" fill="#499"/><path d="M827.3 259.2l5.3 7.8l-7.2 10.3l-8.6-5.4l-0.2-0.7l6.8-12.5z" fill="#145"/><path d="M945.9 94.2l-6.5-10.2l6.7-5.7l11 4.3l-2.5 10.6z" fill="#885"/><path d="M662.5 256l2.2-14.1l-8.4-4l-8.9 7.6l0.4 6.9z" fill="#244"/><path d="M765.3 460.2l6.9 10l-6.9 6.7l-9.3-6.2l-0.3-4.4z" fill="#050505"/><path d="M628.5 262.8l5.3-8.2l-5.3-7.8l-3-0.8l-23.9 12.9l9.7 4.1z" fill="#7b9"/><path d="M904.9 201.6l-7.8-6l-1.6 0.3l-9.3 13.4l11.8 5.4z" fill="#329"/><path d="M835.3 176l15-3.1l0.4-0.6l-1.4-11.4l-3.5-1.7l-13.4 7.9l1.1 8.1z" fill="#050505"/><path d="M799.7 423.6l-9.7-6.2l6.8-8.5l10.1 0.5l3.4 6.9l-0.9 4.1z" fill="#745"/><path d="M870.5 144.5l-4.1-8.3l-4.6 0.7l-6.6 8.6l3.8 10.7l4.9 0.9z" fill="#994"/><path d="M669 315.9l-0.2-3.7l-13.6-4.5l-2.9 2.1l-0.5 10.2l3.3 3.7l6.5 0.1z" fill="#339"/><path d="M774.3 134.6l11.4-4.3l8.4 7.5l-0.3 2.9l-13.4 6.4l-5.3-5.4z" fill="#54b"/><path d="M732 301.4l4.7 4.9l0.2 4.7l-6.3 6.7l-12.6-3l8.8-13.2z" fill="#d78"/><path d="M793.1 397.9l-12.1 5.6l-3.8-3.2l1.5-9.4l8.4-3.4l5.5 2.4l1.9 5z" fill="#87d"/><path d="M836.2 407.9l6.2 12.2l0.2 0.1l10.4-11.7l-1.3-3.9l-12.4-4.6l-0.6 0.2z" fill="#c39"/><path d="M820.2 398l-9.3 0.8l-4 10.6l3.4 6.9l12.9-4.3z" fill="#b99"/><path d="M917.6 122.9l3.5 0.2l7.5-7.6l-9.8-11.2l-7.2 2.6l-1.2 6.3z" fill="#99b"/><path d="M726.8 110l-8.4-11.5l6.4-4.5l13 4.1l-8.3 11.5z" fill="#b8c"/><path d="M711.4 239.8l5.3 1.4l4.6 13l-0.8 1.7l-6.2 2.7l-8.4-4.2z" fill="#6ba"/><path d="M698.6 316.4l-1.8 3l-9.9 1.9l-3.5-13.3l6.4-6.1l6 2.5z" fill="#943"/><path d="M773.4 116.9l14.1 2.5l0 0l1.3-16.8l-9.6 0.7z" fill="#272"/><path d="M944 167l-6.3-1.4l-7.9 11l0.5 3.2l10.8 4l3.1-1.7l2.7-9.5z" fill="#a98"/><path d="M703.8 383.8l10.1 9.6l5.8-7l-2.8-8.9l-5.3-2.8l-3.7 1.4z" fill="#050505"/><path d="M652.4 226.3l-4.6-9.1l3.2-7.4l11.1-1l5.7 8.8l-2.2 6.4l-11.4 3.3z" fill="#4bd"/><path d="M768.6 169.8l-4.4 9.2l-4.3 1l-7.5-11.4l9.5-4.1z" fill="#725"/><path d="M663.4 257.2l-7.9 12.3l4.8 9l10.9-3.7l2-5.7l-2.6-9.2z" fill="#b62"/><path d="M895.4 126.5l4.6 16.1l10.5-3.9l-0.2-10.2l-11.9-4.3z" fill="#b75"/><path d="M763.8 100.8l-5.8-9.1l9.9-6.2l7.4 4.9l-1.8 7.8z" fill="#245"/><path d="M706.6 457.2l12.3 0.4l3.4-9.5l-10-4.2l-5.6 3.8z" fill="#4d7"/><path d="M749.7 226.9l1.3-9.2l2.2-1.3l11.2 2.7l1.4 2.4l-6.9 13z" fill="#125"/><path d="M837 337.6l-8.9-1.1l-5.9 9.8l4.3 4.6l14.7-4.2z" fill="#93a"/><path d="M749 460.8l-4.6 1l-3.3 9.8l5.4 8l9.5-8.9l-0.3-4.4z" fill="#472"/><path d="M681 230.1l0.9 1.7l-3.1 12.3l-11.7-3.4l3.1-11.1z" fill="#a65"/><path d="M759.8 413.6l-5.3-2l-1.6-12.1l10.8-4.2l4.4 5.5l-4.5 11.7z" fill="#6c7"/><path d="M716.2 274.9l13.4-6.5l0.4 0.1l6.1 6.5l-4.6 9.8l-8.2 0.8z" fill="#578"/><path d="M798.5 432.4l-12 3.3l3.3 13.3l15.6-5.8l0.2-0.2l-0.5-4.2z" fill="#542"/><path d="M866.8 338.4l-6.7 5.7l-7.4-1.7l-3.6-14.9l12.2-0.3z" fill="#db8"/><path d="M905.1 46.6l3.8 12.2l3.7 0.6l12.2-8l-11.4-10.5l-6.5 1.7z" fill="#d77"/><path d="M773.6 283.7l-14.6-6.4l0.1-9.2l7-2.3l7.8 5z" fill="#946"/><path d="M822.1 246.5l-9.5-5.1l0-7.5l16.7-1.5l2.5 8.7z" fill="#8bd"/><path d="M751.5 295.8l5.1-3.3l8.1 1.6l2.6 10l-12.2 4.9l-4.5-6.5z" fill="#75c"/><path d="M676.6 180.7l-5.7-4.3l-1.9-10l4.6-3.6l11.6 1.5l2.5 3.4l-0.4 4.2z" fill="#947"/><path d="M780.2 65.1l10.4 7.3l7.3-4l1.2-8l-4.7-6l-14.1 8.1z" fill="#224"/><path d="M897.9 146.7l13.7 10.4l-7.5 7.8l-7.4-1.6l-2.5-11.4z" fill="#356"/><path d="M953.8 111.9l4.2-15.1l63.5 3.9l-64.3 13.2z" fill="#953"/><path d="M723.6 447.3l-1.3 0.8l-10-4.2l-0.4-7.8l8.8-4.2l5.6 5.2z" fill="#436"/><path d="M797.7 308.3l12.4-0.8l0.2-0.3l0-3.6l-8.6-10.9l-8.6 2.1l-2.7 3.3z" fill="#885"/><path d="M902.6 341l1.1-10.7l-10.5-2l-6.6 7.1l1.6 5.4z" fill="#8d7"/><path d="M740.1 235.8l1.7-5.8l-8.5-8.9l-0.2 0l-7.1 3.8l0.5 12.4l1.2 0.6z" fill="#a7b"/><path d="M816.8 180.1l6.6 2.2l2.4 7.6l-6.7 8.8l-10.5-4.7l-0.2-1z" fill="#551"/><path d="M728.6 398.2l1.4 8.5l-6.1 4.6l-7.5-2.2l-3.7-8.1l1.4-2.4z" fill="#276"/><path d="M696.4 221.2l0.3 14.9l0.5 0.7l12 0.6l2.9-11.4l-11.6-6.6z" fill="#050505"/><path d="M779.8 214.8l-3.1 9.1l2.6 4.9l2.5 1.5l10.3-4.1l1.5-10l-7-4.1z" fill="#bb7"/><path d="M741.1 353l-6-5.9l-2.9 0.1l-6.5 12.4l0.1 1.3l3.6 3.3l9.2-0.9z" fill="#7db"/><path d="M782.5 198.8l-12.1 6.4l9.4 9.6l6.8-2.7l0.8-11.2z" fill="#984"/><path d="M765.2 370l-15.3-3.5l4.8-15.3l4.7-0.9l8.6 15.2z" fill="#552"/><path d="M870.8 38.6l1.7 1.5l9.8-9.1l10.5-326.7l-6.1-302.3l-28.6 582.6z" fill="#98d"/><path d="M735.8 452l0.7 4.7l-6.8 6.4l-8.4-1.3l-2.4-4.2l3.4-9.5l1.3-0.8z" fill="#a46"/><path d="M743.5 99.2l10.4-9.2l-1.3-4.3l-12.8-5.7l-3.5 2.1l1.8 15.8z" fill="#ba6"/><path d="M732.3 393.3l9.9 6.3l-2.2 11.2l-10-4.1l-1.4-8.5z" fill="#785"/><path d="M687.2 332.1l9.3 4.2l6.6-5.2l0-0.1l-6.3-11.6l-9.9 1.9l-0.2 0.3z" fill="#aa8"/><path d="M843.9 261.7l-3 5.2l3.7 11.4l1.7 0.3l13.4-7.2l0.2-2.4l-10.4-8.3z" fill="#050505"/><path d="M686.1 409.5l1.4 5l5.9 2.9l7.1-2.8l1-11.4l-11.4 0.2z" fill="#c33"/><path d="M635.8 196.4l3.9-5.7l6.5 0l5.3 4.7l-1.9 11.8l-12.8-5.2z" fill="#6cc"/><path d="M947.9 137.6l-3 1.8l-11.7-2.6l-1.2-1.4l8.7-14.3l0.2 0l8.5 9.6z" fill="#c55"/><path d="M819.6 373l0.5-7.2l-10.7-6.8l-0.3 0.1l-7.1 8.5l10 10.8l1.9-0.2z" fill="#cc9"/><path d="M920.3 85.1l11.5 0.4l-1.2 12.1l-9.6 2l-4.3-9.2z" fill="#399"/><path d="M719.1 194.8l8.8 0.2l4.6-10.1l-12.9-4.6l-3.8 5.6z" fill="#485"/><path d="M834.7 68.8l3.2 5.1l13.7 2.2l0.8-0.6l-3.9-14.3l-3.5-1.8z" fill="#9cb"/><path d="M812.3 133.7l1.4 1l4.5-1l4.7-9.7l-6.9-9l-7.2 6.9z" fill="#423"/><path d="M876.9 347.5l-7-9.2l8.3-7.6l8.4 4.7l1.6 5.4l-1.1 2.7z" fill="#d4d"/><path d="M816.8 271.9l-11 9.2l-10.4-7.2l1.9-7.2l9.7-4.3l9.6 8.8z" fill="#8aa"/><path d="M753.2 216.4l-2.2 1.3l-7.8-3.2l-2.6-11.3l6.4-4.9l8.1 8.8z" fill="#77b"/><path d="M736.9 311l8 7.4l-6.8 11.5l-4.7-0.7l-2.8-11.5z" fill="#684"/><path d="M752 349.8l-7.4-13.8l-0.4-0.1l-9.1 11.2l6 5.9z" fill="#925"/><path d="M834.6 449.9l-1.3-7.6l-11.8-3l-4.3 5.2l3.3 8.6l7.2 1.4z" fill="#385"/><path d="M804.3 209.5l16.5-2.8l1.4 1.2l0.2 10.3l-12.4 5.2l-6.5-11.5z" fill="#155"/><path d="M700.5 414.6l7.5 6.1l-4.2 9.5l-11.1-2.7l0.7-10.1z" fill="#ba7"/><path d="M636.1 315.9l-7.8-13.4l-9 9.9l7.6 11.9l8.6-4.6z" fill="#512"/><path d="M750.2 125.1l-11.1 2.1l-2.4-2.8l0.6-8.2l11.6-6.3l2.6 1.4l1.5 4.1z" fill="#a73"/><path d="M844.1 121l-8.5 7.1l-6.4-5.7l2.3-7.6l10.6-1.5z" fill="#298"/><path d="M880.7 190.3l-4.1-2.9l-10.1 3.6l0.9 12.3l11.3-1.5z" fill="#424"/><path d="M893.2 328.3l-2.4-9.4l-5.2-2.6l-0.3 0.1l-7.6 11.9l0.5 2.4l8.4 4.7z" fill="#89d"/><path d="M899.6 118.4l10.8-5.2l1.2-6.3l-6.9-5.4l-11.2 5.9z" fill="#724"/><path d="M819.7 53.3l3.9-10.1l-2.8-3.3l-13.9 4.3l4.9 10.4z" fill="#66c"/><path d="M676 394l8.5-0.5l8.1-7.6l-2-4l-14.2-6l-2.2 0.5l1.6 17.6z" fill="#237"/><path d="M776 470.1l-3.8 0.1l-6.9 6.7l-2.7 1010.6l29.1-976.7l-3.1-15.1z" fill="#457"/><path d="M852.1 186.1l-1.8-13.2l0.4-0.6l14.3 0.3l1.4 1.6l-6.6 13.3l-5.4 1z" fill="#050505"/><path d="M827.3 259.2l5.3 7.8l8.3-0.1l3-5.2l-6.8-10.7z" fill="#531"/><path d="M882.3 31l10.5-326.7l13.2 299.6l-6.7 28.5l-7.4 4.2z" fill="#563"/><path d="M940.7 121.1l-9.4-6.1l5.1-12.5l5-1.1l10.1 10.6l-10.6 9.1z" fill="#ac9"/><path d="M908 90.7l-3.4 3.6l-10.7-3.8l-0.4-10.9l5.5-4l2.8 0l2.5 1.4z" fill="#785"/><path d="M757.7 383.7l-3.2 0l-6 5.3l-0.1 7.6l4.5 2.9l10.8-4.2l0.1-5.6z" fill="#050505"/><path d="M915.2 187.9l-13.9-2.4l-2.4-5.4l7.4-7.5l7.8 2.3z" fill="#514"/><path d="M702.2 267.1l10.3 4.4l1.8 3.1l-3.8 4.1l-11 1.6l-4.1-8.4z" fill="#215"/><path d="M655.5 269.5l-10.8-1.9l-0.7 0.9l1.2 15.5l2.9 2l11.8-6.6l0.4-0.9z" fill="#627"/><path d="M765.8 457.8l-2.9-4.7l-10.4-1l-3.5 8.7l6.7 5.5l9.6-6.1z" fill="#c98"/><path d="M751.3 441.2l-0.1-11.1l-3.4-2l-11.4 3.9l-1.3 2.9l6.5 9.6l7.3-0.3z" fill="#653"/><path d="M826.9 64.7l-13.5 1.4l-4.2-7l2.6-4.5l7.9-1.3l7.2 9.4z" fill="#ac9"/><path d="M828.4 297.2l-4.7 12.9l-13.4-2.9l0-3.6l10.3-12.2z" fill="#247"/><path d="M611.3 263l-9.7-4.1l-700.9-26.8l-2802.5-21l-1975.3-3.4l-145701.6 119l47671.5 15.1l100568.6-13l2842.6-28.5l94.7-7.7l27.4-12.1z" fill="#a8a"/><path d="M845.1 136.7l0.6 7.1l9.5 1.7l6.6-8.6l-10.2-5.8z" fill="#346"/><path d="M890.6 126.8l-6.9 6l1.1 6.4l13.2 6.5l2-3.1l-4.6-16.1z" fill="#5ca"/><path d="M759.4 236.4l4.8 3.5l15.1-11.1l-2.6-4.9l-10.9-2.4l-6.9 13z" fill="#d49"/><path d="M793.8 140.7l-13.4 6.4l0.1 5.1l9.2 6.7l7.1-4.8l0.9-8.2z" fill="#758"/><path d="M823.4 258.7l-6.8 12.5l-9.6-8.8l2.1-7.1l11.5 0.1z" fill="#7b2"/><path d="M827.7 454.5l-7.2-1.4l-8.6 7.6l3.5 6.3l13.2 0.6z" fill="#943"/><path d="M837 337.6l6.6-9.1l-9.9-5l-7.1 7.8l1.5 5.2z" fill="#c67"/><path d="M843.3 54.3l8.3-9.9l8.2 7.8l0.1 5l-11.4 4l-3.5-1.8z" fill="#551"/><path d="M861.9 394l0.2-15.3l-5.8-4.8l-5.4 2.4l-2.7 11.2l10.8 7.3z" fill="#8b4"/><path d="M876.9 347.5l10.2-4l4.1 10.5l-9.6 6l-6.4-7.2z" fill="#7b2"/><path d="M633.5 270.3l-5-7.5l5.3-8.2l10.5 1.2l0.4 11.8l-0.7 0.9z" fill="#9bb"/><path d="M690.6 381.9l3.8-16.5l0.1-0.1l13.4 10.8l-4.1 7.7l-7.4 3l-3.8-0.9z" fill="#9a8"/><path d="M703.1 331l0 0.1l12.2 10.9l4.5-14.4l-4.3-6.4z" fill="#442"/><path d="M698.6 316.4l15.2-1.9l-6.2-14.5l-11.8 4.4z" fill="#523"/><path d="M786.9 337.9l-0.2-9.8l10.6-3.4l3 9.1l-3.4 4.6l-9.8-0.4z" fill="#848"/><path d="M691.1 149.7l-2.2 1.5l-13-2.6l2.2-11.8l6.1-1.9l8.2 11.5z" fill="#5aa"/><path d="M763.8 100.8l9.7-2.6l5.7 5.1l-5.8 13.6l-1 0.4l-9.4-13.9z" fill="#050505"/><path d="M658.8 355.5l0.4-1l-6.8-8.5l-4.9 0.2l-3.9 6.9l3.8 7.5z" fill="#35c"/><path d="M696 286.9l13.6 8.4l0.9-16.6l-11 1.6z" fill="#875"/><path d="M840.6 89.2l9.3-5.3l7.7 11.9l-1.5 1.9l-16.2-0.5z" fill="#050505"/><path d="M781.6 257.1l-10.8 0.2l-4.7 8.5l7.8 5l6.5-3.4z" fill="#8d7"/><path d="M679.7 189.1l-0.7 14.6l-13.3-1.2l-2-8.7l14.4-6.1z" fill="#050505"/><path d="M887.5 279.9l-8.8 1.5l-4 9.3l4.9 6.4l0 0l10-6.2z" fill="#050505"/><path d="M871.1 77.7l7.1 7.5l8.3-6.7l-4.7-8.9l-6.6 0.7z" fill="#315"/><path d="M790 468l7.8-4.4l5.6 13.5l-11.7 33.7l-3.1-15.1z" fill="#9c9"/><path d="M732 301.4l4-8.9l-4.5-7.7l-8.2 0.8l-4.4 9.2l7.9 6.7z" fill="#274"/><path d="M630.3 350.9l4.2-11.6l6.1-1.1l6.9 8l-3.9 6.9l-12.6-0.5z" fill="#a6c"/><path d="M723.9 411.3l2.7 9.3l-6.2 5l-9.8-5.6l5.8-10.9z" fill="#a2b"/><path d="M848.4 201.4l-4.3 7.7l-5.3 1.6l-7.8-4.9l2.9-11.4l2.6-0.6z" fill="#ca9"/><path d="M673.2 269.1l15.3 0.6l0.5 0.8l-4 11.8l-8.7-0.6l-5.1-6.9z" fill="#c6c"/><path d="M846.9 305.4l-6.5 4l-0.3 0.6l9.1 11.5l7.2-8.4l-1.2-5z" fill="#36a"/><path d="M768.8 204.9l-4.4 14.2l-11.2-2.7l1.9-9.3l12.7-3.1z" fill="#532"/><path d="M772.5 385.5l6.2 5.4l-1.5 9.4l-9.1 0.5l-4.4-5.5l0.1-5.6z" fill="#b59"/><path d="M792.6 389.9l5-7.4l-3.8-10.9l-8.9 1.8l-1.7 3.1l3.9 11z" fill="#c6a"/><path d="M706.7 447.7l5.6-3.8l-0.4-7.8l-7.6-4.3l-6.1 10.6z" fill="#635"/><path d="M856.4 120.9l0.1-11.3l-1.2-1.3l-12.2 2.8l-1 2.2l2 7.7l7 3.9z" fill="#432"/><path d="M868.5 62.3l6.8-6.1l11 5.4l-4.5 8l-6.6 0.7z" fill="#548"/><path d="M746 372.1l-11.1 11.5l0 0l13.6 5.4l6-5.3z" fill="#a97"/><path d="M783.8 312.1l-10.8-1.1l-3.1 7.6l5.8 6.9l6.8-0.7l2.9-10.5z" fill="#594"/><path d="M958.6 144.2l-1.2 4.5l-8.2 4.6l-6-3.7l1.7-10.2l3-1.8z" fill="#438"/><path d="M797.7 145.9l-0.9 8.2l10.3 6.4l4.6-2l2.1-7.5l-2.8-5.6z" fill="#427"/><path d="M675.5 322.4l-2 9.2l-8 0.5l-3.9-8.3l7.4-7.9z" fill="#c39"/><path d="M703 161.8l15.4 4l1.1 2.2l-1.8 4.7l-13.9 3.8l-2.8-11.6z" fill="#c76"/><path d="M876.8 403.6l-6 2.5l-7-11.4l14.7-7.1l2.5 3.7z" fill="#98d"/><path d="M816.1 113l11.4-2.9l2.2-10.4l-1.8-1.3l-13.9 2.9l-1 7z" fill="#4c3"/><path d="M825.5 85.3l-3.3-7.6l-13-1.7l-0.8 0.6l3.9 13.1l12.4-2.8z" fill="#694"/><path d="M658.8 355.5l0.4-1l6.1-3.1l10.2 5.8l-6.4 10l-6.8-2z" fill="#b32"/><path d="M726.8 110l-5.4 6.2l6 8.4l9.3-0.2l0.6-8.2l-7.8-6.6z" fill="#295"/><path d="M677.6 407.2l8.5 2.3l1.4 5l-9.1 8l-6.5-10.2z" fill="#050505"/><path d="M861.9 94.4l11.3 10.7l1.5-0.7l4.8-12.8l-1.8-2.9l-13.9 3.1z" fill="#9d8"/><path d="M650.4 393.2l4.1-14.2l6.6 2.1l4.5 14.6l-0.7 0.6l-13.2-1.1z" fill="#ca3"/><path d="M717.5 116.8l-5.8 10.7l-11.3-6l1.9-7.1l9.6-2.3z" fill="#774"/><path d="M805.1 438.8l0.5 4.2l11.6 1.5l4.3-5.2l-1.7-10l-5.2-1.4z" fill="#c33"/><path d="M697.2 236.8l-0.5-0.7l-14.8-4.3l-3.1 12.3l2.3 3.9l13.9-6.3z" fill="#79a"/><path d="M737.7 252.6l0.6 3.9l-8.3 12l-0.4-0.1l-9.1-12.5l0.8-1.7l11.3-3.9z" fill="#457"/><path d="M714.2 199.9l4.9-5.1l-3.3-8.9l-10.6 0.4l-0.4 10.8z" fill="#267"/><path d="M901.8 75.6l-2.8 0l-8.6-15.6l0.4-0.6l18-0.5z" fill="#364"/><path d="M880.1 159.8l10.6 8.2l-0.7 6.5l-15.2 0.8l4-14.8z" fill="#c76"/><path d="M738.3 133.7l-6.1 5.1l2.1 10l11.1-1.1l1.3-7.8z" fill="#551"/><path d="M768.6 169.8l-6.7-5.3l1.2-9.7l11.6 2.9l0.1 10.3z" fill="#485"/><path d="M867.3 364.4l-0.8-9.1l-3.5-2l-10.1 6.7l3.9 12.2z" fill="#693"/><path d="M800.3 333.8l10.8 1.3l1.7 6.4l-12.1 6.3l-3.8-9.4z" fill="#693"/><path d="M651.9 332.4l3.2-8.7l-3.3-3.7l-11 2.8l3 10.9z" fill="#933"/><path d="M847.8 295.9l-0.9 9.5l-6.5 4l-7.1-12.6l4.4-4.3z" fill="#a43"/><path d="M748.9 167.5l-6.1 17.3l0.3 0.2l14.9-2.6l1.9-2.4l-7.5-11.4z" fill="#762"/>
<path d="M771.6 295.3l8.3 1.4M771.6 295.3l-0.8 8.6M771.6 295.3l7.1 -1.6M771.6 295.3l-1.7 7.9" fill="none" stroke="#fff" stroke-width="1.3" stroke-linecap="round"/>
<path d="M770.2 311.1l-4.1 4.4M770.2 311.1l5.3 6.4M770.2 311.1l-3.3 -3.6M770.2 311.1l-1.6 7.1" fill="none" stroke="#fff" stroke-width="1.3" stroke-linecap="round"/>
<path d="M784.5 356.9l-5.0 2.6M784.5 356.9l3.7 -7.3M784.5 356.9l-3.4 3.3M784.5 356.9l-6.5 -0.2" fill="none" stroke="#fff" stroke-width="1.3" stroke-linecap="round"/>
<path d="M718.6 372.7l-0.3 8.3M718.6 372.7l-4.4 6.7M718.6 372.7l-4.6 -1.9M718.6 372.7l7.3 -2.3" fill="none" stroke="#fff" stroke-width="1.3" stroke-linecap="round"/>
<path d="M810.3 120.4l-5.9 6.5M810.3 120.4l-4.7 6.8M810.3 120.4l6.9 -5.1M810.3 120.4l-4.3 -1.5" fill="none" stroke="#fff" stroke-width="1.3" stroke-linecap="round"/>
<path d="M850.4 134.7l-5.7 -0.3M850.4 134.7l-4.6 -4.9M850.4 134.7l1.5 -7.8M850.4 134.7l-0.6 8.3" fill="none" stroke="#fff" stroke-width="1.3" stroke-linecap="round"/>
<path d="M741.5 183.5l2.9 -5.5M741.5 183.5l4.9 -7.5M741.5 183.5l7.5 1.7M741.5 183.5l-6.3 -4.9" fill="none" stroke="#fff" stroke-width="1.3" stroke-linecap="round"/>
<path d="M644.0 286.7l2.3 -6.3M644.0 286.7l-5.0 6.9M644.0 286.7l4.3 4.3M644.0 286.7l-1.4 3.8" fill="none" stroke="#fff" stroke-width="1.3" stroke-linecap="round"/>
</g>
<rect x="873.4" y="466.7" width="103.8" height="4.9" fill="#fff"/>
<text x="51" y="93.5" font-size="48" text-anchor="start" font-family="'Liberation Sans', 'DejaVu Sans', sans-serif" font-weight="bold">a</text>
</g>
</svg></body></html>
